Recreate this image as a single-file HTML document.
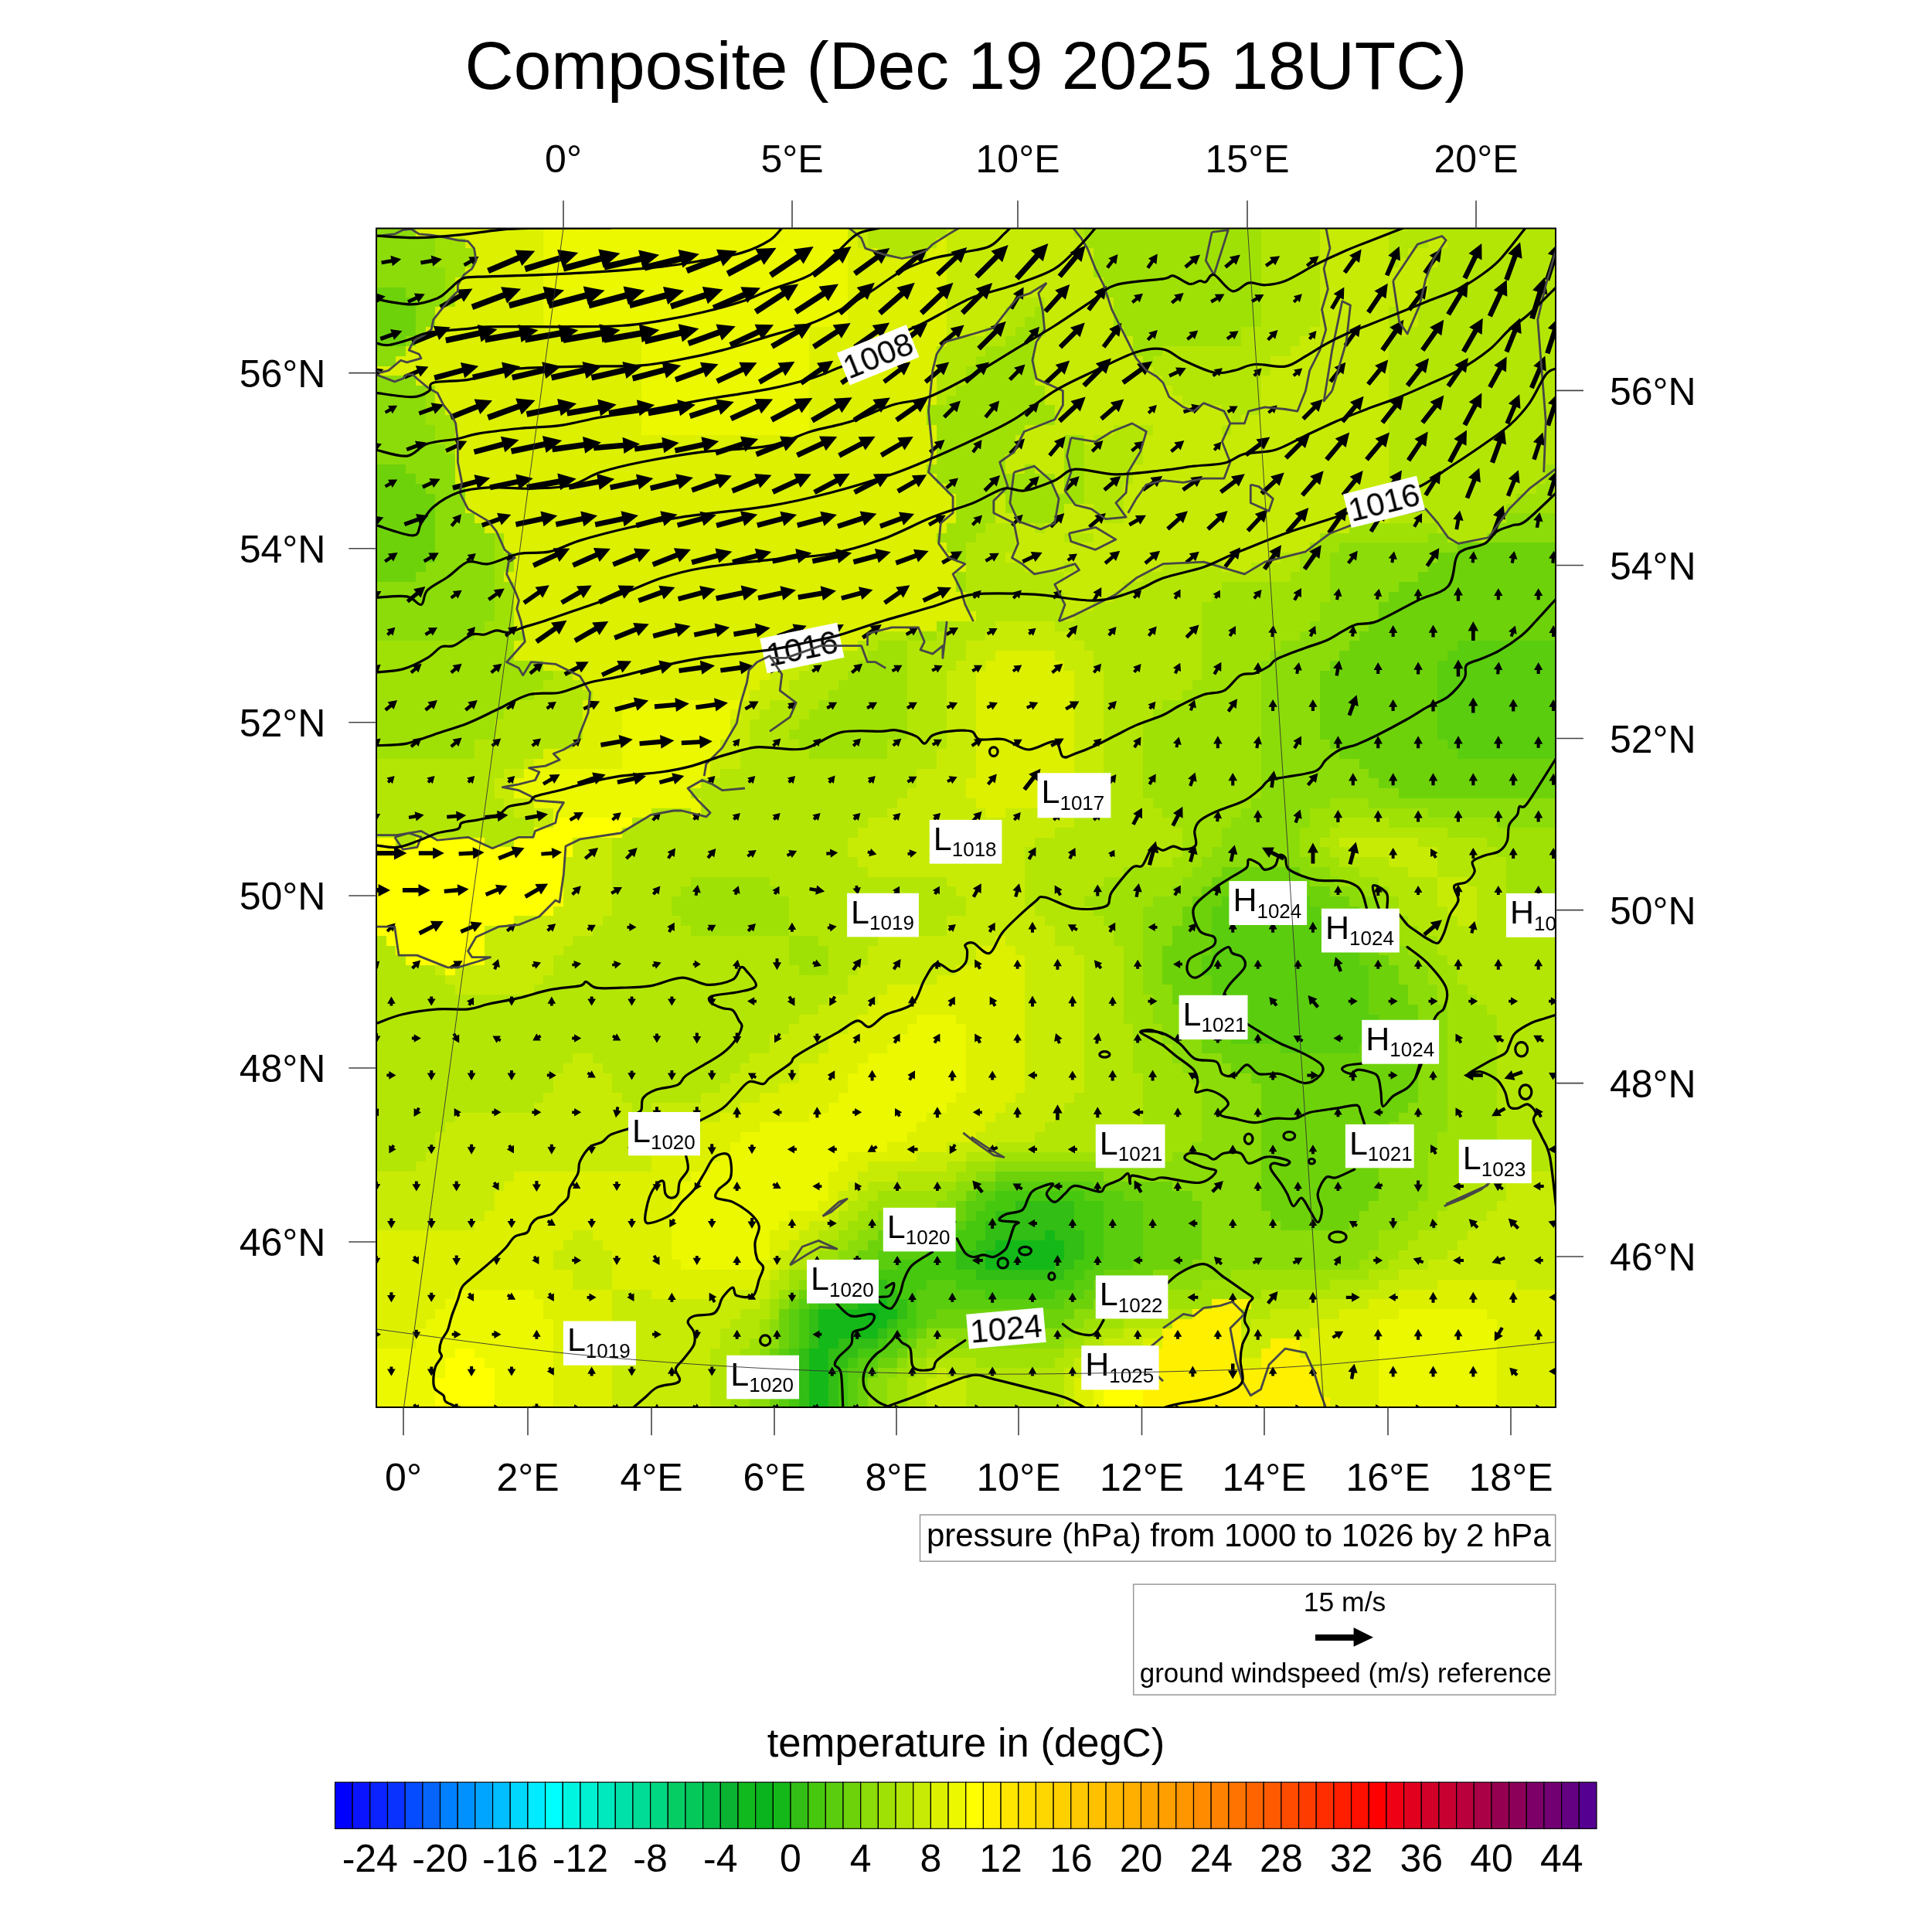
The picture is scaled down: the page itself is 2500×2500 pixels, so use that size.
<!DOCTYPE html><html><head><meta charset="utf-8"><style>html,body{margin:0;padding:0;background:#fff;width:2500px;height:2500px;overflow:hidden}svg{display:block}text{font-family:"Liberation Sans", sans-serif;will-change:transform}</style></head><body>
<svg width="2500" height="2500" viewBox="0 0 2500 2500">
<rect width="2500" height="2500" fill="#fff"/>
<text x="1250" y="115" font-size="87.4" text-anchor="middle">Composite (Dec 19 2025 18UTC)</text>
<defs><clipPath id="mc"><rect x="487.0" y="295.5" width="1526.0" height="1525.5"/></clipPath></defs>
<g clip-path="url(#mc)" shape-rendering="crispEdges">
<rect x="487.0" y="295.5" width="51.5" height="13.3" fill="#8cdc0a"/>
<rect x="537.9" y="295.5" width="165.9" height="13.3" fill="#dcf000"/>
<rect x="703.2" y="295.5" width="394.8" height="13.3" fill="#ebf800"/>
<rect x="1097.4" y="295.5" width="26.0" height="13.3" fill="#c8eb05"/>
<rect x="1122.8" y="295.5" width="102.3" height="13.3" fill="#b4e605"/>
<rect x="1224.6" y="295.5" width="165.9" height="13.3" fill="#c8eb05"/>
<rect x="1389.9" y="295.5" width="13.3" height="13.3" fill="#b4e605"/>
<rect x="1402.6" y="295.5" width="229.5" height="13.3" fill="#a0e105"/>
<rect x="1631.5" y="295.5" width="76.9" height="13.3" fill="#b4e605"/>
<rect x="1707.8" y="295.5" width="89.6" height="13.3" fill="#c8eb05"/>
<rect x="1796.8" y="295.5" width="216.8" height="13.3" fill="#b4e605"/>
<rect x="487.0" y="308.2" width="76.9" height="13.3" fill="#8cdc0a"/>
<rect x="563.3" y="308.2" width="38.8" height="13.3" fill="#a0e105"/>
<rect x="601.5" y="308.2" width="102.3" height="13.3" fill="#dcf000"/>
<rect x="703.2" y="308.2" width="394.8" height="13.3" fill="#ebf800"/>
<rect x="1097.4" y="308.2" width="13.3" height="13.3" fill="#dcf000"/>
<rect x="1110.1" y="308.2" width="13.3" height="13.3" fill="#c8eb05"/>
<rect x="1122.8" y="308.2" width="89.6" height="13.3" fill="#b4e605"/>
<rect x="1211.8" y="308.2" width="13.3" height="13.3" fill="#dcf000"/>
<rect x="1224.6" y="308.2" width="178.6" height="13.3" fill="#c8eb05"/>
<rect x="1402.6" y="308.2" width="229.5" height="13.3" fill="#a0e105"/>
<rect x="1631.5" y="308.2" width="76.9" height="13.3" fill="#b4e605"/>
<rect x="1707.8" y="308.2" width="89.6" height="13.3" fill="#c8eb05"/>
<rect x="1796.8" y="308.2" width="51.5" height="13.3" fill="#b4e605"/>
<rect x="1847.7" y="308.2" width="26.0" height="13.3" fill="#c8eb05"/>
<rect x="1873.1" y="308.2" width="140.5" height="13.3" fill="#b4e605"/>
<rect x="487.0" y="320.9" width="76.9" height="13.3" fill="#8cdc0a"/>
<rect x="563.3" y="320.9" width="51.5" height="13.3" fill="#a0e105"/>
<rect x="614.2" y="320.9" width="89.6" height="13.3" fill="#dcf000"/>
<rect x="703.2" y="320.9" width="394.8" height="13.3" fill="#ebf800"/>
<rect x="1097.4" y="320.9" width="38.8" height="13.3" fill="#dcf000"/>
<rect x="1135.5" y="320.9" width="64.2" height="13.3" fill="#b4e605"/>
<rect x="1199.1" y="320.9" width="26.0" height="13.3" fill="#dcf000"/>
<rect x="1224.6" y="320.9" width="191.3" height="13.3" fill="#c8eb05"/>
<rect x="1415.3" y="320.9" width="216.8" height="13.3" fill="#a0e105"/>
<rect x="1631.5" y="320.9" width="76.9" height="13.3" fill="#b4e605"/>
<rect x="1707.8" y="320.9" width="89.6" height="13.3" fill="#c8eb05"/>
<rect x="1796.8" y="320.9" width="26.0" height="13.3" fill="#b4e605"/>
<rect x="1822.2" y="320.9" width="38.8" height="13.3" fill="#c8eb05"/>
<rect x="1860.4" y="320.9" width="153.2" height="13.3" fill="#b4e605"/>
<rect x="487.0" y="333.6" width="76.9" height="13.3" fill="#8cdc0a"/>
<rect x="563.3" y="333.6" width="51.5" height="13.3" fill="#a0e105"/>
<rect x="614.2" y="333.6" width="89.6" height="13.3" fill="#dcf000"/>
<rect x="703.2" y="333.6" width="394.8" height="13.3" fill="#ebf800"/>
<rect x="1097.4" y="333.6" width="127.8" height="13.3" fill="#dcf000"/>
<rect x="1224.6" y="333.6" width="191.3" height="13.3" fill="#c8eb05"/>
<rect x="1415.3" y="333.6" width="216.8" height="13.3" fill="#a0e105"/>
<rect x="1631.5" y="333.6" width="76.9" height="13.3" fill="#b4e605"/>
<rect x="1707.8" y="333.6" width="89.6" height="13.3" fill="#c8eb05"/>
<rect x="1796.8" y="333.6" width="13.3" height="13.3" fill="#b4e605"/>
<rect x="1809.5" y="333.6" width="51.5" height="13.3" fill="#c8eb05"/>
<rect x="1860.4" y="333.6" width="153.2" height="13.3" fill="#b4e605"/>
<rect x="487.0" y="346.4" width="89.6" height="13.3" fill="#8cdc0a"/>
<rect x="576.0" y="346.4" width="26.0" height="13.3" fill="#a0e105"/>
<rect x="601.5" y="346.4" width="102.3" height="13.3" fill="#dcf000"/>
<rect x="703.2" y="346.4" width="394.8" height="13.3" fill="#ebf800"/>
<rect x="1097.4" y="346.4" width="127.8" height="13.3" fill="#dcf000"/>
<rect x="1224.6" y="346.4" width="191.3" height="13.3" fill="#c8eb05"/>
<rect x="1415.3" y="346.4" width="216.8" height="13.3" fill="#a0e105"/>
<rect x="1631.5" y="346.4" width="76.9" height="13.3" fill="#b4e605"/>
<rect x="1707.8" y="346.4" width="140.5" height="13.3" fill="#c8eb05"/>
<rect x="1847.7" y="346.4" width="165.9" height="13.3" fill="#b4e605"/>
<rect x="487.0" y="359.1" width="89.6" height="13.3" fill="#8cdc0a"/>
<rect x="576.0" y="359.1" width="13.3" height="13.3" fill="#a0e105"/>
<rect x="588.7" y="359.1" width="115.0" height="13.3" fill="#dcf000"/>
<rect x="703.2" y="359.1" width="394.8" height="13.3" fill="#ebf800"/>
<rect x="1097.4" y="359.1" width="127.8" height="13.3" fill="#dcf000"/>
<rect x="1224.6" y="359.1" width="204.1" height="13.3" fill="#c8eb05"/>
<rect x="1428.0" y="359.1" width="204.1" height="13.3" fill="#a0e105"/>
<rect x="1631.5" y="359.1" width="76.9" height="13.3" fill="#b4e605"/>
<rect x="1707.8" y="359.1" width="140.5" height="13.3" fill="#c8eb05"/>
<rect x="1847.7" y="359.1" width="165.9" height="13.3" fill="#b4e605"/>
<rect x="487.0" y="371.8" width="38.8" height="13.3" fill="#6ed20a"/>
<rect x="525.1" y="371.8" width="51.5" height="13.3" fill="#8cdc0a"/>
<rect x="576.0" y="371.8" width="13.3" height="13.3" fill="#a0e105"/>
<rect x="588.7" y="371.8" width="115.0" height="13.3" fill="#dcf000"/>
<rect x="703.2" y="371.8" width="394.8" height="13.3" fill="#ebf800"/>
<rect x="1097.4" y="371.8" width="127.8" height="13.3" fill="#dcf000"/>
<rect x="1224.6" y="371.8" width="204.1" height="13.3" fill="#c8eb05"/>
<rect x="1428.0" y="371.8" width="204.1" height="13.3" fill="#a0e105"/>
<rect x="1631.5" y="371.8" width="76.9" height="13.3" fill="#b4e605"/>
<rect x="1707.8" y="371.8" width="140.5" height="13.3" fill="#c8eb05"/>
<rect x="1847.7" y="371.8" width="165.9" height="13.3" fill="#b4e605"/>
<rect x="487.0" y="384.5" width="51.5" height="13.3" fill="#6ed20a"/>
<rect x="537.9" y="384.5" width="38.8" height="13.3" fill="#8cdc0a"/>
<rect x="576.0" y="384.5" width="13.3" height="13.3" fill="#a0e105"/>
<rect x="588.7" y="384.5" width="115.0" height="13.3" fill="#dcf000"/>
<rect x="703.2" y="384.5" width="394.8" height="13.3" fill="#ebf800"/>
<rect x="1097.4" y="384.5" width="127.8" height="13.3" fill="#dcf000"/>
<rect x="1224.6" y="384.5" width="89.6" height="13.3" fill="#c8eb05"/>
<rect x="1313.6" y="384.5" width="38.8" height="13.3" fill="#b4e605"/>
<rect x="1351.7" y="384.5" width="89.6" height="13.3" fill="#c8eb05"/>
<rect x="1440.8" y="384.5" width="191.3" height="13.3" fill="#a0e105"/>
<rect x="1631.5" y="384.5" width="76.9" height="13.3" fill="#b4e605"/>
<rect x="1707.8" y="384.5" width="127.8" height="13.3" fill="#c8eb05"/>
<rect x="1835.0" y="384.5" width="178.6" height="13.3" fill="#b4e605"/>
<rect x="487.0" y="397.2" width="51.5" height="13.3" fill="#6ed20a"/>
<rect x="537.9" y="397.2" width="26.0" height="13.3" fill="#8cdc0a"/>
<rect x="563.3" y="397.2" width="140.5" height="13.3" fill="#dcf000"/>
<rect x="703.2" y="397.2" width="394.8" height="13.3" fill="#ebf800"/>
<rect x="1097.4" y="397.2" width="127.8" height="13.3" fill="#dcf000"/>
<rect x="1224.6" y="397.2" width="76.9" height="13.3" fill="#c8eb05"/>
<rect x="1300.9" y="397.2" width="38.8" height="13.3" fill="#b4e605"/>
<rect x="1339.0" y="397.2" width="13.3" height="13.3" fill="#a0e105"/>
<rect x="1351.7" y="397.2" width="89.6" height="13.3" fill="#c8eb05"/>
<rect x="1440.8" y="397.2" width="191.3" height="13.3" fill="#a0e105"/>
<rect x="1631.5" y="397.2" width="76.9" height="13.3" fill="#b4e605"/>
<rect x="1707.8" y="397.2" width="89.6" height="13.3" fill="#c8eb05"/>
<rect x="1796.8" y="397.2" width="13.3" height="13.3" fill="#b4e605"/>
<rect x="1809.5" y="397.2" width="26.0" height="13.3" fill="#c8eb05"/>
<rect x="1835.0" y="397.2" width="178.6" height="13.3" fill="#b4e605"/>
<rect x="487.0" y="409.9" width="51.5" height="13.3" fill="#6ed20a"/>
<rect x="537.9" y="409.9" width="26.0" height="13.3" fill="#8cdc0a"/>
<rect x="563.3" y="409.9" width="140.5" height="13.3" fill="#dcf000"/>
<rect x="703.2" y="409.9" width="394.8" height="13.3" fill="#ebf800"/>
<rect x="1097.4" y="409.9" width="127.8" height="13.3" fill="#dcf000"/>
<rect x="1224.6" y="409.9" width="76.9" height="13.3" fill="#c8eb05"/>
<rect x="1300.9" y="409.9" width="26.0" height="13.3" fill="#b4e605"/>
<rect x="1326.3" y="409.9" width="26.0" height="13.3" fill="#a0e105"/>
<rect x="1351.7" y="409.9" width="89.6" height="13.3" fill="#c8eb05"/>
<rect x="1440.8" y="409.9" width="191.3" height="13.3" fill="#a0e105"/>
<rect x="1631.5" y="409.9" width="76.9" height="13.3" fill="#b4e605"/>
<rect x="1707.8" y="409.9" width="89.6" height="13.3" fill="#c8eb05"/>
<rect x="1796.8" y="409.9" width="13.3" height="13.3" fill="#b4e605"/>
<rect x="1809.5" y="409.9" width="26.0" height="13.3" fill="#c8eb05"/>
<rect x="1835.0" y="409.9" width="178.6" height="13.3" fill="#b4e605"/>
<rect x="487.0" y="422.6" width="51.5" height="13.3" fill="#6ed20a"/>
<rect x="537.9" y="422.6" width="13.3" height="13.3" fill="#8cdc0a"/>
<rect x="550.6" y="422.6" width="280.4" height="13.3" fill="#dcf000"/>
<rect x="830.4" y="422.6" width="216.8" height="13.3" fill="#ebf800"/>
<rect x="1046.5" y="422.6" width="178.6" height="13.3" fill="#dcf000"/>
<rect x="1224.6" y="422.6" width="51.5" height="13.3" fill="#c8eb05"/>
<rect x="1275.4" y="422.6" width="38.8" height="13.3" fill="#b4e605"/>
<rect x="1313.6" y="422.6" width="38.8" height="13.3" fill="#a0e105"/>
<rect x="1351.7" y="422.6" width="102.3" height="13.3" fill="#c8eb05"/>
<rect x="1453.5" y="422.6" width="153.2" height="13.3" fill="#a0e105"/>
<rect x="1606.1" y="422.6" width="89.6" height="13.3" fill="#b4e605"/>
<rect x="1695.1" y="422.6" width="102.3" height="13.3" fill="#c8eb05"/>
<rect x="1796.8" y="422.6" width="13.3" height="13.3" fill="#b4e605"/>
<rect x="1809.5" y="422.6" width="13.3" height="13.3" fill="#c8eb05"/>
<rect x="1822.2" y="422.6" width="191.3" height="13.3" fill="#b4e605"/>
<rect x="487.0" y="435.3" width="38.8" height="13.3" fill="#6ed20a"/>
<rect x="525.1" y="435.3" width="13.3" height="13.3" fill="#8cdc0a"/>
<rect x="537.9" y="435.3" width="293.1" height="13.3" fill="#dcf000"/>
<rect x="830.4" y="435.3" width="216.8" height="13.3" fill="#ebf800"/>
<rect x="1046.5" y="435.3" width="178.6" height="13.3" fill="#dcf000"/>
<rect x="1224.6" y="435.3" width="76.9" height="13.3" fill="#b4e605"/>
<rect x="1300.9" y="435.3" width="38.8" height="13.3" fill="#a0e105"/>
<rect x="1339.0" y="435.3" width="127.8" height="13.3" fill="#c8eb05"/>
<rect x="1466.2" y="435.3" width="140.5" height="13.3" fill="#a0e105"/>
<rect x="1606.1" y="435.3" width="76.9" height="13.3" fill="#b4e605"/>
<rect x="1682.4" y="435.3" width="115.0" height="13.3" fill="#c8eb05"/>
<rect x="1796.8" y="435.3" width="216.8" height="13.3" fill="#b4e605"/>
<rect x="487.0" y="448.1" width="38.8" height="13.3" fill="#8cdc0a"/>
<rect x="525.1" y="448.1" width="305.8" height="13.3" fill="#dcf000"/>
<rect x="830.4" y="448.1" width="216.8" height="13.3" fill="#ebf800"/>
<rect x="1046.5" y="448.1" width="165.9" height="13.3" fill="#dcf000"/>
<rect x="1211.8" y="448.1" width="64.2" height="13.3" fill="#b4e605"/>
<rect x="1275.4" y="448.1" width="64.2" height="13.3" fill="#a0e105"/>
<rect x="1339.0" y="448.1" width="127.8" height="13.3" fill="#c8eb05"/>
<rect x="1466.2" y="448.1" width="38.8" height="13.3" fill="#a0e105"/>
<rect x="1504.3" y="448.1" width="165.9" height="13.3" fill="#b4e605"/>
<rect x="1669.7" y="448.1" width="127.8" height="13.3" fill="#c8eb05"/>
<rect x="1796.8" y="448.1" width="216.8" height="13.3" fill="#b4e605"/>
<rect x="487.0" y="460.8" width="26.0" height="13.3" fill="#8cdc0a"/>
<rect x="512.4" y="460.8" width="318.5" height="13.3" fill="#dcf000"/>
<rect x="830.4" y="460.8" width="216.8" height="13.3" fill="#ebf800"/>
<rect x="1046.5" y="460.8" width="165.9" height="13.3" fill="#dcf000"/>
<rect x="1211.8" y="460.8" width="51.5" height="13.3" fill="#b4e605"/>
<rect x="1262.7" y="460.8" width="76.9" height="13.3" fill="#a0e105"/>
<rect x="1339.0" y="460.8" width="140.5" height="13.3" fill="#c8eb05"/>
<rect x="1478.9" y="460.8" width="13.3" height="13.3" fill="#a0e105"/>
<rect x="1491.6" y="460.8" width="153.2" height="13.3" fill="#b4e605"/>
<rect x="1644.2" y="460.8" width="153.2" height="13.3" fill="#c8eb05"/>
<rect x="1796.8" y="460.8" width="216.8" height="13.3" fill="#b4e605"/>
<rect x="487.0" y="473.5" width="344.0" height="13.3" fill="#dcf000"/>
<rect x="830.4" y="473.5" width="216.8" height="13.3" fill="#ebf800"/>
<rect x="1046.5" y="473.5" width="165.9" height="13.3" fill="#dcf000"/>
<rect x="1211.8" y="473.5" width="38.8" height="13.3" fill="#b4e605"/>
<rect x="1250.0" y="473.5" width="89.6" height="13.3" fill="#a0e105"/>
<rect x="1339.0" y="473.5" width="153.2" height="13.3" fill="#c8eb05"/>
<rect x="1491.6" y="473.5" width="153.2" height="13.3" fill="#b4e605"/>
<rect x="1644.2" y="473.5" width="153.2" height="13.3" fill="#c8eb05"/>
<rect x="1796.8" y="473.5" width="216.8" height="13.3" fill="#b4e605"/>
<rect x="487.0" y="486.2" width="51.5" height="13.3" fill="#8cdc0a"/>
<rect x="537.9" y="486.2" width="293.1" height="13.3" fill="#dcf000"/>
<rect x="830.4" y="486.2" width="216.8" height="13.3" fill="#ebf800"/>
<rect x="1046.5" y="486.2" width="165.9" height="13.3" fill="#dcf000"/>
<rect x="1211.8" y="486.2" width="38.8" height="13.3" fill="#b4e605"/>
<rect x="1250.0" y="486.2" width="89.6" height="13.3" fill="#a0e105"/>
<rect x="1339.0" y="486.2" width="165.9" height="13.3" fill="#c8eb05"/>
<rect x="1504.3" y="486.2" width="127.8" height="13.3" fill="#b4e605"/>
<rect x="1631.5" y="486.2" width="165.9" height="13.3" fill="#c8eb05"/>
<rect x="1796.8" y="486.2" width="216.8" height="13.3" fill="#b4e605"/>
<rect x="487.0" y="498.9" width="64.2" height="13.3" fill="#8cdc0a"/>
<rect x="550.6" y="498.9" width="13.3" height="13.3" fill="#a0e105"/>
<rect x="563.3" y="498.9" width="267.7" height="13.3" fill="#dcf000"/>
<rect x="830.4" y="498.9" width="216.8" height="13.3" fill="#ebf800"/>
<rect x="1046.5" y="498.9" width="165.9" height="13.3" fill="#dcf000"/>
<rect x="1211.8" y="498.9" width="26.0" height="13.3" fill="#b4e605"/>
<rect x="1237.3" y="498.9" width="115.0" height="13.3" fill="#a0e105"/>
<rect x="1351.7" y="498.9" width="165.9" height="13.3" fill="#c8eb05"/>
<rect x="1517.0" y="498.9" width="115.0" height="13.3" fill="#b4e605"/>
<rect x="1631.5" y="498.9" width="165.9" height="13.3" fill="#c8eb05"/>
<rect x="1796.8" y="498.9" width="216.8" height="13.3" fill="#b4e605"/>
<rect x="487.0" y="511.6" width="64.2" height="13.3" fill="#8cdc0a"/>
<rect x="550.6" y="511.6" width="13.3" height="13.3" fill="#a0e105"/>
<rect x="563.3" y="511.6" width="267.7" height="13.3" fill="#dcf000"/>
<rect x="830.4" y="511.6" width="216.8" height="13.3" fill="#ebf800"/>
<rect x="1046.5" y="511.6" width="165.9" height="13.3" fill="#dcf000"/>
<rect x="1211.8" y="511.6" width="13.3" height="13.3" fill="#b4e605"/>
<rect x="1224.6" y="511.6" width="127.8" height="13.3" fill="#a0e105"/>
<rect x="1351.7" y="511.6" width="178.6" height="13.3" fill="#c8eb05"/>
<rect x="1529.8" y="511.6" width="102.3" height="13.3" fill="#b4e605"/>
<rect x="1631.5" y="511.6" width="165.9" height="13.3" fill="#c8eb05"/>
<rect x="1796.8" y="511.6" width="216.8" height="13.3" fill="#b4e605"/>
<rect x="487.0" y="524.3" width="64.2" height="13.3" fill="#8cdc0a"/>
<rect x="550.6" y="524.3" width="26.0" height="13.3" fill="#a0e105"/>
<rect x="576.0" y="524.3" width="254.9" height="13.3" fill="#dcf000"/>
<rect x="830.4" y="524.3" width="216.8" height="13.3" fill="#ebf800"/>
<rect x="1046.5" y="524.3" width="153.2" height="13.3" fill="#dcf000"/>
<rect x="1199.1" y="524.3" width="165.9" height="13.3" fill="#a0e105"/>
<rect x="1364.5" y="524.3" width="216.8" height="13.3" fill="#c8eb05"/>
<rect x="1580.6" y="524.3" width="51.5" height="13.3" fill="#b4e605"/>
<rect x="1631.5" y="524.3" width="165.9" height="13.3" fill="#c8eb05"/>
<rect x="1796.8" y="524.3" width="216.8" height="13.3" fill="#b4e605"/>
<rect x="487.0" y="537.0" width="64.2" height="13.3" fill="#8cdc0a"/>
<rect x="550.6" y="537.0" width="38.8" height="13.3" fill="#a0e105"/>
<rect x="588.7" y="537.0" width="242.2" height="13.3" fill="#dcf000"/>
<rect x="830.4" y="537.0" width="216.8" height="13.3" fill="#ebf800"/>
<rect x="1046.5" y="537.0" width="153.2" height="13.3" fill="#dcf000"/>
<rect x="1199.1" y="537.0" width="165.9" height="13.3" fill="#a0e105"/>
<rect x="1364.5" y="537.0" width="229.5" height="13.3" fill="#c8eb05"/>
<rect x="1593.3" y="537.0" width="13.3" height="13.3" fill="#b4e605"/>
<rect x="1606.1" y="537.0" width="191.3" height="13.3" fill="#c8eb05"/>
<rect x="1796.8" y="537.0" width="216.8" height="13.3" fill="#b4e605"/>
<rect x="487.0" y="549.8" width="76.9" height="13.3" fill="#8cdc0a"/>
<rect x="563.3" y="549.8" width="26.0" height="13.3" fill="#a0e105"/>
<rect x="588.7" y="549.8" width="242.2" height="13.3" fill="#dcf000"/>
<rect x="830.4" y="549.8" width="216.8" height="13.3" fill="#ebf800"/>
<rect x="1046.5" y="549.8" width="165.9" height="13.3" fill="#dcf000"/>
<rect x="1211.8" y="549.8" width="115.0" height="13.3" fill="#a0e105"/>
<rect x="1326.3" y="549.8" width="115.0" height="13.3" fill="#c8eb05"/>
<rect x="1440.8" y="549.8" width="51.5" height="13.3" fill="#b4e605"/>
<rect x="1491.6" y="549.8" width="89.6" height="13.3" fill="#c8eb05"/>
<rect x="1580.6" y="549.8" width="13.3" height="13.3" fill="#b4e605"/>
<rect x="1593.3" y="549.8" width="204.1" height="13.3" fill="#c8eb05"/>
<rect x="1796.8" y="549.8" width="216.8" height="13.3" fill="#b4e605"/>
<rect x="487.0" y="562.5" width="76.9" height="13.3" fill="#8cdc0a"/>
<rect x="563.3" y="562.5" width="26.0" height="13.3" fill="#a0e105"/>
<rect x="588.7" y="562.5" width="623.7" height="13.3" fill="#dcf000"/>
<rect x="1211.8" y="562.5" width="102.3" height="13.3" fill="#a0e105"/>
<rect x="1313.6" y="562.5" width="64.2" height="13.3" fill="#c8eb05"/>
<rect x="1377.2" y="562.5" width="26.0" height="13.3" fill="#a0e105"/>
<rect x="1402.6" y="562.5" width="13.3" height="13.3" fill="#c8eb05"/>
<rect x="1415.3" y="562.5" width="64.2" height="13.3" fill="#b4e605"/>
<rect x="1478.9" y="562.5" width="318.5" height="13.3" fill="#c8eb05"/>
<rect x="1796.8" y="562.5" width="216.8" height="13.3" fill="#b4e605"/>
<rect x="487.0" y="575.2" width="89.6" height="13.3" fill="#8cdc0a"/>
<rect x="576.0" y="575.2" width="13.3" height="13.3" fill="#a0e105"/>
<rect x="588.7" y="575.2" width="623.7" height="13.3" fill="#dcf000"/>
<rect x="1211.8" y="575.2" width="102.3" height="13.3" fill="#a0e105"/>
<rect x="1313.6" y="575.2" width="64.2" height="13.3" fill="#c8eb05"/>
<rect x="1377.2" y="575.2" width="26.0" height="13.3" fill="#a0e105"/>
<rect x="1402.6" y="575.2" width="76.9" height="13.3" fill="#b4e605"/>
<rect x="1478.9" y="575.2" width="318.5" height="13.3" fill="#c8eb05"/>
<rect x="1796.8" y="575.2" width="216.8" height="13.3" fill="#b4e605"/>
<rect x="487.0" y="587.9" width="102.3" height="13.3" fill="#8cdc0a"/>
<rect x="588.7" y="587.9" width="623.7" height="13.3" fill="#dcf000"/>
<rect x="1211.8" y="587.9" width="89.6" height="13.3" fill="#a0e105"/>
<rect x="1300.9" y="587.9" width="76.9" height="13.3" fill="#c8eb05"/>
<rect x="1377.2" y="587.9" width="26.0" height="13.3" fill="#a0e105"/>
<rect x="1402.6" y="587.9" width="76.9" height="13.3" fill="#b4e605"/>
<rect x="1478.9" y="587.9" width="318.5" height="13.3" fill="#c8eb05"/>
<rect x="1796.8" y="587.9" width="216.8" height="13.3" fill="#b4e605"/>
<rect x="487.0" y="600.6" width="38.8" height="13.3" fill="#6ed20a"/>
<rect x="525.1" y="600.6" width="64.2" height="13.3" fill="#8cdc0a"/>
<rect x="588.7" y="600.6" width="611.0" height="13.3" fill="#dcf000"/>
<rect x="1199.1" y="600.6" width="102.3" height="13.3" fill="#a0e105"/>
<rect x="1300.9" y="600.6" width="26.0" height="13.3" fill="#c8eb05"/>
<rect x="1326.3" y="600.6" width="13.3" height="13.3" fill="#a0e105"/>
<rect x="1339.0" y="600.6" width="38.8" height="13.3" fill="#c8eb05"/>
<rect x="1377.2" y="600.6" width="26.0" height="13.3" fill="#a0e105"/>
<rect x="1402.6" y="600.6" width="64.2" height="13.3" fill="#b4e605"/>
<rect x="1466.2" y="600.6" width="331.2" height="13.3" fill="#c8eb05"/>
<rect x="1796.8" y="600.6" width="204.1" height="13.3" fill="#b4e605"/>
<rect x="2000.3" y="600.6" width="13.3" height="13.3" fill="#a0e105"/>
<rect x="487.0" y="613.3" width="51.5" height="13.3" fill="#6ed20a"/>
<rect x="537.9" y="613.3" width="51.5" height="13.3" fill="#8cdc0a"/>
<rect x="588.7" y="613.3" width="623.7" height="13.3" fill="#dcf000"/>
<rect x="1211.8" y="613.3" width="153.2" height="13.3" fill="#a0e105"/>
<rect x="1364.5" y="613.3" width="13.3" height="13.3" fill="#c8eb05"/>
<rect x="1377.2" y="613.3" width="26.0" height="13.3" fill="#a0e105"/>
<rect x="1402.6" y="613.3" width="64.2" height="13.3" fill="#b4e605"/>
<rect x="1466.2" y="613.3" width="331.2" height="13.3" fill="#c8eb05"/>
<rect x="1796.8" y="613.3" width="204.1" height="13.3" fill="#b4e605"/>
<rect x="2000.3" y="613.3" width="13.3" height="13.3" fill="#a0e105"/>
<rect x="487.0" y="626.0" width="64.2" height="13.3" fill="#6ed20a"/>
<rect x="550.6" y="626.0" width="51.5" height="13.3" fill="#8cdc0a"/>
<rect x="601.5" y="626.0" width="623.7" height="13.3" fill="#dcf000"/>
<rect x="1224.6" y="626.0" width="140.5" height="13.3" fill="#a0e105"/>
<rect x="1364.5" y="626.0" width="13.3" height="13.3" fill="#c8eb05"/>
<rect x="1377.2" y="626.0" width="26.0" height="13.3" fill="#a0e105"/>
<rect x="1402.6" y="626.0" width="51.5" height="13.3" fill="#b4e605"/>
<rect x="1453.5" y="626.0" width="344.0" height="13.3" fill="#c8eb05"/>
<rect x="1796.8" y="626.0" width="191.3" height="13.3" fill="#b4e605"/>
<rect x="1987.6" y="626.0" width="26.0" height="13.3" fill="#a0e105"/>
<rect x="487.0" y="638.7" width="76.9" height="13.3" fill="#6ed20a"/>
<rect x="563.3" y="638.7" width="38.8" height="13.3" fill="#8cdc0a"/>
<rect x="601.5" y="638.7" width="636.4" height="13.3" fill="#dcf000"/>
<rect x="1237.3" y="638.7" width="51.5" height="13.3" fill="#a0e105"/>
<rect x="1288.2" y="638.7" width="13.3" height="13.3" fill="#c8eb05"/>
<rect x="1300.9" y="638.7" width="102.3" height="13.3" fill="#a0e105"/>
<rect x="1402.6" y="638.7" width="51.5" height="13.3" fill="#b4e605"/>
<rect x="1453.5" y="638.7" width="344.0" height="13.3" fill="#c8eb05"/>
<rect x="1796.8" y="638.7" width="165.9" height="13.3" fill="#b4e605"/>
<rect x="1962.1" y="638.7" width="51.5" height="13.3" fill="#a0e105"/>
<rect x="487.0" y="651.5" width="76.9" height="13.3" fill="#6ed20a"/>
<rect x="563.3" y="651.5" width="38.8" height="13.3" fill="#8cdc0a"/>
<rect x="601.5" y="651.5" width="636.4" height="13.3" fill="#dcf000"/>
<rect x="1237.3" y="651.5" width="51.5" height="13.3" fill="#a0e105"/>
<rect x="1288.2" y="651.5" width="13.3" height="13.3" fill="#c8eb05"/>
<rect x="1300.9" y="651.5" width="76.9" height="13.3" fill="#a0e105"/>
<rect x="1377.2" y="651.5" width="38.8" height="13.3" fill="#c8eb05"/>
<rect x="1415.3" y="651.5" width="38.8" height="13.3" fill="#b4e605"/>
<rect x="1453.5" y="651.5" width="344.0" height="13.3" fill="#c8eb05"/>
<rect x="1796.8" y="651.5" width="153.2" height="13.3" fill="#b4e605"/>
<rect x="1949.4" y="651.5" width="64.2" height="13.3" fill="#a0e105"/>
<rect x="487.0" y="664.2" width="76.9" height="13.3" fill="#6ed20a"/>
<rect x="563.3" y="664.2" width="51.5" height="13.3" fill="#8cdc0a"/>
<rect x="614.2" y="664.2" width="623.7" height="13.3" fill="#dcf000"/>
<rect x="1237.3" y="664.2" width="51.5" height="13.3" fill="#a0e105"/>
<rect x="1288.2" y="664.2" width="26.0" height="13.3" fill="#c8eb05"/>
<rect x="1313.6" y="664.2" width="51.5" height="13.3" fill="#a0e105"/>
<rect x="1364.5" y="664.2" width="64.2" height="13.3" fill="#c8eb05"/>
<rect x="1428.0" y="664.2" width="26.0" height="13.3" fill="#b4e605"/>
<rect x="1453.5" y="664.2" width="344.0" height="13.3" fill="#c8eb05"/>
<rect x="1796.8" y="664.2" width="153.2" height="13.3" fill="#b4e605"/>
<rect x="1949.4" y="664.2" width="64.2" height="13.3" fill="#8cdc0a"/>
<rect x="487.0" y="676.9" width="76.9" height="13.3" fill="#6ed20a"/>
<rect x="563.3" y="676.9" width="64.2" height="13.3" fill="#8cdc0a"/>
<rect x="626.9" y="676.9" width="598.3" height="13.3" fill="#dcf000"/>
<rect x="1224.6" y="676.9" width="51.5" height="13.3" fill="#a0e105"/>
<rect x="1275.4" y="676.9" width="38.8" height="13.3" fill="#b4e605"/>
<rect x="1313.6" y="676.9" width="26.0" height="13.3" fill="#c8eb05"/>
<rect x="1339.0" y="676.9" width="13.3" height="13.3" fill="#b4e605"/>
<rect x="1351.7" y="676.9" width="394.8" height="13.3" fill="#c8eb05"/>
<rect x="1746.0" y="676.9" width="115.0" height="13.3" fill="#a0e105"/>
<rect x="1860.4" y="676.9" width="76.9" height="13.3" fill="#b4e605"/>
<rect x="1936.7" y="676.9" width="76.9" height="13.3" fill="#8cdc0a"/>
<rect x="487.0" y="689.6" width="76.9" height="13.3" fill="#6ed20a"/>
<rect x="563.3" y="689.6" width="76.9" height="13.3" fill="#8cdc0a"/>
<rect x="639.6" y="689.6" width="13.3" height="13.3" fill="#a0e105"/>
<rect x="652.3" y="689.6" width="560.1" height="13.3" fill="#dcf000"/>
<rect x="1211.8" y="689.6" width="51.5" height="13.3" fill="#a0e105"/>
<rect x="1262.7" y="689.6" width="51.5" height="13.3" fill="#b4e605"/>
<rect x="1313.6" y="689.6" width="64.2" height="13.3" fill="#c8eb05"/>
<rect x="1377.2" y="689.6" width="38.8" height="13.3" fill="#b4e605"/>
<rect x="1415.3" y="689.6" width="293.1" height="13.3" fill="#c8eb05"/>
<rect x="1707.8" y="689.6" width="140.5" height="13.3" fill="#a0e105"/>
<rect x="1847.7" y="689.6" width="26.0" height="13.3" fill="#8cdc0a"/>
<rect x="1873.1" y="689.6" width="51.5" height="13.3" fill="#b4e605"/>
<rect x="1924.0" y="689.6" width="89.6" height="13.3" fill="#8cdc0a"/>
<rect x="487.0" y="702.3" width="76.9" height="13.3" fill="#6ed20a"/>
<rect x="563.3" y="702.3" width="76.9" height="13.3" fill="#8cdc0a"/>
<rect x="639.6" y="702.3" width="13.3" height="13.3" fill="#a0e105"/>
<rect x="652.3" y="702.3" width="572.9" height="13.3" fill="#dcf000"/>
<rect x="1224.6" y="702.3" width="26.0" height="13.3" fill="#a0e105"/>
<rect x="1250.0" y="702.3" width="64.2" height="13.3" fill="#b4e605"/>
<rect x="1313.6" y="702.3" width="382.1" height="13.3" fill="#c8eb05"/>
<rect x="1695.1" y="702.3" width="38.8" height="13.3" fill="#a0e105"/>
<rect x="1733.2" y="702.3" width="153.2" height="13.3" fill="#8cdc0a"/>
<rect x="1885.8" y="702.3" width="127.8" height="13.3" fill="#6ed20a"/>
<rect x="487.0" y="715.0" width="76.9" height="13.3" fill="#6ed20a"/>
<rect x="563.3" y="715.0" width="76.9" height="13.3" fill="#8cdc0a"/>
<rect x="639.6" y="715.0" width="26.0" height="13.3" fill="#a0e105"/>
<rect x="665.0" y="715.0" width="572.9" height="13.3" fill="#dcf000"/>
<rect x="1237.3" y="715.0" width="13.3" height="13.3" fill="#a0e105"/>
<rect x="1250.0" y="715.0" width="51.5" height="13.3" fill="#b4e605"/>
<rect x="1300.9" y="715.0" width="356.7" height="13.3" fill="#c8eb05"/>
<rect x="1656.9" y="715.0" width="26.0" height="13.3" fill="#b4e605"/>
<rect x="1682.4" y="715.0" width="38.8" height="13.3" fill="#a0e105"/>
<rect x="1720.5" y="715.0" width="140.5" height="13.3" fill="#8cdc0a"/>
<rect x="1860.4" y="715.0" width="153.2" height="13.3" fill="#6ed20a"/>
<rect x="487.0" y="727.7" width="64.2" height="13.3" fill="#6ed20a"/>
<rect x="550.6" y="727.7" width="89.6" height="13.3" fill="#8cdc0a"/>
<rect x="639.6" y="727.7" width="26.0" height="13.3" fill="#a0e105"/>
<rect x="665.0" y="727.7" width="585.6" height="13.3" fill="#dcf000"/>
<rect x="1250.0" y="727.7" width="76.9" height="13.3" fill="#b4e605"/>
<rect x="1326.3" y="727.7" width="51.5" height="13.3" fill="#c8eb05"/>
<rect x="1377.2" y="727.7" width="13.3" height="13.3" fill="#b4e605"/>
<rect x="1389.9" y="727.7" width="115.0" height="13.3" fill="#c8eb05"/>
<rect x="1504.3" y="727.7" width="76.9" height="13.3" fill="#b4e605"/>
<rect x="1580.6" y="727.7" width="38.8" height="13.3" fill="#c8eb05"/>
<rect x="1618.8" y="727.7" width="64.2" height="13.3" fill="#b4e605"/>
<rect x="1682.4" y="727.7" width="38.8" height="13.3" fill="#a0e105"/>
<rect x="1720.5" y="727.7" width="127.8" height="13.3" fill="#8cdc0a"/>
<rect x="1847.7" y="727.7" width="165.9" height="13.3" fill="#6ed20a"/>
<rect x="487.0" y="740.4" width="51.5" height="13.3" fill="#6ed20a"/>
<rect x="537.9" y="740.4" width="102.3" height="13.3" fill="#8cdc0a"/>
<rect x="639.6" y="740.4" width="13.3" height="13.3" fill="#a0e105"/>
<rect x="652.3" y="740.4" width="585.6" height="13.3" fill="#dcf000"/>
<rect x="1237.3" y="740.4" width="13.3" height="13.3" fill="#a0e105"/>
<rect x="1250.0" y="740.4" width="127.8" height="13.3" fill="#b4e605"/>
<rect x="1377.2" y="740.4" width="102.3" height="13.3" fill="#c8eb05"/>
<rect x="1478.9" y="740.4" width="191.3" height="13.3" fill="#b4e605"/>
<rect x="1669.7" y="740.4" width="51.5" height="13.3" fill="#a0e105"/>
<rect x="1720.5" y="740.4" width="115.0" height="13.3" fill="#8cdc0a"/>
<rect x="1835.0" y="740.4" width="178.6" height="13.3" fill="#6ed20a"/>
<rect x="487.0" y="753.2" width="153.2" height="13.3" fill="#8cdc0a"/>
<rect x="639.6" y="753.2" width="26.0" height="13.3" fill="#a0e105"/>
<rect x="665.0" y="753.2" width="572.9" height="13.3" fill="#dcf000"/>
<rect x="1237.3" y="753.2" width="13.3" height="13.3" fill="#a0e105"/>
<rect x="1250.0" y="753.2" width="115.0" height="13.3" fill="#b4e605"/>
<rect x="1364.5" y="753.2" width="89.6" height="13.3" fill="#c8eb05"/>
<rect x="1453.5" y="753.2" width="127.8" height="13.3" fill="#b4e605"/>
<rect x="1580.6" y="753.2" width="140.5" height="13.3" fill="#a0e105"/>
<rect x="1720.5" y="753.2" width="89.6" height="13.3" fill="#8cdc0a"/>
<rect x="1809.5" y="753.2" width="204.1" height="13.3" fill="#6ed20a"/>
<rect x="487.0" y="765.9" width="153.2" height="13.3" fill="#8cdc0a"/>
<rect x="639.6" y="765.9" width="26.0" height="13.3" fill="#a0e105"/>
<rect x="665.0" y="765.9" width="585.6" height="13.3" fill="#dcf000"/>
<rect x="1250.0" y="765.9" width="127.8" height="13.3" fill="#b4e605"/>
<rect x="1377.2" y="765.9" width="64.2" height="13.3" fill="#c8eb05"/>
<rect x="1440.8" y="765.9" width="127.8" height="13.3" fill="#b4e605"/>
<rect x="1567.9" y="765.9" width="153.2" height="13.3" fill="#a0e105"/>
<rect x="1720.5" y="765.9" width="76.9" height="13.3" fill="#8cdc0a"/>
<rect x="1796.8" y="765.9" width="216.8" height="13.3" fill="#6ed20a"/>
<rect x="487.0" y="778.6" width="153.2" height="13.3" fill="#8cdc0a"/>
<rect x="639.6" y="778.6" width="26.0" height="13.3" fill="#a0e105"/>
<rect x="665.0" y="778.6" width="585.6" height="13.3" fill="#dcf000"/>
<rect x="1250.0" y="778.6" width="127.8" height="13.3" fill="#b4e605"/>
<rect x="1377.2" y="778.6" width="38.8" height="13.3" fill="#c8eb05"/>
<rect x="1415.3" y="778.6" width="140.5" height="13.3" fill="#b4e605"/>
<rect x="1555.2" y="778.6" width="153.2" height="13.3" fill="#a0e105"/>
<rect x="1707.8" y="778.6" width="76.9" height="13.3" fill="#8cdc0a"/>
<rect x="1784.1" y="778.6" width="229.5" height="13.3" fill="#6ed20a"/>
<rect x="487.0" y="791.3" width="153.2" height="13.3" fill="#8cdc0a"/>
<rect x="639.6" y="791.3" width="26.0" height="13.3" fill="#a0e105"/>
<rect x="665.0" y="791.3" width="598.3" height="13.3" fill="#dcf000"/>
<rect x="1262.7" y="791.3" width="115.0" height="13.3" fill="#b4e605"/>
<rect x="1377.2" y="791.3" width="13.3" height="13.3" fill="#c8eb05"/>
<rect x="1389.9" y="791.3" width="165.9" height="13.3" fill="#b4e605"/>
<rect x="1555.2" y="791.3" width="153.2" height="13.3" fill="#a0e105"/>
<rect x="1707.8" y="791.3" width="76.9" height="13.3" fill="#8cdc0a"/>
<rect x="1784.1" y="791.3" width="229.5" height="13.3" fill="#6ed20a"/>
<rect x="487.0" y="804.0" width="140.5" height="13.3" fill="#8cdc0a"/>
<rect x="626.9" y="804.0" width="38.8" height="13.3" fill="#a0e105"/>
<rect x="665.0" y="804.0" width="547.4" height="13.3" fill="#dcf000"/>
<rect x="1211.8" y="804.0" width="13.3" height="13.3" fill="#a0e105"/>
<rect x="1224.6" y="804.0" width="64.2" height="13.3" fill="#b4e605"/>
<rect x="1288.2" y="804.0" width="76.9" height="13.3" fill="#c8eb05"/>
<rect x="1364.5" y="804.0" width="191.3" height="13.3" fill="#b4e605"/>
<rect x="1555.2" y="804.0" width="140.5" height="13.3" fill="#a0e105"/>
<rect x="1695.1" y="804.0" width="76.9" height="13.3" fill="#8cdc0a"/>
<rect x="1771.4" y="804.0" width="242.2" height="13.3" fill="#6ed20a"/>
<rect x="487.0" y="816.7" width="127.8" height="13.3" fill="#8cdc0a"/>
<rect x="614.2" y="816.7" width="64.2" height="13.3" fill="#a0e105"/>
<rect x="677.8" y="816.7" width="445.7" height="13.3" fill="#dcf000"/>
<rect x="1122.8" y="816.7" width="51.5" height="13.3" fill="#b4e605"/>
<rect x="1173.7" y="816.7" width="38.8" height="13.3" fill="#a0e105"/>
<rect x="1211.8" y="816.7" width="64.2" height="13.3" fill="#b4e605"/>
<rect x="1275.4" y="816.7" width="115.0" height="13.3" fill="#c8eb05"/>
<rect x="1389.9" y="816.7" width="165.9" height="13.3" fill="#b4e605"/>
<rect x="1555.2" y="816.7" width="127.8" height="13.3" fill="#a0e105"/>
<rect x="1682.4" y="816.7" width="76.9" height="13.3" fill="#8cdc0a"/>
<rect x="1758.7" y="816.7" width="254.9" height="13.3" fill="#6ed20a"/>
<rect x="487.0" y="829.4" width="178.6" height="13.3" fill="#a0e105"/>
<rect x="665.0" y="829.4" width="445.7" height="13.3" fill="#dcf000"/>
<rect x="1110.1" y="829.4" width="26.0" height="13.3" fill="#b4e605"/>
<rect x="1135.5" y="829.4" width="38.8" height="13.3" fill="#a0e105"/>
<rect x="1173.7" y="829.4" width="76.9" height="13.3" fill="#b4e605"/>
<rect x="1250.0" y="829.4" width="153.2" height="13.3" fill="#c8eb05"/>
<rect x="1402.6" y="829.4" width="153.2" height="13.3" fill="#b4e605"/>
<rect x="1555.2" y="829.4" width="102.3" height="13.3" fill="#a0e105"/>
<rect x="1656.9" y="829.4" width="89.6" height="13.3" fill="#8cdc0a"/>
<rect x="1746.0" y="829.4" width="140.5" height="13.3" fill="#6ed20a"/>
<rect x="1885.8" y="829.4" width="127.8" height="13.3" fill="#5acd0f"/>
<rect x="487.0" y="842.1" width="178.6" height="13.3" fill="#a0e105"/>
<rect x="665.0" y="842.1" width="344.0" height="13.3" fill="#dcf000"/>
<rect x="1008.4" y="842.1" width="51.5" height="13.3" fill="#c8eb05"/>
<rect x="1059.2" y="842.1" width="64.2" height="13.3" fill="#b4e605"/>
<rect x="1122.8" y="842.1" width="51.5" height="13.3" fill="#a0e105"/>
<rect x="1173.7" y="842.1" width="76.9" height="13.3" fill="#b4e605"/>
<rect x="1250.0" y="842.1" width="38.8" height="13.3" fill="#c8eb05"/>
<rect x="1288.2" y="842.1" width="76.9" height="13.3" fill="#dcf000"/>
<rect x="1364.5" y="842.1" width="51.5" height="13.3" fill="#c8eb05"/>
<rect x="1415.3" y="842.1" width="140.5" height="13.3" fill="#b4e605"/>
<rect x="1555.2" y="842.1" width="89.6" height="13.3" fill="#a0e105"/>
<rect x="1644.2" y="842.1" width="89.6" height="13.3" fill="#8cdc0a"/>
<rect x="1733.2" y="842.1" width="140.5" height="13.3" fill="#6ed20a"/>
<rect x="1873.1" y="842.1" width="140.5" height="13.3" fill="#5acd0f"/>
<rect x="487.0" y="854.9" width="216.8" height="13.3" fill="#a0e105"/>
<rect x="703.2" y="854.9" width="305.8" height="13.3" fill="#dcf000"/>
<rect x="1008.4" y="854.9" width="38.8" height="13.3" fill="#c8eb05"/>
<rect x="1046.5" y="854.9" width="64.2" height="13.3" fill="#b4e605"/>
<rect x="1110.1" y="854.9" width="64.2" height="13.3" fill="#a0e105"/>
<rect x="1173.7" y="854.9" width="64.2" height="13.3" fill="#b4e605"/>
<rect x="1237.3" y="854.9" width="38.8" height="13.3" fill="#c8eb05"/>
<rect x="1275.4" y="854.9" width="102.3" height="13.3" fill="#dcf000"/>
<rect x="1377.2" y="854.9" width="38.8" height="13.3" fill="#c8eb05"/>
<rect x="1415.3" y="854.9" width="140.5" height="13.3" fill="#b4e605"/>
<rect x="1555.2" y="854.9" width="76.9" height="13.3" fill="#a0e105"/>
<rect x="1631.5" y="854.9" width="89.6" height="13.3" fill="#8cdc0a"/>
<rect x="1720.5" y="854.9" width="140.5" height="13.3" fill="#6ed20a"/>
<rect x="1860.4" y="854.9" width="153.2" height="13.3" fill="#5acd0f"/>
<rect x="487.0" y="867.6" width="229.5" height="13.3" fill="#a0e105"/>
<rect x="715.9" y="867.6" width="26.0" height="13.3" fill="#b4e605"/>
<rect x="741.3" y="867.6" width="254.9" height="13.3" fill="#dcf000"/>
<rect x="995.7" y="867.6" width="38.8" height="13.3" fill="#c8eb05"/>
<rect x="1033.8" y="867.6" width="64.2" height="13.3" fill="#b4e605"/>
<rect x="1097.4" y="867.6" width="76.9" height="13.3" fill="#a0e105"/>
<rect x="1173.7" y="867.6" width="51.5" height="13.3" fill="#b4e605"/>
<rect x="1224.6" y="867.6" width="38.8" height="13.3" fill="#c8eb05"/>
<rect x="1262.7" y="867.6" width="127.8" height="13.3" fill="#dcf000"/>
<rect x="1389.9" y="867.6" width="38.8" height="13.3" fill="#c8eb05"/>
<rect x="1428.0" y="867.6" width="127.8" height="13.3" fill="#b4e605"/>
<rect x="1555.2" y="867.6" width="76.9" height="13.3" fill="#a0e105"/>
<rect x="1631.5" y="867.6" width="76.9" height="13.3" fill="#8cdc0a"/>
<rect x="1707.8" y="867.6" width="153.2" height="13.3" fill="#6ed20a"/>
<rect x="1860.4" y="867.6" width="153.2" height="13.3" fill="#5acd0f"/>
<rect x="487.0" y="880.3" width="216.8" height="13.3" fill="#a0e105"/>
<rect x="703.2" y="880.3" width="51.5" height="13.3" fill="#b4e605"/>
<rect x="754.0" y="880.3" width="229.5" height="13.3" fill="#dcf000"/>
<rect x="983.0" y="880.3" width="38.8" height="13.3" fill="#c8eb05"/>
<rect x="1021.1" y="880.3" width="64.2" height="13.3" fill="#b4e605"/>
<rect x="1084.7" y="880.3" width="89.6" height="13.3" fill="#a0e105"/>
<rect x="1173.7" y="880.3" width="51.5" height="13.3" fill="#b4e605"/>
<rect x="1224.6" y="880.3" width="38.8" height="13.3" fill="#c8eb05"/>
<rect x="1262.7" y="880.3" width="127.8" height="13.3" fill="#dcf000"/>
<rect x="1389.9" y="880.3" width="38.8" height="13.3" fill="#c8eb05"/>
<rect x="1428.0" y="880.3" width="115.0" height="13.3" fill="#b4e605"/>
<rect x="1542.5" y="880.3" width="89.6" height="13.3" fill="#a0e105"/>
<rect x="1631.5" y="880.3" width="76.9" height="13.3" fill="#8cdc0a"/>
<rect x="1707.8" y="880.3" width="153.2" height="13.3" fill="#6ed20a"/>
<rect x="1860.4" y="880.3" width="153.2" height="13.3" fill="#5acd0f"/>
<rect x="487.0" y="893.0" width="204.1" height="13.3" fill="#a0e105"/>
<rect x="690.5" y="893.0" width="76.9" height="13.3" fill="#b4e605"/>
<rect x="766.8" y="893.0" width="204.1" height="13.3" fill="#dcf000"/>
<rect x="970.2" y="893.0" width="51.5" height="13.3" fill="#c8eb05"/>
<rect x="1021.1" y="893.0" width="51.5" height="13.3" fill="#b4e605"/>
<rect x="1072.0" y="893.0" width="102.3" height="13.3" fill="#a0e105"/>
<rect x="1173.7" y="893.0" width="51.5" height="13.3" fill="#b4e605"/>
<rect x="1224.6" y="893.0" width="38.8" height="13.3" fill="#c8eb05"/>
<rect x="1262.7" y="893.0" width="127.8" height="13.3" fill="#dcf000"/>
<rect x="1389.9" y="893.0" width="38.8" height="13.3" fill="#c8eb05"/>
<rect x="1428.0" y="893.0" width="102.3" height="13.3" fill="#b4e605"/>
<rect x="1529.8" y="893.0" width="102.3" height="13.3" fill="#a0e105"/>
<rect x="1631.5" y="893.0" width="76.9" height="13.3" fill="#8cdc0a"/>
<rect x="1707.8" y="893.0" width="153.2" height="13.3" fill="#6ed20a"/>
<rect x="1860.4" y="893.0" width="153.2" height="13.3" fill="#5acd0f"/>
<rect x="487.0" y="905.7" width="178.6" height="13.3" fill="#a0e105"/>
<rect x="665.0" y="905.7" width="89.6" height="13.3" fill="#b4e605"/>
<rect x="754.0" y="905.7" width="51.5" height="13.3" fill="#dcf000"/>
<rect x="804.9" y="905.7" width="153.2" height="13.3" fill="#ebf800"/>
<rect x="957.5" y="905.7" width="38.8" height="13.3" fill="#c8eb05"/>
<rect x="995.7" y="905.7" width="64.2" height="13.3" fill="#b4e605"/>
<rect x="1059.2" y="905.7" width="115.0" height="13.3" fill="#a0e105"/>
<rect x="1173.7" y="905.7" width="51.5" height="13.3" fill="#b4e605"/>
<rect x="1224.6" y="905.7" width="38.8" height="13.3" fill="#c8eb05"/>
<rect x="1262.7" y="905.7" width="127.8" height="13.3" fill="#dcf000"/>
<rect x="1389.9" y="905.7" width="38.8" height="13.3" fill="#c8eb05"/>
<rect x="1428.0" y="905.7" width="76.9" height="13.3" fill="#b4e605"/>
<rect x="1504.3" y="905.7" width="127.8" height="13.3" fill="#a0e105"/>
<rect x="1631.5" y="905.7" width="76.9" height="13.3" fill="#8cdc0a"/>
<rect x="1707.8" y="905.7" width="153.2" height="13.3" fill="#6ed20a"/>
<rect x="1860.4" y="905.7" width="153.2" height="13.3" fill="#5acd0f"/>
<rect x="487.0" y="918.4" width="165.9" height="13.3" fill="#a0e105"/>
<rect x="652.3" y="918.4" width="102.3" height="13.3" fill="#b4e605"/>
<rect x="754.0" y="918.4" width="51.5" height="13.3" fill="#dcf000"/>
<rect x="804.9" y="918.4" width="140.5" height="13.3" fill="#ebf800"/>
<rect x="944.8" y="918.4" width="13.3" height="13.3" fill="#dcf000"/>
<rect x="957.5" y="918.4" width="26.0" height="13.3" fill="#c8eb05"/>
<rect x="983.0" y="918.4" width="64.2" height="13.3" fill="#b4e605"/>
<rect x="1046.5" y="918.4" width="127.8" height="13.3" fill="#a0e105"/>
<rect x="1173.7" y="918.4" width="51.5" height="13.3" fill="#b4e605"/>
<rect x="1224.6" y="918.4" width="38.8" height="13.3" fill="#c8eb05"/>
<rect x="1262.7" y="918.4" width="127.8" height="13.3" fill="#dcf000"/>
<rect x="1389.9" y="918.4" width="38.8" height="13.3" fill="#c8eb05"/>
<rect x="1428.0" y="918.4" width="64.2" height="13.3" fill="#b4e605"/>
<rect x="1491.6" y="918.4" width="140.5" height="13.3" fill="#a0e105"/>
<rect x="1631.5" y="918.4" width="76.9" height="13.3" fill="#8cdc0a"/>
<rect x="1707.8" y="918.4" width="153.2" height="13.3" fill="#6ed20a"/>
<rect x="1860.4" y="918.4" width="153.2" height="13.3" fill="#5acd0f"/>
<rect x="487.0" y="931.1" width="153.2" height="13.3" fill="#a0e105"/>
<rect x="639.6" y="931.1" width="115.0" height="13.3" fill="#b4e605"/>
<rect x="754.0" y="931.1" width="51.5" height="13.3" fill="#dcf000"/>
<rect x="804.9" y="931.1" width="140.5" height="13.3" fill="#ebf800"/>
<rect x="944.8" y="931.1" width="26.0" height="13.3" fill="#c8eb05"/>
<rect x="970.2" y="931.1" width="64.2" height="13.3" fill="#b4e605"/>
<rect x="1033.8" y="931.1" width="140.5" height="13.3" fill="#a0e105"/>
<rect x="1173.7" y="931.1" width="51.5" height="13.3" fill="#b4e605"/>
<rect x="1224.6" y="931.1" width="38.8" height="13.3" fill="#c8eb05"/>
<rect x="1262.7" y="931.1" width="127.8" height="13.3" fill="#dcf000"/>
<rect x="1389.9" y="931.1" width="38.8" height="13.3" fill="#c8eb05"/>
<rect x="1428.0" y="931.1" width="51.5" height="13.3" fill="#b4e605"/>
<rect x="1478.9" y="931.1" width="153.2" height="13.3" fill="#a0e105"/>
<rect x="1631.5" y="931.1" width="76.9" height="13.3" fill="#8cdc0a"/>
<rect x="1707.8" y="931.1" width="153.2" height="13.3" fill="#6ed20a"/>
<rect x="1860.4" y="931.1" width="153.2" height="13.3" fill="#5acd0f"/>
<rect x="487.0" y="943.8" width="153.2" height="13.3" fill="#a0e105"/>
<rect x="639.6" y="943.8" width="115.0" height="13.3" fill="#b4e605"/>
<rect x="754.0" y="943.8" width="51.5" height="13.3" fill="#dcf000"/>
<rect x="804.9" y="943.8" width="140.5" height="13.3" fill="#ebf800"/>
<rect x="944.8" y="943.8" width="26.0" height="13.3" fill="#c8eb05"/>
<rect x="970.2" y="943.8" width="51.5" height="13.3" fill="#b4e605"/>
<rect x="1021.1" y="943.8" width="153.2" height="13.3" fill="#a0e105"/>
<rect x="1173.7" y="943.8" width="51.5" height="13.3" fill="#b4e605"/>
<rect x="1224.6" y="943.8" width="38.8" height="13.3" fill="#c8eb05"/>
<rect x="1262.7" y="943.8" width="127.8" height="13.3" fill="#dcf000"/>
<rect x="1389.9" y="943.8" width="38.8" height="13.3" fill="#c8eb05"/>
<rect x="1428.0" y="943.8" width="51.5" height="13.3" fill="#b4e605"/>
<rect x="1478.9" y="943.8" width="153.2" height="13.3" fill="#a0e105"/>
<rect x="1631.5" y="943.8" width="76.9" height="13.3" fill="#8cdc0a"/>
<rect x="1707.8" y="943.8" width="153.2" height="13.3" fill="#6ed20a"/>
<rect x="1860.4" y="943.8" width="153.2" height="13.3" fill="#5acd0f"/>
<rect x="487.0" y="956.6" width="127.8" height="13.3" fill="#a0e105"/>
<rect x="614.2" y="956.6" width="127.8" height="13.3" fill="#b4e605"/>
<rect x="741.3" y="956.6" width="64.2" height="13.3" fill="#dcf000"/>
<rect x="804.9" y="956.6" width="127.8" height="13.3" fill="#ebf800"/>
<rect x="932.1" y="956.6" width="38.8" height="13.3" fill="#c8eb05"/>
<rect x="970.2" y="956.6" width="64.2" height="13.3" fill="#b4e605"/>
<rect x="1033.8" y="956.6" width="115.0" height="13.3" fill="#a0e105"/>
<rect x="1148.3" y="956.6" width="76.9" height="13.3" fill="#b4e605"/>
<rect x="1224.6" y="956.6" width="38.8" height="13.3" fill="#c8eb05"/>
<rect x="1262.7" y="956.6" width="127.8" height="13.3" fill="#dcf000"/>
<rect x="1389.9" y="956.6" width="38.8" height="13.3" fill="#c8eb05"/>
<rect x="1428.0" y="956.6" width="51.5" height="13.3" fill="#b4e605"/>
<rect x="1478.9" y="956.6" width="153.2" height="13.3" fill="#a0e105"/>
<rect x="1631.5" y="956.6" width="89.6" height="13.3" fill="#8cdc0a"/>
<rect x="1720.5" y="956.6" width="153.2" height="13.3" fill="#6ed20a"/>
<rect x="1873.1" y="956.6" width="140.5" height="13.3" fill="#5acd0f"/>
<rect x="487.0" y="969.3" width="127.8" height="13.3" fill="#a0e105"/>
<rect x="614.2" y="969.3" width="89.6" height="13.3" fill="#b4e605"/>
<rect x="703.2" y="969.3" width="102.3" height="13.3" fill="#dcf000"/>
<rect x="804.9" y="969.3" width="127.8" height="13.3" fill="#ebf800"/>
<rect x="932.1" y="969.3" width="26.0" height="13.3" fill="#c8eb05"/>
<rect x="957.5" y="969.3" width="89.6" height="13.3" fill="#b4e605"/>
<rect x="1046.5" y="969.3" width="102.3" height="13.3" fill="#a0e105"/>
<rect x="1148.3" y="969.3" width="64.2" height="13.3" fill="#b4e605"/>
<rect x="1211.8" y="969.3" width="51.5" height="13.3" fill="#c8eb05"/>
<rect x="1262.7" y="969.3" width="127.8" height="13.3" fill="#dcf000"/>
<rect x="1389.9" y="969.3" width="38.8" height="13.3" fill="#c8eb05"/>
<rect x="1428.0" y="969.3" width="51.5" height="13.3" fill="#b4e605"/>
<rect x="1478.9" y="969.3" width="153.2" height="13.3" fill="#a0e105"/>
<rect x="1631.5" y="969.3" width="102.3" height="13.3" fill="#8cdc0a"/>
<rect x="1733.2" y="969.3" width="153.2" height="13.3" fill="#6ed20a"/>
<rect x="1885.8" y="969.3" width="127.8" height="13.3" fill="#5acd0f"/>
<rect x="487.0" y="982.0" width="191.3" height="13.3" fill="#b4e605"/>
<rect x="677.8" y="982.0" width="13.3" height="13.3" fill="#c8eb05"/>
<rect x="690.5" y="982.0" width="115.0" height="13.3" fill="#dcf000"/>
<rect x="804.9" y="982.0" width="115.0" height="13.3" fill="#ebf800"/>
<rect x="919.4" y="982.0" width="38.8" height="13.3" fill="#c8eb05"/>
<rect x="957.5" y="982.0" width="254.9" height="13.3" fill="#b4e605"/>
<rect x="1211.8" y="982.0" width="51.5" height="13.3" fill="#c8eb05"/>
<rect x="1262.7" y="982.0" width="127.8" height="13.3" fill="#dcf000"/>
<rect x="1389.9" y="982.0" width="38.8" height="13.3" fill="#c8eb05"/>
<rect x="1428.0" y="982.0" width="51.5" height="13.3" fill="#b4e605"/>
<rect x="1478.9" y="982.0" width="153.2" height="13.3" fill="#a0e105"/>
<rect x="1631.5" y="982.0" width="127.8" height="13.3" fill="#8cdc0a"/>
<rect x="1758.7" y="982.0" width="254.9" height="13.3" fill="#6ed20a"/>
<rect x="487.0" y="994.7" width="165.9" height="13.3" fill="#b4e605"/>
<rect x="652.3" y="994.7" width="26.0" height="13.3" fill="#c8eb05"/>
<rect x="677.8" y="994.7" width="242.2" height="13.3" fill="#ebf800"/>
<rect x="919.4" y="994.7" width="13.3" height="13.3" fill="#c8eb05"/>
<rect x="932.1" y="994.7" width="254.9" height="13.3" fill="#b4e605"/>
<rect x="1186.4" y="994.7" width="76.9" height="13.3" fill="#c8eb05"/>
<rect x="1262.7" y="994.7" width="127.8" height="13.3" fill="#dcf000"/>
<rect x="1389.9" y="994.7" width="38.8" height="13.3" fill="#c8eb05"/>
<rect x="1428.0" y="994.7" width="51.5" height="13.3" fill="#b4e605"/>
<rect x="1478.9" y="994.7" width="153.2" height="13.3" fill="#a0e105"/>
<rect x="1631.5" y="994.7" width="140.5" height="13.3" fill="#8cdc0a"/>
<rect x="1771.4" y="994.7" width="242.2" height="13.3" fill="#6ed20a"/>
<rect x="487.0" y="1007.4" width="153.2" height="13.3" fill="#b4e605"/>
<rect x="639.6" y="1007.4" width="26.0" height="13.3" fill="#c8eb05"/>
<rect x="665.0" y="1007.4" width="242.2" height="13.3" fill="#ebf800"/>
<rect x="906.6" y="1007.4" width="280.4" height="13.3" fill="#b4e605"/>
<rect x="1186.4" y="1007.4" width="64.2" height="13.3" fill="#c8eb05"/>
<rect x="1250.0" y="1007.4" width="140.5" height="13.3" fill="#dcf000"/>
<rect x="1389.9" y="1007.4" width="38.8" height="13.3" fill="#c8eb05"/>
<rect x="1428.0" y="1007.4" width="51.5" height="13.3" fill="#b4e605"/>
<rect x="1478.9" y="1007.4" width="153.2" height="13.3" fill="#a0e105"/>
<rect x="1631.5" y="1007.4" width="153.2" height="13.3" fill="#8cdc0a"/>
<rect x="1784.1" y="1007.4" width="229.5" height="13.3" fill="#6ed20a"/>
<rect x="487.0" y="1020.1" width="153.2" height="13.3" fill="#b4e605"/>
<rect x="639.6" y="1020.1" width="26.0" height="13.3" fill="#c8eb05"/>
<rect x="665.0" y="1020.1" width="229.5" height="13.3" fill="#ebf800"/>
<rect x="893.9" y="1020.1" width="280.4" height="13.3" fill="#b4e605"/>
<rect x="1173.7" y="1020.1" width="76.9" height="13.3" fill="#c8eb05"/>
<rect x="1250.0" y="1020.1" width="127.8" height="13.3" fill="#dcf000"/>
<rect x="1377.2" y="1020.1" width="38.8" height="13.3" fill="#c8eb05"/>
<rect x="1415.3" y="1020.1" width="64.2" height="13.3" fill="#b4e605"/>
<rect x="1478.9" y="1020.1" width="153.2" height="13.3" fill="#a0e105"/>
<rect x="1631.5" y="1020.1" width="178.6" height="13.3" fill="#8cdc0a"/>
<rect x="1809.5" y="1020.1" width="204.1" height="13.3" fill="#6ed20a"/>
<rect x="487.0" y="1032.8" width="165.9" height="13.3" fill="#b4e605"/>
<rect x="652.3" y="1032.8" width="38.8" height="13.3" fill="#c8eb05"/>
<rect x="690.5" y="1032.8" width="216.8" height="13.3" fill="#ebf800"/>
<rect x="906.6" y="1032.8" width="254.9" height="13.3" fill="#b4e605"/>
<rect x="1161.0" y="1032.8" width="102.3" height="13.3" fill="#c8eb05"/>
<rect x="1262.7" y="1032.8" width="102.3" height="13.3" fill="#dcf000"/>
<rect x="1364.5" y="1032.8" width="51.5" height="13.3" fill="#c8eb05"/>
<rect x="1415.3" y="1032.8" width="76.9" height="13.3" fill="#b4e605"/>
<rect x="1491.6" y="1032.8" width="127.8" height="13.3" fill="#a0e105"/>
<rect x="1618.8" y="1032.8" width="102.3" height="13.3" fill="#8cdc0a"/>
<rect x="1720.5" y="1032.8" width="51.5" height="13.3" fill="#a0e105"/>
<rect x="1771.4" y="1032.8" width="242.2" height="13.3" fill="#8cdc0a"/>
<rect x="487.0" y="1045.5" width="178.6" height="13.3" fill="#b4e605"/>
<rect x="665.0" y="1045.5" width="51.5" height="13.3" fill="#c8eb05"/>
<rect x="715.9" y="1045.5" width="127.8" height="13.3" fill="#ebf800"/>
<rect x="843.1" y="1045.5" width="51.5" height="13.3" fill="#b4e605"/>
<rect x="893.9" y="1045.5" width="13.3" height="13.3" fill="#ebf800"/>
<rect x="906.6" y="1045.5" width="242.2" height="13.3" fill="#b4e605"/>
<rect x="1148.3" y="1045.5" width="127.8" height="13.3" fill="#c8eb05"/>
<rect x="1275.4" y="1045.5" width="26.0" height="13.3" fill="#dcf000"/>
<rect x="1300.9" y="1045.5" width="102.3" height="13.3" fill="#c8eb05"/>
<rect x="1402.6" y="1045.5" width="102.3" height="13.3" fill="#b4e605"/>
<rect x="1504.3" y="1045.5" width="102.3" height="13.3" fill="#a0e105"/>
<rect x="1606.1" y="1045.5" width="89.6" height="13.3" fill="#8cdc0a"/>
<rect x="1695.1" y="1045.5" width="153.2" height="13.3" fill="#a0e105"/>
<rect x="1847.7" y="1045.5" width="165.9" height="13.3" fill="#8cdc0a"/>
<rect x="487.0" y="1058.2" width="204.1" height="13.3" fill="#b4e605"/>
<rect x="690.5" y="1058.2" width="26.0" height="13.3" fill="#c8eb05"/>
<rect x="715.9" y="1058.2" width="102.3" height="13.3" fill="#ffff00"/>
<rect x="817.6" y="1058.2" width="305.8" height="13.3" fill="#b4e605"/>
<rect x="1122.8" y="1058.2" width="267.7" height="13.3" fill="#c8eb05"/>
<rect x="1389.9" y="1058.2" width="127.8" height="13.3" fill="#b4e605"/>
<rect x="1517.0" y="1058.2" width="76.9" height="13.3" fill="#a0e105"/>
<rect x="1593.3" y="1058.2" width="102.3" height="13.3" fill="#8cdc0a"/>
<rect x="1695.1" y="1058.2" width="38.8" height="13.3" fill="#a0e105"/>
<rect x="1733.2" y="1058.2" width="64.2" height="13.3" fill="#b4e605"/>
<rect x="1796.8" y="1058.2" width="140.5" height="13.3" fill="#a0e105"/>
<rect x="1936.7" y="1058.2" width="76.9" height="13.3" fill="#8cdc0a"/>
<rect x="487.0" y="1071.0" width="204.1" height="13.3" fill="#b4e605"/>
<rect x="690.5" y="1071.0" width="115.0" height="13.3" fill="#ffff00"/>
<rect x="804.9" y="1071.0" width="305.8" height="13.3" fill="#b4e605"/>
<rect x="1110.1" y="1071.0" width="254.9" height="13.3" fill="#c8eb05"/>
<rect x="1364.5" y="1071.0" width="165.9" height="13.3" fill="#b4e605"/>
<rect x="1529.8" y="1071.0" width="51.5" height="13.3" fill="#a0e105"/>
<rect x="1580.6" y="1071.0" width="102.3" height="13.3" fill="#8cdc0a"/>
<rect x="1682.4" y="1071.0" width="38.8" height="13.3" fill="#a0e105"/>
<rect x="1720.5" y="1071.0" width="153.2" height="13.3" fill="#b4e605"/>
<rect x="1873.1" y="1071.0" width="140.5" height="13.3" fill="#a0e105"/>
<rect x="487.0" y="1083.7" width="26.0" height="13.3" fill="#ffff00"/>
<rect x="512.4" y="1083.7" width="26.0" height="13.3" fill="#b4e605"/>
<rect x="537.9" y="1083.7" width="89.6" height="13.3" fill="#ffff00"/>
<rect x="626.9" y="1083.7" width="38.8" height="13.3" fill="#b4e605"/>
<rect x="665.0" y="1083.7" width="76.9" height="13.3" fill="#ffff00"/>
<rect x="741.3" y="1083.7" width="51.5" height="13.3" fill="#c8eb05"/>
<rect x="792.2" y="1083.7" width="305.8" height="13.3" fill="#b4e605"/>
<rect x="1097.4" y="1083.7" width="242.2" height="13.3" fill="#c8eb05"/>
<rect x="1339.0" y="1083.7" width="191.3" height="13.3" fill="#b4e605"/>
<rect x="1529.8" y="1083.7" width="51.5" height="13.3" fill="#a0e105"/>
<rect x="1580.6" y="1083.7" width="102.3" height="13.3" fill="#8cdc0a"/>
<rect x="1682.4" y="1083.7" width="26.0" height="13.3" fill="#a0e105"/>
<rect x="1707.8" y="1083.7" width="26.0" height="13.3" fill="#b4e605"/>
<rect x="1733.2" y="1083.7" width="102.3" height="13.3" fill="#c8eb05"/>
<rect x="1835.0" y="1083.7" width="89.6" height="13.3" fill="#b4e605"/>
<rect x="1924.0" y="1083.7" width="89.6" height="13.3" fill="#a0e105"/>
<rect x="487.0" y="1096.4" width="254.9" height="13.3" fill="#ffff00"/>
<rect x="741.3" y="1096.4" width="51.5" height="13.3" fill="#c8eb05"/>
<rect x="792.2" y="1096.4" width="305.8" height="13.3" fill="#b4e605"/>
<rect x="1097.4" y="1096.4" width="229.5" height="13.3" fill="#c8eb05"/>
<rect x="1326.3" y="1096.4" width="204.1" height="13.3" fill="#b4e605"/>
<rect x="1529.8" y="1096.4" width="38.8" height="13.3" fill="#a0e105"/>
<rect x="1567.9" y="1096.4" width="115.0" height="13.3" fill="#8cdc0a"/>
<rect x="1682.4" y="1096.4" width="38.8" height="13.3" fill="#a0e105"/>
<rect x="1720.5" y="1096.4" width="26.0" height="13.3" fill="#b4e605"/>
<rect x="1746.0" y="1096.4" width="115.0" height="13.3" fill="#c8eb05"/>
<rect x="1860.4" y="1096.4" width="76.9" height="13.3" fill="#b4e605"/>
<rect x="1936.7" y="1096.4" width="76.9" height="13.3" fill="#a0e105"/>
<rect x="487.0" y="1109.1" width="242.2" height="13.3" fill="#ffff00"/>
<rect x="728.6" y="1109.1" width="64.2" height="13.3" fill="#c8eb05"/>
<rect x="792.2" y="1109.1" width="318.5" height="13.3" fill="#b4e605"/>
<rect x="1110.1" y="1109.1" width="216.8" height="13.3" fill="#c8eb05"/>
<rect x="1326.3" y="1109.1" width="191.3" height="13.3" fill="#b4e605"/>
<rect x="1517.0" y="1109.1" width="38.8" height="13.3" fill="#a0e105"/>
<rect x="1555.2" y="1109.1" width="140.5" height="13.3" fill="#8cdc0a"/>
<rect x="1695.1" y="1109.1" width="38.8" height="13.3" fill="#a0e105"/>
<rect x="1733.2" y="1109.1" width="64.2" height="13.3" fill="#b4e605"/>
<rect x="1796.8" y="1109.1" width="64.2" height="13.3" fill="#c8eb05"/>
<rect x="1860.4" y="1109.1" width="89.6" height="13.3" fill="#b4e605"/>
<rect x="1949.4" y="1109.1" width="64.2" height="13.3" fill="#a0e105"/>
<rect x="487.0" y="1121.8" width="242.2" height="13.3" fill="#ffff00"/>
<rect x="728.6" y="1121.8" width="64.2" height="13.3" fill="#c8eb05"/>
<rect x="792.2" y="1121.8" width="331.2" height="13.3" fill="#b4e605"/>
<rect x="1122.8" y="1121.8" width="204.1" height="13.3" fill="#c8eb05"/>
<rect x="1326.3" y="1121.8" width="127.8" height="13.3" fill="#b4e605"/>
<rect x="1453.5" y="1121.8" width="89.6" height="13.3" fill="#a0e105"/>
<rect x="1542.5" y="1121.8" width="38.8" height="13.3" fill="#8cdc0a"/>
<rect x="1580.6" y="1121.8" width="102.3" height="13.3" fill="#6ed20a"/>
<rect x="1682.4" y="1121.8" width="38.8" height="13.3" fill="#8cdc0a"/>
<rect x="1720.5" y="1121.8" width="38.8" height="13.3" fill="#a0e105"/>
<rect x="1758.7" y="1121.8" width="64.2" height="13.3" fill="#b4e605"/>
<rect x="1822.2" y="1121.8" width="38.8" height="13.3" fill="#c8eb05"/>
<rect x="1860.4" y="1121.8" width="89.6" height="13.3" fill="#b4e605"/>
<rect x="1949.4" y="1121.8" width="64.2" height="13.3" fill="#a0e105"/>
<rect x="487.0" y="1134.5" width="242.2" height="13.3" fill="#ffff00"/>
<rect x="728.6" y="1134.5" width="64.2" height="13.3" fill="#c8eb05"/>
<rect x="792.2" y="1134.5" width="102.3" height="13.3" fill="#b4e605"/>
<rect x="893.9" y="1134.5" width="102.3" height="13.3" fill="#a0e105"/>
<rect x="995.7" y="1134.5" width="229.5" height="13.3" fill="#b4e605"/>
<rect x="1224.6" y="1134.5" width="102.3" height="13.3" fill="#c8eb05"/>
<rect x="1326.3" y="1134.5" width="102.3" height="13.3" fill="#b4e605"/>
<rect x="1428.0" y="1134.5" width="102.3" height="13.3" fill="#a0e105"/>
<rect x="1529.8" y="1134.5" width="38.8" height="13.3" fill="#8cdc0a"/>
<rect x="1567.9" y="1134.5" width="127.8" height="13.3" fill="#6ed20a"/>
<rect x="1695.1" y="1134.5" width="38.8" height="13.3" fill="#8cdc0a"/>
<rect x="1733.2" y="1134.5" width="51.5" height="13.3" fill="#a0e105"/>
<rect x="1784.1" y="1134.5" width="76.9" height="13.3" fill="#b4e605"/>
<rect x="1860.4" y="1134.5" width="38.8" height="13.3" fill="#c8eb05"/>
<rect x="1898.5" y="1134.5" width="51.5" height="13.3" fill="#b4e605"/>
<rect x="1949.4" y="1134.5" width="64.2" height="13.3" fill="#a0e105"/>
<rect x="487.0" y="1147.2" width="242.2" height="13.3" fill="#ffff00"/>
<rect x="728.6" y="1147.2" width="64.2" height="13.3" fill="#c8eb05"/>
<rect x="792.2" y="1147.2" width="89.6" height="13.3" fill="#b4e605"/>
<rect x="881.2" y="1147.2" width="127.8" height="13.3" fill="#a0e105"/>
<rect x="1008.4" y="1147.2" width="229.5" height="13.3" fill="#b4e605"/>
<rect x="1237.3" y="1147.2" width="89.6" height="13.3" fill="#c8eb05"/>
<rect x="1326.3" y="1147.2" width="89.6" height="13.3" fill="#b4e605"/>
<rect x="1415.3" y="1147.2" width="102.3" height="13.3" fill="#a0e105"/>
<rect x="1517.0" y="1147.2" width="38.8" height="13.3" fill="#8cdc0a"/>
<rect x="1555.2" y="1147.2" width="165.9" height="13.3" fill="#6ed20a"/>
<rect x="1720.5" y="1147.2" width="38.8" height="13.3" fill="#8cdc0a"/>
<rect x="1758.7" y="1147.2" width="38.8" height="13.3" fill="#a0e105"/>
<rect x="1796.8" y="1147.2" width="64.2" height="13.3" fill="#b4e605"/>
<rect x="1860.4" y="1147.2" width="51.5" height="13.3" fill="#c8eb05"/>
<rect x="1911.3" y="1147.2" width="38.8" height="13.3" fill="#b4e605"/>
<rect x="1949.4" y="1147.2" width="64.2" height="13.3" fill="#a0e105"/>
<rect x="487.0" y="1160.0" width="242.2" height="13.3" fill="#ffff00"/>
<rect x="728.6" y="1160.0" width="64.2" height="13.3" fill="#c8eb05"/>
<rect x="792.2" y="1160.0" width="76.9" height="13.3" fill="#b4e605"/>
<rect x="868.5" y="1160.0" width="153.2" height="13.3" fill="#a0e105"/>
<rect x="1021.1" y="1160.0" width="229.5" height="13.3" fill="#b4e605"/>
<rect x="1250.0" y="1160.0" width="76.9" height="13.3" fill="#c8eb05"/>
<rect x="1326.3" y="1160.0" width="76.9" height="13.3" fill="#b4e605"/>
<rect x="1402.6" y="1160.0" width="89.6" height="13.3" fill="#a0e105"/>
<rect x="1491.6" y="1160.0" width="51.5" height="13.3" fill="#8cdc0a"/>
<rect x="1542.5" y="1160.0" width="38.8" height="13.3" fill="#6ed20a"/>
<rect x="1580.6" y="1160.0" width="115.0" height="13.3" fill="#5acd0f"/>
<rect x="1695.1" y="1160.0" width="51.5" height="13.3" fill="#6ed20a"/>
<rect x="1746.0" y="1160.0" width="38.8" height="13.3" fill="#8cdc0a"/>
<rect x="1784.1" y="1160.0" width="26.0" height="13.3" fill="#a0e105"/>
<rect x="1809.5" y="1160.0" width="51.5" height="13.3" fill="#b4e605"/>
<rect x="1860.4" y="1160.0" width="51.5" height="13.3" fill="#c8eb05"/>
<rect x="1911.3" y="1160.0" width="38.8" height="13.3" fill="#b4e605"/>
<rect x="1949.4" y="1160.0" width="64.2" height="13.3" fill="#a0e105"/>
<rect x="487.0" y="1172.7" width="229.5" height="13.3" fill="#ffff00"/>
<rect x="715.9" y="1172.7" width="76.9" height="13.3" fill="#c8eb05"/>
<rect x="792.2" y="1172.7" width="76.9" height="13.3" fill="#b4e605"/>
<rect x="868.5" y="1172.7" width="153.2" height="13.3" fill="#a0e105"/>
<rect x="1021.1" y="1172.7" width="229.5" height="13.3" fill="#b4e605"/>
<rect x="1250.0" y="1172.7" width="89.6" height="13.3" fill="#c8eb05"/>
<rect x="1339.0" y="1172.7" width="76.9" height="13.3" fill="#b4e605"/>
<rect x="1415.3" y="1172.7" width="64.2" height="13.3" fill="#a0e105"/>
<rect x="1478.9" y="1172.7" width="51.5" height="13.3" fill="#8cdc0a"/>
<rect x="1529.8" y="1172.7" width="38.8" height="13.3" fill="#6ed20a"/>
<rect x="1567.9" y="1172.7" width="140.5" height="13.3" fill="#5acd0f"/>
<rect x="1707.8" y="1172.7" width="51.5" height="13.3" fill="#6ed20a"/>
<rect x="1758.7" y="1172.7" width="26.0" height="13.3" fill="#8cdc0a"/>
<rect x="1784.1" y="1172.7" width="26.0" height="13.3" fill="#a0e105"/>
<rect x="1809.5" y="1172.7" width="64.2" height="13.3" fill="#b4e605"/>
<rect x="1873.1" y="1172.7" width="38.8" height="13.3" fill="#c8eb05"/>
<rect x="1911.3" y="1172.7" width="51.5" height="13.3" fill="#b4e605"/>
<rect x="1962.1" y="1172.7" width="51.5" height="13.3" fill="#a0e105"/>
<rect x="487.0" y="1185.4" width="178.6" height="13.3" fill="#ffff00"/>
<rect x="665.0" y="1185.4" width="115.0" height="13.3" fill="#c8eb05"/>
<rect x="779.5" y="1185.4" width="102.3" height="13.3" fill="#b4e605"/>
<rect x="881.2" y="1185.4" width="140.5" height="13.3" fill="#a0e105"/>
<rect x="1021.1" y="1185.4" width="204.1" height="13.3" fill="#b4e605"/>
<rect x="1224.6" y="1185.4" width="127.8" height="13.3" fill="#c8eb05"/>
<rect x="1351.7" y="1185.4" width="76.9" height="13.3" fill="#b4e605"/>
<rect x="1428.0" y="1185.4" width="51.5" height="13.3" fill="#a0e105"/>
<rect x="1478.9" y="1185.4" width="51.5" height="13.3" fill="#8cdc0a"/>
<rect x="1529.8" y="1185.4" width="38.8" height="13.3" fill="#6ed20a"/>
<rect x="1567.9" y="1185.4" width="153.2" height="13.3" fill="#5acd0f"/>
<rect x="1720.5" y="1185.4" width="51.5" height="13.3" fill="#6ed20a"/>
<rect x="1771.4" y="1185.4" width="26.0" height="13.3" fill="#8cdc0a"/>
<rect x="1796.8" y="1185.4" width="26.0" height="13.3" fill="#a0e105"/>
<rect x="1822.2" y="1185.4" width="64.2" height="13.3" fill="#b4e605"/>
<rect x="1885.8" y="1185.4" width="26.0" height="13.3" fill="#c8eb05"/>
<rect x="1911.3" y="1185.4" width="51.5" height="13.3" fill="#b4e605"/>
<rect x="1962.1" y="1185.4" width="51.5" height="13.3" fill="#a0e105"/>
<rect x="487.0" y="1198.1" width="140.5" height="13.3" fill="#ffff00"/>
<rect x="626.9" y="1198.1" width="140.5" height="13.3" fill="#c8eb05"/>
<rect x="766.8" y="1198.1" width="127.8" height="13.3" fill="#b4e605"/>
<rect x="893.9" y="1198.1" width="127.8" height="13.3" fill="#a0e105"/>
<rect x="1021.1" y="1198.1" width="204.1" height="13.3" fill="#b4e605"/>
<rect x="1224.6" y="1198.1" width="140.5" height="13.3" fill="#c8eb05"/>
<rect x="1364.5" y="1198.1" width="76.9" height="13.3" fill="#b4e605"/>
<rect x="1440.8" y="1198.1" width="38.8" height="13.3" fill="#a0e105"/>
<rect x="1478.9" y="1198.1" width="38.8" height="13.3" fill="#8cdc0a"/>
<rect x="1517.0" y="1198.1" width="51.5" height="13.3" fill="#6ed20a"/>
<rect x="1567.9" y="1198.1" width="165.9" height="13.3" fill="#5acd0f"/>
<rect x="1733.2" y="1198.1" width="38.8" height="13.3" fill="#6ed20a"/>
<rect x="1771.4" y="1198.1" width="26.0" height="13.3" fill="#8cdc0a"/>
<rect x="1796.8" y="1198.1" width="38.8" height="13.3" fill="#a0e105"/>
<rect x="1835.0" y="1198.1" width="140.5" height="13.3" fill="#b4e605"/>
<rect x="1974.8" y="1198.1" width="38.8" height="13.3" fill="#a0e105"/>
<rect x="487.0" y="1210.8" width="13.3" height="13.3" fill="#b4e605"/>
<rect x="499.7" y="1210.8" width="127.8" height="13.3" fill="#ffff00"/>
<rect x="626.9" y="1210.8" width="115.0" height="13.3" fill="#c8eb05"/>
<rect x="741.3" y="1210.8" width="280.4" height="13.3" fill="#b4e605"/>
<rect x="1021.1" y="1210.8" width="38.8" height="13.3" fill="#a0e105"/>
<rect x="1059.2" y="1210.8" width="76.9" height="13.3" fill="#b4e605"/>
<rect x="1135.5" y="1210.8" width="153.2" height="13.3" fill="#c8eb05"/>
<rect x="1288.2" y="1210.8" width="13.3" height="13.3" fill="#dcf000"/>
<rect x="1300.9" y="1210.8" width="64.2" height="13.3" fill="#c8eb05"/>
<rect x="1364.5" y="1210.8" width="76.9" height="13.3" fill="#b4e605"/>
<rect x="1440.8" y="1210.8" width="38.8" height="13.3" fill="#a0e105"/>
<rect x="1478.9" y="1210.8" width="38.8" height="13.3" fill="#8cdc0a"/>
<rect x="1517.0" y="1210.8" width="51.5" height="13.3" fill="#6ed20a"/>
<rect x="1567.9" y="1210.8" width="178.6" height="13.3" fill="#5acd0f"/>
<rect x="1746.0" y="1210.8" width="38.8" height="13.3" fill="#6ed20a"/>
<rect x="1784.1" y="1210.8" width="26.0" height="13.3" fill="#8cdc0a"/>
<rect x="1809.5" y="1210.8" width="51.5" height="13.3" fill="#a0e105"/>
<rect x="1860.4" y="1210.8" width="153.2" height="13.3" fill="#b4e605"/>
<rect x="487.0" y="1223.5" width="26.0" height="13.3" fill="#b4e605"/>
<rect x="512.4" y="1223.5" width="115.0" height="13.3" fill="#ffff00"/>
<rect x="626.9" y="1223.5" width="102.3" height="13.3" fill="#c8eb05"/>
<rect x="728.6" y="1223.5" width="293.1" height="13.3" fill="#b4e605"/>
<rect x="1021.1" y="1223.5" width="51.5" height="13.3" fill="#a0e105"/>
<rect x="1072.0" y="1223.5" width="51.5" height="13.3" fill="#b4e605"/>
<rect x="1122.8" y="1223.5" width="140.5" height="13.3" fill="#c8eb05"/>
<rect x="1262.7" y="1223.5" width="51.5" height="13.3" fill="#dcf000"/>
<rect x="1313.6" y="1223.5" width="76.9" height="13.3" fill="#c8eb05"/>
<rect x="1389.9" y="1223.5" width="64.2" height="13.3" fill="#b4e605"/>
<rect x="1453.5" y="1223.5" width="26.0" height="13.3" fill="#a0e105"/>
<rect x="1478.9" y="1223.5" width="26.0" height="13.3" fill="#8cdc0a"/>
<rect x="1504.3" y="1223.5" width="64.2" height="13.3" fill="#6ed20a"/>
<rect x="1567.9" y="1223.5" width="191.3" height="13.3" fill="#5acd0f"/>
<rect x="1758.7" y="1223.5" width="26.0" height="13.3" fill="#6ed20a"/>
<rect x="1784.1" y="1223.5" width="38.8" height="13.3" fill="#8cdc0a"/>
<rect x="1822.2" y="1223.5" width="38.8" height="13.3" fill="#a0e105"/>
<rect x="1860.4" y="1223.5" width="153.2" height="13.3" fill="#b4e605"/>
<rect x="487.0" y="1236.2" width="38.8" height="13.3" fill="#b4e605"/>
<rect x="525.1" y="1236.2" width="102.3" height="13.3" fill="#ffff00"/>
<rect x="626.9" y="1236.2" width="89.6" height="13.3" fill="#c8eb05"/>
<rect x="715.9" y="1236.2" width="305.8" height="13.3" fill="#b4e605"/>
<rect x="1021.1" y="1236.2" width="51.5" height="13.3" fill="#a0e105"/>
<rect x="1072.0" y="1236.2" width="51.5" height="13.3" fill="#b4e605"/>
<rect x="1122.8" y="1236.2" width="140.5" height="13.3" fill="#c8eb05"/>
<rect x="1262.7" y="1236.2" width="64.2" height="13.3" fill="#dcf000"/>
<rect x="1326.3" y="1236.2" width="76.9" height="13.3" fill="#c8eb05"/>
<rect x="1402.6" y="1236.2" width="51.5" height="13.3" fill="#b4e605"/>
<rect x="1453.5" y="1236.2" width="26.0" height="13.3" fill="#a0e105"/>
<rect x="1478.9" y="1236.2" width="26.0" height="13.3" fill="#8cdc0a"/>
<rect x="1504.3" y="1236.2" width="51.5" height="13.3" fill="#6ed20a"/>
<rect x="1555.2" y="1236.2" width="204.1" height="13.3" fill="#5acd0f"/>
<rect x="1758.7" y="1236.2" width="38.8" height="13.3" fill="#6ed20a"/>
<rect x="1796.8" y="1236.2" width="38.8" height="13.3" fill="#8cdc0a"/>
<rect x="1835.0" y="1236.2" width="38.8" height="13.3" fill="#a0e105"/>
<rect x="1873.1" y="1236.2" width="140.5" height="13.3" fill="#b4e605"/>
<rect x="487.0" y="1248.9" width="76.9" height="13.3" fill="#b4e605"/>
<rect x="563.3" y="1248.9" width="13.3" height="13.3" fill="#c8eb05"/>
<rect x="576.0" y="1248.9" width="13.3" height="13.3" fill="#ffff00"/>
<rect x="588.7" y="1248.9" width="127.8" height="13.3" fill="#c8eb05"/>
<rect x="715.9" y="1248.9" width="318.5" height="13.3" fill="#b4e605"/>
<rect x="1033.8" y="1248.9" width="38.8" height="13.3" fill="#a0e105"/>
<rect x="1072.0" y="1248.9" width="38.8" height="13.3" fill="#b4e605"/>
<rect x="1110.1" y="1248.9" width="127.8" height="13.3" fill="#c8eb05"/>
<rect x="1237.3" y="1248.9" width="89.6" height="13.3" fill="#dcf000"/>
<rect x="1326.3" y="1248.9" width="76.9" height="13.3" fill="#c8eb05"/>
<rect x="1402.6" y="1248.9" width="51.5" height="13.3" fill="#b4e605"/>
<rect x="1453.5" y="1248.9" width="26.0" height="13.3" fill="#a0e105"/>
<rect x="1478.9" y="1248.9" width="26.0" height="13.3" fill="#8cdc0a"/>
<rect x="1504.3" y="1248.9" width="51.5" height="13.3" fill="#6ed20a"/>
<rect x="1555.2" y="1248.9" width="216.8" height="13.3" fill="#5acd0f"/>
<rect x="1771.4" y="1248.9" width="38.8" height="13.3" fill="#6ed20a"/>
<rect x="1809.5" y="1248.9" width="38.8" height="13.3" fill="#8cdc0a"/>
<rect x="1847.7" y="1248.9" width="38.8" height="13.3" fill="#a0e105"/>
<rect x="1885.8" y="1248.9" width="127.8" height="13.3" fill="#b4e605"/>
<rect x="487.0" y="1261.7" width="89.6" height="13.3" fill="#b4e605"/>
<rect x="576.0" y="1261.7" width="127.8" height="13.3" fill="#c8eb05"/>
<rect x="703.2" y="1261.7" width="394.8" height="13.3" fill="#b4e605"/>
<rect x="1097.4" y="1261.7" width="115.0" height="13.3" fill="#c8eb05"/>
<rect x="1211.8" y="1261.7" width="115.0" height="13.3" fill="#dcf000"/>
<rect x="1326.3" y="1261.7" width="76.9" height="13.3" fill="#c8eb05"/>
<rect x="1402.6" y="1261.7" width="51.5" height="13.3" fill="#b4e605"/>
<rect x="1453.5" y="1261.7" width="26.0" height="13.3" fill="#a0e105"/>
<rect x="1478.9" y="1261.7" width="26.0" height="13.3" fill="#8cdc0a"/>
<rect x="1504.3" y="1261.7" width="64.2" height="13.3" fill="#6ed20a"/>
<rect x="1567.9" y="1261.7" width="204.1" height="13.3" fill="#5acd0f"/>
<rect x="1771.4" y="1261.7" width="38.8" height="13.3" fill="#6ed20a"/>
<rect x="1809.5" y="1261.7" width="38.8" height="13.3" fill="#8cdc0a"/>
<rect x="1847.7" y="1261.7" width="38.8" height="13.3" fill="#a0e105"/>
<rect x="1885.8" y="1261.7" width="127.8" height="13.3" fill="#b4e605"/>
<rect x="487.0" y="1274.4" width="102.3" height="13.3" fill="#b4e605"/>
<rect x="588.7" y="1274.4" width="102.3" height="13.3" fill="#c8eb05"/>
<rect x="690.5" y="1274.4" width="407.5" height="13.3" fill="#b4e605"/>
<rect x="1097.4" y="1274.4" width="51.5" height="13.3" fill="#c8eb05"/>
<rect x="1148.3" y="1274.4" width="178.6" height="13.3" fill="#dcf000"/>
<rect x="1326.3" y="1274.4" width="76.9" height="13.3" fill="#c8eb05"/>
<rect x="1402.6" y="1274.4" width="51.5" height="13.3" fill="#b4e605"/>
<rect x="1453.5" y="1274.4" width="26.0" height="13.3" fill="#a0e105"/>
<rect x="1478.9" y="1274.4" width="38.8" height="13.3" fill="#8cdc0a"/>
<rect x="1517.0" y="1274.4" width="51.5" height="13.3" fill="#6ed20a"/>
<rect x="1567.9" y="1274.4" width="204.1" height="13.3" fill="#5acd0f"/>
<rect x="1771.4" y="1274.4" width="51.5" height="13.3" fill="#6ed20a"/>
<rect x="1822.2" y="1274.4" width="38.8" height="13.3" fill="#8cdc0a"/>
<rect x="1860.4" y="1274.4" width="38.8" height="13.3" fill="#a0e105"/>
<rect x="1898.5" y="1274.4" width="115.0" height="13.3" fill="#b4e605"/>
<rect x="487.0" y="1287.1" width="585.6" height="13.3" fill="#b4e605"/>
<rect x="1072.0" y="1287.1" width="64.2" height="13.3" fill="#c8eb05"/>
<rect x="1135.5" y="1287.1" width="191.3" height="13.3" fill="#dcf000"/>
<rect x="1326.3" y="1287.1" width="76.9" height="13.3" fill="#c8eb05"/>
<rect x="1402.6" y="1287.1" width="51.5" height="13.3" fill="#b4e605"/>
<rect x="1453.5" y="1287.1" width="38.8" height="13.3" fill="#a0e105"/>
<rect x="1491.6" y="1287.1" width="26.0" height="13.3" fill="#8cdc0a"/>
<rect x="1517.0" y="1287.1" width="51.5" height="13.3" fill="#6ed20a"/>
<rect x="1567.9" y="1287.1" width="204.1" height="13.3" fill="#5acd0f"/>
<rect x="1771.4" y="1287.1" width="51.5" height="13.3" fill="#6ed20a"/>
<rect x="1822.2" y="1287.1" width="38.8" height="13.3" fill="#8cdc0a"/>
<rect x="1860.4" y="1287.1" width="51.5" height="13.3" fill="#a0e105"/>
<rect x="1911.3" y="1287.1" width="102.3" height="13.3" fill="#b4e605"/>
<rect x="487.0" y="1299.8" width="572.9" height="13.3" fill="#b4e605"/>
<rect x="1059.2" y="1299.8" width="64.2" height="13.3" fill="#c8eb05"/>
<rect x="1122.8" y="1299.8" width="204.1" height="13.3" fill="#dcf000"/>
<rect x="1326.3" y="1299.8" width="76.9" height="13.3" fill="#c8eb05"/>
<rect x="1402.6" y="1299.8" width="51.5" height="13.3" fill="#b4e605"/>
<rect x="1453.5" y="1299.8" width="38.8" height="13.3" fill="#a0e105"/>
<rect x="1491.6" y="1299.8" width="38.8" height="13.3" fill="#8cdc0a"/>
<rect x="1529.8" y="1299.8" width="38.8" height="13.3" fill="#6ed20a"/>
<rect x="1567.9" y="1299.8" width="204.1" height="13.3" fill="#5acd0f"/>
<rect x="1771.4" y="1299.8" width="64.2" height="13.3" fill="#6ed20a"/>
<rect x="1835.0" y="1299.8" width="38.8" height="13.3" fill="#8cdc0a"/>
<rect x="1873.1" y="1299.8" width="51.5" height="13.3" fill="#a0e105"/>
<rect x="1924.0" y="1299.8" width="89.6" height="13.3" fill="#b4e605"/>
<rect x="487.0" y="1312.5" width="547.4" height="13.3" fill="#b4e605"/>
<rect x="1033.8" y="1312.5" width="76.9" height="13.3" fill="#c8eb05"/>
<rect x="1110.1" y="1312.5" width="76.9" height="13.3" fill="#dcf000"/>
<rect x="1186.4" y="1312.5" width="51.5" height="13.3" fill="#ebf800"/>
<rect x="1237.3" y="1312.5" width="89.6" height="13.3" fill="#dcf000"/>
<rect x="1326.3" y="1312.5" width="76.9" height="13.3" fill="#c8eb05"/>
<rect x="1402.6" y="1312.5" width="51.5" height="13.3" fill="#b4e605"/>
<rect x="1453.5" y="1312.5" width="38.8" height="13.3" fill="#a0e105"/>
<rect x="1491.6" y="1312.5" width="38.8" height="13.3" fill="#8cdc0a"/>
<rect x="1529.8" y="1312.5" width="38.8" height="13.3" fill="#6ed20a"/>
<rect x="1567.9" y="1312.5" width="216.8" height="13.3" fill="#5acd0f"/>
<rect x="1784.1" y="1312.5" width="51.5" height="13.3" fill="#6ed20a"/>
<rect x="1835.0" y="1312.5" width="38.8" height="13.3" fill="#8cdc0a"/>
<rect x="1873.1" y="1312.5" width="64.2" height="13.3" fill="#a0e105"/>
<rect x="1936.7" y="1312.5" width="76.9" height="13.3" fill="#b4e605"/>
<rect x="487.0" y="1325.2" width="534.7" height="13.3" fill="#b4e605"/>
<rect x="1021.1" y="1325.2" width="76.9" height="13.3" fill="#c8eb05"/>
<rect x="1097.4" y="1325.2" width="76.9" height="13.3" fill="#dcf000"/>
<rect x="1173.7" y="1325.2" width="76.9" height="13.3" fill="#ebf800"/>
<rect x="1250.0" y="1325.2" width="76.9" height="13.3" fill="#dcf000"/>
<rect x="1326.3" y="1325.2" width="76.9" height="13.3" fill="#c8eb05"/>
<rect x="1402.6" y="1325.2" width="64.2" height="13.3" fill="#b4e605"/>
<rect x="1466.2" y="1325.2" width="38.8" height="13.3" fill="#a0e105"/>
<rect x="1504.3" y="1325.2" width="38.8" height="13.3" fill="#8cdc0a"/>
<rect x="1542.5" y="1325.2" width="38.8" height="13.3" fill="#6ed20a"/>
<rect x="1580.6" y="1325.2" width="204.1" height="13.3" fill="#5acd0f"/>
<rect x="1784.1" y="1325.2" width="51.5" height="13.3" fill="#6ed20a"/>
<rect x="1835.0" y="1325.2" width="38.8" height="13.3" fill="#8cdc0a"/>
<rect x="1873.1" y="1325.2" width="64.2" height="13.3" fill="#a0e105"/>
<rect x="1936.7" y="1325.2" width="76.9" height="13.3" fill="#b4e605"/>
<rect x="487.0" y="1337.9" width="509.3" height="13.3" fill="#b4e605"/>
<rect x="995.7" y="1337.9" width="76.9" height="13.3" fill="#c8eb05"/>
<rect x="1072.0" y="1337.9" width="89.6" height="13.3" fill="#dcf000"/>
<rect x="1161.0" y="1337.9" width="89.6" height="13.3" fill="#ebf800"/>
<rect x="1250.0" y="1337.9" width="76.9" height="13.3" fill="#dcf000"/>
<rect x="1326.3" y="1337.9" width="76.9" height="13.3" fill="#c8eb05"/>
<rect x="1402.6" y="1337.9" width="64.2" height="13.3" fill="#b4e605"/>
<rect x="1466.2" y="1337.9" width="38.8" height="13.3" fill="#a0e105"/>
<rect x="1504.3" y="1337.9" width="51.5" height="13.3" fill="#8cdc0a"/>
<rect x="1555.2" y="1337.9" width="38.8" height="13.3" fill="#6ed20a"/>
<rect x="1593.3" y="1337.9" width="178.6" height="13.3" fill="#5acd0f"/>
<rect x="1771.4" y="1337.9" width="64.2" height="13.3" fill="#6ed20a"/>
<rect x="1835.0" y="1337.9" width="38.8" height="13.3" fill="#8cdc0a"/>
<rect x="1873.1" y="1337.9" width="64.2" height="13.3" fill="#a0e105"/>
<rect x="1936.7" y="1337.9" width="76.9" height="13.3" fill="#b4e605"/>
<rect x="487.0" y="1350.6" width="509.3" height="13.3" fill="#b4e605"/>
<rect x="995.7" y="1350.6" width="76.9" height="13.3" fill="#c8eb05"/>
<rect x="1072.0" y="1350.6" width="76.9" height="13.3" fill="#dcf000"/>
<rect x="1148.3" y="1350.6" width="102.3" height="13.3" fill="#ebf800"/>
<rect x="1250.0" y="1350.6" width="76.9" height="13.3" fill="#dcf000"/>
<rect x="1326.3" y="1350.6" width="76.9" height="13.3" fill="#c8eb05"/>
<rect x="1402.6" y="1350.6" width="64.2" height="13.3" fill="#b4e605"/>
<rect x="1466.2" y="1350.6" width="51.5" height="13.3" fill="#a0e105"/>
<rect x="1517.0" y="1350.6" width="38.8" height="13.3" fill="#8cdc0a"/>
<rect x="1555.2" y="1350.6" width="102.3" height="13.3" fill="#6ed20a"/>
<rect x="1656.9" y="1350.6" width="102.3" height="13.3" fill="#5acd0f"/>
<rect x="1758.7" y="1350.6" width="76.9" height="13.3" fill="#6ed20a"/>
<rect x="1835.0" y="1350.6" width="38.8" height="13.3" fill="#8cdc0a"/>
<rect x="1873.1" y="1350.6" width="64.2" height="13.3" fill="#a0e105"/>
<rect x="1936.7" y="1350.6" width="76.9" height="13.3" fill="#b4e605"/>
<rect x="487.0" y="1363.4" width="254.9" height="13.3" fill="#b4e605"/>
<rect x="741.3" y="1363.4" width="26.0" height="13.3" fill="#c8eb05"/>
<rect x="766.8" y="1363.4" width="204.1" height="13.3" fill="#b4e605"/>
<rect x="970.2" y="1363.4" width="89.6" height="13.3" fill="#c8eb05"/>
<rect x="1059.2" y="1363.4" width="64.2" height="13.3" fill="#dcf000"/>
<rect x="1122.8" y="1363.4" width="127.8" height="13.3" fill="#ebf800"/>
<rect x="1250.0" y="1363.4" width="76.9" height="13.3" fill="#dcf000"/>
<rect x="1326.3" y="1363.4" width="76.9" height="13.3" fill="#c8eb05"/>
<rect x="1402.6" y="1363.4" width="64.2" height="13.3" fill="#b4e605"/>
<rect x="1466.2" y="1363.4" width="51.5" height="13.3" fill="#a0e105"/>
<rect x="1517.0" y="1363.4" width="64.2" height="13.3" fill="#8cdc0a"/>
<rect x="1580.6" y="1363.4" width="254.9" height="13.3" fill="#6ed20a"/>
<rect x="1835.0" y="1363.4" width="38.8" height="13.3" fill="#8cdc0a"/>
<rect x="1873.1" y="1363.4" width="64.2" height="13.3" fill="#a0e105"/>
<rect x="1936.7" y="1363.4" width="76.9" height="13.3" fill="#b4e605"/>
<rect x="487.0" y="1376.1" width="242.2" height="13.3" fill="#b4e605"/>
<rect x="728.6" y="1376.1" width="51.5" height="13.3" fill="#c8eb05"/>
<rect x="779.5" y="1376.1" width="178.6" height="13.3" fill="#b4e605"/>
<rect x="957.5" y="1376.1" width="76.9" height="13.3" fill="#c8eb05"/>
<rect x="1033.8" y="1376.1" width="76.9" height="13.3" fill="#dcf000"/>
<rect x="1110.1" y="1376.1" width="140.5" height="13.3" fill="#ebf800"/>
<rect x="1250.0" y="1376.1" width="76.9" height="13.3" fill="#dcf000"/>
<rect x="1326.3" y="1376.1" width="76.9" height="13.3" fill="#c8eb05"/>
<rect x="1402.6" y="1376.1" width="64.2" height="13.3" fill="#b4e605"/>
<rect x="1466.2" y="1376.1" width="64.2" height="13.3" fill="#a0e105"/>
<rect x="1529.8" y="1376.1" width="64.2" height="13.3" fill="#8cdc0a"/>
<rect x="1593.3" y="1376.1" width="242.2" height="13.3" fill="#6ed20a"/>
<rect x="1835.0" y="1376.1" width="38.8" height="13.3" fill="#8cdc0a"/>
<rect x="1873.1" y="1376.1" width="64.2" height="13.3" fill="#a0e105"/>
<rect x="1936.7" y="1376.1" width="76.9" height="13.3" fill="#b4e605"/>
<rect x="487.0" y="1388.8" width="229.5" height="13.3" fill="#b4e605"/>
<rect x="715.9" y="1388.8" width="76.9" height="13.3" fill="#c8eb05"/>
<rect x="792.2" y="1388.8" width="153.2" height="13.3" fill="#b4e605"/>
<rect x="944.8" y="1388.8" width="89.6" height="13.3" fill="#c8eb05"/>
<rect x="1033.8" y="1388.8" width="64.2" height="13.3" fill="#dcf000"/>
<rect x="1097.4" y="1388.8" width="153.2" height="13.3" fill="#ebf800"/>
<rect x="1250.0" y="1388.8" width="76.9" height="13.3" fill="#dcf000"/>
<rect x="1326.3" y="1388.8" width="76.9" height="13.3" fill="#c8eb05"/>
<rect x="1402.6" y="1388.8" width="76.9" height="13.3" fill="#b4e605"/>
<rect x="1478.9" y="1388.8" width="64.2" height="13.3" fill="#a0e105"/>
<rect x="1542.5" y="1388.8" width="76.9" height="13.3" fill="#8cdc0a"/>
<rect x="1618.8" y="1388.8" width="216.8" height="13.3" fill="#6ed20a"/>
<rect x="1835.0" y="1388.8" width="38.8" height="13.3" fill="#8cdc0a"/>
<rect x="1873.1" y="1388.8" width="64.2" height="13.3" fill="#a0e105"/>
<rect x="1936.7" y="1388.8" width="76.9" height="13.3" fill="#b4e605"/>
<rect x="487.0" y="1401.5" width="229.5" height="13.3" fill="#b4e605"/>
<rect x="715.9" y="1401.5" width="76.9" height="13.3" fill="#c8eb05"/>
<rect x="792.2" y="1401.5" width="140.5" height="13.3" fill="#b4e605"/>
<rect x="932.1" y="1401.5" width="76.9" height="13.3" fill="#c8eb05"/>
<rect x="1008.4" y="1401.5" width="89.6" height="13.3" fill="#dcf000"/>
<rect x="1097.4" y="1401.5" width="153.2" height="13.3" fill="#ebf800"/>
<rect x="1250.0" y="1401.5" width="76.9" height="13.3" fill="#dcf000"/>
<rect x="1326.3" y="1401.5" width="76.9" height="13.3" fill="#c8eb05"/>
<rect x="1402.6" y="1401.5" width="76.9" height="13.3" fill="#b4e605"/>
<rect x="1478.9" y="1401.5" width="76.9" height="13.3" fill="#a0e105"/>
<rect x="1555.2" y="1401.5" width="76.9" height="13.3" fill="#8cdc0a"/>
<rect x="1631.5" y="1401.5" width="204.1" height="13.3" fill="#6ed20a"/>
<rect x="1835.0" y="1401.5" width="38.8" height="13.3" fill="#8cdc0a"/>
<rect x="1873.1" y="1401.5" width="64.2" height="13.3" fill="#a0e105"/>
<rect x="1936.7" y="1401.5" width="76.9" height="13.3" fill="#b4e605"/>
<rect x="487.0" y="1414.2" width="216.8" height="13.3" fill="#b4e605"/>
<rect x="703.2" y="1414.2" width="102.3" height="13.3" fill="#c8eb05"/>
<rect x="804.9" y="1414.2" width="102.3" height="13.3" fill="#b4e605"/>
<rect x="906.6" y="1414.2" width="76.9" height="13.3" fill="#c8eb05"/>
<rect x="983.0" y="1414.2" width="102.3" height="13.3" fill="#dcf000"/>
<rect x="1084.7" y="1414.2" width="153.2" height="13.3" fill="#ebf800"/>
<rect x="1237.3" y="1414.2" width="76.9" height="13.3" fill="#dcf000"/>
<rect x="1313.6" y="1414.2" width="76.9" height="13.3" fill="#c8eb05"/>
<rect x="1389.9" y="1414.2" width="89.6" height="13.3" fill="#b4e605"/>
<rect x="1478.9" y="1414.2" width="76.9" height="13.3" fill="#a0e105"/>
<rect x="1555.2" y="1414.2" width="76.9" height="13.3" fill="#8cdc0a"/>
<rect x="1631.5" y="1414.2" width="204.1" height="13.3" fill="#6ed20a"/>
<rect x="1835.0" y="1414.2" width="38.8" height="13.3" fill="#8cdc0a"/>
<rect x="1873.1" y="1414.2" width="64.2" height="13.3" fill="#a0e105"/>
<rect x="1936.7" y="1414.2" width="76.9" height="13.3" fill="#b4e605"/>
<rect x="487.0" y="1426.9" width="204.1" height="13.3" fill="#b4e605"/>
<rect x="690.5" y="1426.9" width="127.8" height="13.3" fill="#c8eb05"/>
<rect x="817.6" y="1426.9" width="26.0" height="13.3" fill="#b4e605"/>
<rect x="843.1" y="1426.9" width="115.0" height="13.3" fill="#c8eb05"/>
<rect x="957.5" y="1426.9" width="115.0" height="13.3" fill="#dcf000"/>
<rect x="1072.0" y="1426.9" width="153.2" height="13.3" fill="#ebf800"/>
<rect x="1224.6" y="1426.9" width="76.9" height="13.3" fill="#dcf000"/>
<rect x="1300.9" y="1426.9" width="76.9" height="13.3" fill="#c8eb05"/>
<rect x="1377.2" y="1426.9" width="102.3" height="13.3" fill="#b4e605"/>
<rect x="1478.9" y="1426.9" width="76.9" height="13.3" fill="#a0e105"/>
<rect x="1555.2" y="1426.9" width="76.9" height="13.3" fill="#8cdc0a"/>
<rect x="1631.5" y="1426.9" width="191.3" height="13.3" fill="#6ed20a"/>
<rect x="1822.2" y="1426.9" width="51.5" height="13.3" fill="#8cdc0a"/>
<rect x="1873.1" y="1426.9" width="64.2" height="13.3" fill="#a0e105"/>
<rect x="1936.7" y="1426.9" width="76.9" height="13.3" fill="#b4e605"/>
<rect x="487.0" y="1439.6" width="102.3" height="13.3" fill="#b4e605"/>
<rect x="588.7" y="1439.6" width="344.0" height="13.3" fill="#c8eb05"/>
<rect x="932.1" y="1439.6" width="115.0" height="13.3" fill="#dcf000"/>
<rect x="1046.5" y="1439.6" width="153.2" height="13.3" fill="#ebf800"/>
<rect x="1199.1" y="1439.6" width="89.6" height="13.3" fill="#dcf000"/>
<rect x="1288.2" y="1439.6" width="76.9" height="13.3" fill="#c8eb05"/>
<rect x="1364.5" y="1439.6" width="115.0" height="13.3" fill="#b4e605"/>
<rect x="1478.9" y="1439.6" width="76.9" height="13.3" fill="#a0e105"/>
<rect x="1555.2" y="1439.6" width="76.9" height="13.3" fill="#8cdc0a"/>
<rect x="1631.5" y="1439.6" width="178.6" height="13.3" fill="#6ed20a"/>
<rect x="1809.5" y="1439.6" width="64.2" height="13.3" fill="#8cdc0a"/>
<rect x="1873.1" y="1439.6" width="64.2" height="13.3" fill="#a0e105"/>
<rect x="1936.7" y="1439.6" width="76.9" height="13.3" fill="#b4e605"/>
<rect x="487.0" y="1452.3" width="89.6" height="13.3" fill="#b4e605"/>
<rect x="576.0" y="1452.3" width="331.2" height="13.3" fill="#c8eb05"/>
<rect x="906.6" y="1452.3" width="76.9" height="13.3" fill="#dcf000"/>
<rect x="983.0" y="1452.3" width="204.1" height="13.3" fill="#ebf800"/>
<rect x="1186.4" y="1452.3" width="89.6" height="13.3" fill="#dcf000"/>
<rect x="1275.4" y="1452.3" width="76.9" height="13.3" fill="#c8eb05"/>
<rect x="1351.7" y="1452.3" width="127.8" height="13.3" fill="#b4e605"/>
<rect x="1478.9" y="1452.3" width="76.9" height="13.3" fill="#a0e105"/>
<rect x="1555.2" y="1452.3" width="76.9" height="13.3" fill="#8cdc0a"/>
<rect x="1631.5" y="1452.3" width="165.9" height="13.3" fill="#6ed20a"/>
<rect x="1796.8" y="1452.3" width="76.9" height="13.3" fill="#8cdc0a"/>
<rect x="1873.1" y="1452.3" width="64.2" height="13.3" fill="#a0e105"/>
<rect x="1936.7" y="1452.3" width="76.9" height="13.3" fill="#b4e605"/>
<rect x="487.0" y="1465.0" width="76.9" height="13.3" fill="#b4e605"/>
<rect x="563.3" y="1465.0" width="318.5" height="13.3" fill="#c8eb05"/>
<rect x="881.2" y="1465.0" width="76.9" height="13.3" fill="#dcf000"/>
<rect x="957.5" y="1465.0" width="216.8" height="13.3" fill="#ebf800"/>
<rect x="1173.7" y="1465.0" width="89.6" height="13.3" fill="#dcf000"/>
<rect x="1262.7" y="1465.0" width="76.9" height="13.3" fill="#c8eb05"/>
<rect x="1339.0" y="1465.0" width="140.5" height="13.3" fill="#b4e605"/>
<rect x="1478.9" y="1465.0" width="76.9" height="13.3" fill="#a0e105"/>
<rect x="1555.2" y="1465.0" width="76.9" height="13.3" fill="#8cdc0a"/>
<rect x="1631.5" y="1465.0" width="153.2" height="13.3" fill="#6ed20a"/>
<rect x="1784.1" y="1465.0" width="76.9" height="13.3" fill="#8cdc0a"/>
<rect x="1860.4" y="1465.0" width="76.9" height="13.3" fill="#a0e105"/>
<rect x="1936.7" y="1465.0" width="76.9" height="13.3" fill="#b4e605"/>
<rect x="487.0" y="1477.8" width="76.9" height="13.3" fill="#b4e605"/>
<rect x="563.3" y="1477.8" width="305.8" height="13.3" fill="#c8eb05"/>
<rect x="868.5" y="1477.8" width="76.9" height="13.3" fill="#dcf000"/>
<rect x="944.8" y="1477.8" width="204.1" height="13.3" fill="#ebf800"/>
<rect x="1148.3" y="1477.8" width="76.9" height="13.3" fill="#dcf000"/>
<rect x="1224.6" y="1477.8" width="64.2" height="13.3" fill="#c8eb05"/>
<rect x="1288.2" y="1477.8" width="165.9" height="13.3" fill="#b4e605"/>
<rect x="1453.5" y="1477.8" width="89.6" height="13.3" fill="#a0e105"/>
<rect x="1542.5" y="1477.8" width="89.6" height="13.3" fill="#8cdc0a"/>
<rect x="1631.5" y="1477.8" width="153.2" height="13.3" fill="#6ed20a"/>
<rect x="1784.1" y="1477.8" width="76.9" height="13.3" fill="#8cdc0a"/>
<rect x="1860.4" y="1477.8" width="76.9" height="13.3" fill="#a0e105"/>
<rect x="1936.7" y="1477.8" width="76.9" height="13.3" fill="#b4e605"/>
<rect x="487.0" y="1490.5" width="64.2" height="13.3" fill="#b4e605"/>
<rect x="550.6" y="1490.5" width="293.1" height="13.3" fill="#c8eb05"/>
<rect x="843.1" y="1490.5" width="89.6" height="13.3" fill="#dcf000"/>
<rect x="932.1" y="1490.5" width="165.9" height="13.3" fill="#ebf800"/>
<rect x="1097.4" y="1490.5" width="89.6" height="13.3" fill="#dcf000"/>
<rect x="1186.4" y="1490.5" width="64.2" height="13.3" fill="#c8eb05"/>
<rect x="1250.0" y="1490.5" width="38.8" height="13.3" fill="#b4e605"/>
<rect x="1288.2" y="1490.5" width="229.5" height="13.3" fill="#a0e105"/>
<rect x="1517.0" y="1490.5" width="115.0" height="13.3" fill="#8cdc0a"/>
<rect x="1631.5" y="1490.5" width="153.2" height="13.3" fill="#6ed20a"/>
<rect x="1784.1" y="1490.5" width="64.2" height="13.3" fill="#8cdc0a"/>
<rect x="1847.7" y="1490.5" width="64.2" height="13.3" fill="#a0e105"/>
<rect x="1911.3" y="1490.5" width="102.3" height="13.3" fill="#b4e605"/>
<rect x="487.0" y="1503.2" width="51.5" height="13.3" fill="#b4e605"/>
<rect x="537.9" y="1503.2" width="305.8" height="13.3" fill="#c8eb05"/>
<rect x="843.1" y="1503.2" width="76.9" height="13.3" fill="#dcf000"/>
<rect x="919.4" y="1503.2" width="165.9" height="13.3" fill="#ebf800"/>
<rect x="1084.7" y="1503.2" width="38.8" height="13.3" fill="#dcf000"/>
<rect x="1122.8" y="1503.2" width="102.3" height="13.3" fill="#c8eb05"/>
<rect x="1224.6" y="1503.2" width="26.0" height="13.3" fill="#b4e605"/>
<rect x="1250.0" y="1503.2" width="38.8" height="13.3" fill="#a0e105"/>
<rect x="1288.2" y="1503.2" width="344.0" height="13.3" fill="#8cdc0a"/>
<rect x="1631.5" y="1503.2" width="153.2" height="13.3" fill="#6ed20a"/>
<rect x="1784.1" y="1503.2" width="64.2" height="13.3" fill="#8cdc0a"/>
<rect x="1847.7" y="1503.2" width="64.2" height="13.3" fill="#a0e105"/>
<rect x="1911.3" y="1503.2" width="102.3" height="13.3" fill="#b4e605"/>
<rect x="487.0" y="1515.9" width="178.6" height="13.3" fill="#c8eb05"/>
<rect x="665.0" y="1515.9" width="229.5" height="13.3" fill="#dcf000"/>
<rect x="893.9" y="1515.9" width="178.6" height="13.3" fill="#ebf800"/>
<rect x="1072.0" y="1515.9" width="38.8" height="13.3" fill="#dcf000"/>
<rect x="1110.1" y="1515.9" width="51.5" height="13.3" fill="#c8eb05"/>
<rect x="1161.0" y="1515.9" width="76.9" height="13.3" fill="#b4e605"/>
<rect x="1237.3" y="1515.9" width="26.0" height="13.3" fill="#a0e105"/>
<rect x="1262.7" y="1515.9" width="26.0" height="13.3" fill="#8cdc0a"/>
<rect x="1288.2" y="1515.9" width="140.5" height="13.3" fill="#6ed20a"/>
<rect x="1428.0" y="1515.9" width="204.1" height="13.3" fill="#8cdc0a"/>
<rect x="1631.5" y="1515.9" width="153.2" height="13.3" fill="#6ed20a"/>
<rect x="1784.1" y="1515.9" width="64.2" height="13.3" fill="#8cdc0a"/>
<rect x="1847.7" y="1515.9" width="51.5" height="13.3" fill="#a0e105"/>
<rect x="1898.5" y="1515.9" width="76.9" height="13.3" fill="#b4e605"/>
<rect x="1974.8" y="1515.9" width="38.8" height="13.3" fill="#c8eb05"/>
<rect x="487.0" y="1528.6" width="165.9" height="13.3" fill="#c8eb05"/>
<rect x="652.3" y="1528.6" width="229.5" height="13.3" fill="#dcf000"/>
<rect x="881.2" y="1528.6" width="191.3" height="13.3" fill="#ebf800"/>
<rect x="1072.0" y="1528.6" width="26.0" height="13.3" fill="#dcf000"/>
<rect x="1097.4" y="1528.6" width="26.0" height="13.3" fill="#c8eb05"/>
<rect x="1122.8" y="1528.6" width="89.6" height="13.3" fill="#b4e605"/>
<rect x="1211.8" y="1528.6" width="26.0" height="13.3" fill="#a0e105"/>
<rect x="1237.3" y="1528.6" width="26.0" height="13.3" fill="#8cdc0a"/>
<rect x="1262.7" y="1528.6" width="26.0" height="13.3" fill="#6ed20a"/>
<rect x="1288.2" y="1528.6" width="127.8" height="13.3" fill="#5acd0f"/>
<rect x="1415.3" y="1528.6" width="102.3" height="13.3" fill="#6ed20a"/>
<rect x="1517.0" y="1528.6" width="115.0" height="13.3" fill="#8cdc0a"/>
<rect x="1631.5" y="1528.6" width="153.2" height="13.3" fill="#6ed20a"/>
<rect x="1784.1" y="1528.6" width="64.2" height="13.3" fill="#8cdc0a"/>
<rect x="1847.7" y="1528.6" width="38.8" height="13.3" fill="#a0e105"/>
<rect x="1885.8" y="1528.6" width="64.2" height="13.3" fill="#b4e605"/>
<rect x="1949.4" y="1528.6" width="64.2" height="13.3" fill="#c8eb05"/>
<rect x="487.0" y="1541.3" width="153.2" height="13.3" fill="#c8eb05"/>
<rect x="639.6" y="1541.3" width="242.2" height="13.3" fill="#dcf000"/>
<rect x="881.2" y="1541.3" width="191.3" height="13.3" fill="#ebf800"/>
<rect x="1072.0" y="1541.3" width="13.3" height="13.3" fill="#dcf000"/>
<rect x="1084.7" y="1541.3" width="26.0" height="13.3" fill="#c8eb05"/>
<rect x="1110.1" y="1541.3" width="26.0" height="13.3" fill="#b4e605"/>
<rect x="1135.5" y="1541.3" width="89.6" height="13.3" fill="#a0e105"/>
<rect x="1224.6" y="1541.3" width="26.0" height="13.3" fill="#8cdc0a"/>
<rect x="1250.0" y="1541.3" width="13.3" height="13.3" fill="#6ed20a"/>
<rect x="1262.7" y="1541.3" width="26.0" height="13.3" fill="#5acd0f"/>
<rect x="1288.2" y="1541.3" width="115.0" height="13.3" fill="#46c80f"/>
<rect x="1402.6" y="1541.3" width="51.5" height="13.3" fill="#5acd0f"/>
<rect x="1453.5" y="1541.3" width="89.6" height="13.3" fill="#6ed20a"/>
<rect x="1542.5" y="1541.3" width="89.6" height="13.3" fill="#8cdc0a"/>
<rect x="1631.5" y="1541.3" width="153.2" height="13.3" fill="#6ed20a"/>
<rect x="1784.1" y="1541.3" width="64.2" height="13.3" fill="#8cdc0a"/>
<rect x="1847.7" y="1541.3" width="38.8" height="13.3" fill="#a0e105"/>
<rect x="1885.8" y="1541.3" width="64.2" height="13.3" fill="#b4e605"/>
<rect x="1949.4" y="1541.3" width="64.2" height="13.3" fill="#c8eb05"/>
<rect x="487.0" y="1554.0" width="153.2" height="13.3" fill="#c8eb05"/>
<rect x="639.6" y="1554.0" width="229.5" height="13.3" fill="#dcf000"/>
<rect x="868.5" y="1554.0" width="191.3" height="13.3" fill="#ebf800"/>
<rect x="1059.2" y="1554.0" width="26.0" height="13.3" fill="#dcf000"/>
<rect x="1084.7" y="1554.0" width="13.3" height="13.3" fill="#c8eb05"/>
<rect x="1097.4" y="1554.0" width="26.0" height="13.3" fill="#b4e605"/>
<rect x="1122.8" y="1554.0" width="89.6" height="13.3" fill="#a0e105"/>
<rect x="1211.8" y="1554.0" width="26.0" height="13.3" fill="#8cdc0a"/>
<rect x="1237.3" y="1554.0" width="13.3" height="13.3" fill="#6ed20a"/>
<rect x="1250.0" y="1554.0" width="26.0" height="13.3" fill="#5acd0f"/>
<rect x="1275.4" y="1554.0" width="38.8" height="13.3" fill="#46c80f"/>
<rect x="1313.6" y="1554.0" width="76.9" height="13.3" fill="#32be14"/>
<rect x="1389.9" y="1554.0" width="38.8" height="13.3" fill="#46c80f"/>
<rect x="1428.0" y="1554.0" width="51.5" height="13.3" fill="#5acd0f"/>
<rect x="1478.9" y="1554.0" width="76.9" height="13.3" fill="#6ed20a"/>
<rect x="1555.2" y="1554.0" width="76.9" height="13.3" fill="#8cdc0a"/>
<rect x="1631.5" y="1554.0" width="140.5" height="13.3" fill="#6ed20a"/>
<rect x="1771.4" y="1554.0" width="64.2" height="13.3" fill="#8cdc0a"/>
<rect x="1835.0" y="1554.0" width="38.8" height="13.3" fill="#a0e105"/>
<rect x="1873.1" y="1554.0" width="64.2" height="13.3" fill="#b4e605"/>
<rect x="1936.7" y="1554.0" width="76.9" height="13.3" fill="#c8eb05"/>
<rect x="487.0" y="1566.8" width="140.5" height="13.3" fill="#c8eb05"/>
<rect x="626.9" y="1566.8" width="242.2" height="13.3" fill="#dcf000"/>
<rect x="868.5" y="1566.8" width="153.2" height="13.3" fill="#ebf800"/>
<rect x="1021.1" y="1566.8" width="51.5" height="13.3" fill="#dcf000"/>
<rect x="1072.0" y="1566.8" width="13.3" height="13.3" fill="#c8eb05"/>
<rect x="1084.7" y="1566.8" width="26.0" height="13.3" fill="#b4e605"/>
<rect x="1110.1" y="1566.8" width="26.0" height="13.3" fill="#a0e105"/>
<rect x="1135.5" y="1566.8" width="89.6" height="13.3" fill="#8cdc0a"/>
<rect x="1224.6" y="1566.8" width="26.0" height="13.3" fill="#6ed20a"/>
<rect x="1250.0" y="1566.8" width="13.3" height="13.3" fill="#5acd0f"/>
<rect x="1262.7" y="1566.8" width="26.0" height="13.3" fill="#46c80f"/>
<rect x="1288.2" y="1566.8" width="102.3" height="13.3" fill="#32be14"/>
<rect x="1389.9" y="1566.8" width="38.8" height="13.3" fill="#46c80f"/>
<rect x="1428.0" y="1566.8" width="51.5" height="13.3" fill="#5acd0f"/>
<rect x="1478.9" y="1566.8" width="76.9" height="13.3" fill="#6ed20a"/>
<rect x="1555.2" y="1566.8" width="89.6" height="13.3" fill="#8cdc0a"/>
<rect x="1644.2" y="1566.8" width="115.0" height="13.3" fill="#6ed20a"/>
<rect x="1758.7" y="1566.8" width="64.2" height="13.3" fill="#8cdc0a"/>
<rect x="1822.2" y="1566.8" width="38.8" height="13.3" fill="#a0e105"/>
<rect x="1860.4" y="1566.8" width="64.2" height="13.3" fill="#b4e605"/>
<rect x="1924.0" y="1566.8" width="89.6" height="13.3" fill="#c8eb05"/>
<rect x="487.0" y="1579.5" width="127.8" height="13.3" fill="#c8eb05"/>
<rect x="614.2" y="1579.5" width="254.9" height="13.3" fill="#dcf000"/>
<rect x="868.5" y="1579.5" width="140.5" height="13.3" fill="#ebf800"/>
<rect x="1008.4" y="1579.5" width="38.8" height="13.3" fill="#dcf000"/>
<rect x="1046.5" y="1579.5" width="26.0" height="13.3" fill="#c8eb05"/>
<rect x="1072.0" y="1579.5" width="26.0" height="13.3" fill="#b4e605"/>
<rect x="1097.4" y="1579.5" width="26.0" height="13.3" fill="#a0e105"/>
<rect x="1122.8" y="1579.5" width="64.2" height="13.3" fill="#8cdc0a"/>
<rect x="1186.4" y="1579.5" width="51.5" height="13.3" fill="#6ed20a"/>
<rect x="1237.3" y="1579.5" width="13.3" height="13.3" fill="#5acd0f"/>
<rect x="1250.0" y="1579.5" width="26.0" height="13.3" fill="#46c80f"/>
<rect x="1275.4" y="1579.5" width="115.0" height="13.3" fill="#32be14"/>
<rect x="1389.9" y="1579.5" width="38.8" height="13.3" fill="#46c80f"/>
<rect x="1428.0" y="1579.5" width="51.5" height="13.3" fill="#5acd0f"/>
<rect x="1478.9" y="1579.5" width="76.9" height="13.3" fill="#6ed20a"/>
<rect x="1555.2" y="1579.5" width="102.3" height="13.3" fill="#8cdc0a"/>
<rect x="1656.9" y="1579.5" width="89.6" height="13.3" fill="#6ed20a"/>
<rect x="1746.0" y="1579.5" width="64.2" height="13.3" fill="#8cdc0a"/>
<rect x="1809.5" y="1579.5" width="51.5" height="13.3" fill="#a0e105"/>
<rect x="1860.4" y="1579.5" width="51.5" height="13.3" fill="#b4e605"/>
<rect x="1911.3" y="1579.5" width="102.3" height="13.3" fill="#c8eb05"/>
<rect x="487.0" y="1592.2" width="254.9" height="13.3" fill="#dcf000"/>
<rect x="741.3" y="1592.2" width="26.0" height="13.3" fill="#c8eb05"/>
<rect x="766.8" y="1592.2" width="102.3" height="13.3" fill="#dcf000"/>
<rect x="868.5" y="1592.2" width="127.8" height="13.3" fill="#ebf800"/>
<rect x="995.7" y="1592.2" width="38.8" height="13.3" fill="#dcf000"/>
<rect x="1033.8" y="1592.2" width="26.0" height="13.3" fill="#c8eb05"/>
<rect x="1059.2" y="1592.2" width="26.0" height="13.3" fill="#b4e605"/>
<rect x="1084.7" y="1592.2" width="26.0" height="13.3" fill="#a0e105"/>
<rect x="1110.1" y="1592.2" width="26.0" height="13.3" fill="#8cdc0a"/>
<rect x="1135.5" y="1592.2" width="76.9" height="13.3" fill="#6ed20a"/>
<rect x="1211.8" y="1592.2" width="26.0" height="13.3" fill="#5acd0f"/>
<rect x="1237.3" y="1592.2" width="38.8" height="13.3" fill="#46c80f"/>
<rect x="1275.4" y="1592.2" width="76.9" height="13.3" fill="#32be14"/>
<rect x="1351.7" y="1592.2" width="13.3" height="13.3" fill="#14b919"/>
<rect x="1364.5" y="1592.2" width="38.8" height="13.3" fill="#32be14"/>
<rect x="1402.6" y="1592.2" width="26.0" height="13.3" fill="#46c80f"/>
<rect x="1428.0" y="1592.2" width="51.5" height="13.3" fill="#5acd0f"/>
<rect x="1478.9" y="1592.2" width="76.9" height="13.3" fill="#6ed20a"/>
<rect x="1555.2" y="1592.2" width="229.5" height="13.3" fill="#8cdc0a"/>
<rect x="1784.1" y="1592.2" width="51.5" height="13.3" fill="#a0e105"/>
<rect x="1835.0" y="1592.2" width="64.2" height="13.3" fill="#b4e605"/>
<rect x="1898.5" y="1592.2" width="115.0" height="13.3" fill="#c8eb05"/>
<rect x="487.0" y="1604.9" width="242.2" height="13.3" fill="#dcf000"/>
<rect x="728.6" y="1604.9" width="51.5" height="13.3" fill="#c8eb05"/>
<rect x="779.5" y="1604.9" width="89.6" height="13.3" fill="#dcf000"/>
<rect x="868.5" y="1604.9" width="127.8" height="13.3" fill="#ebf800"/>
<rect x="995.7" y="1604.9" width="26.0" height="13.3" fill="#dcf000"/>
<rect x="1021.1" y="1604.9" width="26.0" height="13.3" fill="#c8eb05"/>
<rect x="1046.5" y="1604.9" width="26.0" height="13.3" fill="#b4e605"/>
<rect x="1072.0" y="1604.9" width="26.0" height="13.3" fill="#a0e105"/>
<rect x="1097.4" y="1604.9" width="26.0" height="13.3" fill="#8cdc0a"/>
<rect x="1122.8" y="1604.9" width="38.8" height="13.3" fill="#6ed20a"/>
<rect x="1161.0" y="1604.9" width="64.2" height="13.3" fill="#5acd0f"/>
<rect x="1224.6" y="1604.9" width="38.8" height="13.3" fill="#46c80f"/>
<rect x="1262.7" y="1604.9" width="26.0" height="13.3" fill="#32be14"/>
<rect x="1288.2" y="1604.9" width="89.6" height="13.3" fill="#14b919"/>
<rect x="1377.2" y="1604.9" width="26.0" height="13.3" fill="#32be14"/>
<rect x="1402.6" y="1604.9" width="26.0" height="13.3" fill="#46c80f"/>
<rect x="1428.0" y="1604.9" width="51.5" height="13.3" fill="#5acd0f"/>
<rect x="1478.9" y="1604.9" width="76.9" height="13.3" fill="#6ed20a"/>
<rect x="1555.2" y="1604.9" width="229.5" height="13.3" fill="#8cdc0a"/>
<rect x="1784.1" y="1604.9" width="38.8" height="13.3" fill="#a0e105"/>
<rect x="1822.2" y="1604.9" width="64.2" height="13.3" fill="#b4e605"/>
<rect x="1885.8" y="1604.9" width="127.8" height="13.3" fill="#c8eb05"/>
<rect x="487.0" y="1617.6" width="229.5" height="13.3" fill="#dcf000"/>
<rect x="715.9" y="1617.6" width="76.9" height="13.3" fill="#c8eb05"/>
<rect x="792.2" y="1617.6" width="76.9" height="13.3" fill="#dcf000"/>
<rect x="868.5" y="1617.6" width="127.8" height="13.3" fill="#ebf800"/>
<rect x="995.7" y="1617.6" width="13.3" height="13.3" fill="#dcf000"/>
<rect x="1008.4" y="1617.6" width="26.0" height="13.3" fill="#c8eb05"/>
<rect x="1033.8" y="1617.6" width="26.0" height="13.3" fill="#b4e605"/>
<rect x="1059.2" y="1617.6" width="26.0" height="13.3" fill="#a0e105"/>
<rect x="1084.7" y="1617.6" width="26.0" height="13.3" fill="#8cdc0a"/>
<rect x="1110.1" y="1617.6" width="26.0" height="13.3" fill="#6ed20a"/>
<rect x="1135.5" y="1617.6" width="64.2" height="13.3" fill="#5acd0f"/>
<rect x="1199.1" y="1617.6" width="38.8" height="13.3" fill="#46c80f"/>
<rect x="1237.3" y="1617.6" width="38.8" height="13.3" fill="#32be14"/>
<rect x="1275.4" y="1617.6" width="102.3" height="13.3" fill="#14b919"/>
<rect x="1377.2" y="1617.6" width="26.0" height="13.3" fill="#32be14"/>
<rect x="1402.6" y="1617.6" width="26.0" height="13.3" fill="#46c80f"/>
<rect x="1428.0" y="1617.6" width="51.5" height="13.3" fill="#5acd0f"/>
<rect x="1478.9" y="1617.6" width="76.9" height="13.3" fill="#6ed20a"/>
<rect x="1555.2" y="1617.6" width="216.8" height="13.3" fill="#8cdc0a"/>
<rect x="1771.4" y="1617.6" width="38.8" height="13.3" fill="#a0e105"/>
<rect x="1809.5" y="1617.6" width="64.2" height="13.3" fill="#b4e605"/>
<rect x="1873.1" y="1617.6" width="140.5" height="13.3" fill="#c8eb05"/>
<rect x="487.0" y="1630.3" width="229.5" height="13.3" fill="#dcf000"/>
<rect x="715.9" y="1630.3" width="76.9" height="13.3" fill="#c8eb05"/>
<rect x="792.2" y="1630.3" width="89.6" height="13.3" fill="#dcf000"/>
<rect x="881.2" y="1630.3" width="102.3" height="13.3" fill="#ebf800"/>
<rect x="983.0" y="1630.3" width="26.0" height="13.3" fill="#dcf000"/>
<rect x="1008.4" y="1630.3" width="13.3" height="13.3" fill="#c8eb05"/>
<rect x="1021.1" y="1630.3" width="26.0" height="13.3" fill="#b4e605"/>
<rect x="1046.5" y="1630.3" width="13.3" height="13.3" fill="#a0e105"/>
<rect x="1059.2" y="1630.3" width="26.0" height="13.3" fill="#8cdc0a"/>
<rect x="1084.7" y="1630.3" width="26.0" height="13.3" fill="#6ed20a"/>
<rect x="1110.1" y="1630.3" width="51.5" height="13.3" fill="#5acd0f"/>
<rect x="1161.0" y="1630.3" width="76.9" height="13.3" fill="#46c80f"/>
<rect x="1237.3" y="1630.3" width="38.8" height="13.3" fill="#32be14"/>
<rect x="1275.4" y="1630.3" width="89.6" height="13.3" fill="#14b919"/>
<rect x="1364.5" y="1630.3" width="26.0" height="13.3" fill="#32be14"/>
<rect x="1389.9" y="1630.3" width="26.0" height="13.3" fill="#46c80f"/>
<rect x="1415.3" y="1630.3" width="51.5" height="13.3" fill="#5acd0f"/>
<rect x="1466.2" y="1630.3" width="76.9" height="13.3" fill="#6ed20a"/>
<rect x="1542.5" y="1630.3" width="216.8" height="13.3" fill="#8cdc0a"/>
<rect x="1758.7" y="1630.3" width="38.8" height="13.3" fill="#a0e105"/>
<rect x="1796.8" y="1630.3" width="51.5" height="13.3" fill="#b4e605"/>
<rect x="1847.7" y="1630.3" width="165.9" height="13.3" fill="#c8eb05"/>
<rect x="487.0" y="1643.0" width="254.9" height="13.3" fill="#dcf000"/>
<rect x="741.3" y="1643.0" width="51.5" height="13.3" fill="#c8eb05"/>
<rect x="792.2" y="1643.0" width="204.1" height="13.3" fill="#dcf000"/>
<rect x="995.7" y="1643.0" width="13.3" height="13.3" fill="#c8eb05"/>
<rect x="1008.4" y="1643.0" width="13.3" height="13.3" fill="#b4e605"/>
<rect x="1021.1" y="1643.0" width="26.0" height="13.3" fill="#a0e105"/>
<rect x="1046.5" y="1643.0" width="13.3" height="13.3" fill="#8cdc0a"/>
<rect x="1059.2" y="1643.0" width="26.0" height="13.3" fill="#6ed20a"/>
<rect x="1084.7" y="1643.0" width="38.8" height="13.3" fill="#5acd0f"/>
<rect x="1122.8" y="1643.0" width="140.5" height="13.3" fill="#46c80f"/>
<rect x="1262.7" y="1643.0" width="115.0" height="13.3" fill="#32be14"/>
<rect x="1377.2" y="1643.0" width="26.0" height="13.3" fill="#46c80f"/>
<rect x="1402.6" y="1643.0" width="26.0" height="13.3" fill="#5acd0f"/>
<rect x="1428.0" y="1643.0" width="64.2" height="13.3" fill="#6ed20a"/>
<rect x="1491.6" y="1643.0" width="102.3" height="13.3" fill="#8cdc0a"/>
<rect x="1593.3" y="1643.0" width="178.6" height="13.3" fill="#a0e105"/>
<rect x="1771.4" y="1643.0" width="38.8" height="13.3" fill="#b4e605"/>
<rect x="1809.5" y="1643.0" width="204.1" height="13.3" fill="#c8eb05"/>
<rect x="487.0" y="1655.7" width="254.9" height="13.3" fill="#dcf000"/>
<rect x="741.3" y="1655.7" width="51.5" height="13.3" fill="#c8eb05"/>
<rect x="792.2" y="1655.7" width="191.3" height="13.3" fill="#dcf000"/>
<rect x="983.0" y="1655.7" width="13.3" height="13.3" fill="#c8eb05"/>
<rect x="995.7" y="1655.7" width="26.0" height="13.3" fill="#b4e605"/>
<rect x="1021.1" y="1655.7" width="13.3" height="13.3" fill="#a0e105"/>
<rect x="1033.8" y="1655.7" width="13.3" height="13.3" fill="#8cdc0a"/>
<rect x="1046.5" y="1655.7" width="13.3" height="13.3" fill="#6ed20a"/>
<rect x="1059.2" y="1655.7" width="38.8" height="13.3" fill="#5acd0f"/>
<rect x="1097.4" y="1655.7" width="38.8" height="13.3" fill="#46c80f"/>
<rect x="1135.5" y="1655.7" width="13.3" height="13.3" fill="#32be14"/>
<rect x="1148.3" y="1655.7" width="51.5" height="13.3" fill="#46c80f"/>
<rect x="1199.1" y="1655.7" width="38.8" height="13.3" fill="#5acd0f"/>
<rect x="1237.3" y="1655.7" width="153.2" height="13.3" fill="#46c80f"/>
<rect x="1389.9" y="1655.7" width="26.0" height="13.3" fill="#5acd0f"/>
<rect x="1415.3" y="1655.7" width="51.5" height="13.3" fill="#6ed20a"/>
<rect x="1466.2" y="1655.7" width="89.6" height="13.3" fill="#8cdc0a"/>
<rect x="1555.2" y="1655.7" width="165.9" height="13.3" fill="#a0e105"/>
<rect x="1720.5" y="1655.7" width="64.2" height="13.3" fill="#b4e605"/>
<rect x="1784.1" y="1655.7" width="76.9" height="13.3" fill="#c8eb05"/>
<rect x="1860.4" y="1655.7" width="102.3" height="13.3" fill="#dcf000"/>
<rect x="1962.1" y="1655.7" width="51.5" height="13.3" fill="#c8eb05"/>
<rect x="487.0" y="1668.5" width="102.3" height="13.3" fill="#dcf000"/>
<rect x="588.7" y="1668.5" width="102.3" height="13.3" fill="#ebf800"/>
<rect x="690.5" y="1668.5" width="102.3" height="13.3" fill="#dcf000"/>
<rect x="792.2" y="1668.5" width="51.5" height="13.3" fill="#c8eb05"/>
<rect x="843.1" y="1668.5" width="102.3" height="13.3" fill="#dcf000"/>
<rect x="944.8" y="1668.5" width="51.5" height="13.3" fill="#c8eb05"/>
<rect x="995.7" y="1668.5" width="13.3" height="13.3" fill="#b4e605"/>
<rect x="1008.4" y="1668.5" width="13.3" height="13.3" fill="#a0e105"/>
<rect x="1021.1" y="1668.5" width="13.3" height="13.3" fill="#8cdc0a"/>
<rect x="1033.8" y="1668.5" width="13.3" height="13.3" fill="#6ed20a"/>
<rect x="1046.5" y="1668.5" width="13.3" height="13.3" fill="#5acd0f"/>
<rect x="1059.2" y="1668.5" width="38.8" height="13.3" fill="#46c80f"/>
<rect x="1097.4" y="1668.5" width="64.2" height="13.3" fill="#32be14"/>
<rect x="1161.0" y="1668.5" width="26.0" height="13.3" fill="#46c80f"/>
<rect x="1186.4" y="1668.5" width="89.6" height="13.3" fill="#5acd0f"/>
<rect x="1275.4" y="1668.5" width="89.6" height="13.3" fill="#46c80f"/>
<rect x="1364.5" y="1668.5" width="38.8" height="13.3" fill="#5acd0f"/>
<rect x="1402.6" y="1668.5" width="26.0" height="13.3" fill="#6ed20a"/>
<rect x="1428.0" y="1668.5" width="76.9" height="13.3" fill="#8cdc0a"/>
<rect x="1504.3" y="1668.5" width="127.8" height="13.3" fill="#a0e105"/>
<rect x="1631.5" y="1668.5" width="127.8" height="13.3" fill="#b4e605"/>
<rect x="1758.7" y="1668.5" width="51.5" height="13.3" fill="#c8eb05"/>
<rect x="1809.5" y="1668.5" width="204.1" height="13.3" fill="#dcf000"/>
<rect x="487.0" y="1681.2" width="89.6" height="13.3" fill="#dcf000"/>
<rect x="576.0" y="1681.2" width="127.8" height="13.3" fill="#ebf800"/>
<rect x="703.2" y="1681.2" width="89.6" height="13.3" fill="#dcf000"/>
<rect x="792.2" y="1681.2" width="191.3" height="13.3" fill="#c8eb05"/>
<rect x="983.0" y="1681.2" width="13.3" height="13.3" fill="#b4e605"/>
<rect x="995.7" y="1681.2" width="13.3" height="13.3" fill="#a0e105"/>
<rect x="1008.4" y="1681.2" width="13.3" height="13.3" fill="#8cdc0a"/>
<rect x="1021.1" y="1681.2" width="13.3" height="13.3" fill="#6ed20a"/>
<rect x="1033.8" y="1681.2" width="13.3" height="13.3" fill="#5acd0f"/>
<rect x="1046.5" y="1681.2" width="13.3" height="13.3" fill="#46c80f"/>
<rect x="1059.2" y="1681.2" width="51.5" height="13.3" fill="#32be14"/>
<rect x="1110.1" y="1681.2" width="38.8" height="13.3" fill="#14b919"/>
<rect x="1148.3" y="1681.2" width="26.0" height="13.3" fill="#32be14"/>
<rect x="1173.7" y="1681.2" width="13.3" height="13.3" fill="#46c80f"/>
<rect x="1186.4" y="1681.2" width="191.3" height="13.3" fill="#5acd0f"/>
<rect x="1377.2" y="1681.2" width="38.8" height="13.3" fill="#6ed20a"/>
<rect x="1415.3" y="1681.2" width="38.8" height="13.3" fill="#8cdc0a"/>
<rect x="1453.5" y="1681.2" width="115.0" height="13.3" fill="#a0e105"/>
<rect x="1567.9" y="1681.2" width="51.5" height="13.3" fill="#fff000"/>
<rect x="1618.8" y="1681.2" width="76.9" height="13.3" fill="#b4e605"/>
<rect x="1695.1" y="1681.2" width="76.9" height="13.3" fill="#c8eb05"/>
<rect x="1771.4" y="1681.2" width="242.2" height="13.3" fill="#dcf000"/>
<rect x="487.0" y="1693.9" width="76.9" height="13.3" fill="#dcf000"/>
<rect x="563.3" y="1693.9" width="140.5" height="13.3" fill="#ebf800"/>
<rect x="703.2" y="1693.9" width="89.6" height="13.3" fill="#dcf000"/>
<rect x="792.2" y="1693.9" width="165.9" height="13.3" fill="#c8eb05"/>
<rect x="957.5" y="1693.9" width="38.8" height="13.3" fill="#b4e605"/>
<rect x="995.7" y="1693.9" width="13.3" height="13.3" fill="#a0e105"/>
<rect x="1008.4" y="1693.9" width="13.3" height="13.3" fill="#6ed20a"/>
<rect x="1021.1" y="1693.9" width="13.3" height="13.3" fill="#5acd0f"/>
<rect x="1033.8" y="1693.9" width="13.3" height="13.3" fill="#46c80f"/>
<rect x="1046.5" y="1693.9" width="13.3" height="13.3" fill="#32be14"/>
<rect x="1059.2" y="1693.9" width="64.2" height="13.3" fill="#14b919"/>
<rect x="1122.8" y="1693.9" width="13.3" height="13.3" fill="#0ab41e"/>
<rect x="1135.5" y="1693.9" width="26.0" height="13.3" fill="#14b919"/>
<rect x="1161.0" y="1693.9" width="13.3" height="13.3" fill="#32be14"/>
<rect x="1173.7" y="1693.9" width="13.3" height="13.3" fill="#46c80f"/>
<rect x="1186.4" y="1693.9" width="26.0" height="13.3" fill="#5acd0f"/>
<rect x="1211.8" y="1693.9" width="178.6" height="13.3" fill="#6ed20a"/>
<rect x="1389.9" y="1693.9" width="38.8" height="13.3" fill="#8cdc0a"/>
<rect x="1428.0" y="1693.9" width="76.9" height="13.3" fill="#a0e105"/>
<rect x="1504.3" y="1693.9" width="38.8" height="13.3" fill="#b4e605"/>
<rect x="1542.5" y="1693.9" width="64.2" height="13.3" fill="#fff000"/>
<rect x="1606.1" y="1693.9" width="38.8" height="13.3" fill="#b4e605"/>
<rect x="1644.2" y="1693.9" width="89.6" height="13.3" fill="#c8eb05"/>
<rect x="1733.2" y="1693.9" width="76.9" height="13.3" fill="#dcf000"/>
<rect x="1809.5" y="1693.9" width="115.0" height="13.3" fill="#ebf800"/>
<rect x="1924.0" y="1693.9" width="89.6" height="13.3" fill="#dcf000"/>
<rect x="487.0" y="1706.6" width="64.2" height="13.3" fill="#dcf000"/>
<rect x="550.6" y="1706.6" width="165.9" height="13.3" fill="#ebf800"/>
<rect x="715.9" y="1706.6" width="76.9" height="13.3" fill="#dcf000"/>
<rect x="792.2" y="1706.6" width="153.2" height="13.3" fill="#c8eb05"/>
<rect x="944.8" y="1706.6" width="38.8" height="13.3" fill="#b4e605"/>
<rect x="983.0" y="1706.6" width="13.3" height="13.3" fill="#a0e105"/>
<rect x="995.7" y="1706.6" width="13.3" height="13.3" fill="#8cdc0a"/>
<rect x="1008.4" y="1706.6" width="13.3" height="13.3" fill="#6ed20a"/>
<rect x="1021.1" y="1706.6" width="13.3" height="13.3" fill="#5acd0f"/>
<rect x="1033.8" y="1706.6" width="13.3" height="13.3" fill="#46c80f"/>
<rect x="1046.5" y="1706.6" width="13.3" height="13.3" fill="#32be14"/>
<rect x="1059.2" y="1706.6" width="89.6" height="13.3" fill="#14b919"/>
<rect x="1148.3" y="1706.6" width="13.3" height="13.3" fill="#32be14"/>
<rect x="1161.0" y="1706.6" width="26.0" height="13.3" fill="#46c80f"/>
<rect x="1186.4" y="1706.6" width="13.3" height="13.3" fill="#5acd0f"/>
<rect x="1199.1" y="1706.6" width="178.6" height="13.3" fill="#6ed20a"/>
<rect x="1377.2" y="1706.6" width="26.0" height="13.3" fill="#8cdc0a"/>
<rect x="1402.6" y="1706.6" width="51.5" height="13.3" fill="#a0e105"/>
<rect x="1453.5" y="1706.6" width="64.2" height="13.3" fill="#b4e605"/>
<rect x="1517.0" y="1706.6" width="89.6" height="13.3" fill="#fff000"/>
<rect x="1606.1" y="1706.6" width="13.3" height="13.3" fill="#b4e605"/>
<rect x="1618.8" y="1706.6" width="89.6" height="13.3" fill="#c8eb05"/>
<rect x="1707.8" y="1706.6" width="76.9" height="13.3" fill="#dcf000"/>
<rect x="1784.1" y="1706.6" width="153.2" height="13.3" fill="#ebf800"/>
<rect x="1936.7" y="1706.6" width="76.9" height="13.3" fill="#dcf000"/>
<rect x="487.0" y="1719.3" width="51.5" height="13.3" fill="#dcf000"/>
<rect x="537.9" y="1719.3" width="178.6" height="13.3" fill="#ebf800"/>
<rect x="715.9" y="1719.3" width="76.9" height="13.3" fill="#dcf000"/>
<rect x="792.2" y="1719.3" width="140.5" height="13.3" fill="#c8eb05"/>
<rect x="932.1" y="1719.3" width="51.5" height="13.3" fill="#b4e605"/>
<rect x="983.0" y="1719.3" width="13.3" height="13.3" fill="#a0e105"/>
<rect x="995.7" y="1719.3" width="13.3" height="13.3" fill="#8cdc0a"/>
<rect x="1008.4" y="1719.3" width="13.3" height="13.3" fill="#6ed20a"/>
<rect x="1021.1" y="1719.3" width="13.3" height="13.3" fill="#5acd0f"/>
<rect x="1033.8" y="1719.3" width="13.3" height="13.3" fill="#46c80f"/>
<rect x="1046.5" y="1719.3" width="13.3" height="13.3" fill="#32be14"/>
<rect x="1059.2" y="1719.3" width="76.9" height="13.3" fill="#14b919"/>
<rect x="1135.5" y="1719.3" width="13.3" height="13.3" fill="#32be14"/>
<rect x="1148.3" y="1719.3" width="26.0" height="13.3" fill="#46c80f"/>
<rect x="1173.7" y="1719.3" width="13.3" height="13.3" fill="#5acd0f"/>
<rect x="1186.4" y="1719.3" width="13.3" height="13.3" fill="#6ed20a"/>
<rect x="1199.1" y="1719.3" width="191.3" height="13.3" fill="#8cdc0a"/>
<rect x="1389.9" y="1719.3" width="26.0" height="13.3" fill="#a0e105"/>
<rect x="1415.3" y="1719.3" width="38.8" height="13.3" fill="#b4e605"/>
<rect x="1453.5" y="1719.3" width="51.5" height="13.3" fill="#c8eb05"/>
<rect x="1504.3" y="1719.3" width="102.3" height="13.3" fill="#fff000"/>
<rect x="1606.1" y="1719.3" width="89.6" height="13.3" fill="#c8eb05"/>
<rect x="1695.1" y="1719.3" width="89.6" height="13.3" fill="#dcf000"/>
<rect x="1784.1" y="1719.3" width="153.2" height="13.3" fill="#ebf800"/>
<rect x="1936.7" y="1719.3" width="76.9" height="13.3" fill="#dcf000"/>
<rect x="487.0" y="1732.0" width="51.5" height="13.3" fill="#dcf000"/>
<rect x="537.9" y="1732.0" width="178.6" height="13.3" fill="#ebf800"/>
<rect x="715.9" y="1732.0" width="76.9" height="13.3" fill="#dcf000"/>
<rect x="792.2" y="1732.0" width="140.5" height="13.3" fill="#c8eb05"/>
<rect x="932.1" y="1732.0" width="38.8" height="13.3" fill="#b4e605"/>
<rect x="970.2" y="1732.0" width="26.0" height="13.3" fill="#a0e105"/>
<rect x="995.7" y="1732.0" width="13.3" height="13.3" fill="#8cdc0a"/>
<rect x="1008.4" y="1732.0" width="13.3" height="13.3" fill="#6ed20a"/>
<rect x="1021.1" y="1732.0" width="13.3" height="13.3" fill="#5acd0f"/>
<rect x="1033.8" y="1732.0" width="13.3" height="13.3" fill="#46c80f"/>
<rect x="1046.5" y="1732.0" width="13.3" height="13.3" fill="#32be14"/>
<rect x="1059.2" y="1732.0" width="26.0" height="13.3" fill="#14b919"/>
<rect x="1084.7" y="1732.0" width="51.5" height="13.3" fill="#32be14"/>
<rect x="1135.5" y="1732.0" width="13.3" height="13.3" fill="#46c80f"/>
<rect x="1148.3" y="1732.0" width="26.0" height="13.3" fill="#5acd0f"/>
<rect x="1173.7" y="1732.0" width="13.3" height="13.3" fill="#6ed20a"/>
<rect x="1186.4" y="1732.0" width="26.0" height="13.3" fill="#8cdc0a"/>
<rect x="1211.8" y="1732.0" width="26.0" height="13.3" fill="#a0e105"/>
<rect x="1237.3" y="1732.0" width="140.5" height="13.3" fill="#8cdc0a"/>
<rect x="1377.2" y="1732.0" width="26.0" height="13.3" fill="#a0e105"/>
<rect x="1402.6" y="1732.0" width="26.0" height="13.3" fill="#b4e605"/>
<rect x="1428.0" y="1732.0" width="51.5" height="13.3" fill="#c8eb05"/>
<rect x="1478.9" y="1732.0" width="26.0" height="13.3" fill="#dcf000"/>
<rect x="1504.3" y="1732.0" width="102.3" height="13.3" fill="#fff000"/>
<rect x="1606.1" y="1732.0" width="38.8" height="13.3" fill="#c8eb05"/>
<rect x="1644.2" y="1732.0" width="38.8" height="13.3" fill="#fff000"/>
<rect x="1682.4" y="1732.0" width="102.3" height="13.3" fill="#dcf000"/>
<rect x="1784.1" y="1732.0" width="153.2" height="13.3" fill="#ebf800"/>
<rect x="1936.7" y="1732.0" width="76.9" height="13.3" fill="#dcf000"/>
<rect x="487.0" y="1744.7" width="102.3" height="13.3" fill="#ebf800"/>
<rect x="588.7" y="1744.7" width="26.0" height="13.3" fill="#ffff00"/>
<rect x="614.2" y="1744.7" width="102.3" height="13.3" fill="#ebf800"/>
<rect x="715.9" y="1744.7" width="76.9" height="13.3" fill="#dcf000"/>
<rect x="792.2" y="1744.7" width="127.8" height="13.3" fill="#c8eb05"/>
<rect x="919.4" y="1744.7" width="38.8" height="13.3" fill="#b4e605"/>
<rect x="957.5" y="1744.7" width="26.0" height="13.3" fill="#a0e105"/>
<rect x="983.0" y="1744.7" width="13.3" height="13.3" fill="#8cdc0a"/>
<rect x="995.7" y="1744.7" width="13.3" height="13.3" fill="#6ed20a"/>
<rect x="1008.4" y="1744.7" width="13.3" height="13.3" fill="#5acd0f"/>
<rect x="1021.1" y="1744.7" width="13.3" height="13.3" fill="#46c80f"/>
<rect x="1033.8" y="1744.7" width="13.3" height="13.3" fill="#32be14"/>
<rect x="1046.5" y="1744.7" width="26.0" height="13.3" fill="#14b919"/>
<rect x="1072.0" y="1744.7" width="38.8" height="13.3" fill="#32be14"/>
<rect x="1110.1" y="1744.7" width="26.0" height="13.3" fill="#46c80f"/>
<rect x="1135.5" y="1744.7" width="26.0" height="13.3" fill="#5acd0f"/>
<rect x="1161.0" y="1744.7" width="13.3" height="13.3" fill="#6ed20a"/>
<rect x="1173.7" y="1744.7" width="26.0" height="13.3" fill="#8cdc0a"/>
<rect x="1199.1" y="1744.7" width="178.6" height="13.3" fill="#a0e105"/>
<rect x="1377.2" y="1744.7" width="26.0" height="13.3" fill="#b4e605"/>
<rect x="1402.6" y="1744.7" width="26.0" height="13.3" fill="#c8eb05"/>
<rect x="1428.0" y="1744.7" width="64.2" height="13.3" fill="#dcf000"/>
<rect x="1491.6" y="1744.7" width="115.0" height="13.3" fill="#fff000"/>
<rect x="1606.1" y="1744.7" width="26.0" height="13.3" fill="#c8eb05"/>
<rect x="1631.5" y="1744.7" width="51.5" height="13.3" fill="#fff000"/>
<rect x="1682.4" y="1744.7" width="102.3" height="13.3" fill="#dcf000"/>
<rect x="1784.1" y="1744.7" width="153.2" height="13.3" fill="#ebf800"/>
<rect x="1936.7" y="1744.7" width="76.9" height="13.3" fill="#dcf000"/>
<rect x="487.0" y="1757.4" width="89.6" height="13.3" fill="#ebf800"/>
<rect x="576.0" y="1757.4" width="51.5" height="13.3" fill="#ffff00"/>
<rect x="626.9" y="1757.4" width="89.6" height="13.3" fill="#ebf800"/>
<rect x="715.9" y="1757.4" width="76.9" height="13.3" fill="#dcf000"/>
<rect x="792.2" y="1757.4" width="127.8" height="13.3" fill="#c8eb05"/>
<rect x="919.4" y="1757.4" width="38.8" height="13.3" fill="#b4e605"/>
<rect x="957.5" y="1757.4" width="26.0" height="13.3" fill="#a0e105"/>
<rect x="983.0" y="1757.4" width="13.3" height="13.3" fill="#8cdc0a"/>
<rect x="995.7" y="1757.4" width="13.3" height="13.3" fill="#6ed20a"/>
<rect x="1008.4" y="1757.4" width="13.3" height="13.3" fill="#5acd0f"/>
<rect x="1021.1" y="1757.4" width="13.3" height="13.3" fill="#46c80f"/>
<rect x="1033.8" y="1757.4" width="13.3" height="13.3" fill="#32be14"/>
<rect x="1046.5" y="1757.4" width="26.0" height="13.3" fill="#14b919"/>
<rect x="1072.0" y="1757.4" width="26.0" height="13.3" fill="#32be14"/>
<rect x="1097.4" y="1757.4" width="13.3" height="13.3" fill="#46c80f"/>
<rect x="1110.1" y="1757.4" width="26.0" height="13.3" fill="#5acd0f"/>
<rect x="1135.5" y="1757.4" width="26.0" height="13.3" fill="#6ed20a"/>
<rect x="1161.0" y="1757.4" width="13.3" height="13.3" fill="#8cdc0a"/>
<rect x="1173.7" y="1757.4" width="26.0" height="13.3" fill="#a0e105"/>
<rect x="1199.1" y="1757.4" width="64.2" height="13.3" fill="#b4e605"/>
<rect x="1262.7" y="1757.4" width="102.3" height="13.3" fill="#a0e105"/>
<rect x="1364.5" y="1757.4" width="26.0" height="13.3" fill="#b4e605"/>
<rect x="1389.9" y="1757.4" width="26.0" height="13.3" fill="#c8eb05"/>
<rect x="1415.3" y="1757.4" width="26.0" height="13.3" fill="#dcf000"/>
<rect x="1440.8" y="1757.4" width="51.5" height="13.3" fill="#ebf800"/>
<rect x="1491.6" y="1757.4" width="115.0" height="13.3" fill="#fff000"/>
<rect x="1606.1" y="1757.4" width="26.0" height="13.3" fill="#dcf000"/>
<rect x="1631.5" y="1757.4" width="64.2" height="13.3" fill="#fff000"/>
<rect x="1695.1" y="1757.4" width="89.6" height="13.3" fill="#dcf000"/>
<rect x="1784.1" y="1757.4" width="153.2" height="13.3" fill="#ebf800"/>
<rect x="1936.7" y="1757.4" width="76.9" height="13.3" fill="#dcf000"/>
<rect x="487.0" y="1770.2" width="89.6" height="13.3" fill="#ebf800"/>
<rect x="576.0" y="1770.2" width="64.2" height="13.3" fill="#ffff00"/>
<rect x="639.6" y="1770.2" width="76.9" height="13.3" fill="#ebf800"/>
<rect x="715.9" y="1770.2" width="76.9" height="13.3" fill="#dcf000"/>
<rect x="792.2" y="1770.2" width="127.8" height="13.3" fill="#c8eb05"/>
<rect x="919.4" y="1770.2" width="26.0" height="13.3" fill="#b4e605"/>
<rect x="944.8" y="1770.2" width="26.0" height="13.3" fill="#a0e105"/>
<rect x="970.2" y="1770.2" width="26.0" height="13.3" fill="#8cdc0a"/>
<rect x="995.7" y="1770.2" width="13.3" height="13.3" fill="#6ed20a"/>
<rect x="1008.4" y="1770.2" width="13.3" height="13.3" fill="#5acd0f"/>
<rect x="1021.1" y="1770.2" width="13.3" height="13.3" fill="#46c80f"/>
<rect x="1033.8" y="1770.2" width="13.3" height="13.3" fill="#32be14"/>
<rect x="1046.5" y="1770.2" width="26.0" height="13.3" fill="#14b919"/>
<rect x="1072.0" y="1770.2" width="13.3" height="13.3" fill="#32be14"/>
<rect x="1084.7" y="1770.2" width="13.3" height="13.3" fill="#46c80f"/>
<rect x="1097.4" y="1770.2" width="26.0" height="13.3" fill="#5acd0f"/>
<rect x="1122.8" y="1770.2" width="13.3" height="13.3" fill="#6ed20a"/>
<rect x="1135.5" y="1770.2" width="26.0" height="13.3" fill="#8cdc0a"/>
<rect x="1161.0" y="1770.2" width="26.0" height="13.3" fill="#a0e105"/>
<rect x="1186.4" y="1770.2" width="26.0" height="13.3" fill="#b4e605"/>
<rect x="1211.8" y="1770.2" width="13.3" height="13.3" fill="#c8eb05"/>
<rect x="1224.6" y="1770.2" width="153.2" height="13.3" fill="#b4e605"/>
<rect x="1377.2" y="1770.2" width="26.0" height="13.3" fill="#c8eb05"/>
<rect x="1402.6" y="1770.2" width="13.3" height="13.3" fill="#dcf000"/>
<rect x="1415.3" y="1770.2" width="26.0" height="13.3" fill="#ebf800"/>
<rect x="1440.8" y="1770.2" width="51.5" height="13.3" fill="#ffff00"/>
<rect x="1491.6" y="1770.2" width="216.8" height="13.3" fill="#fff000"/>
<rect x="1707.8" y="1770.2" width="76.9" height="13.3" fill="#dcf000"/>
<rect x="1784.1" y="1770.2" width="153.2" height="13.3" fill="#ebf800"/>
<rect x="1936.7" y="1770.2" width="76.9" height="13.3" fill="#dcf000"/>
<rect x="487.0" y="1782.9" width="76.9" height="13.3" fill="#ebf800"/>
<rect x="563.3" y="1782.9" width="76.9" height="13.3" fill="#ffff00"/>
<rect x="639.6" y="1782.9" width="76.9" height="13.3" fill="#ebf800"/>
<rect x="715.9" y="1782.9" width="76.9" height="13.3" fill="#dcf000"/>
<rect x="792.2" y="1782.9" width="127.8" height="13.3" fill="#c8eb05"/>
<rect x="919.4" y="1782.9" width="26.0" height="13.3" fill="#b4e605"/>
<rect x="944.8" y="1782.9" width="26.0" height="13.3" fill="#a0e105"/>
<rect x="970.2" y="1782.9" width="26.0" height="13.3" fill="#8cdc0a"/>
<rect x="995.7" y="1782.9" width="13.3" height="13.3" fill="#6ed20a"/>
<rect x="1008.4" y="1782.9" width="13.3" height="13.3" fill="#5acd0f"/>
<rect x="1021.1" y="1782.9" width="13.3" height="13.3" fill="#46c80f"/>
<rect x="1033.8" y="1782.9" width="13.3" height="13.3" fill="#32be14"/>
<rect x="1046.5" y="1782.9" width="26.0" height="13.3" fill="#14b919"/>
<rect x="1072.0" y="1782.9" width="13.3" height="13.3" fill="#32be14"/>
<rect x="1084.7" y="1782.9" width="13.3" height="13.3" fill="#46c80f"/>
<rect x="1097.4" y="1782.9" width="13.3" height="13.3" fill="#5acd0f"/>
<rect x="1110.1" y="1782.9" width="13.3" height="13.3" fill="#6ed20a"/>
<rect x="1122.8" y="1782.9" width="26.0" height="13.3" fill="#8cdc0a"/>
<rect x="1148.3" y="1782.9" width="26.0" height="13.3" fill="#a0e105"/>
<rect x="1173.7" y="1782.9" width="26.0" height="13.3" fill="#b4e605"/>
<rect x="1199.1" y="1782.9" width="51.5" height="13.3" fill="#c8eb05"/>
<rect x="1250.0" y="1782.9" width="127.8" height="13.3" fill="#b4e605"/>
<rect x="1377.2" y="1782.9" width="13.3" height="13.3" fill="#c8eb05"/>
<rect x="1389.9" y="1782.9" width="26.0" height="13.3" fill="#dcf000"/>
<rect x="1415.3" y="1782.9" width="13.3" height="13.3" fill="#ebf800"/>
<rect x="1428.0" y="1782.9" width="51.5" height="13.3" fill="#ffff00"/>
<rect x="1478.9" y="1782.9" width="229.5" height="13.3" fill="#fff000"/>
<rect x="1707.8" y="1782.9" width="76.9" height="13.3" fill="#dcf000"/>
<rect x="1784.1" y="1782.9" width="153.2" height="13.3" fill="#ebf800"/>
<rect x="1936.7" y="1782.9" width="76.9" height="13.3" fill="#dcf000"/>
<rect x="487.0" y="1795.6" width="76.9" height="13.3" fill="#ebf800"/>
<rect x="563.3" y="1795.6" width="76.9" height="13.3" fill="#ffff00"/>
<rect x="639.6" y="1795.6" width="76.9" height="13.3" fill="#ebf800"/>
<rect x="715.9" y="1795.6" width="76.9" height="13.3" fill="#dcf000"/>
<rect x="792.2" y="1795.6" width="127.8" height="13.3" fill="#c8eb05"/>
<rect x="919.4" y="1795.6" width="26.0" height="13.3" fill="#b4e605"/>
<rect x="944.8" y="1795.6" width="26.0" height="13.3" fill="#a0e105"/>
<rect x="970.2" y="1795.6" width="26.0" height="13.3" fill="#8cdc0a"/>
<rect x="995.7" y="1795.6" width="13.3" height="13.3" fill="#6ed20a"/>
<rect x="1008.4" y="1795.6" width="13.3" height="13.3" fill="#5acd0f"/>
<rect x="1021.1" y="1795.6" width="13.3" height="13.3" fill="#46c80f"/>
<rect x="1033.8" y="1795.6" width="13.3" height="13.3" fill="#32be14"/>
<rect x="1046.5" y="1795.6" width="26.0" height="13.3" fill="#14b919"/>
<rect x="1072.0" y="1795.6" width="13.3" height="13.3" fill="#32be14"/>
<rect x="1084.7" y="1795.6" width="13.3" height="13.3" fill="#46c80f"/>
<rect x="1097.4" y="1795.6" width="13.3" height="13.3" fill="#5acd0f"/>
<rect x="1110.1" y="1795.6" width="13.3" height="13.3" fill="#6ed20a"/>
<rect x="1122.8" y="1795.6" width="26.0" height="13.3" fill="#8cdc0a"/>
<rect x="1148.3" y="1795.6" width="26.0" height="13.3" fill="#a0e105"/>
<rect x="1173.7" y="1795.6" width="26.0" height="13.3" fill="#b4e605"/>
<rect x="1199.1" y="1795.6" width="51.5" height="13.3" fill="#c8eb05"/>
<rect x="1250.0" y="1795.6" width="127.8" height="13.3" fill="#b4e605"/>
<rect x="1377.2" y="1795.6" width="13.3" height="13.3" fill="#c8eb05"/>
<rect x="1389.9" y="1795.6" width="26.0" height="13.3" fill="#dcf000"/>
<rect x="1415.3" y="1795.6" width="13.3" height="13.3" fill="#ebf800"/>
<rect x="1428.0" y="1795.6" width="51.5" height="13.3" fill="#ffff00"/>
<rect x="1478.9" y="1795.6" width="229.5" height="13.3" fill="#fff000"/>
<rect x="1707.8" y="1795.6" width="76.9" height="13.3" fill="#dcf000"/>
<rect x="1784.1" y="1795.6" width="153.2" height="13.3" fill="#ebf800"/>
<rect x="1936.7" y="1795.6" width="76.9" height="13.3" fill="#dcf000"/>
<rect x="487.0" y="1808.3" width="76.9" height="13.3" fill="#ebf800"/>
<rect x="563.3" y="1808.3" width="76.9" height="13.3" fill="#ffff00"/>
<rect x="639.6" y="1808.3" width="76.9" height="13.3" fill="#ebf800"/>
<rect x="715.9" y="1808.3" width="76.9" height="13.3" fill="#dcf000"/>
<rect x="792.2" y="1808.3" width="127.8" height="13.3" fill="#c8eb05"/>
<rect x="919.4" y="1808.3" width="26.0" height="13.3" fill="#b4e605"/>
<rect x="944.8" y="1808.3" width="26.0" height="13.3" fill="#a0e105"/>
<rect x="970.2" y="1808.3" width="26.0" height="13.3" fill="#8cdc0a"/>
<rect x="995.7" y="1808.3" width="13.3" height="13.3" fill="#6ed20a"/>
<rect x="1008.4" y="1808.3" width="13.3" height="13.3" fill="#5acd0f"/>
<rect x="1021.1" y="1808.3" width="13.3" height="13.3" fill="#46c80f"/>
<rect x="1033.8" y="1808.3" width="13.3" height="13.3" fill="#32be14"/>
<rect x="1046.5" y="1808.3" width="26.0" height="13.3" fill="#14b919"/>
<rect x="1072.0" y="1808.3" width="13.3" height="13.3" fill="#32be14"/>
<rect x="1084.7" y="1808.3" width="13.3" height="13.3" fill="#46c80f"/>
<rect x="1097.4" y="1808.3" width="13.3" height="13.3" fill="#5acd0f"/>
<rect x="1110.1" y="1808.3" width="13.3" height="13.3" fill="#6ed20a"/>
<rect x="1122.8" y="1808.3" width="26.0" height="13.3" fill="#8cdc0a"/>
<rect x="1148.3" y="1808.3" width="26.0" height="13.3" fill="#a0e105"/>
<rect x="1173.7" y="1808.3" width="26.0" height="13.3" fill="#b4e605"/>
<rect x="1199.1" y="1808.3" width="51.5" height="13.3" fill="#c8eb05"/>
<rect x="1250.0" y="1808.3" width="127.8" height="13.3" fill="#b4e605"/>
<rect x="1377.2" y="1808.3" width="13.3" height="13.3" fill="#c8eb05"/>
<rect x="1389.9" y="1808.3" width="26.0" height="13.3" fill="#dcf000"/>
<rect x="1415.3" y="1808.3" width="13.3" height="13.3" fill="#ebf800"/>
<rect x="1428.0" y="1808.3" width="51.5" height="13.3" fill="#ffff00"/>
<rect x="1478.9" y="1808.3" width="242.2" height="13.3" fill="#fff000"/>
<rect x="1720.5" y="1808.3" width="64.2" height="13.3" fill="#dcf000"/>
<rect x="1784.1" y="1808.3" width="153.2" height="13.3" fill="#ebf800"/>
<rect x="1936.7" y="1808.3" width="76.9" height="13.3" fill="#dcf000"/>
</g>
<path clip-path="url(#mc)" fill="#000" d="M494.0,342.2 507.1,339.9 507.8,344.3 519.2,335.3 505.4,330.8 506.2,335.2 493.2,337.5ZM544.9,342.5 559.4,339.9 560.2,344.4 572.0,335.2 557.7,330.5 558.5,335.0 544.0,337.6ZM601.7,345.1 610.6,339.9 612.7,343.5 619.6,332.1 606.3,332.4 608.3,336.0 599.4,341.1ZM633.1,354.0 672.5,337.3 675.4,344.1 692.3,324.7 666.6,323.4 669.5,330.2 630.1,347.0ZM680.5,352.0 725.8,338.1 728.1,345.7 748.2,327.1 721.1,322.9 723.4,330.5 678.2,344.3ZM730.0,351.5 778.5,338.5 780.7,346.4 802.4,327.8 774.3,322.5 776.4,330.4 727.9,343.4ZM782.7,349.5 829.6,339.1 831.4,346.9 853.1,329.7 826.1,323.4 827.9,331.1 781.0,341.5ZM834.9,350.4 881.5,338.7 883.4,346.5 904.8,328.8 877.6,323.1 879.5,330.9 833.0,342.5ZM890.1,354.1 932.7,337.3 935.5,344.5 953.8,324.8 927.0,322.8 929.8,330.0 887.2,346.8ZM943.4,357.9 984.8,335.9 988.5,342.8 1004.6,320.8 977.3,321.9 981.0,328.8 939.6,350.8ZM999.3,359.5 1035.4,335.2 1039.6,341.4 1052.7,318.9 1026.9,322.5 1031.1,328.8 995.0,353.1ZM1054.2,359.2 1086.1,335.2 1090.4,340.9 1101.5,318.9 1077.3,323.6 1081.6,329.3 1049.8,353.3ZM1108.0,356.9 1136.7,336.0 1140.6,341.4 1151.3,321.1 1128.6,325.0 1132.6,330.4 1103.9,351.3ZM1162.7,356.9 1187.5,336.0 1191.7,340.9 1200.4,320.9 1179.2,326.0 1183.3,330.9 1158.4,351.8ZM1215.5,357.8 1239.3,335.6 1243.7,340.3 1251.3,319.9 1230.4,326.1 1234.8,330.8 1211.0,352.9ZM1266.1,360.6 1292.2,334.5 1297.1,339.3 1304.7,317.1 1282.4,324.7 1287.3,329.5 1261.1,355.6ZM1318.3,362.7 1344.5,333.6 1349.7,338.3 1356.4,314.9 1333.8,324.0 1339.1,328.7 1312.9,357.8ZM1373.7,359.7 1394.6,334.8 1399.5,338.9 1404.6,317.7 1384.6,326.4 1389.5,330.5 1368.6,355.4ZM1434.7,347.7 1441.0,339.6 1444.3,342.1 1446.5,328.9 1434.2,334.2 1437.5,336.8 1431.1,344.9ZM1487.1,347.9 1493.0,339.5 1496.4,341.9 1497.9,328.6 1485.9,334.5 1489.3,336.9 1483.4,345.3ZM1535.4,347.5 1544.9,339.4 1547.7,342.8 1553.0,329.6 1539.1,332.4 1541.9,335.8 1532.3,343.8ZM1587.2,347.5 1596.8,339.4 1599.6,342.8 1604.8,329.6 1590.9,332.4 1593.7,335.8 1584.1,343.8ZM1639.4,345.8 1647.8,339.9 1650.2,343.3 1656.1,331.3 1642.8,332.8 1645.2,336.2 1636.8,342.0ZM1692.7,345.7 1699.4,340.1 1702.0,343.1 1706.6,331.2 1694.0,333.6 1696.6,336.7 1689.9,342.3ZM1742.2,354.2 1754.8,336.9 1759.0,340.0 1761.7,322.6 1746.0,330.5 1750.2,333.6 1737.7,350.9ZM1797.3,357.6 1806.9,335.2 1812.0,337.4 1810.7,318.7 1796.3,330.7 1801.4,332.9 1791.9,355.3ZM1845.9,354.8 1858.6,336.7 1863.0,339.7 1865.4,322.0 1849.6,330.4 1854.0,333.4 1841.3,351.5ZM1898.3,361.5 1911.9,333.6 1917.5,336.4 1917.3,315.1 1900.4,328.0 1906.1,330.8 1892.5,358.6ZM1952.4,363.2 1963.5,332.6 1969.6,334.8 1967.1,313.2 1951.3,328.2 1957.3,330.4 1946.2,360.9ZM2005.2,363.4 2015.2,332.5 2021.3,334.4 2018.1,312.9 2002.8,328.4 2008.9,330.4 1998.9,361.3ZM475.6,389.9 487.2,387.8 487.9,392.1 498.8,383.4 485.6,379.0 486.4,383.2 474.8,385.3ZM529.0,392.7 539.6,387.7 541.4,391.6 549.7,380.4 535.8,379.6 537.6,383.5 527.0,388.5ZM571.5,400.3 597.1,385.5 600.1,390.8 611.5,373.5 590.8,374.7 593.9,380.0 568.3,394.7ZM612.3,400.9 653.5,385.5 656.1,392.6 674.2,373.7 648.1,371.2 650.8,378.3 609.6,393.7ZM659.8,399.3 706.8,386.3 709.0,394.1 730.1,375.6 702.5,370.7 704.6,378.4 657.7,391.4ZM711.1,399.2 758.9,386.4 761.0,394.2 782.5,375.8 754.7,370.6 756.8,378.4 709.0,391.2ZM762.9,399.2 810.8,386.4 812.9,394.2 834.3,375.8 806.5,370.6 808.6,378.4 760.8,391.2ZM815.7,398.9 862.1,386.4 864.2,394.1 885.2,376.1 858.0,370.9 860.0,378.6 813.6,391.0ZM869.3,400.3 913.5,385.9 915.9,393.3 935.6,374.5 908.7,370.9 911.1,378.3 866.8,392.7ZM924.8,401.9 964.2,385.2 967.1,392.0 984.0,372.6 958.3,371.3 961.2,378.1 921.8,394.9ZM979.9,406.7 1015.8,383.3 1019.9,389.6 1033.2,367.5 1007.6,370.7 1011.7,376.9 975.7,400.3ZM1031.7,406.7 1067.7,383.3 1071.7,389.6 1085.0,367.5 1059.5,370.7 1063.5,376.9 1027.6,400.3ZM1088.9,407.9 1117.9,382.7 1122.5,388.0 1131.8,365.8 1108.6,372.0 1113.2,377.3 1084.2,402.5ZM1140.8,407.9 1169.8,382.7 1174.3,388.0 1183.7,365.8 1160.4,372.0 1165.0,377.3 1136.0,402.5ZM1194.7,407.7 1220.9,382.7 1225.5,387.6 1233.5,365.8 1211.4,372.8 1216.1,377.7 1189.9,402.6ZM1247.7,407.4 1272.3,382.8 1276.9,387.5 1284.2,366.1 1262.7,373.3 1267.4,378.0 1242.9,402.5ZM1310.9,400.7 1319.7,385.4 1324.0,387.8 1324.6,371.6 1310.9,380.3 1315.2,382.7 1306.3,398.0ZM1355.1,405.1 1374.3,383.7 1378.8,387.7 1384.2,368.0 1365.2,375.4 1369.6,379.5 1350.4,400.9ZM1410.9,402.8 1424.6,384.5 1428.9,387.8 1432.0,369.9 1415.7,377.8 1420.0,381.1 1406.3,399.3ZM1466.6,392.9 1472.2,388.2 1474.7,391.2 1479.0,379.7 1467.0,382.0 1469.5,384.9 1463.9,389.7ZM1517.8,393.6 1524.5,388.0 1527.1,391.0 1531.7,379.1 1519.1,381.5 1521.7,384.6 1514.9,390.2ZM1568.3,392.4 1575.9,388.0 1577.9,391.5 1584.5,380.5 1571.7,380.7 1573.7,384.2 1566.1,388.6ZM1621.0,391.8 1627.3,388.2 1629.2,391.5 1635.5,381.0 1623.3,381.2 1625.2,384.5 1618.8,388.2ZM1675.7,392.2 1679.3,388.6 1681.8,391.2 1684.9,380.2 1673.9,383.2 1676.4,385.8 1672.8,389.4ZM1725.7,400.7 1734.5,385.4 1738.8,387.8 1739.4,371.6 1725.7,380.3 1730.0,382.7 1721.1,398.0ZM1773.2,405.9 1788.5,383.2 1793.4,386.5 1795.8,366.8 1778.5,376.5 1783.4,379.8 1768.1,402.4ZM1825.7,402.8 1839.4,384.5 1843.7,387.8 1846.8,369.9 1830.5,377.8 1834.8,381.1 1821.1,399.3ZM1876.9,408.6 1892.8,382.0 1898.2,385.2 1899.8,364.1 1881.9,375.5 1887.3,378.7 1871.3,405.3ZM1930.8,410.5 1944.5,381.0 1950.3,383.7 1949.8,361.9 1932.7,375.5 1938.5,378.2 1924.8,407.7ZM1985.8,413.3 1996.1,379.4 2002.5,381.4 1998.8,358.7 1983.1,375.4 1989.5,377.4 1979.2,411.3ZM2037.6,413.3 2048.0,379.4 2054.4,381.4 2050.7,358.7 2035.0,375.4 2041.4,377.4 2031.0,411.3ZM493.2,440.9 508.4,435.4 510.0,439.8 520.5,428.3 505.0,426.1 506.7,430.6 491.4,436.1ZM534.9,446.4 565.7,434.0 568.2,440.0 582.8,423.5 560.8,421.8 563.2,427.8 532.4,440.2ZM577.6,444.3 621.0,435.0 622.6,442.5 643.4,426.3 617.8,420.0 619.4,427.5 576.0,436.7ZM628.2,443.4 673.3,435.4 674.6,443.0 696.4,427.3 670.6,420.0 671.9,427.6 626.8,435.6ZM680.0,443.4 725.1,435.4 726.5,443.0 748.3,427.3 722.4,420.0 723.8,427.6 678.6,435.6ZM729.4,444.0 778.2,435.4 779.6,443.4 802.6,426.9 775.3,419.3 776.8,427.3 728.0,435.8ZM782.3,443.7 829.5,435.4 830.9,443.2 853.4,427.1 826.8,419.6 828.1,427.4 780.9,435.7ZM835.2,445.4 881.2,434.8 883.0,442.5 904.4,425.3 877.7,419.2 879.4,426.9 833.4,437.6ZM892.0,448.1 931.5,433.7 934.0,440.6 951.7,422.3 926.4,419.6 928.9,426.6 889.4,441.0ZM946.5,449.8 982.6,433.0 985.7,439.5 1001.1,420.3 976.5,419.8 979.5,426.3 943.4,443.2ZM1000.7,451.5 1034.0,432.3 1037.5,438.4 1050.9,418.4 1026.9,420.0 1030.4,426.1 997.1,445.3ZM1054.8,451.9 1085.1,432.1 1088.8,437.8 1100.7,417.9 1077.6,420.6 1081.3,426.3 1050.9,446.0ZM1108.0,452.0 1136.5,432.1 1140.3,437.5 1151.1,417.6 1128.7,421.0 1132.5,426.5 1104.1,446.4ZM1162.8,451.4 1187.2,432.3 1191.0,437.2 1200.2,418.0 1179.3,422.2 1183.2,427.1 1158.7,446.2ZM1218.8,448.5 1236.9,433.3 1240.5,437.5 1247.6,420.5 1229.7,424.7 1233.2,428.9 1215.1,444.0ZM1268.8,453.4 1290.7,431.5 1295.1,435.9 1301.8,415.7 1281.7,422.4 1286.1,426.9 1264.2,448.8ZM1328.9,445.7 1338.4,434.4 1341.9,437.4 1345.0,422.7 1331.0,428.3 1334.6,431.3 1325.1,442.5ZM1374.1,451.5 1393.4,432.2 1397.6,436.3 1403.8,417.5 1384.9,423.7 1389.1,427.8 1369.8,447.1ZM1430.3,450.7 1444.0,432.4 1448.3,435.7 1451.4,417.8 1435.1,425.7 1439.4,429.0 1425.7,447.2ZM1486.7,441.3 1491.9,436.1 1494.6,438.8 1497.9,427.0 1486.1,430.4 1488.9,433.1 1483.7,438.3ZM1537.9,440.8 1543.5,436.1 1546.0,439.1 1550.3,427.6 1538.3,429.9 1540.7,432.8 1535.1,437.6ZM1589.1,440.3 1595.1,436.1 1597.3,439.3 1602.6,428.2 1590.4,429.5 1592.7,432.6 1586.7,436.8ZM1642.2,441.3 1647.4,436.1 1650.1,438.8 1653.5,427.0 1641.7,430.4 1644.4,433.1 1639.2,438.3ZM1696.0,440.0 1698.8,436.7 1701.5,439.0 1703.4,428.0 1693.0,431.9 1695.7,434.1 1692.9,437.5ZM1743.0,448.7 1754.2,433.2 1758.3,436.2 1760.8,419.6 1745.8,427.1 1749.9,430.1 1738.6,445.6ZM1791.5,454.9 1808.4,430.7 1813.4,434.2 1816.4,413.7 1798.2,423.6 1803.2,427.1 1786.3,451.2ZM1843.3,454.9 1860.3,430.7 1865.3,434.2 1868.3,413.7 1850.1,423.6 1855.1,427.1 1838.1,451.2ZM1896.7,456.7 1912.2,429.8 1917.6,433.0 1918.8,411.7 1901.1,423.5 1906.5,426.6 1891.0,453.4ZM1952.3,456.4 1963.1,429.7 1968.7,431.9 1967.0,411.6 1951.7,425.1 1957.3,427.3 1946.5,454.0ZM2005.4,458.2 2015.0,428.7 2020.9,430.6 2017.8,409.6 2002.9,424.8 2008.8,426.7 1999.2,456.2ZM478.4,486.8 486.6,483.8 488.0,487.5 496.4,477.9 483.8,475.9 485.1,479.6 476.9,482.7ZM524.3,490.6 541.9,482.9 543.9,487.5 554.4,474.5 537.7,473.3 539.8,478.0 522.2,485.6ZM563.1,492.4 599.5,482.6 601.3,489.3 619.2,473.7 595.9,469.1 597.7,475.7 561.3,485.5ZM612.7,492.0 652.3,482.9 653.9,489.9 673.2,474.2 649.0,468.6 650.6,475.6 611.0,484.8ZM663.6,492.3 704.6,482.8 706.3,490.0 726.1,474.0 701.2,468.3 702.9,475.5 661.9,484.9ZM714.5,492.6 756.9,482.8 758.6,490.1 778.9,473.8 753.5,468.0 755.2,475.3 712.7,485.1ZM766.3,492.6 808.8,482.8 810.5,490.1 830.7,473.8 805.4,468.0 807.1,475.3 764.6,485.1ZM819.5,493.4 860.2,482.5 862.1,489.6 881.3,472.9 856.3,468.0 858.2,475.2 817.6,486.1ZM875.3,494.7 910.7,481.9 913.1,488.4 929.5,471.2 905.9,468.7 908.2,475.2 872.9,488.0ZM929.3,496.5 962.1,481.2 965.0,487.4 979.5,469.3 956.3,468.7 959.1,474.9 926.3,490.2ZM984.2,497.5 1013.0,480.8 1016.2,486.5 1028.4,468.1 1006.4,469.4 1009.6,475.0 980.9,491.6ZM1038.3,498.6 1064.3,480.4 1068.0,485.6 1078.2,466.7 1056.9,469.8 1060.6,475.0 1034.6,493.2ZM1090.6,498.3 1116.0,480.5 1119.6,485.6 1129.7,467.0 1108.7,470.1 1112.3,475.2 1086.9,493.0ZM1145.7,496.6 1166.3,481.1 1169.8,485.7 1178.2,468.4 1159.2,471.7 1162.7,476.3 1142.1,491.8ZM1199.4,496.4 1217.5,481.2 1221.1,485.4 1228.2,468.4 1210.3,472.6 1213.8,476.8 1195.7,491.9ZM1251.3,496.4 1269.4,481.2 1272.9,485.4 1280.1,468.4 1262.1,472.6 1265.6,476.8 1247.6,491.9ZM1308.5,493.0 1318.9,482.5 1322.1,485.8 1326.5,471.4 1312.1,475.8 1315.4,479.0 1304.9,489.4ZM1354.8,498.2 1373.7,480.6 1377.6,484.7 1384.2,466.6 1365.7,472.0 1369.6,476.2 1350.7,493.8ZM1404.9,501.3 1426.8,479.4 1431.3,483.8 1438.0,463.6 1417.8,470.3 1422.2,474.8 1400.3,496.7ZM1455.0,497.7 1478.3,480.7 1481.8,485.6 1491.2,467.5 1471.0,470.8 1474.6,475.7 1451.3,492.6ZM1514.1,488.5 1524.8,483.5 1526.6,487.4 1534.9,476.2 1521.0,475.4 1522.8,479.3 1512.1,484.3ZM1571.0,488.0 1575.5,484.3 1577.9,487.1 1582.0,476.2 1570.5,478.3 1572.9,481.1 1568.4,484.9ZM1624.2,487.7 1627.2,484.6 1629.8,487.1 1632.6,476.4 1621.9,479.2 1624.4,481.8 1621.3,484.8ZM1675.1,487.7 1679.0,484.4 1681.3,487.2 1685.3,476.5 1674.1,478.5 1676.4,481.3 1672.5,484.6ZM1723.6,495.5 1734.5,481.6 1738.4,484.6 1741.3,468.7 1726.5,475.3 1730.4,478.4 1719.5,492.3ZM1772.6,499.1 1787.9,480.2 1792.3,483.7 1796.2,465.4 1779.1,473.0 1783.4,476.5 1768.1,495.4ZM1823.7,500.9 1840.5,479.4 1845.1,483.0 1849.0,463.6 1831.0,472.0 1835.6,475.6 1818.8,497.1ZM1876.6,501.5 1892.2,479.1 1897.0,482.5 1899.9,462.9 1882.4,472.2 1887.2,475.6 1871.5,498.0ZM1930.6,502.5 1943.8,478.6 1949.0,481.4 1949.7,461.6 1933.3,472.8 1938.4,475.6 1925.2,499.5ZM1984.7,503.2 1995.4,478.1 2000.8,480.4 1999.4,460.6 1984.3,473.4 1989.7,475.7 1979.0,500.8ZM2036.5,503.2 2047.2,478.1 2052.6,480.4 2051.3,460.6 2036.1,473.4 2041.5,475.7 2030.9,500.8ZM499.7,535.5 506.0,531.9 507.9,535.2 514.2,524.7 502.0,524.9 503.9,528.2 497.5,531.9ZM543.2,537.5 561.2,531.0 562.9,535.7 574.2,523.4 557.6,521.2 559.4,525.9 541.4,532.5ZM584.5,543.3 618.8,529.5 621.3,535.9 637.0,518.3 613.6,516.6 616.1,523.0 581.9,536.8ZM632.7,543.9 672.3,529.5 674.8,536.4 692.5,518.1 667.2,515.4 669.7,522.4 630.1,536.8ZM682.3,539.8 724.2,530.9 725.8,538.2 746.1,522.3 721.1,516.1 722.6,523.4 680.7,532.3ZM734.3,538.6 775.8,531.3 777.0,538.5 797.7,523.6 773.2,516.6 774.4,523.8 733.0,531.1ZM788.6,538.0 826.4,531.3 827.6,538.2 847.0,524.0 823.9,517.3 825.1,524.2 787.3,530.9ZM839.5,538.2 878.7,531.3 880.0,538.3 899.9,523.8 876.2,517.0 877.5,524.0 838.2,531.0ZM893.8,541.9 930.3,530.0 932.5,536.7 949.7,519.9 925.9,516.5 928.1,523.2 891.6,535.0ZM947.4,545.1 982.2,528.9 985.1,535.3 1000.2,516.5 976.2,516.0 979.1,522.4 944.3,538.6ZM1000.1,546.5 1034.0,528.4 1037.3,534.6 1051.4,515.1 1027.3,515.9 1030.6,522.1 996.7,540.1ZM1052.6,547.3 1085.8,528.1 1089.3,534.2 1102.7,514.2 1078.7,515.8 1082.2,521.9 1049.0,541.1ZM1107.1,546.7 1136.5,528.3 1140.0,533.9 1151.9,514.6 1129.4,516.9 1132.9,522.5 1103.5,540.9ZM1161.8,546.2 1187.2,528.4 1190.8,533.5 1200.9,514.9 1179.9,518.0 1183.5,523.1 1158.1,540.9ZM1223.5,541.6 1235.0,530.2 1238.3,533.5 1242.9,518.6 1228.0,523.2 1231.3,526.5 1219.9,538.0ZM1277.1,541.5 1286.5,530.2 1290.0,533.2 1293.1,518.5 1279.2,524.1 1282.7,527.1 1273.3,538.3ZM1328.8,539.7 1337.7,530.9 1340.8,534.0 1344.8,520.4 1331.2,524.4 1334.3,527.5 1325.5,536.4ZM1373.1,547.2 1393.7,528.0 1397.7,532.4 1404.7,513.5 1385.4,519.1 1389.4,523.5 1368.9,542.6ZM1426.9,544.2 1444.1,529.2 1447.7,533.3 1454.4,516.4 1436.8,520.7 1440.4,524.8 1423.1,539.8ZM1487.7,535.9 1491.3,532.3 1493.8,534.9 1496.9,523.9 1485.9,526.9 1488.4,529.5 1484.8,533.1ZM1532.2,535.3 1544.1,531.5 1545.5,535.6 1555.3,525.3 1541.3,522.8 1542.7,526.9 1530.8,530.8ZM1589.8,534.7 1594.2,532.2 1596.0,535.3 1601.7,525.5 1590.3,525.5 1592.2,528.6 1587.7,531.2ZM1642.7,535.6 1646.6,532.3 1648.9,535.1 1652.8,524.4 1641.6,526.4 1644.0,529.2 1640.1,532.5ZM1688.2,543.9 1702.8,529.3 1706.4,533.0 1711.7,516.5 1695.2,521.7 1698.9,525.4 1684.3,540.0ZM1739.3,547.6 1755.9,527.8 1760.3,531.5 1764.6,512.7 1746.9,520.3 1751.3,524.0 1734.7,543.7ZM1791.2,548.8 1808.0,527.3 1812.7,530.9 1816.5,511.5 1798.6,519.9 1803.2,523.5 1786.4,545.0ZM1843.1,548.8 1859.9,527.3 1864.5,530.9 1868.4,511.5 1850.4,519.9 1855.0,523.5 1838.2,545.0ZM1898.1,551.4 1911.6,526.0 1916.9,528.8 1917.4,508.5 1900.7,520.2 1906.1,523.1 1892.5,548.5ZM1952.9,549.2 1962.4,526.8 1967.5,529.0 1966.2,510.3 1951.9,522.3 1957.0,524.5 1947.5,546.9ZM2006.0,551.5 2014.5,525.6 2020.0,527.4 2017.0,507.8 2003.0,521.9 2008.6,523.7 2000.2,549.6ZM480.6,581.6 485.4,579.8 486.7,583.2 494.0,574.5 482.8,572.6 484.1,576.0 479.3,577.8ZM527.0,584.0 540.1,579.2 541.7,583.5 551.5,572.5 536.9,570.4 538.5,574.6 525.3,579.4ZM578.2,585.8 592.9,578.9 594.9,583.2 604.3,570.8 588.7,570.0 590.7,574.3 576.0,581.1ZM614.5,588.3 651.6,578.4 653.4,585.2 671.5,569.3 647.9,564.7 649.7,571.4 612.6,581.4ZM662.4,587.8 705.1,578.8 706.6,586.1 727.2,570.1 701.9,563.9 703.5,571.2 660.8,580.3ZM715.1,585.3 756.0,579.5 757.1,586.7 777.9,572.6 754.0,564.9 755.0,572.1 714.0,577.8ZM768.5,583.3 806.8,580.0 807.4,586.9 828.0,574.5 805.5,565.8 806.2,572.8 767.9,576.1ZM821.7,584.6 858.3,579.5 859.2,586.3 878.7,573.1 856.3,565.7 857.3,572.5 820.7,577.6ZM874.2,586.6 910.3,578.9 911.7,585.6 930.2,571.1 907.4,565.3 908.8,572.0 872.7,579.7ZM927.2,589.4 962.3,578.0 964.4,584.5 981.2,568.1 958.0,564.8 960.1,571.3 925.0,582.7ZM979.9,591.2 1014.2,577.4 1016.7,583.8 1032.4,566.2 1009.0,564.5 1011.5,570.9 977.3,584.7ZM1033.0,592.3 1065.8,577.0 1068.7,583.2 1083.2,565.1 1060.0,564.5 1062.8,570.7 1030.0,586.0ZM1087.4,592.5 1116.7,576.9 1119.7,582.6 1132.6,564.7 1110.5,565.3 1113.6,571.0 1084.2,586.6ZM1141.9,591.9 1167.4,577.1 1170.5,582.4 1181.8,565.1 1161.2,566.3 1164.2,571.6 1138.7,586.3ZM1204.9,587.0 1214.4,578.9 1217.2,582.3 1222.5,569.1 1208.6,571.9 1211.4,575.3 1201.8,583.3ZM1260.8,586.6 1265.9,579.3 1269.1,581.6 1270.5,568.9 1259.0,574.5 1262.3,576.8 1257.2,584.0ZM1308.8,588.4 1318.7,578.5 1321.9,581.7 1326.1,567.6 1312.0,571.8 1315.2,575.0 1305.3,584.9ZM1360.2,591.0 1371.5,577.5 1375.3,580.6 1378.7,564.8 1363.8,571.0 1367.5,574.1 1356.2,587.7ZM1414.8,585.7 1421.0,579.5 1423.8,582.3 1427.4,570.0 1415.1,573.6 1417.9,576.4 1411.7,582.6ZM1465.9,585.2 1472.6,579.6 1475.2,582.6 1479.8,570.7 1467.2,573.1 1469.8,576.2 1463.1,581.8ZM1517.0,585.9 1524.9,579.3 1527.6,582.5 1532.4,570.0 1519.3,572.6 1522.0,575.8 1514.1,582.4ZM1572.9,583.7 1575.7,580.4 1578.4,582.7 1580.3,571.7 1569.9,575.6 1572.6,577.8 1569.8,581.2ZM1613.9,591.1 1632.1,577.4 1635.4,581.7 1643.3,565.4 1625.4,568.5 1628.7,572.8 1610.4,586.5ZM1666.1,594.8 1684.9,576.0 1689.0,580.1 1695.1,561.5 1676.5,567.6 1680.6,571.7 1661.8,590.5ZM1719.0,596.7 1737.0,575.2 1741.6,579.1 1746.2,559.5 1727.7,567.4 1732.3,571.2 1714.2,592.7ZM1770.8,596.7 1788.9,575.2 1793.4,579.1 1798.0,559.5 1779.5,567.4 1784.1,571.2 1766.1,592.7ZM1825.1,597.5 1840.3,574.8 1845.2,578.1 1847.7,558.4 1830.4,568.1 1835.2,571.4 1820.0,594.0ZM1878.7,599.3 1892.2,573.9 1897.5,576.7 1898.0,556.4 1881.3,568.1 1886.7,571.0 1873.1,596.4ZM1933.9,599.8 1943.4,573.4 1949.0,575.5 1946.7,555.5 1932.0,569.3 1937.6,571.3 1928.0,597.6ZM1987.6,595.6 1994.2,575.2 1999.2,576.9 1996.4,559.5 1983.9,571.9 1988.9,573.5 1982.3,593.8ZM2039.4,595.6 2046.0,575.2 2051.1,576.9 2048.2,559.5 2035.7,571.9 2040.7,573.5 2034.1,593.8ZM499.7,631.3 506.0,627.7 507.9,631.0 514.2,620.5 502.0,620.7 503.9,624.0 497.5,627.7ZM547.9,632.4 559.3,627.2 561.1,631.1 569.6,619.7 555.4,618.9 557.2,622.8 545.9,628.1ZM586.8,634.6 616.7,626.6 618.4,632.6 634.2,618.5 613.4,614.3 615.1,620.3 585.1,628.3ZM634.8,634.3 670.2,626.8 671.6,633.4 689.8,619.1 667.3,613.4 668.7,620.0 633.3,627.5ZM682.4,634.4 723.9,627.1 725.2,634.3 745.8,619.4 721.3,612.4 722.6,619.6 681.1,626.9ZM736.7,633.8 774.5,627.1 775.8,634.0 795.2,619.8 772.1,613.1 773.3,620.0 735.5,626.7ZM790.3,634.3 825.7,626.8 827.1,633.4 845.4,619.1 822.9,613.4 824.3,620.0 788.9,627.5ZM842.5,635.3 877.6,626.5 879.3,633.1 897.0,618.1 874.3,613.2 876.0,619.8 840.9,628.5ZM896.5,637.6 929.1,625.8 931.4,632.0 947.0,615.6 924.5,613.1 926.8,619.3 894.2,631.2ZM948.8,638.5 981.0,625.5 983.5,631.6 998.5,614.7 976.0,613.0 978.4,619.1 946.3,632.1ZM1001.4,639.7 1032.9,625.1 1035.7,631.1 1049.8,613.4 1027.2,612.8 1030.0,618.9 998.5,633.5ZM1055.4,640.1 1084.0,624.9 1087.0,630.5 1099.7,612.8 1077.9,613.4 1080.9,619.0 1052.2,634.3ZM1107.2,640.1 1135.9,624.9 1138.9,630.5 1151.6,612.8 1129.8,613.4 1132.8,619.0 1104.1,634.3ZM1163.3,638.4 1185.7,625.4 1188.6,630.4 1199.1,614.3 1179.8,615.3 1182.7,620.2 1160.3,633.1ZM1226.1,633.1 1232.8,627.5 1235.4,630.5 1240.0,618.6 1227.4,621.0 1230.0,624.1 1223.2,629.7ZM1276.0,636.7 1286.4,626.2 1289.7,629.5 1294.0,615.1 1279.7,619.5 1282.9,622.7 1272.5,633.1ZM1328.8,635.5 1337.7,626.7 1340.8,629.8 1344.8,616.2 1331.2,620.2 1334.3,623.3 1325.5,632.2ZM1380.7,635.5 1389.5,626.7 1392.6,629.8 1396.7,616.2 1383.1,620.2 1386.2,623.3 1377.3,632.2ZM1430.6,635.9 1441.8,626.4 1444.8,630.0 1450.4,616.0 1435.7,619.1 1438.7,622.6 1427.4,632.1ZM1480.3,636.0 1494.2,626.3 1497.0,630.2 1504.2,616.1 1488.5,618.1 1491.2,622.1 1477.4,631.8ZM1532.2,636.0 1546.1,626.3 1548.8,630.2 1556.1,616.1 1540.3,618.1 1543.1,622.1 1529.2,631.8ZM1581.4,639.0 1599.7,625.3 1602.9,629.6 1610.8,613.3 1592.9,616.4 1596.2,620.7 1578.0,634.4ZM1634.5,640.8 1651.7,624.7 1655.5,628.7 1661.7,611.4 1644.0,616.4 1647.8,620.4 1630.5,636.5ZM1687.4,642.8 1703.9,623.9 1708.1,627.6 1712.7,609.2 1695.1,616.3 1699.4,620.0 1682.9,638.9ZM1740.2,642.8 1755.5,623.9 1759.8,627.4 1763.7,609.1 1746.6,616.7 1750.9,620.2 1735.6,639.1ZM1793.6,643.0 1807.1,623.7 1811.6,626.9 1814.1,608.6 1797.8,617.2 1802.3,620.4 1788.8,639.7ZM1847.1,642.2 1858.4,624.0 1862.9,626.8 1864.3,609.3 1849.2,618.3 1853.7,621.1 1842.3,639.2ZM1901.2,645.6 1910.6,622.3 1915.9,624.4 1914.2,605.5 1899.9,618.0 1905.1,620.1 1895.7,643.4ZM1954.0,642.7 1961.7,623.6 1966.6,625.5 1964.9,608.3 1951.8,619.6 1956.6,621.5 1948.9,640.7ZM2007.2,642.5 2013.4,623.6 2018.3,625.1 2015.5,608.4 2003.3,620.3 2008.2,621.9 2002.1,640.8ZM478.4,678.4 486.6,675.4 488.0,679.1 496.4,669.5 483.8,667.5 485.1,671.2 476.9,674.3ZM524.3,681.0 541.6,674.7 543.3,679.4 554.4,667.3 538.0,665.1 539.7,669.7 522.4,676.0ZM586.0,682.0 591.6,675.2 594.7,677.8 597.1,665.2 585.2,669.8 588.2,672.4 582.6,679.1ZM624.7,682.5 646.9,674.4 648.8,679.6 661.3,666.1 643.1,663.8 644.9,668.9 622.8,677.0ZM668.2,682.0 702.2,674.8 703.5,681.2 721.3,667.2 699.4,661.6 700.7,668.1 666.8,675.3ZM720.1,682.0 754.0,674.8 755.4,681.2 773.1,667.2 751.2,661.6 752.6,668.1 718.6,675.3ZM770.9,682.2 806.3,674.7 807.7,681.3 826.0,667.0 803.5,661.3 804.9,667.9 769.5,675.4ZM824.3,683.3 857.8,674.3 859.5,680.7 876.5,665.8 854.3,661.3 856.0,667.7 822.5,676.7ZM877.5,682.8 908.9,674.4 910.6,680.6 926.9,666.2 905.5,661.8 907.2,668.0 875.8,676.4ZM928.0,683.3 961.5,674.3 963.2,680.7 980.2,665.8 958.0,661.3 959.7,667.7 926.2,676.7ZM980.8,683.0 1012.9,674.4 1014.5,680.7 1031.1,666.0 1009.4,661.7 1011.1,667.9 979.0,676.5ZM1032.6,683.0 1064.7,674.4 1066.4,680.7 1082.9,666.0 1061.3,661.7 1063.0,667.9 1030.9,676.5ZM1085.0,684.3 1116.6,674.0 1118.6,680.2 1134.4,664.7 1112.6,661.5 1114.6,667.6 1083.0,677.9ZM1140.0,683.9 1167.1,674.0 1169.1,679.7 1183.1,664.9 1162.9,662.5 1164.9,668.1 1137.9,678.0ZM1203.3,681.2 1214.1,675.0 1216.3,678.7 1223.7,666.7 1209.5,667.1 1211.7,670.8 1200.9,677.1ZM1259.9,680.8 1265.1,675.6 1267.8,678.3 1271.1,666.5 1259.3,669.9 1262.1,672.6 1256.9,677.8ZM1311.1,681.5 1317.3,675.3 1320.1,678.1 1323.7,665.8 1311.4,669.4 1314.2,672.2 1308.0,678.4ZM1361.3,683.4 1370.1,674.6 1373.2,677.7 1377.3,664.1 1363.7,668.1 1366.8,671.2 1357.9,680.1ZM1411.2,683.8 1422.4,674.3 1425.4,677.9 1431.0,663.9 1416.3,667.0 1419.3,670.5 1408.0,680.0ZM1462.5,681.2 1473.3,675.0 1475.5,678.7 1483.0,666.7 1468.8,667.1 1471.0,670.8 1460.1,677.1ZM1512.8,686.6 1527.6,673.3 1531.0,677.1 1537.0,661.2 1520.5,665.5 1524.0,669.3 1509.2,682.6ZM1564.9,686.8 1579.5,673.3 1583.0,677.0 1588.6,661.0 1572.3,665.5 1575.7,669.3 1561.2,682.8ZM1616.8,688.7 1631.9,672.5 1635.8,676.2 1640.7,659.0 1623.8,665.0 1627.8,668.7 1612.7,684.9ZM1668.0,690.7 1684.5,671.8 1688.7,675.5 1693.3,657.1 1675.7,664.2 1680.0,667.9 1663.5,686.8ZM1722.0,691.4 1736.0,671.4 1740.6,674.6 1743.2,656.1 1726.6,664.9 1731.2,668.1 1717.2,688.0ZM1776.3,689.2 1786.8,672.3 1791.2,675.0 1792.5,658.1 1777.9,666.7 1782.2,669.4 1771.7,686.3ZM1832.0,682.7 1836.4,675.0 1839.9,677.0 1840.1,664.2 1829.1,670.8 1832.6,672.8 1828.2,680.5ZM1887.1,685.6 1889.3,673.3 1893.6,674.1 1889.1,660.6 1880.3,671.7 1884.6,672.5 1882.4,684.8ZM1934.7,692.7 1942.8,670.5 1947.9,672.4 1945.6,654.1 1932.1,666.6 1937.3,668.5 1929.2,690.7ZM1991.1,683.1 1992.6,674.5 1996.5,675.2 1992.4,663.1 1984.3,673.0 1988.3,673.7 1986.7,682.4ZM2042.9,683.1 2044.5,674.5 2048.4,675.2 2044.2,663.1 2036.2,673.0 2040.1,673.7 2038.6,682.4ZM499.5,728.3 506.7,723.3 509.0,726.6 514.6,715.1 501.9,716.4 504.2,719.7 496.9,724.7ZM549.9,728.3 558.8,723.1 560.8,726.7 567.8,715.3 554.4,715.6 556.5,719.2 547.6,724.3ZM605.7,727.2 609.6,723.9 611.9,726.7 615.8,716.0 604.6,718.0 607.0,720.8 603.1,724.1ZM656.9,726.0 660.7,723.8 662.4,726.9 668.0,717.3 656.9,717.3 658.7,720.4 654.9,722.6ZM691.6,734.8 721.1,721.1 723.8,726.9 737.4,709.8 715.6,709.3 718.3,715.1 688.8,728.8ZM742.8,734.6 773.2,721.1 775.8,727.0 789.9,710.0 767.8,709.1 770.4,715.0 740.1,728.5ZM794.6,733.6 824.8,721.5 827.1,727.4 841.6,711.1 819.9,709.4 822.3,715.3 792.1,727.5ZM846.0,733.8 876.8,721.4 879.3,727.4 893.9,710.9 871.9,709.2 874.3,715.2 843.5,727.6ZM896.0,731.1 928.8,722.3 930.5,728.6 947.3,713.8 925.4,709.4 927.0,715.7 894.2,724.5ZM948.8,730.7 980.2,722.3 981.8,728.5 998.2,714.1 976.8,709.7 978.4,715.9 947.1,724.3ZM1000.2,729.5 1031.9,722.7 1033.3,729.0 1050.3,715.4 1029.2,709.9 1030.5,716.2 998.8,723.0ZM1052.0,729.5 1083.8,722.7 1085.1,729.0 1102.2,715.4 1081.1,709.9 1082.4,716.2 1050.6,723.0ZM1105.3,730.4 1135.2,722.4 1136.9,728.4 1152.7,714.3 1131.9,710.1 1133.6,716.1 1103.6,724.1ZM1160.4,731.4 1186.0,722.0 1188.0,727.6 1201.6,713.1 1181.9,710.7 1183.9,716.3 1158.3,725.6ZM1220.6,730.5 1234.6,722.4 1237.0,726.5 1245.3,713.3 1229.7,713.9 1232.1,718.0 1218.0,726.1ZM1276.6,727.7 1284.2,723.3 1286.2,726.8 1292.8,715.8 1280.0,716.0 1282.0,719.5 1274.4,723.9ZM1324.4,729.0 1337.7,722.7 1339.6,726.9 1348.7,714.9 1333.7,714.1 1335.6,718.2 1322.3,724.5ZM1382.9,726.8 1387.0,723.8 1389.1,726.8 1394.0,716.5 1382.6,717.5 1384.7,720.5 1380.5,723.4ZM1431.7,730.7 1441.2,722.6 1444.0,726.0 1449.3,712.8 1435.4,715.6 1438.2,719.0 1428.6,727.0ZM1483.5,730.7 1493.1,722.6 1495.9,726.0 1501.1,712.8 1487.2,715.6 1490.0,719.0 1480.4,727.0ZM1536.4,729.6 1544.3,723.0 1547.0,726.2 1551.8,713.7 1538.7,716.3 1541.4,719.5 1533.5,726.1ZM1587.5,735.0 1598.3,721.1 1602.2,724.1 1605.1,708.2 1590.4,714.8 1594.2,717.9 1583.3,731.8ZM1638.5,738.0 1651.2,719.9 1655.6,722.9 1658.0,705.2 1642.2,713.6 1646.6,716.6 1633.9,734.7ZM1690.4,738.0 1703.1,719.9 1707.4,722.9 1709.8,705.2 1694.0,713.6 1698.4,716.6 1685.7,734.7ZM1746.5,730.1 1751.8,723.1 1755.0,725.5 1756.8,712.8 1745.1,718.0 1748.3,720.4 1743.0,727.5ZM1803.3,728.5 1804.2,723.5 1807.8,724.1 1804.0,713.4 1796.7,722.2 1800.2,722.8 1799.4,727.8ZM1848.7,733.8 1857.0,721.6 1860.8,724.2 1862.3,709.2 1849.0,716.2 1852.8,718.8 1844.6,731.0ZM1907.7,728.4 1908.2,723.4 1911.8,723.7 1907.0,713.3 1900.5,722.7 1904.1,723.0 1903.7,728.1ZM1958.8,729.0 1959.9,723.3 1963.5,723.9 1959.6,712.9 1952.2,721.9 1955.8,722.6 1954.8,728.3ZM2011.4,728.9 2011.9,723.1 2015.6,723.5 2010.7,712.8 2004.1,722.4 2007.8,722.8 2007.3,728.6ZM481.5,774.2 485.9,771.7 487.7,774.8 493.5,765.0 482.1,765.0 483.9,768.1 479.5,770.7ZM529.0,780.3 541.4,769.9 544.5,773.5 550.3,759.1 535.1,762.3 538.1,766.0 525.7,776.4ZM584.9,775.3 590.3,771.5 592.5,774.6 597.7,763.8 585.8,765.0 587.9,768.1 582.5,771.9ZM633.7,777.8 643.9,770.6 646.4,774.2 652.8,761.5 638.7,763.2 641.2,766.8 630.9,773.9ZM679.7,782.5 699.0,769.0 702.2,773.5 710.8,757.2 692.5,759.8 695.7,764.3 676.4,777.8ZM728.3,782.6 751.9,769.0 754.9,774.1 765.7,757.5 745.9,758.5 748.9,763.6 725.2,777.3ZM776.8,782.2 804.9,769.1 807.6,774.8 820.8,758.1 799.5,757.6 802.2,763.2 774.1,776.3ZM827.6,780.3 856.7,769.7 858.8,775.6 873.4,760.1 852.3,757.7 854.5,763.6 825.3,774.2ZM878.5,778.3 908.4,770.3 910.1,776.3 925.9,762.2 905.1,758.0 906.8,764.0 876.8,772.0ZM927.5,777.8 961.4,770.6 962.8,777.0 980.5,763.0 958.6,757.4 960.0,763.9 926.0,771.1ZM981.7,777.1 1012.0,770.6 1013.3,776.7 1030.0,763.5 1009.4,758.2 1010.7,764.3 980.4,770.7ZM1033.3,776.2 1063.8,770.9 1064.9,777.0 1082.0,764.4 1061.6,758.3 1062.7,764.5 1032.2,769.8ZM1089.7,777.0 1113.9,770.5 1115.4,776.0 1129.5,763.3 1110.9,759.3 1112.4,764.8 1088.1,771.3ZM1146.3,782.5 1165.7,769.0 1168.8,773.5 1177.4,757.2 1159.2,759.8 1162.3,764.3 1143.0,777.8ZM1196.0,779.8 1217.4,769.8 1219.7,774.8 1231.0,760.2 1212.6,759.6 1214.9,764.6 1193.5,774.5ZM1261.2,775.1 1264.3,772.0 1266.8,774.5 1269.7,763.8 1259.0,766.6 1261.5,769.2 1258.4,772.2ZM1312.7,775.4 1316.3,771.8 1318.9,774.4 1321.9,763.4 1310.9,766.4 1313.5,769.0 1309.9,772.6ZM1364.6,775.4 1368.2,771.8 1370.7,774.4 1373.8,763.4 1362.8,766.4 1365.3,769.0 1361.7,772.6ZM1417.2,778.5 1421.6,770.8 1425.1,772.8 1425.3,760.0 1414.3,766.6 1417.8,768.6 1413.4,776.3ZM1468.6,775.1 1471.7,772.0 1474.2,774.5 1477.1,763.8 1466.4,766.6 1468.9,769.2 1465.8,772.2ZM1522.2,775.8 1524.4,772.0 1527.5,773.8 1527.5,762.6 1517.9,768.2 1521.0,770.0 1518.8,773.8ZM1574.5,774.9 1576.0,772.4 1578.9,774.1 1578.9,763.5 1569.7,768.7 1572.6,770.4 1571.2,772.9ZM1624.4,775.7 1627.7,771.8 1630.5,774.2 1632.5,763.0 1621.8,766.9 1624.6,769.2 1621.3,773.1ZM1676.9,777.6 1680.6,771.2 1683.9,773.1 1684.0,760.9 1673.5,767.2 1676.9,769.1 1673.2,775.4ZM1732.1,776.4 1733.0,771.4 1736.5,772.0 1732.7,761.3 1725.4,770.1 1729.0,770.7 1728.1,775.7ZM1784.0,775.9 1784.8,771.6 1788.2,772.3 1784.5,761.8 1777.3,770.3 1780.8,771.0 1780.1,775.2ZM1837.1,775.7 1837.1,771.3 1840.6,771.3 1835.1,761.7 1829.6,771.3 1833.1,771.3 1833.1,775.7ZM1889.1,777.7 1889.1,770.4 1892.9,770.4 1887.0,759.7 1881.0,770.4 1884.8,770.4 1884.8,777.7ZM1940.8,776.2 1940.8,771.1 1944.5,771.1 1938.8,761.2 1933.1,771.1 1936.8,771.1 1936.8,776.2ZM1992.7,776.2 1992.7,771.1 1996.3,771.1 1990.7,761.2 1985.0,771.1 1988.6,771.1 1988.6,776.2ZM2044.5,776.2 2044.5,771.1 2048.2,771.1 2042.5,761.2 2036.8,771.1 2040.5,771.1 2040.5,776.2ZM502.9,823.0 505.9,819.9 508.5,822.4 511.3,811.7 500.6,814.5 503.1,817.1 500.0,820.1ZM551.5,822.9 557.9,819.3 559.8,822.6 566.0,812.1 553.8,812.3 555.7,815.6 549.4,819.3ZM606.8,823.6 610.1,819.7 612.9,822.1 614.9,810.9 604.2,814.8 607.0,817.1 603.7,821.0ZM655.7,824.7 662.4,819.1 665.0,822.1 669.6,810.2 657.0,812.6 659.6,815.7 652.9,821.3ZM696.0,833.0 720.1,816.0 723.6,821.0 733.5,802.8 713.0,805.8 716.5,810.8 692.3,827.8ZM745.6,831.9 772.5,816.4 775.6,821.8 787.3,804.1 766.1,805.4 769.2,810.8 742.4,826.3ZM796.4,828.5 823.8,817.5 826.1,823.1 839.8,807.6 819.1,805.9 821.4,811.6 794.1,822.6ZM846.0,826.2 876.0,818.2 877.6,824.2 893.5,810.1 872.7,805.9 874.3,811.9 844.4,819.9ZM898.9,824.6 927.0,818.6 928.3,824.5 944.2,811.7 924.5,806.5 925.7,812.4 897.6,818.4ZM950.0,823.9 979.0,818.8 980.1,824.8 996.7,812.4 976.9,806.5 977.9,812.5 948.9,817.6ZM1007.1,826.2 1029.3,818.1 1031.2,823.3 1043.7,809.8 1025.4,807.5 1027.3,812.6 1005.1,820.7ZM1063.0,827.7 1080.2,817.8 1082.8,822.2 1091.9,807.9 1074.9,808.6 1077.5,813.0 1060.2,823.0ZM1117.8,827.3 1131.0,818.0 1133.8,821.9 1140.9,808.0 1125.4,809.9 1128.1,813.8 1114.9,823.1ZM1173.7,822.9 1180.1,819.3 1182.0,822.6 1188.2,812.1 1176.0,812.3 1177.9,815.6 1171.6,819.3ZM1225.6,822.9 1231.9,819.3 1233.8,822.6 1240.1,812.1 1227.9,812.3 1229.8,815.6 1223.4,819.3ZM1278.7,822.1 1283.1,819.6 1284.9,822.7 1290.6,812.9 1279.2,812.9 1281.1,816.0 1276.6,818.6ZM1332.6,821.9 1334.8,820.1 1337.0,822.7 1340.6,812.7 1330.2,814.5 1332.4,817.1 1330.2,819.0ZM1383.1,825.7 1388.8,818.9 1391.8,821.5 1394.3,808.9 1382.3,813.5 1385.4,816.1 1379.7,822.8ZM1436.4,823.6 1439.7,819.7 1442.5,822.1 1444.5,810.9 1433.8,814.8 1436.6,817.1 1433.3,821.0ZM1488.0,824.1 1491.7,819.6 1494.6,822.0 1496.7,810.5 1485.7,814.6 1488.6,816.9 1484.8,821.4ZM1536.9,826.4 1544.7,818.6 1547.7,821.6 1551.5,808.5 1538.4,812.3 1541.4,815.3 1533.6,823.1ZM1593.3,824.1 1595.8,819.7 1598.9,821.5 1599.0,810.1 1589.2,815.9 1592.3,817.7 1589.7,822.1ZM1648.5,824.2 1648.9,819.2 1652.5,819.5 1647.8,809.1 1641.3,818.5 1644.9,818.8 1644.4,823.9ZM1697.6,824.3 1699.8,819.6 1703.1,821.2 1702.1,809.8 1692.8,816.4 1696.1,817.9 1693.9,822.5ZM1752.2,823.7 1752.6,819.4 1756.1,819.7 1751.4,809.6 1745.1,818.7 1748.6,819.1 1748.2,823.4ZM1804.7,824.1 1804.7,819.0 1808.3,819.0 1802.7,809.1 1797.0,819.0 1800.6,819.0 1800.6,824.1ZM1856.6,824.6 1856.6,818.8 1860.3,818.8 1854.5,808.6 1848.7,818.8 1852.4,818.8 1852.4,824.6ZM1908.7,829.1 1908.7,816.6 1913.1,816.6 1906.3,804.1 1899.6,816.6 1904.0,816.6 1904.0,829.1ZM1957.5,824.3 1959.3,819.5 1962.7,820.8 1960.8,809.6 1952.1,816.9 1955.5,818.2 1953.7,823.0ZM2012.1,824.1 2012.1,819.0 2015.7,819.0 2010.1,809.1 2004.4,819.0 2008.0,819.0 2008.0,824.1ZM482.6,870.9 486.5,867.6 488.8,870.4 492.7,859.7 481.5,861.7 483.9,864.5 480.0,867.8ZM533.3,871.9 538.9,867.2 541.4,870.2 545.7,858.7 533.7,861.0 536.2,863.9 530.6,868.7ZM585.2,871.9 590.8,867.2 593.3,870.2 597.6,858.7 585.6,861.0 588.0,863.9 582.4,868.7ZM637.0,871.9 642.6,867.2 645.1,870.2 649.4,858.7 637.4,861.0 639.9,863.9 634.3,868.7ZM687.4,873.3 695.3,866.7 698.0,869.9 702.8,857.4 689.7,860.0 692.4,863.2 684.5,869.8ZM732.1,875.1 749.6,865.8 752.1,870.3 761.7,856.3 744.7,856.4 747.1,861.0 729.5,870.3ZM780.3,876.1 803.1,865.5 805.4,870.6 817.1,855.6 798.2,855.0 800.5,860.1 777.8,870.7ZM829.0,873.3 855.4,866.2 856.9,871.9 871.7,858.7 852.3,854.6 853.8,860.3 827.4,867.4ZM879.0,870.9 907.5,866.9 908.3,872.8 925.1,861.2 905.8,854.7 906.6,860.7 878.1,864.7ZM932.8,870.5 958.3,866.9 959.1,872.5 974.9,861.5 956.7,855.3 957.5,860.9 931.9,864.5ZM997.9,871.4 1005.6,867.0 1007.6,870.5 1014.2,859.5 1001.4,859.7 1003.4,863.2 995.7,867.6ZM1052.4,870.5 1056.5,867.5 1058.6,870.5 1063.5,860.2 1052.1,861.2 1054.2,864.2 1050.0,867.1ZM1103.7,871.9 1109.3,867.2 1111.8,870.2 1116.1,858.7 1104.1,861.0 1106.5,863.9 1100.9,868.7ZM1155.6,870.0 1160.0,867.5 1161.8,870.6 1167.5,860.8 1156.1,860.8 1158.0,863.9 1153.5,866.5ZM1207.0,869.5 1211.6,867.3 1213.1,870.6 1219.7,861.3 1208.3,860.4 1209.9,863.7 1205.2,865.8ZM1259.3,870.0 1263.7,867.5 1265.5,870.6 1271.2,860.8 1259.8,860.8 1261.7,863.9 1257.2,866.5ZM1312.0,870.1 1315.6,867.6 1317.6,870.6 1322.3,860.5 1311.3,861.5 1313.3,864.4 1309.7,866.9ZM1362.9,871.9 1368.5,867.2 1371.0,870.2 1375.3,858.7 1363.3,861.0 1365.8,863.9 1360.2,868.7ZM1417.0,871.5 1420.3,867.6 1423.1,870.0 1425.1,858.8 1414.4,862.7 1417.2,865.0 1413.9,868.9ZM1469.2,871.1 1472.0,867.8 1474.7,870.1 1476.6,859.1 1466.2,863.0 1468.9,865.2 1466.1,868.6ZM1522.7,872.2 1524.8,867.5 1528.1,869.1 1527.2,857.7 1517.9,864.3 1521.2,865.8 1519.0,870.4ZM1573.2,873.4 1576.9,867.0 1580.2,868.9 1580.4,856.7 1569.8,863.0 1573.2,864.9 1569.5,871.2ZM1629.5,872.1 1629.6,867.0 1633.3,867.1 1628.0,857.0 1622.0,866.7 1625.6,866.8 1625.4,871.9ZM1680.2,872.2 1681.1,867.2 1684.7,867.8 1680.9,857.1 1673.6,865.9 1677.1,866.5 1676.3,871.5ZM1731.8,874.7 1733.4,866.1 1737.3,866.8 1733.1,854.7 1725.1,864.6 1729.0,865.3 1727.5,874.0ZM1785.3,872.0 1785.3,866.9 1788.9,866.9 1783.2,857.0 1777.6,866.9 1781.2,866.9 1781.2,872.0ZM1837.2,872.5 1837.2,866.7 1840.9,866.7 1835.1,856.5 1829.3,866.7 1833.0,866.7 1833.0,872.5ZM1889.2,875.5 1889.2,865.2 1893.4,865.2 1887.0,853.5 1880.5,865.2 1884.7,865.2 1884.7,875.5ZM1940.2,872.6 1940.7,866.8 1944.3,867.2 1939.5,856.5 1932.9,866.1 1936.6,866.5 1936.1,872.3ZM1992.7,872.0 1992.7,866.9 1996.3,866.9 1990.7,857.0 1985.0,866.9 1988.6,866.9 1988.6,872.0ZM2044.5,872.0 2044.5,866.9 2048.2,866.9 2042.5,857.0 2036.8,866.9 2040.5,866.9 2040.5,872.0ZM500.2,920.5 506.9,914.9 509.5,917.9 514.1,906.0 501.5,908.4 504.1,911.5 497.3,917.1ZM552.0,920.5 558.7,914.9 561.3,917.9 565.9,906.0 553.3,908.4 555.9,911.5 549.2,917.1ZM603.9,920.5 610.6,914.9 613.2,917.9 617.8,906.0 605.2,908.4 607.8,911.5 601.0,917.1ZM657.5,918.8 661.4,915.5 663.7,918.3 667.7,907.6 656.5,909.6 658.8,912.4 654.9,915.7ZM708.8,918.4 713.0,915.4 715.1,918.4 719.9,908.1 708.6,909.1 710.7,912.1 706.5,915.0ZM756.2,919.3 766.2,914.7 768.0,918.5 776.1,907.5 762.5,906.7 764.2,910.5 754.3,915.2ZM796.6,921.2 822.9,914.1 824.5,919.8 839.2,906.6 819.8,902.5 821.3,908.2 795.0,915.3ZM847.2,917.4 874.4,915.0 874.9,920.9 891.8,910.4 873.4,903.1 873.9,908.9 846.7,911.3ZM900.8,918.3 925.7,914.8 926.4,920.4 942.0,909.5 924.0,903.3 924.8,908.9 900.0,912.4ZM965.5,919.3 973.1,914.9 975.1,918.4 981.7,907.4 968.9,907.6 970.9,911.1 963.3,915.5ZM1021.5,917.7 1023.7,915.9 1025.9,918.5 1029.5,908.5 1019.1,910.3 1021.3,912.9 1019.1,914.8ZM1071.3,917.9 1075.7,915.4 1077.5,918.5 1083.2,908.7 1071.8,908.7 1073.7,911.8 1069.2,914.4ZM1123.1,917.9 1127.5,915.4 1129.3,918.5 1135.1,908.7 1123.7,908.7 1125.5,911.8 1121.1,914.4ZM1175.0,917.9 1179.4,915.4 1181.2,918.5 1186.9,908.7 1175.5,908.7 1177.4,911.8 1172.9,914.4ZM1226.4,917.4 1231.0,915.2 1232.5,918.5 1239.1,909.2 1227.7,908.3 1229.3,911.6 1224.6,913.7ZM1278.2,917.4 1282.8,915.2 1284.4,918.5 1290.9,909.2 1279.6,908.3 1281.1,911.6 1276.5,913.7ZM1329.6,917.6 1334.9,915.2 1336.5,918.5 1343.3,909.0 1331.6,908.1 1333.2,911.4 1327.9,913.9ZM1380.3,919.3 1387.9,914.9 1389.9,918.4 1396.5,907.4 1383.7,907.6 1385.7,911.1 1378.1,915.5ZM1435.8,919.1 1439.4,915.5 1442.0,918.1 1445.0,907.1 1434.0,910.1 1436.6,912.7 1433.0,916.3ZM1489.2,918.2 1491.0,916.0 1493.6,918.2 1495.4,907.8 1485.5,911.4 1488.1,913.6 1486.2,915.8ZM1542.7,920.1 1544.5,915.3 1547.9,916.6 1546.0,905.4 1537.3,912.7 1540.7,914.0 1538.9,918.8ZM1591.3,921.9 1596.4,914.6 1599.6,916.9 1601.0,904.2 1589.5,909.8 1592.8,912.1 1587.7,919.3ZM1649.1,919.9 1649.1,914.8 1652.8,914.8 1647.1,904.9 1641.4,914.8 1645.1,914.8 1645.1,919.9ZM1701.0,919.9 1701.0,914.8 1704.6,914.8 1698.9,904.9 1693.3,914.8 1696.9,914.8 1696.9,919.9ZM1748.3,926.4 1753.4,912.6 1757.7,914.1 1755.6,899.2 1744.4,909.3 1748.7,910.9 1743.7,924.7ZM1804.7,919.9 1804.7,914.8 1808.3,914.8 1802.7,904.9 1797.0,914.8 1800.6,914.8 1800.6,919.9ZM1856.6,920.4 1856.6,914.6 1860.3,914.6 1854.5,904.4 1848.7,914.6 1852.4,914.6 1852.4,920.4ZM1908.5,922.4 1908.5,913.6 1912.5,913.6 1906.3,902.4 1900.1,913.6 1904.1,913.6 1904.1,922.4ZM1960.3,920.4 1960.3,914.6 1964.0,914.6 1958.2,904.4 1952.4,914.6 1956.1,914.6 1956.1,920.4ZM2012.1,919.9 2012.1,914.8 2015.7,914.8 2010.1,904.9 2004.4,914.8 2008.0,914.8 2008.0,919.9ZM482.6,966.7 486.5,963.4 488.8,966.2 492.7,955.5 481.5,957.5 483.9,960.3 480.0,963.6ZM533.3,967.7 538.9,963.0 541.4,966.0 545.7,954.5 533.7,956.8 536.2,959.7 530.6,964.5ZM585.2,967.7 590.8,963.0 593.3,966.0 597.6,954.5 585.6,956.8 588.0,959.7 582.4,964.5ZM638.1,966.7 642.0,963.4 644.3,966.2 648.3,955.5 637.1,957.5 639.4,960.3 635.5,963.6ZM690.0,966.7 693.9,963.4 696.2,966.2 700.1,955.5 688.9,957.5 691.3,960.3 687.4,963.6ZM741.8,966.7 745.7,963.4 748.0,966.2 752.0,955.5 740.8,957.5 743.1,960.3 739.2,963.6ZM777.9,966.9 802.6,962.5 803.6,968.1 818.8,956.7 800.6,951.1 801.6,956.7 776.9,961.0ZM827.8,965.3 855.0,962.9 855.5,968.8 872.4,958.3 854.0,951.0 854.5,956.8 827.3,959.2ZM882.0,964.2 905.5,963.0 905.8,968.5 921.8,959.3 905.0,951.7 905.2,957.2 881.7,958.5ZM951.3,966.1 953.1,963.9 955.7,966.1 957.5,955.7 947.6,959.3 950.2,961.5 948.3,963.7ZM1002.0,966.7 1005.0,963.6 1007.6,966.1 1010.4,955.4 999.7,958.2 1002.2,960.8 999.1,963.8ZM1053.8,966.7 1056.9,963.6 1059.4,966.1 1062.3,955.4 1051.6,958.2 1054.1,960.8 1051.0,963.8ZM1105.7,966.7 1108.7,963.6 1111.3,966.1 1114.1,955.4 1103.4,958.2 1105.9,960.8 1102.8,963.8ZM1157.0,966.3 1160.3,963.5 1162.6,966.2 1166.4,955.8 1155.5,957.8 1157.7,960.5 1154.4,963.3ZM1207.8,965.5 1211.6,963.3 1213.4,966.4 1219.0,956.8 1207.8,956.8 1209.6,959.9 1205.8,962.1ZM1258.8,966.7 1264.3,963.1 1266.3,966.3 1271.9,955.7 1259.9,956.4 1262.0,959.6 1256.5,963.2ZM1311.5,965.5 1315.3,963.3 1317.1,966.4 1322.7,956.8 1311.5,956.8 1313.3,959.9 1309.5,962.1ZM1361.3,966.9 1368.3,962.9 1370.2,966.3 1376.7,955.6 1364.2,955.7 1366.1,959.1 1359.1,963.2ZM1416.4,966.5 1419.7,963.5 1422.0,966.2 1425.5,955.6 1414.6,957.9 1417.0,960.6 1413.8,963.5ZM1469.7,968.2 1472.8,963.2 1475.9,965.2 1476.4,953.5 1466.1,959.1 1469.3,961.0 1466.2,966.0ZM1524.4,967.6 1525.3,963.3 1528.8,964.1 1525.6,953.5 1518.0,961.6 1521.5,962.4 1520.5,966.7ZM1577.9,968.3 1577.9,962.5 1581.6,962.5 1575.9,952.3 1570.1,962.5 1573.8,962.5 1573.8,968.3ZM1628.3,968.5 1629.4,962.8 1633.0,963.4 1629.1,952.4 1621.7,961.4 1625.3,962.1 1624.3,967.8ZM1676.9,969.2 1680.6,962.8 1683.9,964.7 1684.0,952.5 1673.5,958.8 1676.9,960.7 1673.2,967.0ZM1733.5,968.3 1733.5,962.5 1737.2,962.5 1731.4,952.3 1725.6,962.5 1729.3,962.5 1729.3,968.3ZM1785.3,968.3 1785.3,962.5 1789.0,962.5 1783.2,952.3 1777.5,962.5 1781.2,962.5 1781.2,968.3ZM1837.2,968.3 1837.2,962.5 1840.9,962.5 1835.1,952.3 1829.3,962.5 1833.0,962.5 1833.0,968.3ZM1889.0,968.3 1889.0,962.5 1892.7,962.5 1887.0,952.3 1881.2,962.5 1884.9,962.5 1884.9,968.3ZM1940.9,968.3 1940.9,962.5 1944.6,962.5 1938.8,952.3 1933.0,962.5 1936.7,962.5 1936.7,968.3ZM1992.7,967.8 1992.7,962.7 1996.3,962.7 1990.7,952.8 1985.0,962.7 1988.6,962.7 1988.6,967.8ZM2044.5,967.8 2044.5,962.7 2048.2,962.7 2042.5,952.8 2036.8,962.7 2040.5,962.7 2040.5,967.8ZM503.5,1013.8 505.6,1011.8 508.0,1014.2 510.6,1004.0 500.4,1006.6 502.8,1009.0 500.8,1011.1ZM555.4,1013.8 557.4,1011.8 559.8,1014.2 562.5,1004.0 552.3,1006.6 554.7,1009.0 552.6,1011.1ZM607.2,1013.8 609.3,1011.8 611.7,1014.2 614.3,1004.0 604.1,1006.6 606.5,1009.0 604.5,1011.1ZM659.1,1013.8 661.1,1011.8 663.5,1014.2 666.2,1004.0 656.0,1006.6 658.4,1009.0 656.3,1011.1ZM704.2,1016.5 715.0,1010.3 717.2,1014.0 724.6,1002.0 710.4,1002.4 712.6,1006.1 701.8,1012.4ZM748.5,1016.8 769.5,1009.9 771.1,1015.0 783.7,1002.3 766.1,999.5 767.7,1004.5 746.7,1011.4ZM799.5,1014.9 821.1,1010.3 822.3,1015.6 836.1,1004.2 818.9,999.6 820.0,1004.8 798.3,1009.4ZM854.1,1015.0 871.9,1010.3 873.2,1015.1 885.3,1003.9 869.2,1000.3 870.5,1005.1 852.7,1009.9ZM918.3,1013.8 920.4,1011.8 922.8,1014.2 925.4,1004.0 915.2,1006.6 917.6,1009.0 915.6,1011.1ZM970.2,1013.8 972.2,1011.8 974.6,1014.2 977.3,1004.0 967.1,1006.6 969.5,1009.0 967.4,1011.1ZM1022.0,1013.8 1024.1,1011.8 1026.5,1014.2 1029.1,1004.0 1018.9,1006.6 1021.3,1009.0 1019.3,1011.1ZM1074.4,1014.0 1076.2,1011.8 1078.8,1014.0 1080.6,1003.6 1070.7,1007.2 1073.3,1009.4 1071.4,1011.6ZM1125.7,1013.8 1127.8,1011.8 1130.2,1014.2 1132.8,1004.0 1122.6,1006.6 1125.0,1009.0 1123.0,1011.1ZM1175.4,1013.4 1179.2,1011.2 1180.9,1014.3 1186.5,1004.7 1175.4,1004.7 1177.2,1007.8 1173.4,1010.0ZM1226.8,1013.0 1230.7,1011.1 1232.2,1014.3 1238.6,1005.2 1227.6,1004.3 1229.1,1007.5 1225.1,1009.4ZM1280.1,1016.3 1284.6,1010.9 1287.6,1013.4 1289.8,1001.5 1278.5,1005.7 1281.4,1008.2 1276.9,1013.6ZM1327.7,1023.3 1339.4,1008.2 1343.4,1011.3 1346.5,994.8 1331.2,1001.7 1335.2,1004.8 1323.4,1019.9ZM1384.3,1015.7 1388.0,1011.2 1390.9,1013.6 1393.0,1002.1 1382.0,1006.2 1384.9,1008.5 1381.1,1013.0ZM1436.7,1015.6 1440.0,1011.3 1442.9,1013.5 1444.4,1002.0 1433.8,1006.6 1436.7,1008.8 1433.4,1013.2ZM1489.1,1016.0 1492.1,1011.2 1495.2,1013.1 1495.7,1001.5 1485.5,1007.0 1488.6,1009.0 1485.6,1013.8ZM1542.2,1017.7 1544.9,1010.4 1548.6,1011.7 1546.6,999.5 1537.2,1007.6 1540.9,1008.9 1538.2,1016.2ZM1597.3,1016.5 1597.3,1010.2 1601.1,1010.2 1595.2,1000.0 1589.4,1010.2 1593.2,1010.2 1593.2,1016.5ZM1647.8,1019.4 1649.2,1009.2 1653.4,1009.8 1648.6,997.3 1640.6,1008.0 1644.8,1008.6 1643.3,1018.8ZM1694.2,1017.3 1699.9,1010.5 1702.9,1013.1 1705.4,1000.5 1693.4,1005.1 1696.5,1007.7 1690.8,1014.4ZM1752.9,1016.2 1752.9,1010.4 1756.6,1010.4 1750.8,1000.2 1745.0,1010.4 1748.7,1010.4 1748.7,1016.2ZM1804.7,1016.2 1804.7,1010.4 1808.4,1010.4 1802.7,1000.2 1796.9,1010.4 1800.6,1010.4 1800.6,1016.2ZM1856.6,1016.2 1856.6,1010.4 1860.3,1010.4 1854.5,1000.2 1848.7,1010.4 1852.4,1010.4 1852.4,1016.2ZM1908.4,1016.2 1908.4,1010.4 1912.1,1010.4 1906.3,1000.2 1900.6,1010.4 1904.3,1010.4 1904.3,1016.2ZM1960.3,1016.2 1960.3,1010.4 1964.0,1010.4 1958.2,1000.2 1952.4,1010.4 1956.1,1010.4 1956.1,1016.2ZM2012.1,1015.7 2012.1,1010.6 2015.7,1010.6 2010.1,1000.7 2004.4,1010.6 2008.0,1010.6 2008.0,1015.7ZM482.8,1060.8 485.3,1059.3 487.0,1062.3 492.2,1053.1 481.6,1053.1 483.3,1056.0 480.8,1057.4ZM529.4,1060.0 538.1,1058.5 538.7,1062.4 548.7,1054.4 536.6,1050.2 537.3,1054.1 528.6,1055.7ZM578.5,1059.6 590.9,1058.5 591.3,1062.8 603.2,1055.0 590.1,1049.4 590.5,1053.7 578.0,1054.8ZM627.8,1059.9 644.0,1058.5 644.4,1063.3 657.5,1054.8 643.1,1048.7 643.5,1053.5 627.4,1054.9ZM680.1,1061.2 696.0,1058.4 696.8,1063.1 709.2,1053.5 694.3,1048.7 695.1,1053.4 679.2,1056.2ZM738.7,1063.0 746.3,1058.6 748.3,1062.1 754.9,1051.1 742.1,1051.3 744.1,1054.8 736.5,1059.2ZM793.7,1062.5 797.6,1059.2 799.9,1062.0 803.8,1051.3 792.6,1053.3 795.0,1056.1 791.1,1059.4ZM846.1,1062.8 849.7,1059.2 852.2,1061.8 855.3,1050.8 844.3,1053.8 846.8,1056.4 843.2,1060.0ZM898.9,1061.7 901.0,1059.7 903.4,1062.1 906.0,1051.9 895.8,1054.5 898.2,1056.9 896.2,1059.0ZM950.8,1061.7 952.8,1059.7 955.2,1062.1 957.9,1051.9 947.7,1054.5 950.1,1056.9 948.0,1059.0ZM1002.6,1061.7 1004.7,1059.7 1007.1,1062.1 1009.7,1051.9 999.5,1054.5 1001.9,1056.9 999.9,1059.0ZM1054.5,1061.7 1056.5,1059.7 1058.9,1062.1 1061.6,1051.9 1051.4,1054.5 1053.8,1056.9 1051.7,1059.0ZM1106.3,1061.7 1108.4,1059.7 1110.8,1062.1 1113.4,1051.9 1103.2,1054.5 1105.6,1056.9 1103.6,1059.0ZM1158.2,1061.7 1160.2,1059.7 1162.6,1062.1 1165.3,1051.9 1155.1,1054.5 1157.5,1056.9 1155.4,1059.0ZM1210.0,1061.7 1212.1,1059.7 1214.5,1062.1 1217.1,1051.9 1206.9,1054.5 1209.3,1056.9 1207.3,1059.0ZM1260.5,1063.7 1265.0,1058.9 1267.7,1061.5 1270.5,1049.9 1259.1,1053.5 1261.9,1056.1 1257.4,1060.9ZM1313.9,1062.3 1316.2,1059.6 1318.9,1061.8 1320.8,1051.1 1310.6,1054.8 1313.3,1057.0 1310.9,1059.8ZM1364.9,1062.5 1368.0,1059.4 1370.5,1061.9 1373.4,1051.2 1362.7,1054.0 1365.2,1056.6 1362.1,1059.6ZM1416.8,1062.5 1419.8,1059.4 1422.4,1061.9 1425.2,1051.2 1414.5,1054.0 1417.0,1056.6 1413.9,1059.6ZM1468.5,1068.0 1474.2,1057.3 1478.0,1059.3 1477.9,1045.3 1466.2,1053.1 1470.0,1055.1 1464.3,1065.8ZM1519.9,1069.6 1526.5,1056.6 1530.6,1058.7 1530.3,1043.8 1518.0,1052.3 1522.1,1054.4 1515.5,1067.3ZM1577.2,1063.2 1577.6,1058.9 1581.1,1059.2 1576.5,1049.1 1570.1,1058.2 1573.6,1058.6 1573.3,1062.9ZM1629.8,1064.1 1629.8,1058.3 1633.5,1058.3 1627.7,1048.1 1621.9,1058.3 1625.6,1058.3 1625.6,1064.1ZM1678.5,1065.3 1681.0,1058.4 1684.6,1059.7 1682.6,1047.6 1673.4,1055.6 1677.0,1057.0 1674.5,1063.8ZM1733.5,1064.1 1733.5,1058.3 1737.2,1058.3 1731.4,1048.1 1725.6,1058.3 1729.3,1058.3 1729.3,1064.1ZM1785.3,1063.6 1785.3,1058.5 1788.9,1058.5 1783.2,1048.6 1777.6,1058.5 1781.2,1058.5 1781.2,1063.6ZM1837.1,1063.6 1837.1,1058.5 1840.8,1058.5 1835.1,1048.6 1829.5,1058.5 1833.1,1058.5 1833.1,1063.6ZM1889.0,1063.6 1889.0,1058.5 1892.6,1058.5 1887.0,1048.6 1881.3,1058.5 1884.9,1058.5 1884.9,1063.6ZM1940.8,1063.6 1940.8,1058.5 1944.5,1058.5 1938.8,1048.6 1933.1,1058.5 1936.8,1058.5 1936.8,1063.6ZM1992.7,1063.6 1992.7,1058.5 1996.3,1058.5 1990.7,1048.6 1985.0,1058.5 1988.6,1058.5 1988.6,1063.6ZM2044.5,1063.6 2044.5,1058.5 2048.2,1058.5 2042.5,1048.6 2036.8,1058.5 2040.5,1058.5 2040.5,1063.6ZM486.4,1106.9 510.0,1106.9 510.0,1112.4 526.4,1104.0 510.0,1095.6 510.0,1101.1 486.4,1101.1ZM541.8,1106.7 560.2,1106.7 560.2,1111.6 574.8,1104.0 560.2,1096.4 560.2,1101.3 541.8,1101.3ZM593.8,1107.5 612.2,1106.6 612.4,1111.5 626.6,1103.1 611.6,1096.3 611.9,1101.2 593.5,1102.2ZM646.3,1113.3 665.4,1105.6 667.4,1110.4 678.6,1097.3 661.4,1095.6 663.4,1100.5 644.2,1108.2ZM700.6,1107.6 714.5,1106.4 714.9,1110.9 727.2,1102.8 713.7,1097.0 714.1,1101.5 700.1,1102.7ZM758.7,1112.8 766.6,1106.2 769.2,1109.4 774.1,1096.9 761.0,1099.5 763.6,1102.7 755.8,1109.3ZM812.0,1112.6 818.2,1106.4 821.0,1109.2 824.6,1096.9 812.3,1100.5 815.1,1103.3 808.9,1109.5ZM866.4,1111.7 869.8,1107.0 872.8,1109.1 873.9,1097.4 863.4,1102.5 866.4,1104.6 863.1,1109.4ZM917.6,1111.5 921.4,1107.0 924.2,1109.4 926.3,1097.9 915.4,1102.0 918.2,1104.3 914.5,1108.8ZM968.5,1109.6 972.0,1107.1 974.1,1110.1 978.8,1100.0 967.7,1101.0 969.7,1103.9 966.2,1106.4ZM1019.4,1108.8 1023.3,1106.9 1024.8,1110.1 1031.2,1101.0 1020.2,1100.1 1021.7,1103.3 1017.7,1105.2ZM1069.5,1106.7 1074.5,1106.2 1074.9,1109.8 1084.2,1103.3 1073.9,1098.6 1074.2,1102.2 1069.1,1102.6ZM1122.3,1104.3 1125.1,1105.0 1124.2,1108.3 1134.4,1105.6 1127.0,1098.1 1126.1,1101.3 1123.3,1100.6ZM1174.9,1106.9 1177.7,1106.4 1178.3,1109.8 1186.4,1103.0 1176.5,1099.3 1177.0,1102.7 1174.2,1103.2ZM1228.1,1108.7 1230.6,1107.2 1232.3,1110.2 1237.5,1101.0 1226.9,1101.0 1228.6,1103.9 1226.1,1105.3ZM1282.4,1111.1 1284.6,1107.3 1287.6,1109.1 1287.7,1097.9 1278.0,1103.5 1281.1,1105.3 1278.9,1109.1ZM1333.3,1112.9 1337.0,1106.5 1340.3,1108.4 1340.5,1096.2 1330.0,1102.5 1333.3,1104.4 1329.7,1110.7ZM1386.1,1112.1 1388.7,1106.9 1392.0,1108.5 1391.5,1096.9 1381.7,1103.3 1385.0,1105.0 1382.4,1110.2ZM1438.8,1109.3 1439.8,1107.5 1442.6,1109.1 1442.2,1099.7 1433.8,1104.0 1436.6,1105.7 1435.6,1107.4ZM1489.9,1120.1 1494.5,1103.1 1499.2,1104.3 1495.7,1088.5 1484.7,1100.4 1489.5,1101.7 1484.9,1118.8ZM1542.7,1115.7 1545.5,1105.1 1549.6,1106.2 1546.4,1092.9 1537.0,1102.8 1541.0,1103.9 1538.2,1114.5ZM1595.0,1115.2 1597.3,1105.2 1601.3,1106.1 1597.7,1093.3 1588.8,1103.3 1592.9,1104.2 1590.6,1114.2ZM1662.5,1108.9 1646.8,1100.9 1649.0,1096.5 1632.8,1096.7 1642.2,1109.9 1644.4,1105.6 1660.2,1113.6ZM1701.4,1117.5 1701.4,1103.5 1705.9,1103.5 1698.9,1090.5 1692.0,1103.5 1696.5,1103.5 1696.5,1117.5ZM1749.4,1119.1 1753.6,1103.5 1758.2,1104.7 1754.7,1089.5 1744.1,1101.0 1748.6,1102.2 1744.5,1117.8ZM1804.6,1111.0 1804.6,1106.6 1808.2,1106.6 1802.7,1097.0 1797.1,1106.6 1800.7,1106.6 1800.7,1111.0ZM1859.7,1109.1 1857.5,1105.3 1860.6,1103.5 1851.0,1097.9 1851.0,1109.1 1854.1,1107.3 1856.3,1111.1ZM1908.3,1111.0 1908.3,1106.6 1911.9,1106.6 1906.3,1097.0 1900.8,1106.6 1904.4,1106.6 1904.4,1111.0ZM1960.2,1111.0 1960.2,1106.6 1963.7,1106.6 1958.2,1097.0 1952.7,1106.6 1956.2,1106.6 1956.2,1111.0ZM2012.0,1111.0 2012.0,1106.6 2015.6,1106.6 2010.1,1097.0 2004.5,1106.6 2008.1,1106.6 2008.1,1111.0ZM469.0,1154.7 489.6,1154.7 489.6,1159.9 505.0,1151.9 489.6,1143.9 489.6,1149.1 469.0,1149.1ZM520.9,1154.7 541.5,1154.7 541.5,1159.9 556.9,1151.9 541.5,1143.9 541.5,1149.1 520.9,1149.1ZM575.0,1155.9 592.6,1154.4 593.0,1159.2 606.6,1150.5 591.7,1144.3 592.1,1149.1 574.5,1150.7ZM629.6,1159.9 644.6,1153.8 646.4,1158.2 656.5,1146.3 640.9,1144.7 642.7,1149.1 627.7,1155.2ZM681.0,1162.7 697.6,1153.1 700.1,1157.5 709.1,1143.4 692.4,1144.1 694.9,1148.5 678.3,1158.1ZM742.0,1159.0 746.2,1154.9 748.8,1157.5 751.9,1146.2 740.6,1149.4 743.3,1152.0 739.1,1156.1ZM792.2,1157.7 797.3,1154.8 799.1,1158.0 805.0,1147.9 793.3,1148.0 795.2,1151.2 790.1,1154.1ZM847.0,1158.5 849.8,1155.2 852.5,1157.5 854.4,1146.5 844.0,1150.4 846.7,1152.6 843.9,1156.0ZM902.5,1159.1 903.3,1154.8 906.8,1155.5 903.0,1145.0 895.9,1153.5 899.4,1154.2 898.6,1158.4ZM953.4,1158.2 954.4,1155.5 957.6,1156.7 955.7,1146.3 947.6,1153.0 950.8,1154.2 949.8,1156.9ZM1004.2,1158.1 1005.6,1155.6 1008.5,1157.3 1008.5,1146.7 999.3,1151.9 1002.3,1153.6 1000.8,1156.1ZM1047.1,1152.3 1055.8,1153.9 1055.1,1157.8 1067.2,1153.6 1057.2,1145.6 1056.6,1149.5 1047.9,1148.0ZM1106.3,1146.3 1106.8,1149.2 1103.4,1149.8 1110.2,1157.8 1113.9,1147.9 1110.5,1148.5 1110.0,1145.7ZM1159.7,1158.1 1161.2,1155.6 1164.1,1157.3 1164.1,1146.7 1154.9,1151.9 1157.8,1153.6 1156.4,1156.1ZM1211.6,1158.1 1213.0,1155.6 1215.9,1157.3 1215.9,1146.7 1206.7,1151.9 1209.7,1153.6 1208.2,1156.1ZM1261.7,1161.7 1266.1,1154.0 1269.5,1156.0 1269.8,1143.2 1258.8,1149.8 1262.2,1151.8 1257.8,1159.5ZM1316.3,1161.1 1318.2,1154.1 1321.9,1155.1 1318.9,1143.2 1310.4,1152.0 1314.1,1153.0 1312.2,1160.0ZM1374.0,1157.4 1371.4,1153.0 1374.5,1151.2 1364.7,1145.4 1364.8,1156.8 1367.9,1155.0 1370.4,1159.4ZM1422.3,1159.4 1422.3,1154.3 1426.0,1154.3 1420.3,1144.4 1414.7,1154.3 1418.3,1154.3 1418.3,1159.4ZM1472.7,1161.1 1474.0,1153.9 1477.7,1154.6 1473.7,1143.0 1466.0,1152.5 1469.8,1153.2 1468.5,1160.4ZM1522.0,1159.4 1524.6,1155.0 1527.7,1156.8 1527.8,1145.4 1517.9,1151.2 1521.0,1153.0 1518.5,1157.4ZM1575.3,1159.2 1576.8,1155.1 1580.2,1156.3 1578.2,1145.3 1569.7,1152.5 1573.1,1153.7 1571.6,1157.8ZM1628.4,1159.1 1629.2,1154.8 1632.7,1155.5 1628.9,1145.0 1621.8,1153.5 1625.3,1154.2 1624.5,1158.4ZM1681.5,1158.9 1681.5,1154.5 1685.1,1154.5 1679.5,1144.9 1674.0,1154.5 1677.6,1154.5 1677.6,1158.9ZM1733.3,1157.9 1733.3,1155.0 1736.7,1155.0 1731.4,1145.9 1726.1,1155.0 1729.5,1155.0 1729.5,1157.9ZM1785.2,1158.9 1785.2,1154.5 1788.8,1154.5 1783.2,1144.9 1777.7,1154.5 1781.3,1154.5 1781.3,1158.9ZM1837.0,1157.9 1837.0,1155.0 1840.4,1155.0 1835.1,1145.9 1829.8,1155.0 1833.2,1155.0 1833.2,1157.9ZM1889.0,1159.4 1889.0,1154.3 1892.6,1154.3 1887.0,1144.4 1881.3,1154.3 1884.9,1154.3 1884.9,1159.4ZM1940.7,1157.9 1940.7,1155.0 1944.1,1155.0 1938.8,1145.9 1933.5,1155.0 1936.9,1155.0 1936.9,1157.9ZM1992.6,1157.9 1992.6,1155.0 1996.0,1155.0 1990.7,1145.9 1985.3,1155.0 1988.7,1155.0 1988.7,1157.9ZM2044.4,1157.9 2044.4,1155.0 2047.8,1155.0 2042.5,1145.9 2037.2,1155.0 2040.6,1155.0 2040.6,1157.9ZM502.5,1206.5 506.1,1202.9 508.7,1205.5 511.7,1194.5 500.7,1197.5 503.3,1200.1 499.7,1203.7ZM543.9,1210.2 561.6,1201.1 564.0,1205.7 573.8,1191.9 556.8,1191.7 559.2,1196.3 541.4,1205.3ZM597.3,1208.0 612.2,1201.7 614.1,1206.1 623.9,1193.9 608.4,1192.6 610.2,1197.0 595.3,1203.3ZM657.5,1206.2 661.4,1202.9 663.7,1205.7 667.7,1195.0 656.5,1197.0 658.8,1199.8 654.9,1203.1ZM709.7,1205.8 713.1,1203.0 715.3,1205.7 719.2,1195.3 708.2,1197.3 710.5,1200.0 707.2,1202.8ZM761.4,1204.5 763.9,1203.0 765.6,1206.0 770.8,1196.8 760.3,1196.8 762.0,1199.7 759.5,1201.1ZM811.5,1201.7 814.4,1201.7 814.4,1205.1 823.5,1199.8 814.4,1194.5 814.4,1197.9 811.5,1197.9ZM867.6,1206.9 869.8,1203.1 872.8,1204.9 872.8,1193.7 863.2,1199.3 866.3,1201.1 864.1,1204.9ZM917.0,1204.5 919.5,1203.0 921.2,1206.0 926.4,1196.8 915.8,1196.8 917.5,1199.7 915.0,1201.1ZM969.5,1206.2 972.6,1203.1 975.1,1205.6 978.0,1194.9 967.3,1197.7 969.8,1200.3 966.7,1203.3ZM1026.8,1205.8 1026.8,1202.9 1030.2,1202.9 1024.9,1193.8 1019.6,1202.9 1023.0,1202.9 1023.0,1205.8ZM1071.2,1202.7 1074.0,1202.2 1074.6,1205.6 1082.7,1198.8 1072.8,1195.1 1073.3,1198.5 1070.5,1199.0ZM1127.3,1206.0 1128.7,1203.5 1131.6,1205.2 1131.6,1194.6 1122.4,1199.8 1125.4,1201.5 1123.9,1204.0ZM1179.1,1206.0 1180.6,1203.5 1183.5,1205.2 1183.5,1194.6 1174.3,1199.8 1177.2,1201.5 1175.8,1204.0ZM1228.9,1205.1 1231.1,1203.3 1233.3,1205.9 1236.9,1195.9 1226.5,1197.7 1228.7,1200.3 1226.5,1202.2ZM1282.4,1206.9 1284.6,1203.1 1287.6,1204.9 1287.7,1193.7 1278.0,1199.3 1281.1,1201.1 1278.9,1204.9ZM1338.0,1206.8 1338.0,1202.4 1341.5,1202.4 1336.0,1192.8 1330.5,1202.4 1334.0,1202.4 1334.0,1206.8ZM1394.9,1201.6 1391.1,1199.4 1392.9,1196.3 1381.8,1196.3 1387.4,1205.9 1389.1,1202.8 1392.9,1205.0ZM1437.9,1206.9 1440.1,1203.1 1443.2,1204.9 1443.2,1193.7 1433.6,1199.3 1436.7,1201.1 1434.5,1204.9ZM1497.5,1197.9 1494.7,1197.9 1494.7,1194.5 1485.5,1199.8 1494.7,1205.1 1494.7,1201.7 1497.5,1201.7ZM1540.4,1206.4 1543.2,1203.1 1545.9,1205.4 1547.9,1194.4 1537.5,1198.3 1540.2,1200.5 1537.4,1203.9ZM1597.2,1206.8 1597.2,1202.4 1600.8,1202.4 1595.2,1192.8 1589.7,1202.4 1593.3,1202.4 1593.3,1206.8ZM1649.1,1206.8 1649.1,1202.4 1652.6,1202.4 1647.1,1192.8 1641.6,1202.4 1645.1,1202.4 1645.1,1206.8ZM1700.9,1206.8 1700.9,1202.4 1704.5,1202.4 1698.9,1192.8 1693.4,1202.4 1697.0,1202.4 1697.0,1206.8ZM1752.8,1206.8 1752.8,1202.4 1756.3,1202.4 1750.8,1192.8 1745.3,1202.4 1748.8,1202.4 1748.8,1206.8ZM1798.6,1205.8 1801.9,1203.0 1804.2,1205.7 1808.0,1195.3 1797.1,1197.3 1799.3,1200.0 1796.0,1202.8ZM1844.6,1211.4 1857.1,1201.0 1860.1,1204.6 1866.0,1190.2 1850.7,1193.4 1853.8,1197.1 1841.4,1207.5ZM1906.3,1208.1 1907.8,1202.4 1911.4,1203.4 1908.4,1192.1 1900.2,1200.4 1903.8,1201.4 1902.3,1207.0ZM1960.2,1206.8 1960.2,1202.4 1963.7,1202.4 1958.2,1192.8 1952.7,1202.4 1956.2,1202.4 1956.2,1206.8ZM2012.0,1206.8 2012.0,1202.4 2015.6,1202.4 2010.1,1192.8 2004.5,1202.4 2008.1,1202.4 2008.1,1206.8ZM484.1,1253.3 486.2,1251.3 488.6,1253.7 491.2,1243.5 481.0,1246.1 483.4,1248.5 481.4,1250.6ZM535.0,1254.4 538.6,1250.8 541.1,1253.4 544.2,1242.4 533.2,1245.4 535.7,1248.0 532.1,1251.6ZM584.0,1254.0 590.3,1250.4 592.2,1253.7 598.5,1243.2 586.3,1243.4 588.2,1246.7 581.8,1250.4ZM642.0,1255.0 643.5,1250.9 646.9,1252.1 644.9,1241.1 636.4,1248.3 639.8,1249.5 638.3,1253.6ZM689.4,1251.6 692.1,1250.6 693.3,1253.8 700.0,1245.6 689.6,1243.8 690.8,1247.0 688.1,1247.9ZM740.7,1250.6 743.5,1250.1 744.1,1253.5 752.2,1246.7 742.3,1243.0 742.8,1246.4 740.0,1246.9ZM792.5,1250.6 795.4,1250.1 796.0,1253.5 804.0,1246.7 794.1,1243.0 794.7,1246.4 791.9,1246.9ZM845.0,1251.6 847.7,1250.6 848.8,1253.8 855.6,1245.6 845.2,1243.8 846.4,1247.0 843.7,1247.9ZM896.8,1249.5 898.8,1249.5 898.8,1252.8 906.8,1247.7 898.8,1242.6 898.8,1245.9 896.8,1245.9ZM954.5,1253.9 955.0,1251.1 958.3,1251.7 954.7,1241.8 947.9,1249.8 951.2,1250.4 950.7,1253.3ZM1003.5,1240.2 1003.5,1245.3 999.9,1245.3 1005.5,1255.2 1011.1,1245.3 1007.5,1245.3 1007.5,1240.2ZM1051.1,1247.5 1053.8,1248.4 1052.6,1251.6 1063.0,1249.8 1056.2,1241.6 1055.1,1244.8 1052.4,1243.8ZM1105.8,1256.3 1110.0,1250.3 1113.1,1252.5 1114.4,1240.3 1103.3,1245.6 1106.5,1247.9 1102.3,1253.9ZM1158.1,1255.4 1161.5,1250.7 1164.5,1252.8 1165.6,1241.1 1155.1,1246.2 1158.1,1248.3 1154.8,1253.1ZM1213.7,1253.9 1214.2,1251.1 1217.6,1251.7 1213.9,1241.8 1207.1,1249.8 1210.5,1250.4 1210.0,1253.3ZM1270.0,1252.8 1267.8,1249.0 1270.9,1247.2 1261.2,1241.6 1261.3,1252.8 1264.3,1251.0 1266.5,1254.8ZM1318.5,1253.7 1318.5,1250.8 1321.9,1250.8 1316.6,1241.7 1311.3,1250.8 1314.7,1250.8 1314.7,1253.7ZM1370.4,1254.7 1370.4,1250.3 1374.0,1250.3 1368.5,1240.7 1362.9,1250.3 1366.5,1250.3 1366.5,1254.7ZM1426.3,1251.8 1423.5,1248.4 1426.2,1246.2 1415.8,1242.3 1417.8,1253.3 1420.5,1251.0 1423.3,1254.3ZM1474.1,1253.7 1474.1,1250.8 1477.5,1250.8 1472.2,1241.7 1466.8,1250.8 1470.2,1250.8 1470.2,1253.7ZM1530.0,1245.8 1527.1,1245.8 1527.1,1242.4 1518.0,1247.7 1527.1,1253.0 1527.1,1249.6 1530.0,1249.6ZM1577.8,1253.7 1577.8,1250.8 1581.2,1250.8 1575.9,1241.7 1570.5,1250.8 1573.9,1250.8 1573.9,1253.7ZM1629.6,1253.7 1629.6,1250.8 1633.0,1250.8 1627.7,1241.7 1622.4,1250.8 1625.8,1250.8 1625.8,1253.7ZM1681.5,1253.7 1681.5,1250.8 1684.9,1250.8 1679.5,1241.7 1674.2,1250.8 1677.6,1250.8 1677.6,1253.7ZM1736.9,1256.3 1733.9,1248.1 1737.6,1246.7 1728.0,1238.3 1726.0,1250.9 1729.7,1249.6 1732.8,1257.8ZM1785.2,1253.7 1785.2,1250.8 1788.6,1250.8 1783.2,1241.7 1777.9,1250.8 1781.3,1250.8 1781.3,1253.7ZM1837.0,1253.7 1837.0,1250.8 1840.4,1250.8 1835.1,1241.7 1829.8,1250.8 1833.2,1250.8 1833.2,1253.7ZM1888.9,1254.7 1888.9,1250.3 1892.5,1250.3 1887.0,1240.7 1881.4,1250.3 1885.0,1250.3 1885.0,1254.7ZM1940.8,1254.7 1940.8,1250.3 1944.3,1250.3 1938.8,1240.7 1933.3,1250.3 1936.8,1250.3 1936.8,1254.7ZM1992.6,1254.7 1992.6,1250.3 1996.2,1250.3 1990.7,1240.7 1985.1,1250.3 1988.7,1250.3 1988.7,1254.7ZM2044.5,1254.7 2044.5,1250.3 2048.0,1250.3 2042.5,1240.7 2037.0,1250.3 2040.5,1250.3 2040.5,1254.7ZM508.3,1301.6 508.3,1298.7 511.7,1298.7 506.4,1289.6 501.1,1298.7 504.5,1298.7 504.5,1301.6ZM556.3,1289.6 556.3,1292.5 552.9,1292.5 558.2,1301.6 563.6,1292.5 560.2,1292.5 560.2,1289.6ZM608.8,1301.8 610.2,1299.3 613.1,1301.0 613.1,1290.4 603.9,1295.6 606.9,1297.3 605.4,1299.8ZM660.0,1289.6 660.0,1292.5 656.6,1292.5 662.0,1301.6 667.3,1292.5 663.9,1292.5 663.9,1289.6ZM715.7,1301.6 715.7,1298.7 719.1,1298.7 713.8,1289.6 708.5,1298.7 711.9,1298.7 711.9,1301.6ZM763.7,1289.6 763.7,1292.5 760.3,1292.5 765.6,1301.6 771.0,1292.5 767.6,1292.5 767.6,1289.6ZM815.6,1289.6 815.6,1292.5 812.2,1292.5 817.5,1301.6 822.8,1292.5 819.4,1292.5 819.4,1289.6ZM867.4,1289.6 867.4,1292.5 864.0,1292.5 869.3,1301.6 874.7,1292.5 871.3,1292.5 871.3,1289.6ZM919.3,1289.6 919.3,1292.5 915.9,1292.5 921.2,1301.6 926.5,1292.5 923.1,1292.5 923.1,1289.6ZM979.0,1293.7 976.2,1293.7 976.2,1290.3 967.0,1295.6 976.2,1300.9 976.2,1297.5 979.0,1297.5ZM1019.7,1290.5 1021.9,1294.3 1018.8,1296.1 1028.4,1301.7 1028.4,1290.5 1025.3,1292.3 1023.1,1288.5ZM1078.5,1288.5 1076.3,1292.3 1073.3,1290.5 1073.2,1301.7 1082.9,1296.1 1079.8,1294.3 1082.0,1290.5ZM1126.8,1302.7 1129.0,1298.9 1132.1,1300.7 1132.1,1289.5 1122.5,1295.1 1125.6,1296.9 1123.4,1300.7ZM1182.4,1302.6 1182.4,1298.2 1186.0,1298.2 1180.5,1288.6 1174.9,1298.2 1178.5,1298.2 1178.5,1302.6ZM1230.5,1302.7 1232.7,1298.9 1235.8,1300.7 1235.8,1289.5 1226.2,1295.1 1229.3,1296.9 1227.1,1300.7ZM1289.4,1300.7 1287.2,1296.9 1290.3,1295.1 1280.7,1289.5 1280.7,1300.7 1283.7,1298.9 1285.9,1302.7ZM1338.0,1302.6 1338.0,1298.2 1341.5,1298.2 1336.0,1288.6 1330.5,1298.2 1334.0,1298.2 1334.0,1302.6ZM1389.8,1302.6 1389.8,1298.2 1393.4,1298.2 1387.8,1288.6 1382.3,1298.2 1385.9,1298.2 1385.9,1302.6ZM1441.6,1301.6 1441.6,1298.7 1445.0,1298.7 1439.7,1289.6 1434.4,1298.7 1437.8,1298.7 1437.8,1301.6ZM1485.5,1297.5 1488.4,1297.5 1488.4,1300.9 1497.5,1295.6 1488.4,1290.3 1488.4,1293.7 1485.5,1293.7ZM1545.3,1301.6 1545.3,1298.7 1548.7,1298.7 1543.4,1289.6 1538.1,1298.7 1541.5,1298.7 1541.5,1301.6ZM1597.2,1301.6 1597.2,1298.7 1600.6,1298.7 1595.2,1289.6 1589.9,1298.7 1593.3,1298.7 1593.3,1301.6ZM1653.5,1300.0 1650.2,1296.1 1653.0,1293.8 1642.3,1289.9 1644.3,1301.1 1647.1,1298.7 1650.4,1302.6ZM1707.1,1301.8 1701.4,1295.1 1704.5,1292.5 1692.5,1287.9 1695.0,1300.5 1698.0,1297.9 1703.7,1304.7ZM1744.8,1297.5 1747.7,1297.5 1747.7,1300.9 1756.8,1295.6 1747.7,1290.3 1747.7,1293.7 1744.8,1293.7ZM1796.7,1297.5 1799.5,1297.5 1799.5,1300.9 1808.7,1295.6 1799.5,1290.3 1799.5,1293.7 1796.7,1293.7ZM1848.5,1297.5 1851.4,1297.5 1851.4,1300.9 1860.5,1295.6 1851.4,1290.3 1851.4,1293.7 1848.5,1293.7ZM1900.3,1297.5 1903.2,1297.5 1903.2,1300.9 1912.3,1295.6 1903.2,1290.3 1903.2,1293.7 1900.3,1293.7ZM1952.2,1297.5 1955.1,1297.5 1955.1,1300.9 1964.2,1295.6 1955.1,1290.3 1955.1,1293.7 1952.2,1293.7ZM2004.1,1297.5 2006.9,1297.5 2006.9,1300.9 2016.1,1295.6 2006.9,1290.3 2006.9,1293.7 2004.1,1293.7ZM485.0,1337.0 485.0,1340.6 481.6,1340.6 487.0,1350.0 492.4,1340.6 489.0,1340.6 489.0,1337.0ZM532.9,1345.4 535.7,1345.4 535.7,1348.8 544.9,1343.5 535.7,1338.2 535.7,1341.6 532.9,1341.6ZM585.5,1338.4 587.7,1342.2 584.6,1344.0 594.2,1349.6 594.2,1338.4 591.1,1340.2 588.9,1336.4ZM648.7,1344.8 646.2,1343.4 647.9,1340.5 637.4,1340.5 642.6,1349.7 644.3,1346.7 646.8,1348.2ZM698.6,1338.8 696.1,1340.3 694.4,1337.3 689.2,1346.5 699.8,1346.5 698.1,1343.6 700.6,1342.2ZM740.2,1345.4 743.1,1345.4 743.1,1348.8 752.2,1343.5 743.1,1338.2 743.1,1341.6 740.2,1341.6ZM791.9,1342.2 794.4,1343.6 792.7,1346.5 803.3,1346.5 798.1,1337.3 796.4,1340.3 793.9,1338.8ZM848.0,1337.5 848.0,1340.4 844.6,1340.4 850.0,1349.5 855.3,1340.4 851.9,1340.4 851.9,1337.5ZM899.8,1336.5 899.8,1340.9 896.3,1340.9 901.8,1350.5 907.3,1340.9 903.8,1340.9 903.8,1336.5ZM951.7,1336.5 951.7,1340.9 948.1,1340.9 953.7,1350.5 959.2,1340.9 955.6,1340.9 955.6,1336.5ZM1007.3,1336.4 1005.1,1340.2 1002.0,1338.4 1002.0,1349.6 1011.6,1344.0 1008.5,1342.2 1010.7,1338.4ZM1055.4,1337.5 1055.4,1340.4 1052.0,1340.4 1057.3,1349.5 1062.7,1340.4 1059.3,1340.4 1059.3,1337.5ZM1107.4,1350.6 1109.6,1346.8 1112.7,1348.6 1112.7,1337.4 1103.1,1343.0 1106.2,1344.8 1104.0,1348.6ZM1159.3,1350.6 1161.5,1346.8 1164.5,1348.6 1164.6,1337.4 1154.9,1343.0 1158.0,1344.8 1155.8,1348.6ZM1211.1,1350.6 1213.3,1346.8 1216.4,1348.6 1216.4,1337.4 1206.8,1343.0 1209.9,1344.8 1207.7,1348.6ZM1270.0,1348.6 1267.8,1344.8 1270.9,1343.0 1261.2,1337.4 1261.3,1348.6 1264.3,1346.8 1266.5,1350.6ZM1318.5,1349.5 1318.5,1346.6 1321.9,1346.6 1316.6,1337.5 1311.3,1346.6 1314.7,1346.6 1314.7,1349.5ZM1372.7,1349.4 1371.2,1345.3 1374.6,1344.1 1366.1,1336.9 1364.1,1347.9 1367.5,1346.7 1369.0,1350.8ZM1421.0,1350.7 1421.8,1346.4 1425.3,1347.1 1421.5,1336.6 1414.4,1345.1 1417.9,1345.8 1417.1,1350.0ZM1474.1,1349.5 1474.1,1346.6 1477.5,1346.6 1472.2,1337.5 1466.8,1346.6 1470.2,1346.6 1470.2,1349.5ZM1525.9,1349.5 1525.9,1346.6 1529.3,1346.6 1524.0,1337.5 1518.7,1346.6 1522.1,1346.6 1522.1,1349.5ZM1577.8,1349.5 1577.8,1346.6 1581.2,1346.6 1575.9,1337.5 1570.5,1346.6 1573.9,1346.6 1573.9,1349.5ZM1629.6,1349.5 1629.6,1346.6 1633.0,1346.6 1627.7,1337.5 1622.4,1346.6 1625.8,1346.6 1625.8,1349.5ZM1686.6,1345.3 1682.8,1343.1 1684.6,1340.0 1673.5,1340.0 1679.1,1349.6 1680.8,1346.5 1684.6,1348.7ZM1737.4,1341.6 1734.5,1341.6 1734.5,1338.2 1725.4,1343.5 1734.5,1348.8 1734.5,1345.4 1737.4,1345.4ZM1785.2,1349.5 1785.2,1346.6 1788.6,1346.6 1783.2,1337.5 1777.9,1346.6 1781.3,1346.6 1781.3,1349.5ZM1837.0,1349.5 1837.0,1346.6 1840.4,1346.6 1835.1,1337.5 1829.8,1346.6 1833.2,1346.6 1833.2,1349.5ZM1892.2,1348.6 1890.0,1344.8 1893.1,1343.0 1883.5,1337.4 1883.5,1348.6 1886.5,1346.8 1888.7,1350.6ZM1946.3,1345.5 1941.9,1342.9 1943.7,1339.8 1932.3,1339.8 1938.1,1349.6 1939.9,1346.5 1944.3,1349.0ZM1998.2,1345.5 1993.7,1342.9 1995.6,1339.8 1984.2,1339.8 1989.9,1349.6 1991.7,1346.5 1996.1,1349.0ZM2050.0,1345.5 2045.6,1342.9 2047.4,1339.8 2036.0,1339.8 2041.8,1349.6 2043.6,1346.5 2048.0,1349.0ZM500.4,1393.3 503.3,1393.3 503.3,1396.7 512.4,1391.4 503.3,1386.1 503.3,1389.5 500.4,1389.5ZM556.3,1384.9 556.3,1388.5 552.8,1388.5 558.2,1397.9 563.7,1388.5 560.2,1388.5 560.2,1384.9ZM608.1,1384.9 608.1,1388.5 604.7,1388.5 610.1,1397.9 615.5,1388.5 612.1,1388.5 612.1,1384.9ZM660.0,1384.9 660.0,1388.5 656.5,1388.5 662.0,1397.9 667.4,1388.5 663.9,1388.5 663.9,1384.9ZM707.8,1393.3 710.7,1393.3 710.7,1396.7 719.8,1391.4 710.7,1386.1 710.7,1389.5 707.8,1389.5ZM759.5,1390.1 762.0,1391.5 760.3,1394.4 770.8,1394.4 765.6,1385.2 763.9,1388.2 761.4,1386.7ZM815.6,1385.4 815.6,1388.3 812.2,1388.3 817.5,1397.4 822.8,1388.3 819.4,1388.3 819.4,1385.4ZM867.4,1384.9 867.4,1388.5 863.9,1388.5 869.3,1397.9 874.8,1388.5 871.3,1388.5 871.3,1384.9ZM919.2,1384.9 919.2,1388.5 915.8,1388.5 921.2,1397.9 926.6,1388.5 923.2,1388.5 923.2,1384.9ZM979.2,1392.7 976.7,1391.3 978.4,1388.4 967.9,1388.4 973.1,1397.6 974.8,1394.6 977.3,1396.1ZM1022.9,1384.4 1022.9,1388.8 1019.4,1388.8 1024.9,1398.4 1030.4,1388.8 1026.9,1388.8 1026.9,1384.4ZM1075.0,1398.5 1077.2,1394.7 1080.2,1396.5 1080.2,1385.3 1070.6,1390.9 1073.7,1392.7 1071.5,1396.5ZM1130.6,1398.4 1130.6,1394.0 1134.1,1394.0 1128.6,1384.4 1123.1,1394.0 1126.6,1394.0 1126.6,1398.4ZM1178.7,1398.5 1180.9,1394.7 1183.9,1396.5 1184.0,1385.3 1174.3,1390.9 1177.4,1392.7 1175.2,1396.5ZM1234.3,1398.4 1234.3,1394.0 1237.8,1394.0 1232.3,1384.4 1226.8,1394.0 1230.3,1394.0 1230.3,1398.4ZM1286.1,1397.4 1286.1,1394.5 1289.5,1394.5 1284.2,1385.4 1278.8,1394.5 1282.2,1394.5 1282.2,1397.4ZM1342.0,1389.5 1339.1,1389.5 1339.1,1386.1 1330.0,1391.4 1339.1,1396.7 1339.1,1393.3 1342.0,1393.3ZM1389.8,1397.4 1389.8,1394.5 1393.2,1394.5 1387.8,1385.4 1382.5,1394.5 1385.9,1394.5 1385.9,1397.4ZM1441.7,1398.4 1441.7,1394.0 1445.2,1394.0 1439.7,1384.4 1434.2,1394.0 1437.7,1394.0 1437.7,1398.4ZM1493.5,1398.4 1493.5,1394.0 1497.1,1394.0 1491.5,1384.4 1486.0,1394.0 1489.6,1394.0 1489.6,1398.4ZM1550.5,1393.2 1546.7,1391.0 1548.5,1387.9 1537.3,1387.9 1542.9,1397.5 1544.7,1394.4 1548.5,1396.6ZM1601.2,1389.5 1598.4,1389.5 1598.4,1386.1 1589.2,1391.4 1598.4,1396.7 1598.4,1393.3 1601.2,1393.3ZM1649.0,1397.4 1649.0,1394.5 1652.4,1394.5 1647.1,1385.4 1641.8,1394.5 1645.2,1394.5 1645.2,1397.4ZM1691.4,1393.4 1696.5,1393.4 1696.5,1397.1 1706.4,1391.4 1696.5,1385.8 1696.5,1389.4 1691.4,1389.4ZM1752.8,1398.4 1752.8,1394.0 1756.3,1394.0 1750.8,1384.4 1745.3,1394.0 1748.8,1394.0 1748.8,1398.4ZM1796.7,1393.3 1799.5,1393.3 1799.5,1396.7 1808.7,1391.4 1799.5,1386.1 1799.5,1389.5 1796.7,1389.5ZM1856.4,1397.4 1856.4,1394.5 1859.8,1394.5 1854.5,1385.4 1849.2,1394.5 1852.6,1394.5 1852.6,1397.4ZM1918.8,1389.0 1906.3,1389.0 1906.3,1384.7 1893.8,1391.4 1906.3,1398.2 1906.3,1393.8 1918.8,1393.8ZM1969.1,1384.9 1957.4,1389.2 1955.9,1385.1 1946.5,1395.7 1960.5,1397.7 1959.0,1393.6 1970.8,1389.4ZM2017.1,1393.2 2013.3,1391.0 2015.1,1387.9 2004.0,1387.9 2009.6,1397.5 2011.3,1394.4 2015.1,1396.6ZM482.3,1435.1 483.8,1437.6 480.8,1439.3 490.0,1444.5 490.0,1433.9 487.1,1435.6 485.7,1433.1ZM540.4,1432.7 538.6,1435.8 535.6,1434.1 535.6,1444.9 545.0,1439.5 542.0,1437.8 543.8,1434.6ZM595.4,1443.5 593.9,1441.0 596.9,1439.3 587.7,1434.1 587.7,1444.7 590.6,1443.0 592.0,1445.5ZM636.5,1441.2 639.4,1441.2 639.4,1444.6 648.5,1439.3 639.4,1434.0 639.4,1437.4 636.5,1437.4ZM688.4,1441.2 691.3,1441.2 691.3,1444.6 700.4,1439.3 691.3,1434.0 691.3,1437.4 688.4,1437.4ZM740.2,1441.2 743.1,1441.2 743.1,1444.6 752.2,1439.3 743.1,1434.0 743.1,1437.4 740.2,1437.4ZM797.4,1432.1 796.6,1436.4 793.1,1435.7 796.9,1446.2 804.0,1437.7 800.5,1437.0 801.3,1432.8ZM848.0,1432.3 848.0,1436.7 844.4,1436.7 850.0,1446.3 855.5,1436.7 851.9,1436.7 851.9,1432.3ZM899.8,1432.3 899.8,1436.7 896.3,1436.7 901.8,1446.3 907.3,1436.7 903.8,1436.7 903.8,1432.3ZM955.6,1446.3 955.6,1441.9 959.2,1441.9 953.7,1432.3 948.1,1441.9 951.7,1441.9 951.7,1446.3ZM1011.5,1437.4 1008.6,1437.4 1008.6,1434.0 999.5,1439.3 1008.6,1444.6 1008.6,1441.2 1011.5,1441.2ZM1059.3,1446.3 1059.3,1441.9 1062.9,1441.9 1057.3,1432.3 1051.8,1441.9 1055.4,1441.9 1055.4,1446.3ZM1103.2,1441.2 1106.1,1441.2 1106.1,1444.6 1115.2,1439.3 1106.1,1434.0 1106.1,1437.4 1103.2,1437.4ZM1165.7,1443.5 1164.3,1441.0 1167.2,1439.3 1158.1,1434.1 1158.0,1444.7 1160.9,1443.0 1162.4,1445.5ZM1214.9,1446.3 1214.9,1441.9 1218.4,1441.9 1212.9,1432.3 1207.4,1441.9 1210.9,1441.9 1210.9,1446.3ZM1270.8,1437.4 1267.9,1437.4 1267.9,1434.0 1258.8,1439.3 1267.9,1444.6 1267.9,1441.2 1270.8,1441.2ZM1318.6,1446.3 1318.6,1441.9 1322.1,1441.9 1316.6,1432.3 1311.1,1441.9 1314.6,1441.9 1314.6,1446.3ZM1370.7,1449.3 1370.7,1440.5 1374.7,1440.5 1368.5,1429.3 1362.2,1440.5 1366.2,1440.5 1366.2,1449.3ZM1422.3,1446.3 1422.3,1441.9 1425.8,1441.9 1420.3,1432.3 1414.8,1441.9 1418.3,1441.9 1418.3,1446.3ZM1479.2,1437.3 1474.8,1437.3 1474.8,1433.8 1465.2,1439.3 1474.8,1444.8 1474.8,1441.3 1479.2,1441.3ZM1525.9,1445.3 1525.9,1442.4 1529.3,1442.4 1524.0,1433.3 1518.7,1442.4 1522.1,1442.4 1522.1,1445.3ZM1577.8,1445.3 1577.8,1442.4 1581.2,1442.4 1575.9,1433.3 1570.5,1442.4 1573.9,1442.4 1573.9,1445.3ZM1629.6,1445.3 1629.6,1442.4 1633.0,1442.4 1627.7,1433.3 1622.4,1442.4 1625.8,1442.4 1625.8,1445.3ZM1681.5,1445.3 1681.5,1442.4 1684.9,1442.4 1679.5,1433.3 1674.2,1442.4 1677.6,1442.4 1677.6,1445.3ZM1733.3,1445.3 1733.3,1442.4 1736.7,1442.4 1731.4,1433.3 1726.1,1442.4 1729.5,1442.4 1729.5,1445.3ZM1789.2,1437.4 1786.4,1437.4 1786.4,1434.0 1777.2,1439.3 1786.4,1444.6 1786.4,1441.2 1789.2,1441.2ZM1837.0,1445.3 1837.0,1442.4 1840.4,1442.4 1835.1,1433.3 1829.8,1442.4 1833.2,1442.4 1833.2,1445.3ZM1892.2,1444.4 1890.0,1440.6 1893.1,1438.8 1883.5,1433.2 1883.5,1444.4 1886.5,1442.6 1888.7,1446.4ZM1946.4,1432.4 1938.7,1436.8 1936.7,1433.3 1930.1,1444.3 1942.9,1444.1 1940.9,1440.6 1948.6,1436.2ZM1995.9,1444.4 1993.7,1440.6 1996.8,1438.8 1987.2,1433.2 1987.2,1444.4 1990.2,1442.6 1992.4,1446.4ZM2047.7,1444.4 2045.5,1440.6 2048.6,1438.8 2039.0,1433.2 2039.0,1444.4 2042.1,1442.6 2044.3,1446.4ZM507.7,1481.0 506.3,1483.5 503.4,1481.8 503.4,1492.4 512.6,1487.2 509.6,1485.5 511.1,1483.0ZM556.3,1481.2 556.3,1484.1 552.9,1484.1 558.2,1493.2 563.6,1484.1 560.2,1484.1 560.2,1481.2ZM608.1,1480.7 608.1,1484.3 604.7,1484.3 610.1,1493.7 615.5,1484.3 612.1,1484.3 612.1,1480.7ZM657.3,1483.0 658.7,1485.5 655.8,1487.2 665.0,1492.4 665.0,1481.8 662.1,1483.5 660.6,1481.0ZM711.8,1480.7 711.8,1484.3 708.4,1484.3 713.8,1493.7 719.2,1484.3 715.8,1484.3 715.8,1480.7ZM763.7,1481.2 763.7,1484.1 760.3,1484.1 765.6,1493.2 771.0,1484.1 767.6,1484.1 767.6,1481.2ZM815.5,1480.2 815.5,1484.6 812.0,1484.6 817.5,1494.2 823.0,1484.6 819.5,1484.6 819.5,1480.2ZM867.4,1480.2 867.4,1484.6 863.8,1484.6 869.3,1494.2 874.9,1484.6 871.3,1484.6 871.3,1480.2ZM919.2,1480.2 919.2,1484.6 915.7,1484.6 921.2,1494.2 926.7,1484.6 923.2,1484.6 923.2,1480.2ZM971.1,1481.2 971.1,1484.1 967.7,1484.1 973.0,1493.2 978.4,1484.1 975.0,1484.1 975.0,1481.2ZM1030.9,1485.3 1028.0,1485.3 1028.0,1481.9 1018.9,1487.2 1028.0,1492.5 1028.0,1489.1 1030.9,1489.1ZM1082.8,1485.3 1079.9,1485.3 1079.9,1481.9 1070.8,1487.2 1079.9,1492.5 1079.9,1489.1 1082.8,1489.1ZM1133.7,1482.0 1129.9,1484.2 1128.1,1481.1 1122.5,1490.7 1133.7,1490.7 1131.9,1487.6 1135.7,1485.4ZM1187.5,1485.2 1183.1,1485.2 1183.1,1481.7 1173.5,1487.2 1183.1,1492.7 1183.1,1489.2 1187.5,1489.2ZM1234.1,1480.1 1231.9,1483.9 1228.8,1482.1 1228.8,1493.3 1238.4,1487.7 1235.3,1485.9 1237.5,1482.1ZM1290.0,1482.9 1286.0,1484.4 1284.7,1481.1 1277.6,1489.6 1288.5,1491.5 1287.3,1488.2 1291.4,1486.7ZM1342.0,1485.3 1339.1,1485.3 1339.1,1481.9 1330.0,1487.2 1339.1,1492.5 1339.1,1489.1 1342.0,1489.1ZM1393.8,1485.3 1391.0,1485.3 1391.0,1481.9 1381.8,1487.2 1391.0,1492.5 1391.0,1489.1 1393.8,1489.1ZM1441.6,1493.2 1441.6,1490.3 1445.0,1490.3 1439.7,1481.2 1434.4,1490.3 1437.8,1490.3 1437.8,1493.2ZM1493.5,1493.2 1493.5,1490.3 1496.9,1490.3 1491.5,1481.2 1486.2,1490.3 1489.6,1490.3 1489.6,1493.2ZM1545.3,1493.2 1545.3,1490.3 1548.7,1490.3 1543.4,1481.2 1538.1,1490.3 1541.5,1490.3 1541.5,1493.2ZM1597.2,1493.2 1597.2,1490.3 1600.6,1490.3 1595.2,1481.2 1589.9,1490.3 1593.3,1490.3 1593.3,1493.2ZM1649.0,1493.2 1649.0,1490.3 1652.4,1490.3 1647.1,1481.2 1641.8,1490.3 1645.2,1490.3 1645.2,1493.2ZM1700.9,1493.2 1700.9,1490.3 1704.3,1490.3 1698.9,1481.2 1693.6,1490.3 1697.0,1490.3 1697.0,1493.2ZM1752.7,1493.2 1752.7,1490.3 1756.1,1490.3 1750.8,1481.2 1745.5,1490.3 1748.9,1490.3 1748.9,1493.2ZM1804.6,1493.2 1804.6,1490.3 1808.0,1490.3 1802.7,1481.2 1797.3,1490.3 1800.7,1490.3 1800.7,1493.2ZM1859.7,1492.3 1857.5,1488.5 1860.6,1486.7 1851.0,1481.1 1851.0,1492.3 1854.1,1490.5 1856.3,1494.3ZM1908.3,1493.2 1908.3,1490.3 1911.7,1490.3 1906.3,1481.2 1901.0,1490.3 1904.4,1490.3 1904.4,1493.2ZM1960.1,1493.2 1960.1,1490.3 1963.5,1490.3 1958.2,1481.2 1952.9,1490.3 1956.3,1490.3 1956.3,1493.2ZM2017.1,1485.2 2012.7,1485.2 2012.7,1481.7 2003.1,1487.2 2012.7,1492.7 2012.7,1489.2 2017.1,1489.2ZM485.1,1529.1 485.1,1532.0 481.7,1532.0 487.0,1541.1 492.3,1532.0 488.9,1532.0 488.9,1529.1ZM536.9,1528.6 536.9,1532.2 533.4,1532.2 538.9,1541.6 544.3,1532.2 540.8,1532.2 540.8,1528.6ZM588.7,1528.6 588.7,1532.2 585.3,1532.2 590.7,1541.6 596.1,1532.2 592.7,1532.2 592.7,1528.6ZM637.9,1530.9 639.3,1533.4 636.4,1535.1 645.5,1540.3 645.6,1529.7 642.7,1531.4 641.2,1528.9ZM692.4,1528.1 692.4,1532.5 688.9,1532.5 694.4,1542.1 699.9,1532.5 696.4,1532.5 696.4,1528.1ZM740.1,1533.8 742.6,1535.2 740.9,1538.1 751.4,1538.1 746.2,1528.9 744.5,1531.9 742.0,1530.4ZM796.2,1529.1 796.2,1532.0 792.8,1532.0 798.1,1541.1 803.4,1532.0 800.0,1532.0 800.0,1529.1ZM848.0,1528.6 848.0,1532.2 844.5,1532.2 850.0,1541.6 855.4,1532.2 851.9,1532.2 851.9,1528.6ZM903.1,1528.9 901.7,1531.4 898.8,1529.7 898.8,1540.3 908.0,1535.1 905.0,1533.4 906.5,1530.9ZM955.6,1541.1 955.6,1538.2 959.0,1538.2 953.7,1529.1 948.3,1538.2 951.7,1538.2 951.7,1541.1ZM999.3,1533.8 1001.8,1535.2 1000.1,1538.1 1010.7,1538.1 1005.5,1528.9 1003.8,1531.9 1001.3,1530.4ZM1063.3,1533.2 1060.5,1533.2 1060.5,1529.8 1051.3,1535.1 1060.5,1540.4 1060.5,1537.0 1063.3,1537.0ZM1113.9,1539.3 1112.4,1536.8 1115.4,1535.1 1106.2,1529.9 1106.2,1540.5 1109.1,1538.8 1110.5,1541.3ZM1163.0,1541.1 1163.0,1538.2 1166.4,1538.2 1161.1,1529.1 1155.7,1538.2 1159.1,1538.2 1159.1,1541.1ZM1214.8,1541.1 1214.8,1538.2 1218.2,1538.2 1212.9,1529.1 1207.6,1538.2 1211.0,1538.2 1211.0,1541.1ZM1272.9,1541.3 1267.2,1534.6 1270.3,1532.0 1258.3,1527.4 1260.8,1540.0 1263.8,1537.4 1269.5,1544.2ZM1323.7,1536.9 1319.9,1534.7 1321.7,1531.6 1310.5,1531.6 1316.1,1541.2 1317.9,1538.1 1321.7,1540.3ZM1374.5,1533.2 1371.6,1533.2 1371.6,1529.8 1362.5,1535.1 1371.6,1540.4 1371.6,1537.0 1374.5,1537.0ZM1422.2,1541.1 1422.2,1538.2 1425.6,1538.2 1420.3,1529.1 1415.0,1538.2 1418.4,1538.2 1418.4,1541.1ZM1478.5,1541.8 1474.8,1535.5 1478.2,1533.6 1467.7,1527.3 1467.8,1539.5 1471.1,1537.6 1474.8,1544.0ZM1525.9,1541.1 1525.9,1538.2 1529.3,1538.2 1524.0,1529.1 1518.7,1538.2 1522.1,1538.2 1522.1,1541.1ZM1570.3,1543.7 1576.6,1537.5 1579.4,1540.3 1582.9,1528.0 1570.6,1531.6 1573.4,1534.4 1567.2,1540.6ZM1629.6,1541.1 1629.6,1538.2 1633.0,1538.2 1627.7,1529.1 1622.4,1538.2 1625.8,1538.2 1625.8,1541.1ZM1681.5,1541.1 1681.5,1538.2 1684.9,1538.2 1679.5,1529.1 1674.2,1538.2 1677.6,1538.2 1677.6,1541.1ZM1733.3,1541.1 1733.3,1538.2 1736.7,1538.2 1731.4,1529.1 1726.1,1538.2 1729.5,1538.2 1729.5,1541.1ZM1788.2,1531.2 1785.5,1532.2 1784.4,1529.0 1777.6,1537.2 1788.0,1539.0 1786.8,1535.8 1789.5,1534.9ZM1833.1,1527.6 1833.1,1532.7 1829.5,1532.7 1835.1,1542.6 1840.8,1532.7 1837.1,1532.7 1837.1,1527.6ZM1894.0,1533.1 1889.6,1533.1 1889.6,1529.6 1880.0,1535.1 1889.6,1540.6 1889.6,1537.1 1894.0,1537.1ZM1945.9,1536.9 1942.1,1534.7 1943.9,1531.6 1932.7,1531.6 1938.3,1541.2 1940.1,1538.1 1943.9,1540.3ZM1997.7,1533.1 1993.3,1533.1 1993.3,1529.6 1983.7,1535.1 1993.3,1540.6 1993.3,1537.1 1997.7,1537.1ZM2049.5,1533.1 2045.1,1533.1 2045.1,1529.6 2035.5,1535.1 2045.1,1540.6 2045.1,1537.1 2049.5,1537.1ZM504.4,1576.5 504.4,1580.1 501.0,1580.1 506.4,1589.5 511.8,1580.1 508.4,1580.1 508.4,1576.5ZM556.3,1576.5 556.3,1580.1 552.8,1580.1 558.2,1589.5 563.7,1580.1 560.2,1580.1 560.2,1576.5ZM608.2,1577.0 608.2,1579.9 604.8,1579.9 610.1,1589.0 615.4,1579.9 612.0,1579.9 612.0,1577.0ZM660.0,1577.0 660.0,1579.9 656.6,1579.9 662.0,1589.0 667.3,1579.9 663.9,1579.9 663.9,1577.0ZM707.6,1581.7 710.1,1583.1 708.4,1586.0 719.0,1586.0 713.8,1576.8 712.1,1579.8 709.6,1578.3ZM763.7,1577.0 763.7,1579.9 760.3,1579.9 765.6,1589.0 771.0,1579.9 767.6,1579.9 767.6,1577.0ZM815.6,1577.0 815.6,1579.9 812.2,1579.9 817.5,1589.0 822.8,1579.9 819.4,1579.9 819.4,1577.0ZM870.7,1576.8 869.2,1579.3 866.3,1577.6 866.3,1588.2 875.5,1583.0 872.6,1581.3 874.0,1578.8ZM919.3,1577.0 919.3,1579.9 915.9,1579.9 921.2,1589.0 926.5,1579.9 923.1,1579.9 923.1,1577.0ZM971.1,1576.0 971.1,1580.4 967.5,1580.4 973.0,1590.0 978.6,1580.4 975.0,1580.4 975.0,1576.0ZM1026.8,1589.0 1026.8,1586.1 1030.2,1586.1 1024.9,1577.0 1019.6,1586.1 1023.0,1586.1 1023.0,1589.0ZM1070.8,1584.9 1073.6,1584.9 1073.6,1588.3 1082.8,1583.0 1073.6,1577.7 1073.6,1581.1 1070.8,1581.1ZM1130.5,1589.0 1130.5,1586.1 1133.9,1586.1 1128.6,1577.0 1123.3,1586.1 1126.7,1586.1 1126.7,1589.0ZM1186.5,1581.1 1183.6,1581.1 1183.6,1577.7 1174.5,1583.0 1183.6,1588.3 1183.6,1584.9 1186.5,1584.9ZM1230.3,1576.0 1230.3,1580.4 1226.8,1580.4 1232.3,1590.0 1237.8,1580.4 1234.3,1580.4 1234.3,1576.0ZM1286.1,1590.0 1286.1,1585.6 1289.7,1585.6 1284.2,1576.0 1278.6,1585.6 1282.2,1585.6 1282.2,1590.0ZM1342.0,1581.1 1339.1,1581.1 1339.1,1577.7 1330.0,1583.0 1339.1,1588.3 1339.1,1584.9 1342.0,1584.9ZM1389.8,1589.0 1389.8,1586.1 1393.2,1586.1 1387.8,1577.0 1382.5,1586.1 1385.9,1586.1 1385.9,1589.0ZM1441.6,1589.0 1441.6,1586.1 1445.0,1586.1 1439.7,1577.0 1434.4,1586.1 1437.8,1586.1 1437.8,1589.0ZM1493.5,1589.0 1493.5,1586.1 1496.9,1586.1 1491.5,1577.0 1486.2,1586.1 1489.6,1586.1 1489.6,1589.0ZM1549.4,1581.1 1546.5,1581.1 1546.5,1577.7 1537.4,1583.0 1546.5,1588.3 1546.5,1584.9 1549.4,1584.9ZM1597.2,1589.0 1597.2,1586.1 1600.6,1586.1 1595.2,1577.0 1589.9,1586.1 1593.3,1586.1 1593.3,1589.0ZM1649.0,1589.0 1649.0,1586.1 1652.4,1586.1 1647.1,1577.0 1641.8,1586.1 1645.2,1586.1 1645.2,1589.0ZM1700.9,1589.0 1700.9,1586.1 1704.3,1586.1 1698.9,1577.0 1693.6,1586.1 1697.0,1586.1 1697.0,1589.0ZM1757.0,1584.3 1754.5,1582.9 1756.2,1580.0 1745.6,1580.0 1750.8,1589.2 1752.5,1586.2 1755.0,1587.7ZM1800.7,1576.0 1800.7,1580.4 1797.1,1580.4 1802.7,1590.0 1808.2,1580.4 1804.6,1580.4 1804.6,1576.0ZM1857.4,1588.6 1856.9,1585.7 1860.3,1585.1 1853.5,1577.1 1849.8,1587.0 1853.2,1586.4 1853.7,1589.2ZM1913.5,1587.2 1909.3,1583.1 1912.0,1580.5 1900.7,1577.3 1903.8,1588.6 1906.4,1586.0 1910.6,1590.1ZM1966.1,1587.9 1960.9,1582.7 1963.6,1580.0 1951.8,1576.6 1955.2,1588.4 1957.9,1585.7 1963.1,1590.9ZM2017.3,1583.5 2013.2,1582.0 2014.4,1578.7 2003.5,1580.6 2010.6,1589.1 2011.9,1585.8 2015.9,1587.3ZM485.1,1624.9 485.1,1627.8 481.7,1627.8 487.0,1636.9 492.3,1627.8 488.9,1627.8 488.9,1624.9ZM534.2,1626.7 535.6,1629.2 532.7,1630.9 541.9,1636.1 541.9,1625.5 539.0,1627.2 537.5,1624.7ZM588.7,1624.4 588.7,1628.0 585.3,1628.0 590.7,1637.4 596.1,1628.0 592.7,1628.0 592.7,1624.4ZM640.6,1624.9 640.6,1627.8 637.2,1627.8 642.5,1636.9 647.9,1627.8 644.5,1627.8 644.5,1624.9ZM689.7,1626.7 691.2,1629.2 688.2,1630.9 697.4,1636.1 697.4,1625.5 694.5,1627.2 693.1,1624.7ZM740.2,1632.8 743.1,1632.8 743.1,1636.2 752.2,1630.9 743.1,1625.6 743.1,1629.0 740.2,1629.0ZM796.2,1624.9 796.2,1627.8 792.8,1627.8 798.1,1636.9 803.4,1627.8 800.0,1627.8 800.0,1624.9ZM844.7,1625.8 846.9,1629.6 843.8,1631.4 853.5,1637.0 853.4,1625.8 850.4,1627.6 848.2,1623.8ZM899.9,1624.9 899.9,1627.8 896.5,1627.8 901.8,1636.9 907.1,1627.8 903.7,1627.8 903.7,1624.9ZM955.6,1636.9 955.6,1634.0 959.0,1634.0 953.7,1624.9 948.3,1634.0 951.7,1634.0 951.7,1636.9ZM1003.6,1624.9 1003.6,1627.8 1000.2,1627.8 1005.5,1636.9 1010.8,1627.8 1007.4,1627.8 1007.4,1624.9ZM1059.3,1636.9 1059.3,1634.0 1062.7,1634.0 1057.3,1624.9 1052.0,1634.0 1055.4,1634.0 1055.4,1636.9ZM1107.3,1624.9 1107.3,1627.8 1103.9,1627.8 1109.2,1636.9 1114.5,1627.8 1111.1,1627.8 1111.1,1624.9ZM1163.0,1636.9 1163.0,1634.0 1166.4,1634.0 1161.1,1624.9 1155.7,1634.0 1159.1,1634.0 1159.1,1636.9ZM1214.8,1636.9 1214.8,1634.0 1218.2,1634.0 1212.9,1624.9 1207.6,1634.0 1211.0,1634.0 1211.0,1636.9ZM1271.8,1628.9 1267.4,1628.9 1267.4,1625.4 1257.8,1630.9 1267.4,1636.4 1267.4,1632.9 1271.8,1632.9ZM1318.5,1636.9 1318.5,1634.0 1321.9,1634.0 1316.6,1624.9 1311.3,1634.0 1314.7,1634.0 1314.7,1636.9ZM1370.4,1637.9 1370.4,1633.5 1374.0,1633.5 1368.5,1623.9 1362.9,1633.5 1366.5,1633.5 1366.5,1637.9ZM1422.2,1636.9 1422.2,1634.0 1425.6,1634.0 1420.3,1624.9 1415.0,1634.0 1418.4,1634.0 1418.4,1636.9ZM1478.2,1629.0 1475.3,1629.0 1475.3,1625.6 1466.2,1630.9 1475.3,1636.2 1475.3,1632.8 1478.2,1632.8ZM1530.0,1629.0 1527.1,1629.0 1527.1,1625.6 1518.0,1630.9 1527.1,1636.2 1527.1,1632.8 1530.0,1632.8ZM1582.2,1634.4 1579.1,1631.4 1581.6,1628.8 1570.9,1626.0 1573.8,1636.7 1576.3,1634.2 1579.4,1637.3ZM1622.6,1636.1 1626.4,1633.9 1628.2,1637.0 1633.8,1627.4 1622.6,1627.4 1624.4,1630.5 1620.6,1632.7ZM1674.5,1636.1 1678.3,1633.9 1680.0,1637.0 1685.6,1627.4 1674.5,1627.4 1676.3,1630.5 1672.5,1632.7ZM1729.6,1638.0 1731.8,1634.2 1734.9,1636.0 1734.9,1624.8 1725.3,1630.4 1728.4,1632.2 1726.2,1636.0ZM1777.2,1632.8 1780.1,1632.8 1780.1,1636.2 1789.2,1630.9 1780.1,1625.6 1780.1,1629.0 1777.2,1629.0ZM1842.4,1631.4 1838.3,1629.9 1839.5,1626.6 1828.5,1628.5 1835.7,1637.0 1836.9,1633.7 1841.0,1635.2ZM1894.0,1628.9 1889.6,1628.9 1889.6,1625.4 1880.0,1630.9 1889.6,1636.4 1889.6,1632.9 1894.0,1632.9ZM1946.5,1625.8 1939.7,1628.3 1938.3,1624.7 1930.3,1634.0 1942.4,1635.9 1941.1,1632.3 1948.0,1629.8ZM1996.7,1629.0 1993.8,1629.0 1993.8,1625.6 1984.7,1630.9 1993.8,1636.2 1993.8,1632.8 1996.7,1632.8ZM2048.5,1629.0 2045.6,1629.0 2045.6,1625.6 2036.5,1630.9 2045.6,1636.2 2045.6,1632.8 2048.5,1632.8ZM504.4,1672.3 504.4,1675.9 501.0,1675.9 506.4,1685.3 511.8,1675.9 508.4,1675.9 508.4,1672.3ZM556.3,1672.8 556.3,1675.7 552.9,1675.7 558.2,1684.8 563.6,1675.7 560.2,1675.7 560.2,1672.8ZM605.4,1674.6 606.9,1677.1 603.9,1678.8 613.1,1684.0 613.1,1673.4 610.2,1675.1 608.8,1672.6ZM655.8,1677.5 658.3,1678.9 656.6,1681.8 667.1,1681.8 661.9,1672.6 660.2,1675.6 657.7,1674.1ZM709.1,1674.6 710.6,1677.1 707.6,1678.8 716.8,1684.0 716.8,1673.4 713.9,1675.1 712.5,1672.6ZM759.6,1680.7 762.5,1680.7 762.5,1684.1 771.6,1678.8 762.5,1673.5 762.5,1676.9 759.6,1676.9ZM812.8,1674.6 814.3,1677.1 811.3,1678.8 820.5,1684.0 820.5,1673.4 817.6,1675.1 816.2,1672.6ZM871.3,1684.8 871.3,1681.9 874.7,1681.9 869.3,1672.8 864.0,1681.9 867.4,1681.9 867.4,1684.8ZM926.4,1683.9 924.2,1680.1 927.3,1678.3 917.7,1672.7 917.7,1683.9 920.8,1682.1 923.0,1685.9ZM966.9,1677.5 969.4,1678.9 967.7,1681.8 978.2,1681.8 973.0,1672.6 971.3,1675.6 968.8,1674.1ZM1023.0,1672.8 1023.0,1675.7 1019.6,1675.7 1024.9,1684.8 1030.2,1675.7 1026.8,1675.7 1026.8,1672.8ZM1078.7,1684.8 1078.7,1681.9 1082.1,1681.9 1076.8,1672.8 1071.4,1681.9 1074.8,1681.9 1074.8,1684.8ZM1130.5,1684.8 1130.5,1681.9 1133.9,1681.9 1128.6,1672.8 1123.3,1681.9 1126.7,1681.9 1126.7,1684.8ZM1182.4,1684.8 1182.4,1681.9 1185.8,1681.9 1180.5,1672.8 1175.1,1681.9 1178.5,1681.9 1178.5,1684.8ZM1234.2,1684.8 1234.2,1681.9 1237.6,1681.9 1232.3,1672.8 1227.0,1681.9 1230.4,1681.9 1230.4,1684.8ZM1286.1,1685.8 1286.1,1681.4 1289.7,1681.4 1284.2,1671.8 1278.6,1681.4 1282.2,1681.4 1282.2,1685.8ZM1337.9,1684.8 1337.9,1681.9 1341.3,1681.9 1336.0,1672.8 1330.7,1681.9 1334.1,1681.9 1334.1,1684.8ZM1389.8,1684.8 1389.8,1681.9 1393.2,1681.9 1387.8,1672.8 1382.5,1681.9 1385.9,1681.9 1385.9,1684.8ZM1441.6,1684.8 1441.6,1681.9 1445.0,1681.9 1439.7,1672.8 1434.4,1681.9 1437.8,1681.9 1437.8,1684.8ZM1493.5,1684.8 1493.5,1681.9 1496.9,1681.9 1491.5,1672.8 1486.2,1681.9 1489.6,1681.9 1489.6,1684.8ZM1550.4,1676.8 1546.0,1676.8 1546.0,1673.3 1536.4,1678.8 1546.0,1684.3 1546.0,1680.8 1550.4,1680.8ZM1597.2,1684.8 1597.2,1681.9 1600.6,1681.9 1595.2,1672.8 1589.9,1681.9 1593.3,1681.9 1593.3,1684.8ZM1642.4,1687.9 1648.0,1681.1 1651.1,1683.7 1653.5,1671.1 1641.6,1675.7 1644.6,1678.3 1639.0,1685.0ZM1700.9,1685.8 1700.9,1681.4 1704.5,1681.4 1698.9,1671.8 1693.4,1681.4 1697.0,1681.4 1697.0,1685.8ZM1741.8,1680.9 1749.1,1680.9 1749.1,1684.8 1759.8,1678.8 1749.1,1672.8 1749.1,1676.7 1741.8,1676.7ZM1808.7,1676.9 1805.8,1676.9 1805.8,1673.5 1796.7,1678.8 1805.8,1684.1 1805.8,1680.7 1808.7,1680.7ZM1856.5,1685.8 1856.5,1681.4 1860.0,1681.4 1854.5,1671.8 1849.0,1681.4 1852.5,1681.4 1852.5,1685.8ZM1908.3,1685.8 1908.3,1681.4 1911.9,1681.4 1906.3,1671.8 1900.8,1681.4 1904.4,1681.4 1904.4,1685.8ZM1960.2,1685.8 1960.2,1681.4 1963.7,1681.4 1958.2,1671.8 1952.7,1681.4 1956.2,1681.4 1956.2,1685.8ZM2016.1,1676.9 2013.2,1676.9 2013.2,1673.5 2004.1,1678.8 2013.2,1684.1 2013.2,1680.7 2016.1,1680.7ZM481.0,1728.6 483.9,1728.6 483.9,1732.0 493.0,1726.7 483.9,1721.4 483.9,1724.8 481.0,1724.8ZM536.9,1720.7 536.9,1723.6 533.5,1723.6 538.9,1732.7 544.2,1723.6 540.8,1723.6 540.8,1720.7ZM584.7,1728.6 587.6,1728.6 587.6,1732.0 596.7,1726.7 587.6,1721.4 587.6,1724.8 584.7,1724.8ZM636.5,1728.6 639.4,1728.6 639.4,1732.0 648.5,1726.7 639.4,1721.4 639.4,1724.8 636.5,1724.8ZM696.3,1732.7 696.3,1729.8 699.7,1729.8 694.4,1720.7 689.1,1729.8 692.5,1729.8 692.5,1732.7ZM748.2,1732.7 748.2,1729.8 751.6,1729.8 746.2,1720.7 740.9,1729.8 744.3,1729.8 744.3,1732.7ZM796.2,1720.7 796.2,1723.6 792.8,1723.6 798.1,1732.7 803.4,1723.6 800.0,1723.6 800.0,1720.7ZM844.0,1728.6 846.8,1728.6 846.8,1732.0 856.0,1726.7 846.8,1721.4 846.8,1724.8 844.0,1724.8ZM899.9,1720.7 899.9,1723.6 896.5,1723.6 901.8,1732.7 907.1,1723.6 903.7,1723.6 903.7,1720.7ZM955.6,1732.7 955.6,1729.8 959.0,1729.8 953.7,1720.7 948.3,1729.8 951.7,1729.8 951.7,1732.7ZM1007.4,1732.7 1007.4,1729.8 1010.8,1729.8 1005.5,1720.7 1000.2,1729.8 1003.6,1729.8 1003.6,1732.7ZM1063.3,1724.8 1060.5,1724.8 1060.5,1721.4 1051.3,1726.7 1060.5,1732.0 1060.5,1728.6 1063.3,1728.6ZM1111.1,1732.7 1111.1,1729.8 1114.5,1729.8 1109.2,1720.7 1103.9,1729.8 1107.3,1729.8 1107.3,1732.7ZM1163.0,1732.7 1163.0,1729.8 1166.4,1729.8 1161.1,1720.7 1155.7,1729.8 1159.1,1729.8 1159.1,1732.7ZM1214.8,1732.7 1214.8,1729.8 1218.2,1729.8 1212.9,1720.7 1207.6,1729.8 1211.0,1729.8 1211.0,1732.7ZM1266.7,1732.7 1266.7,1729.8 1270.1,1729.8 1264.8,1720.7 1259.4,1729.8 1262.8,1729.8 1262.8,1732.7ZM1318.5,1732.7 1318.5,1729.8 1321.9,1729.8 1316.6,1720.7 1311.3,1729.8 1314.7,1729.8 1314.7,1732.7ZM1370.4,1732.7 1370.4,1729.8 1373.8,1729.8 1368.5,1720.7 1363.1,1729.8 1366.5,1729.8 1366.5,1732.7ZM1422.2,1732.7 1422.2,1729.8 1425.6,1729.8 1420.3,1720.7 1415.0,1729.8 1418.4,1729.8 1418.4,1732.7ZM1474.1,1732.7 1474.1,1729.8 1477.5,1729.8 1472.2,1720.7 1466.8,1729.8 1470.2,1729.8 1470.2,1732.7ZM1525.9,1732.7 1525.9,1729.8 1529.3,1729.8 1524.0,1720.7 1518.7,1729.8 1522.1,1729.8 1522.1,1732.7ZM1577.8,1732.7 1577.8,1729.8 1581.2,1729.8 1575.9,1720.7 1570.5,1729.8 1573.9,1729.8 1573.9,1732.7ZM1629.7,1733.7 1629.7,1729.3 1633.2,1729.3 1627.7,1719.7 1622.2,1729.3 1625.7,1729.3 1625.7,1733.7ZM1681.5,1733.7 1681.5,1729.3 1685.1,1729.3 1679.5,1719.7 1674.0,1729.3 1677.6,1729.3 1677.6,1733.7ZM1725.5,1732.5 1730.6,1729.6 1732.4,1732.8 1738.3,1722.7 1726.6,1722.8 1728.5,1726.0 1723.4,1728.9ZM1785.2,1733.7 1785.2,1729.3 1788.8,1729.3 1783.2,1719.7 1777.7,1729.3 1781.3,1729.3 1781.3,1733.7ZM1837.1,1733.7 1837.1,1729.3 1840.6,1729.3 1835.1,1719.7 1829.6,1729.3 1833.1,1729.3 1833.1,1733.7ZM1888.9,1733.7 1888.9,1729.3 1892.5,1729.3 1887.0,1719.7 1881.4,1729.3 1885.0,1729.3 1885.0,1733.7ZM1941.9,1716.9 1937.5,1724.6 1934.0,1722.6 1933.8,1735.4 1944.8,1728.8 1941.3,1726.8 1945.7,1719.1ZM1992.6,1733.7 1992.6,1729.3 1996.2,1729.3 1990.7,1719.7 1985.1,1729.3 1988.7,1729.3 1988.7,1733.7ZM2044.5,1733.7 2044.5,1729.3 2048.0,1729.3 2042.5,1719.7 2037.0,1729.3 2040.5,1729.3 2040.5,1733.7ZM504.5,1768.6 504.5,1771.5 501.1,1771.5 506.4,1780.6 511.7,1771.5 508.3,1771.5 508.3,1768.6ZM556.3,1768.6 556.3,1771.5 552.9,1771.5 558.2,1780.6 563.6,1771.5 560.2,1771.5 560.2,1768.6ZM608.1,1768.1 608.1,1771.7 604.7,1771.7 610.1,1781.1 615.5,1771.7 612.1,1771.7 612.1,1768.1ZM660.0,1768.6 660.0,1771.5 656.6,1771.5 662.0,1780.6 667.3,1771.5 663.9,1771.5 663.9,1768.6ZM709.1,1770.4 710.6,1772.9 707.6,1774.6 716.8,1779.8 716.8,1769.2 713.9,1770.9 712.5,1768.4ZM767.6,1780.6 767.6,1777.7 771.0,1777.7 765.6,1768.6 760.3,1777.7 763.7,1777.7 763.7,1780.6ZM815.6,1768.6 815.6,1771.5 812.2,1771.5 817.5,1780.6 822.8,1771.5 819.4,1771.5 819.4,1768.6ZM871.3,1780.6 871.3,1777.7 874.7,1777.7 869.3,1768.6 864.0,1777.7 867.4,1777.7 867.4,1780.6ZM919.3,1768.6 919.3,1771.5 915.9,1771.5 921.2,1780.6 926.5,1771.5 923.1,1771.5 923.1,1768.6ZM975.0,1780.6 975.0,1777.7 978.4,1777.7 973.0,1768.6 967.7,1777.7 971.1,1777.7 971.1,1780.6ZM1026.8,1780.6 1026.8,1777.7 1030.2,1777.7 1024.9,1768.6 1019.6,1777.7 1023.0,1777.7 1023.0,1780.6ZM1078.7,1780.6 1078.7,1777.7 1082.1,1777.7 1076.8,1768.6 1071.4,1777.7 1074.8,1777.7 1074.8,1780.6ZM1130.5,1780.6 1130.5,1777.7 1133.9,1777.7 1128.6,1768.6 1123.3,1777.7 1126.7,1777.7 1126.7,1780.6ZM1182.4,1780.6 1182.4,1777.7 1185.8,1777.7 1180.5,1768.6 1175.1,1777.7 1178.5,1777.7 1178.5,1780.6ZM1234.2,1780.6 1234.2,1777.7 1237.6,1777.7 1232.3,1768.6 1227.0,1777.7 1230.4,1777.7 1230.4,1780.6ZM1286.1,1780.6 1286.1,1777.7 1289.5,1777.7 1284.2,1768.6 1278.8,1777.7 1282.2,1777.7 1282.2,1780.6ZM1337.9,1780.6 1337.9,1777.7 1341.3,1777.7 1336.0,1768.6 1330.7,1777.7 1334.1,1777.7 1334.1,1780.6ZM1389.8,1780.6 1389.8,1777.7 1393.2,1777.7 1387.8,1768.6 1382.5,1777.7 1385.9,1777.7 1385.9,1780.6ZM1441.6,1780.6 1441.6,1777.7 1445.0,1777.7 1439.7,1768.6 1434.4,1777.7 1437.8,1777.7 1437.8,1780.6ZM1493.5,1780.6 1493.5,1777.7 1496.9,1777.7 1491.5,1768.6 1486.2,1777.7 1489.6,1777.7 1489.6,1780.6ZM1545.4,1781.6 1545.4,1777.2 1548.9,1777.2 1543.4,1767.6 1537.9,1777.2 1541.4,1777.2 1541.4,1781.6ZM1593.0,1764.6 1593.0,1773.4 1589.0,1773.4 1595.2,1784.6 1601.5,1773.4 1597.5,1773.4 1597.5,1764.6ZM1649.0,1780.6 1649.0,1777.7 1652.4,1777.7 1647.1,1768.6 1641.8,1777.7 1645.2,1777.7 1645.2,1780.6ZM1700.9,1780.6 1700.9,1777.7 1704.3,1777.7 1698.9,1768.6 1693.6,1777.7 1697.0,1777.7 1697.0,1780.6ZM1751.2,1784.8 1752.8,1776.2 1756.7,1776.9 1752.5,1764.8 1744.5,1774.7 1748.4,1775.4 1746.9,1784.1ZM1804.6,1781.6 1804.6,1777.2 1808.2,1777.2 1802.7,1767.6 1797.1,1777.2 1800.7,1777.2 1800.7,1781.6ZM1856.5,1781.6 1856.5,1777.2 1860.0,1777.2 1854.5,1767.6 1849.0,1777.2 1852.5,1777.2 1852.5,1781.6ZM1908.3,1781.6 1908.3,1777.2 1911.9,1777.2 1906.3,1767.6 1900.8,1777.2 1904.4,1777.2 1904.4,1781.6ZM1964.6,1778.1 1961.5,1775.1 1964.0,1772.5 1953.3,1769.7 1956.1,1780.4 1958.7,1777.9 1961.7,1781.0ZM2016.1,1772.7 2013.2,1772.7 2013.2,1769.3 2004.1,1774.6 2013.2,1779.9 2013.2,1776.5 2016.1,1776.5ZM481.0,1824.4 483.9,1824.4 483.9,1827.8 493.0,1822.5 483.9,1817.2 483.9,1820.6 481.0,1820.6ZM534.2,1818.3 535.6,1820.8 532.7,1822.5 541.9,1827.7 541.9,1817.1 539.0,1818.8 537.5,1816.3ZM588.8,1816.5 588.8,1819.4 585.4,1819.4 590.7,1828.5 596.0,1819.4 592.6,1819.4 592.6,1816.5ZM636.5,1824.4 639.4,1824.4 639.4,1827.8 648.5,1822.5 639.4,1817.2 639.4,1820.6 636.5,1820.6ZM692.5,1816.5 692.5,1819.4 689.1,1819.4 694.4,1828.5 699.7,1819.4 696.3,1819.4 696.3,1816.5ZM740.2,1824.4 743.1,1824.4 743.1,1827.8 752.2,1822.5 743.1,1817.2 743.1,1820.6 740.2,1820.6ZM791.9,1821.2 794.4,1822.6 792.7,1825.5 803.3,1825.5 798.1,1816.3 796.4,1819.3 793.9,1817.8ZM851.9,1828.5 851.9,1825.6 855.3,1825.6 850.0,1816.5 844.6,1825.6 848.0,1825.6 848.0,1828.5ZM895.6,1821.2 898.1,1822.6 896.4,1825.5 907.0,1825.5 901.8,1816.3 900.1,1819.3 897.6,1817.8ZM947.7,1824.4 950.5,1824.4 950.5,1827.8 959.7,1822.5 950.5,1817.2 950.5,1820.6 947.7,1820.6ZM999.3,1821.2 1001.8,1822.6 1000.1,1825.5 1010.7,1825.5 1005.5,1816.3 1003.8,1819.3 1001.3,1817.8ZM1051.2,1821.2 1053.7,1822.6 1052.0,1825.5 1062.5,1825.5 1057.3,1816.3 1055.6,1819.3 1053.1,1817.8ZM1103.0,1821.2 1105.5,1822.6 1103.8,1825.5 1114.4,1825.5 1109.2,1816.3 1107.5,1819.3 1105.0,1817.8ZM1155.1,1824.4 1157.9,1824.4 1157.9,1827.8 1167.1,1822.5 1157.9,1817.2 1157.9,1820.6 1155.1,1820.6ZM1206.9,1824.4 1209.8,1824.4 1209.8,1827.8 1218.9,1822.5 1209.8,1817.2 1209.8,1820.6 1206.9,1820.6ZM1258.8,1824.4 1261.6,1824.4 1261.6,1827.8 1270.8,1822.5 1261.6,1817.2 1261.6,1820.6 1258.8,1820.6ZM1310.6,1824.4 1313.5,1824.4 1313.5,1827.8 1322.6,1822.5 1313.5,1817.2 1313.5,1820.6 1310.6,1820.6ZM1370.4,1828.5 1370.4,1825.6 1373.8,1825.6 1368.5,1816.5 1363.1,1825.6 1366.5,1825.6 1366.5,1828.5ZM1422.2,1828.5 1422.2,1825.6 1425.6,1825.6 1420.3,1816.5 1415.0,1825.6 1418.4,1825.6 1418.4,1828.5ZM1466.2,1824.4 1469.0,1824.4 1469.0,1827.8 1478.2,1822.5 1469.0,1817.2 1469.0,1820.6 1466.2,1820.6ZM1518.0,1824.4 1520.9,1824.4 1520.9,1827.8 1530.0,1822.5 1520.9,1817.2 1520.9,1820.6 1518.0,1820.6ZM1569.9,1824.4 1572.7,1824.4 1572.7,1827.8 1581.9,1822.5 1572.7,1817.2 1572.7,1820.6 1569.9,1820.6ZM1621.7,1824.4 1624.6,1824.4 1624.6,1827.8 1633.7,1822.5 1624.6,1817.2 1624.6,1820.6 1621.7,1820.6ZM1673.5,1824.4 1676.4,1824.4 1676.4,1827.8 1685.5,1822.5 1676.4,1817.2 1676.4,1820.6 1673.5,1820.6ZM1725.4,1824.4 1728.3,1824.4 1728.3,1827.8 1737.4,1822.5 1728.3,1817.2 1728.3,1820.6 1725.4,1820.6ZM1777.2,1824.4 1780.1,1824.4 1780.1,1827.8 1789.2,1822.5 1780.1,1817.2 1780.1,1820.6 1777.2,1820.6ZM1829.1,1824.4 1832.0,1824.4 1832.0,1827.8 1841.1,1822.5 1832.0,1817.2 1832.0,1820.6 1829.1,1820.6ZM1881.0,1824.4 1883.8,1824.4 1883.8,1827.8 1893.0,1822.5 1883.8,1817.2 1883.8,1820.6 1881.0,1820.6ZM1932.8,1824.4 1935.7,1824.4 1935.7,1827.8 1944.8,1822.5 1935.7,1817.2 1935.7,1820.6 1932.8,1820.6ZM1984.7,1824.4 1987.5,1824.4 1987.5,1827.8 1996.7,1822.5 1987.5,1817.2 1987.5,1820.6 1984.7,1820.6ZM2036.5,1824.4 2039.4,1824.4 2039.4,1827.8 2048.5,1822.5 2039.4,1817.2 2039.4,1820.6 2036.5,1820.6Z"/>
<g transform="translate(1037.9,838.5) rotate(-11.7)"><rect x="-51.0" y="-23.0" width="102.0" height="46.0" fill="#fff"/><text x="0" y="15.1" font-size="42.0" text-anchor="middle">1016</text></g>
<g clip-path="url(#mc)" fill="none" stroke="#474747" stroke-width="2.8" stroke-linejoin="round">
<path d="M487.0,305.5 L510.7,302.9 L521.2,297.6 L531.8,296.3 L542.3,302.9 L558.1,304.2 L573.9,306.9 L592.4,310.8 L605.6,312.1 L613.5,321.3 L616.1,337.2 L610.8,347.7 L600.3,355.6 L592.4,368.8 L592.4,376.7 L581.8,387.2 L571.3,400.4 L560.8,413.6 L558.1,426.7 L547.6,434.6 L537.1,439.9 L531.8,447.8 L529.2,453.1 L542.3,458.3 L545.0,463.6 L526.5,468.9 L518.6,466.2 L502.8,479.4 L492.3,482.1 L487.0,479.4"/>
<path d="M487.0,484.7 L510.7,493.9 L521.2,490.0 L526.5,484.7 L534.4,484.7 L539.7,490.0 L555.5,503.1 L566.0,508.4 L573.9,524.2 L584.5,537.4 L589.7,547.9 L592.4,571.6 L592.4,598.0 L597.7,624.3 L595.0,637.5 L602.9,653.3 L605.6,658.6 L631.9,674.4 L642.4,687.6 L653.0,711.3 L666.2,721.8 L658.2,727.1 L655.6,742.9 L666.2,764.0 L671.4,777.1 L668.8,787.7 L674.1,804.0 L679.3,830.3 L655.6,856.7 L671.4,864.6 L676.7,873.8 L687.2,856.7 L718.8,859.3 L750.5,875.1 L763.6,896.2 L761.0,922.6 L750.5,948.9 L747.8,959.4 L729.4,970.0 L716.2,975.2 L724.1,983.2 L705.7,991.1 L684.6,993.7 L697.8,999.0 L692.5,1009.5 L671.4,1014.8 L650.3,1018.7 L671.4,1022.7 L687.2,1030.6 L692.5,1035.8 L729.4,1038.5 L721.5,1051.7 L718.8,1064.8 L692.5,1075.4 L689.9,1083.3 L671.4,1083.3 L637.2,1097.8 L605.6,1083.3 L566.0,1087.2 L545.0,1075.4 L513.3,1080.6 L487.0,1080.6"/>
<path d="M510.7,1083.3 L521.2,1099.1 L539.7,1096.4 L545.0,1083.3 L529.2,1078.0 L510.7,1083.3"/>
<path d="M487.0,1199.2 L510.7,1199.2 L516.0,1236.1 L539.7,1236.1 L579.2,1251.9 L592.4,1251.9 L618.7,1244.0 L634.5,1238.7 L610.8,1238.7 L605.6,1230.8 L616.1,1212.4 L645.1,1199.2 L671.4,1196.6 L697.8,1186.0 L718.8,1164.9 L724.1,1167.6 L729.4,1130.7 L732.0,1095.1 L750.5,1085.9 L803.1,1078.0 L842.7,1054.3 L871.6,1049.0 L882.2,1049.0 L913.8,1056.9 L919.1,1051.7 L903.3,1035.8 L890.1,1020.0 L908.5,1009.5 L921.7,1014.8 L934.9,1022.7 L963.9,1020.0"/>
<path d="M911.2,1004.2 L913.8,988.4 L934.9,967.3 L953.3,935.7 L958.6,909.4 L966.5,883.0 L969.1,867.2 L979.7,856.7 L996.0,848.8 L1011.8,872.5 L1009.2,893.6 L1030.2,909.4 L1022.3,927.8 L996.0,946.3"/>
<path d="M996.0,851.4 L1017.1,851.4 L1061.9,835.6 L1114.6,835.6 L1122.5,856.7 L1133.0,856.7 L1146.2,864.6"/>
<path d="M1122.5,835.6 L1122.5,819.8 L1154.1,811.9 L1188.3,811.9 L1196.2,830.3 L1191.0,840.9 L1206.8,846.2 L1219.9,835.6 L1219.9,851.4 L1225.2,804.0"/>
<path d="M1098.7,295.0 L1114.6,308.2 L1119.8,321.3 L1143.5,329.2 L1167.2,334.5 L1180.4,331.9 L1198.9,324.0 L1206.8,316.1 L1227.8,302.9 L1241.0,295.0"/>
<path d="M1388.6,295.0 L1399.1,308.2 L1407.0,321.3 L1417.5,347.7 L1428.1,368.8 L1438.6,400.4 L1449.1,421.5 L1459.7,442.5 L1470.2,463.6 L1483.4,479.4 L1496.6,487.3 L1505.0,495.2 L1512.9,513.7 L1531.3,526.8 L1544.5,532.1 L1557.7,521.6 L1584.0,532.1 L1591.9,547.9 L1581.4,571.6 L1591.9,598.0 L1584.0,619.1 L1557.7,619.1 L1531.3,624.3 L1505.0,621.7 L1483.4,627.0 L1470.2,645.4 L1459.7,663.8"/>
<path d="M1715.8,295.0 L1721.0,321.3 L1713.1,347.7 L1718.4,374.0 L1710.5,400.4 L1715.8,426.7 L1707.9,453.1 L1694.7,479.4 L1689.4,505.8 L1678.9,532.1 L1663.1,529.5 L1636.7,526.8 L1615.7,532.1 L1610.4,547.9 L1591.9,547.9"/>
<path d="M1354.3,366.1 L1333.2,379.3 L1317.4,384.6 L1304.2,400.4 L1285.8,424.1 L1259.5,432.0 L1241.0,437.3 L1222.6,442.5 L1212.0,458.3 L1206.8,479.4 L1204.1,505.8 L1201.5,532.1 L1204.1,558.5 L1206.8,584.8 L1201.5,611.1 L1219.9,629.6 L1233.1,642.8 L1233.1,663.8 L1217.3,677.0 L1214.7,703.4 L1227.8,721.8 L1248.9,729.7 L1233.1,742.9 L1243.7,764.0 L1248.9,782.4 L1259.5,804.0"/>
<path d="M1354.3,366.1 L1343.8,379.3 L1349.0,400.4 L1351.7,426.7 L1341.1,442.5 L1335.9,466.2 L1341.1,490.0 L1375.4,505.8 L1375.4,524.2 L1364.8,542.7 L1325.3,558.5 L1312.1,584.8 L1293.7,598.0 L1304.2,629.6 L1285.8,648.0 L1285.8,663.8 L1312.1,677.0 L1317.4,703.4 L1309.5,721.8 L1322.7,729.7 L1338.5,742.9 L1364.8,737.6 L1391.2,729.7 L1396.5,737.6 L1364.8,756.1 L1378.0,782.4 L1370.1,804.0"/>
<path d="M1385.9,566.4 L1417.5,571.6 L1438.6,558.5 L1465.0,547.9 L1483.4,558.5 L1475.5,584.8 L1459.7,611.1 L1457.1,637.5 L1443.9,650.7 L1457.1,669.1 L1430.7,671.7 L1412.3,658.6 L1391.2,653.3 L1378.0,634.9 L1385.9,611.1 L1380.6,590.1 L1385.9,566.4"/>
<path d="M1312.1,611.1 L1338.5,603.2 L1359.6,621.7 L1370.1,645.4 L1364.8,677.0 L1346.4,684.9 L1317.4,674.4 L1306.9,650.7 L1312.1,611.1"/>
<path d="M1383.3,690.2 L1417.5,682.3 L1443.9,698.1 L1417.5,711.3 L1385.9,700.7 L1383.3,690.2"/>
<path d="M1370.1,804.0 L1391.2,795.6 L1417.5,782.4 L1443.9,769.2 L1470.2,748.1 L1505.0,729.7 L1557.7,727.1 L1610.4,742.9 L1636.7,727.1 L1689.4,713.9 L1721.0,690.2 L1755.3,677.0 L1794.8,669.1 L1844.9,658.6 L1860.7,677.0 L1873.8,695.5 L1887.0,703.4 L1926.5,695.5 L1952.9,658.6 L1979.2,632.2 L2000.3,616.4 L2014.0,605.9"/>
<path d="M2014.0,321.3 L2000.3,368.8 L1989.8,413.6 L1995.0,479.4 L2000.3,545.3 L1997.7,611.1"/>
<path d="M1618.3,627.0 L1628.8,629.6 L1647.3,645.4 L1642.0,661.2 L1618.3,650.7 L1618.3,627.0"/>
<path d="M1802.7,363.5 L1834.3,316.1 L1865.9,305.5 L1871.2,310.8 L1855.4,334.5 L1844.9,360.9 L1837.0,395.1 L1821.1,432.0 L1810.6,416.2 L1802.7,363.5"/>
<path d="M1723.7,505.8 L1742.1,442.5 L1747.4,395.1 L1736.8,389.8 L1723.7,453.1 L1713.1,518.9 L1723.7,505.8"/>
<path d="M1568.2,300.3 L1589.3,297.6 L1570.9,355.6 L1560.3,337.2 L1568.2,300.3"/>
<path d="M1505.0,1718.7 L1531.3,1700.3 L1544.5,1702.9 L1557.7,1692.4 L1578.8,1689.7 L1594.6,1684.5 L1610.4,1700.3 L1591.9,1718.7 L1599.8,1760.9 L1607.7,1787.2 L1618.3,1805.7 L1631.5,1797.8 L1642.0,1766.1 L1663.1,1745.1 L1689.4,1750.3 L1700.0,1774.1 L1707.9,1800.4 L1715.8,1822.0"/>
<path d="M1505.0,1729.3 L1486.0,1745.1 L1491.3,1774.1 L1505.0,1787.2"/>
<path d="M1868.6,1560.7 L1894.9,1550.1 L1916.0,1539.6 L1929.2,1529.0 L1934.4,1521.1 L1923.9,1534.3 L1900.2,1544.8 L1871.2,1558.0"/>
<path d="M1246.3,1465.8 L1259.5,1476.3 L1285.8,1494.8 L1299.0,1497.4 L1280.5,1486.9 L1256.8,1471.1"/>
<path d="M1022.3,1637.1 L1038.2,1613.3 L1059.2,1605.4 L1082.9,1616.0 L1061.9,1613.3 L1043.4,1623.9 L1022.3,1637.1"/>
<path d="M1064.5,1573.8 L1085.6,1555.4 L1096.1,1551.4 L1075.0,1568.6 L1064.5,1573.8"/>
</g>
<g clip-path="url(#mc)" fill="none" stroke="#000" stroke-width="3.2" stroke-linejoin="round" stroke-linecap="round">
<path d="M487.0,305.0 C495.8,305.5 522.1,307.8 539.7,307.6 C557.3,307.5 574.8,305.9 592.4,304.2 C609.9,302.6 629.7,299.1 645.1,297.6 C660.4,296.2 660.4,296.0 684.6,295.5 C708.7,295.1 772.4,295.1 790.0,295.0"/>
<path d="M487.0,387.2 C494.5,388.3 518.6,394.0 531.8,393.8 C545.0,393.6 557.7,389.2 566.0,385.9 C574.4,382.6 576.6,378.2 581.8,374.0 C587.1,369.9 591.5,363.5 597.7,360.9 C603.8,358.2 602.0,359.1 618.7,358.2 C635.4,357.4 671.4,356.7 697.8,355.6 C724.1,354.5 750.5,353.4 776.8,351.6 C803.1,349.9 833.9,347.5 855.8,345.1 C877.8,342.6 891.0,340.2 908.5,337.2 C926.1,334.1 946.6,331.0 961.2,326.6 C975.8,322.2 987.6,316.1 996.0,310.8 C1004.4,305.5 1009.2,297.6 1011.8,295.0"/>
<path d="M487.0,443.9 C489.6,444.3 495.3,447.4 502.8,446.5 C510.3,445.6 523.4,441.2 531.8,438.6 C540.1,435.9 540.6,432.9 552.9,430.7 C565.2,428.5 592.4,426.7 605.6,425.4 C618.7,424.1 612.1,423.2 631.9,422.8 C651.7,422.3 695.6,423.0 724.1,422.8 C752.7,422.6 781.2,422.8 803.1,421.5 C825.1,420.1 838.3,417.7 855.8,414.9 C873.4,412.0 891.0,408.5 908.5,404.3 C926.1,400.2 946.6,394.7 961.2,389.8 C975.8,385.0 981.4,381.1 996.0,375.4 C1010.6,369.6 1034.2,363.7 1048.7,355.6 C1063.2,347.5 1072.8,335.4 1082.9,326.6 C1093.0,317.8 1100.1,308.2 1109.3,302.9 C1118.5,297.6 1133.4,296.3 1138.3,295.0"/>
<path d="M487.0,508.4 C494.9,509.3 523.0,514.1 534.4,513.7 C545.8,513.2 551.1,508.8 555.5,505.8 C559.9,502.7 552.4,497.6 560.8,495.2 C569.1,492.8 591.5,493.7 605.6,491.3 C619.6,488.9 634.1,483.2 645.1,480.7 C656.1,478.3 653.9,477.9 671.4,476.8 C689.0,475.7 724.1,474.8 750.5,474.2 C776.8,473.5 807.5,474.4 829.5,472.8 C851.4,471.3 864.6,468.2 882.2,464.9 C899.8,461.6 915.9,458.1 934.9,453.1 C953.8,448.0 977.0,440.3 996.0,434.6 C1015.0,428.9 1033.3,424.5 1048.7,418.8 C1064.1,413.1 1075.0,407.4 1088.2,400.4 C1101.4,393.4 1114.6,385.0 1127.7,376.7 C1140.9,368.3 1154.1,357.4 1167.2,350.3 C1180.4,343.3 1193.6,338.5 1206.8,334.5 C1219.9,330.6 1234.0,329.2 1246.3,326.6 C1258.6,324.0 1271.8,322.7 1280.5,318.7 C1289.3,314.8 1294.6,306.9 1299.0,302.9 C1303.4,299.0 1305.6,296.3 1306.9,295.0"/>
<path d="M487.0,582.2 C493.6,583.5 515.5,591.4 526.5,590.1 C537.5,588.8 541.9,578.0 552.9,574.3 C563.8,570.5 581.4,569.9 592.4,567.7 C603.4,565.5 605.6,563.3 618.7,561.1 C631.9,558.9 653.9,556.3 671.4,554.5 C689.0,552.7 706.5,553.0 724.1,550.6 C741.7,548.1 759.2,543.1 776.8,540.0 C794.4,536.9 807.5,535.8 829.5,532.1 C851.4,528.4 880.8,522.5 908.5,517.6 C936.3,512.8 972.6,507.7 996.0,503.1 C1019.4,498.5 1034.2,494.3 1048.7,490.0 C1063.2,485.6 1072.0,481.2 1082.9,476.8 C1093.9,472.4 1102.7,470.2 1114.6,463.6 C1126.4,457.0 1140.9,444.7 1154.1,437.3 C1167.2,429.8 1181.3,425.0 1193.6,418.8 C1205.9,412.7 1216.9,406.1 1227.8,400.4 C1238.8,394.7 1245.4,389.8 1259.5,384.6 C1273.5,379.3 1294.6,374.9 1312.1,368.8 C1329.7,362.6 1350.4,356.5 1364.8,347.7 C1379.3,338.9 1390.3,324.9 1399.1,316.1 C1407.9,307.3 1414.5,298.5 1417.5,295.0"/>
<path d="M487.0,679.6 C494.9,681.8 524.8,693.3 534.4,692.8 C544.1,692.4 540.6,683.2 545.0,677.0 C549.4,670.9 552.9,662.5 560.8,655.9 C568.7,649.4 580.5,641.7 592.4,637.5 C604.2,633.3 616.5,631.8 631.9,630.9 C647.3,630.0 667.0,632.7 684.6,632.2 C702.2,631.8 721.9,631.8 737.3,628.3 C752.7,624.8 761.4,616.2 776.8,611.1 C792.2,606.1 807.5,602.4 829.5,598.0 C851.4,593.6 880.8,588.3 908.5,584.8 C936.3,581.3 972.6,581.3 996.0,576.9 C1019.4,572.5 1031.1,563.7 1048.7,558.5 C1066.3,553.2 1083.8,551.0 1101.4,545.3 C1118.9,539.6 1137.4,529.5 1154.1,524.2 C1170.8,518.9 1183.9,520.3 1201.5,513.7 C1219.1,507.1 1241.0,494.8 1259.5,484.7 C1277.9,474.6 1294.6,463.6 1312.1,453.1 C1329.7,442.5 1348.2,432.0 1364.8,421.5 C1381.5,410.9 1399.1,398.6 1412.3,389.8 C1425.4,381.1 1428.4,373.6 1443.9,368.8 C1459.3,363.9 1492.6,362.8 1505.0,360.9 C1517.4,358.9 1512.5,355.8 1518.2,356.9 C1523.9,358.0 1533.5,366.4 1539.2,367.5 C1545.0,368.5 1548.9,363.9 1552.4,363.5 C1555.9,363.1 1557.3,366.1 1560.3,364.8 C1563.4,363.5 1565.2,353.6 1570.9,355.6 C1576.6,357.6 1587.1,374.9 1594.6,376.7 C1602.0,378.4 1608.6,367.5 1615.7,366.1 C1622.7,364.8 1628.8,369.2 1636.7,368.8 C1644.6,368.3 1652.1,367.9 1663.1,363.5 C1674.1,359.1 1689.4,349.0 1702.6,342.4 C1715.8,335.8 1731.1,328.8 1742.1,324.0 C1753.1,319.2 1756.2,318.3 1768.5,313.4 C1780.8,308.6 1808.0,298.1 1815.9,295.0"/>
<path d="M487.0,773.2 C493.6,773.0 516.9,770.3 526.5,771.9 C536.2,773.4 540.6,783.7 545.0,782.4 C549.4,781.1 547.2,769.9 552.9,764.0 C558.6,758.0 570.4,753.0 579.2,746.8 C588.0,740.7 596.8,729.9 605.6,727.1 C614.3,724.2 620.9,731.5 631.9,729.7 C642.9,727.9 658.2,719.2 671.4,716.5 C684.6,713.9 697.8,716.8 710.9,713.9 C724.1,711.0 732.9,704.7 750.5,699.4 C768.0,694.1 794.4,687.3 816.3,682.3 C838.3,677.2 852.2,673.7 882.2,669.1 C912.1,664.5 963.9,659.9 996.0,654.6 C1028.1,649.4 1048.7,644.3 1075.0,637.5 C1101.4,630.7 1132.1,621.2 1154.1,613.8 C1176.0,606.3 1189.2,600.2 1206.8,592.7 C1224.3,585.2 1241.9,577.3 1259.5,569.0 C1277.0,560.7 1294.6,553.2 1312.1,542.7 C1329.7,532.1 1347.3,516.3 1364.8,505.8 C1382.4,495.2 1400.0,487.8 1417.5,479.4 C1435.1,471.1 1455.6,460.3 1470.2,455.7 C1484.8,451.1 1494.8,450.0 1505.0,451.8 C1515.2,453.5 1520.4,461.2 1531.3,466.2 C1542.3,471.3 1559.9,479.9 1570.9,482.1 C1581.8,484.3 1588.4,481.2 1597.2,479.4 C1606.0,477.7 1612.6,472.4 1623.6,471.5 C1634.5,470.6 1652.1,475.9 1663.1,474.2 C1674.1,472.4 1680.6,465.8 1689.4,461.0 C1698.2,456.1 1707.0,450.0 1715.8,445.2 C1724.5,440.3 1733.3,435.9 1742.1,432.0 C1750.9,428.0 1757.5,425.9 1768.5,421.5 C1779.4,417.1 1794.8,410.9 1808.0,405.7 C1821.1,400.4 1834.3,395.1 1847.5,389.8 C1860.7,384.6 1876.0,379.3 1887.0,374.0 C1898.0,368.8 1904.6,364.4 1913.4,358.2 C1922.1,352.1 1929.6,347.7 1939.7,337.2 C1949.8,326.6 1968.2,302.0 1974.0,295.0"/>
<path d="M487.0,869.9 C492.7,869.2 510.3,869.0 521.2,865.9 C532.2,862.8 544.5,856.3 552.9,851.4 C561.2,846.6 565.6,839.6 571.3,836.9 C577.0,834.3 580.5,838.2 587.1,835.6 C593.7,833.0 604.2,823.5 610.8,821.1 C617.4,818.7 621.4,822.0 626.6,821.1 C631.9,820.2 637.2,816.3 642.4,815.9 C647.7,815.4 652.5,819.1 658.2,818.5 C664.0,817.8 669.2,814.3 676.7,811.9 C684.2,809.5 690.7,808.0 703.0,804.0 C715.3,800.0 733.8,793.5 750.5,787.7 C767.1,781.9 785.6,775.8 803.1,769.2 C820.7,762.6 838.3,753.9 855.8,748.1 C873.4,742.4 885.2,738.9 908.5,735.0 C931.9,731.0 968.2,727.5 996.0,724.4 C1023.8,721.4 1050.9,720.9 1075.0,716.5 C1099.2,712.1 1118.9,706.0 1140.9,698.1 C1162.9,690.2 1187.0,677.0 1206.8,669.1 C1226.5,661.2 1244.1,656.8 1259.5,650.7 C1274.8,644.5 1288.0,634.9 1299.0,632.2 C1310.0,629.6 1314.3,636.6 1325.3,634.9 C1336.3,633.1 1353.9,626.3 1364.8,621.7 C1375.8,617.1 1378.0,608.5 1391.2,607.2 C1404.4,605.9 1424.9,613.6 1443.9,613.8 C1462.8,614.0 1488.2,610.3 1505.0,608.5 C1521.8,606.8 1531.3,604.8 1544.5,603.2 C1557.7,601.7 1573.1,601.9 1584.0,599.3 C1595.0,596.7 1599.4,590.3 1610.4,587.4 C1621.4,584.6 1636.7,586.1 1649.9,582.2 C1663.1,578.2 1676.2,569.9 1689.4,563.7 C1702.6,557.6 1715.8,551.0 1728.9,545.3 C1742.1,539.6 1755.3,534.5 1768.5,529.5 C1781.6,524.4 1794.8,520.3 1808.0,515.0 C1821.1,509.7 1834.3,503.8 1847.5,497.9 C1860.7,491.9 1873.8,486.9 1887.0,479.4 C1900.2,472.0 1915.6,461.9 1926.5,453.1 C1937.5,444.3 1944.1,434.6 1952.9,426.7 C1961.7,418.8 1969.0,414.9 1979.2,405.7 C1989.4,396.4 2008.2,377.1 2014.0,371.4"/>
<path d="M487.0,964.7 C493.6,964.3 513.3,964.7 526.5,962.1 C539.7,959.4 552.9,953.3 566.0,948.9 C579.2,944.5 592.4,941.0 605.6,935.7 C618.7,930.5 631.9,923.4 645.1,917.3 C658.2,911.1 671.4,902.4 684.6,898.8 C697.8,895.3 710.9,898.8 724.1,896.2 C737.3,893.6 750.5,886.6 763.6,883.0 C776.8,879.5 787.8,878.6 803.1,875.1 C818.5,871.6 838.3,865.9 855.8,862.0 C873.4,858.0 885.2,854.9 908.5,851.4 C931.9,847.9 972.6,844.4 996.0,840.9 C1019.4,837.4 1033.3,833.6 1048.7,830.3 C1064.1,827.1 1072.8,825.5 1088.2,821.1 C1103.6,816.7 1121.1,810.0 1140.9,804.0 C1160.7,798.0 1187.0,790.8 1206.8,785.0 C1226.5,779.2 1237.5,771.9 1259.5,769.2 C1281.4,766.6 1312.1,767.9 1338.5,769.2 C1364.8,770.5 1395.6,778.0 1417.5,777.1 C1439.5,776.2 1455.6,768.8 1470.2,764.0 C1484.8,759.1 1490.4,753.2 1505.0,748.1 C1519.6,743.1 1542.3,738.9 1557.7,733.7 C1573.1,728.4 1579.6,723.8 1597.2,716.5 C1614.8,709.3 1641.1,698.1 1663.1,690.2 C1685.0,682.3 1707.0,676.6 1728.9,669.1 C1750.9,661.6 1776.4,652.2 1794.8,645.4 C1813.2,638.6 1826.4,634.9 1839.6,628.3 C1852.8,621.7 1861.5,614.0 1873.8,605.9 C1886.1,597.8 1900.2,588.8 1913.4,579.5 C1926.5,570.3 1941.9,560.2 1952.9,550.6 C1963.9,540.9 1971.3,532.6 1979.2,521.6 C1987.1,510.6 1994.5,492.2 2000.3,484.7 C2006.1,477.2 2011.7,478.1 2014.0,476.8"/>
<path d="M487.0,1093.8 C491.4,1094.2 504.6,1097.3 513.3,1096.4 C522.1,1095.6 530.9,1091.6 539.7,1088.5 C548.5,1085.5 557.3,1080.6 566.0,1078.0 C574.8,1075.4 587.1,1074.9 592.4,1072.7 C597.7,1070.5 593.3,1066.8 597.7,1064.8 C602.0,1062.8 610.8,1062.6 618.7,1060.9 C626.6,1059.1 638.5,1057.1 645.1,1054.3 C651.7,1051.4 651.7,1046.4 658.2,1043.7 C664.8,1041.1 678.9,1040.7 684.6,1038.5 C690.3,1036.3 685.9,1033.2 692.5,1030.6 C699.1,1027.9 712.3,1025.7 724.1,1022.7 C736.0,1019.6 750.5,1015.2 763.6,1012.1 C776.8,1009.1 787.8,1006.4 803.1,1004.2 C818.5,1002.0 840.5,1001.2 855.8,999.0 C871.2,996.8 882.2,994.6 895.4,991.1 C908.5,987.5 921.7,981.8 934.9,977.9 C948.1,973.9 964.2,969.1 974.4,967.3 C984.6,965.6 984.9,967.1 996.0,967.3 C1007.1,967.6 1025.4,972.0 1040.8,968.7 C1056.2,965.4 1071.5,951.3 1088.2,947.6 C1104.9,943.9 1129.0,946.7 1140.9,946.3 C1152.8,945.8 1151.9,943.9 1159.3,944.9 C1166.8,946.0 1179.5,950.0 1185.7,952.9 C1191.8,955.7 1192.7,962.3 1196.2,962.1 C1199.7,961.9 1201.5,954.2 1206.8,951.5 C1212.0,948.9 1219.5,947.1 1227.8,946.3 C1236.2,945.4 1250.2,944.5 1256.8,946.3 C1263.4,948.0 1260.3,955.0 1267.4,956.8 C1274.4,958.6 1288.4,954.6 1299.0,956.8 C1309.5,959.0 1319.6,969.5 1330.6,970.0 C1341.6,970.4 1357.4,957.9 1364.8,959.4 C1372.3,961.0 1371.0,976.6 1375.4,979.2 C1379.8,981.8 1384.2,977.7 1391.2,975.2 C1398.2,972.8 1408.8,968.7 1417.5,964.7 C1426.3,960.8 1435.1,955.9 1443.9,951.5 C1452.7,947.1 1460.0,942.8 1470.2,938.4 C1480.4,934.0 1495.7,929.4 1505.0,925.2 C1514.3,921.0 1517.3,917.7 1526.1,913.3 C1534.9,908.9 1548.0,902.1 1557.7,898.8 C1567.4,895.6 1576.1,897.7 1584.0,893.6 C1591.9,889.4 1598.5,877.5 1605.1,873.8 C1611.7,870.1 1617.4,873.2 1623.6,871.2 C1629.7,869.2 1637.2,865.0 1642.0,862.0 C1646.8,858.9 1644.6,856.7 1652.5,852.7 C1660.4,848.8 1678.9,842.2 1689.4,838.2 C1700.0,834.3 1707.9,832.5 1715.8,829.0 C1723.7,825.5 1730.3,820.7 1736.8,817.2 C1743.4,813.7 1747.8,810.1 1755.3,808.0 C1762.7,805.8 1768.5,809.1 1781.6,804.0 C1794.8,798.9 1819.0,784.7 1834.3,777.1 C1849.7,769.6 1865.5,767.9 1873.8,758.7 C1882.2,749.5 1880.9,729.7 1884.4,721.8 C1887.9,713.9 1888.8,714.3 1894.9,711.3 C1901.1,708.2 1914.2,707.3 1921.3,703.4 C1928.3,699.4 1930.9,691.5 1937.1,687.6 C1943.2,683.6 1952.0,681.8 1958.1,679.6 C1964.3,677.5 1964.6,681.4 1974.0,674.4 C1983.3,667.4 2007.3,643.6 2014.0,637.5"/>
<path d="M487.0,1324.3 C492.7,1322.4 508.1,1315.5 521.2,1312.5 C534.4,1309.4 552.0,1307.0 566.0,1305.9 C580.1,1304.8 594.6,1307.0 605.6,1305.9 C616.5,1304.8 620.9,1301.7 631.9,1299.3 C642.9,1296.9 658.2,1294.5 671.4,1291.4 C684.6,1288.3 697.8,1283.5 710.9,1280.9 C724.1,1278.2 742.6,1277.3 750.5,1275.6 C758.4,1273.8 754.8,1269.9 758.4,1270.3 C761.9,1270.8 764.1,1276.9 771.5,1278.2 C779.0,1279.5 791.3,1278.7 803.1,1278.2 C815.0,1277.8 829.5,1277.8 842.7,1275.6 C855.8,1273.4 869.9,1265.3 882.2,1265.1 C894.5,1264.8 905.5,1273.8 916.4,1274.3 C927.4,1274.7 941.0,1271.4 948.1,1267.7 C955.1,1264.0 955.5,1253.6 958.6,1251.9 C961.7,1250.1 963.2,1253.2 966.5,1257.1 C969.8,1261.1 980.1,1271.2 978.3,1275.6 C976.6,1280.0 965.4,1281.3 956.0,1283.5 C946.5,1285.7 927.9,1286.6 921.7,1288.8 C915.6,1291.0 916.9,1294.0 919.1,1296.7 C921.3,1299.3 930.0,1302.8 934.9,1304.6 C939.7,1306.3 944.5,1304.6 948.1,1307.2 C951.6,1309.8 954.0,1316.8 956.0,1320.4 C957.9,1324.0 960.8,1324.3 959.9,1328.8 C959.0,1333.3 954.9,1341.5 950.7,1347.2 C946.5,1353.0 941.0,1358.2 934.9,1363.1 C928.7,1367.9 921.7,1371.4 913.8,1376.2 C905.9,1381.1 893.6,1387.4 887.5,1392.0 C881.3,1396.6 883.5,1400.8 876.9,1403.9 C870.3,1407.0 855.4,1407.6 847.9,1410.5 C840.5,1413.3 835.2,1416.6 832.1,1421.0 C829.1,1425.4 831.7,1433.3 829.5,1436.8 C827.3,1440.3 820.7,1441.2 819.0,1442.1"/>
<path d="M813.7,1460.5 C809.7,1461.9 795.7,1465.6 790.0,1468.4 C784.3,1471.3 783.8,1475.0 779.4,1477.7 C775.0,1480.3 768.5,1480.1 763.6,1484.2 C758.8,1488.4 753.1,1497.0 750.5,1502.7 C747.8,1508.4 750.0,1512.8 747.8,1518.5 C745.6,1524.2 739.5,1531.7 737.3,1536.9 C735.1,1542.2 736.8,1546.2 734.7,1550.1 C732.5,1554.1 727.6,1557.1 724.1,1560.7 C720.6,1564.2 718.4,1568.6 713.6,1571.2 C708.7,1573.8 699.5,1574.3 695.1,1576.5 C690.7,1578.7 689.4,1581.3 687.2,1584.4 C685.0,1587.4 685.5,1592.3 682.0,1594.9 C678.4,1597.5 670.5,1597.1 666.2,1600.2 C661.8,1603.2 659.1,1609.4 655.6,1613.3 C652.1,1617.3 650.3,1619.0 645.1,1623.9 C639.8,1628.7 630.1,1637.1 624.0,1642.3 C617.9,1647.6 612.6,1651.5 608.2,1655.5 C603.8,1659.4 600.3,1661.6 597.7,1666.0 C595.0,1670.4 594.6,1675.7 592.4,1681.8 C590.2,1688.0 586.7,1696.3 584.5,1702.9 C582.3,1709.5 581.4,1716.1 579.2,1721.4 C577.0,1726.6 573.1,1730.1 571.3,1734.5 C569.6,1738.9 568.7,1744.2 568.7,1747.7 C568.7,1751.2 572.2,1752.1 571.3,1755.6 C570.4,1759.1 565.2,1763.5 563.4,1768.8 C561.6,1774.1 560.8,1782.4 560.8,1787.2 C560.8,1792.1 561.2,1794.7 563.4,1797.8 C565.6,1800.8 571.7,1803.0 573.9,1805.7 C576.1,1808.3 573.5,1810.8 576.6,1813.6 C579.6,1816.3 587.6,1818.0 592.4,1822.0 C597.2,1826.0 603.4,1834.7 605.6,1837.3"/>
<path d="M905.9,1450.0 C910.7,1447.4 927.4,1439.5 934.9,1434.2 C942.3,1428.9 945.0,1424.1 950.7,1418.4 C956.4,1412.7 963.0,1402.6 969.1,1399.9 C975.3,1397.3 983.1,1403.5 987.6,1402.6 C992.0,1401.7 990.2,1399.1 996.0,1394.7 C1001.8,1390.3 1017.1,1380.6 1022.3,1376.2 C1027.6,1371.8 1023.2,1371.8 1027.6,1368.3 C1032.0,1364.8 1039.5,1360.4 1048.7,1355.2 C1057.9,1349.9 1072.8,1342.4 1082.9,1336.7 C1093.0,1331.0 1102.3,1322.2 1109.3,1320.9 C1116.3,1319.6 1118.9,1330.1 1125.1,1328.8 C1131.2,1327.5 1136.9,1317.9 1146.2,1313.0 C1155.4,1308.1 1172.1,1306.9 1180.4,1299.3 C1188.8,1291.7 1191.0,1276.5 1196.2,1267.7 C1201.5,1258.9 1205.9,1248.4 1212.0,1246.6 C1218.2,1244.9 1227.0,1257.1 1233.1,1257.1 C1239.3,1257.1 1245.8,1251.0 1248.9,1246.6 C1252.0,1242.2 1251.6,1234.8 1251.6,1230.8 C1251.6,1226.8 1247.6,1224.7 1248.9,1222.9 C1250.2,1221.1 1254.2,1218.5 1259.5,1220.3 C1264.7,1222.0 1273.9,1236.1 1280.5,1233.4 C1287.1,1230.8 1289.3,1215.4 1299.0,1204.5 C1308.6,1193.5 1329.7,1174.8 1338.5,1167.6 C1347.3,1160.3 1342.9,1159.7 1351.7,1161.0 C1360.4,1162.3 1378.0,1173.5 1391.2,1175.5 C1404.4,1177.5 1422.8,1176.4 1430.7,1172.8 C1438.6,1169.3 1432.9,1162.7 1438.6,1154.4 C1444.3,1146.1 1458.4,1128.5 1465.0,1122.8 C1471.5,1117.1 1473.7,1124.5 1478.1,1120.1 C1482.5,1115.8 1486.8,1099.7 1491.3,1096.4 C1495.8,1093.1 1500.5,1100.6 1505.0,1100.4 C1509.5,1100.2 1513.8,1095.3 1518.2,1095.1 C1522.6,1094.9 1526.5,1099.3 1531.3,1099.1 C1536.2,1098.9 1544.7,1097.8 1547.2,1093.8 C1549.6,1089.9 1545.0,1080.6 1545.8,1075.4 C1546.7,1070.1 1547.8,1066.4 1552.4,1062.2 C1557.0,1058.0 1563.8,1054.7 1573.5,1050.3 C1583.2,1045.9 1600.7,1040.9 1610.4,1035.8 C1620.0,1030.8 1626.2,1024.4 1631.5,1020.0 C1636.7,1015.6 1636.7,1011.9 1642.0,1009.5 C1647.3,1007.1 1653.0,1007.5 1663.1,1005.5 C1673.2,1003.6 1693.8,1001.4 1702.6,997.6 C1711.4,993.9 1710.5,987.8 1715.8,983.2 C1721.0,978.5 1727.6,973.3 1734.2,970.0 C1740.8,966.7 1747.4,966.5 1755.3,963.4 C1763.2,960.3 1770.7,957.0 1781.6,951.5 C1792.6,946.0 1810.2,936.6 1821.1,930.5 C1832.1,924.3 1838.7,919.5 1847.5,914.7 C1856.3,909.8 1865.9,907.6 1873.8,901.5 C1881.7,895.3 1891.0,884.6 1894.9,877.8 C1898.9,871.0 1894.0,864.8 1897.6,860.6 C1901.1,856.5 1909.0,855.8 1916.0,852.7 C1923.0,849.7 1930.9,847.3 1939.7,842.2 C1948.5,837.2 1960.8,828.8 1968.7,822.4 C1976.6,816.1 1979.6,812.0 1987.1,804.0 C1994.7,796.0 2009.5,779.4 2014.0,774.5"/>
<path d="M887.5,1494.8 C887.9,1497.9 891.4,1507.5 890.1,1513.2 C888.8,1518.9 881.7,1523.8 879.6,1529.0 C877.4,1534.3 878.7,1541.3 876.9,1544.8 C875.2,1548.4 871.6,1550.1 869.0,1550.1 C866.4,1550.1 862.9,1548.4 861.1,1544.8 C859.4,1541.3 860.2,1531.2 858.5,1529.0 C856.7,1526.8 853.6,1528.2 850.6,1531.7 C847.5,1535.2 842.7,1542.2 840.0,1550.1 C837.4,1558.0 833.9,1573.8 834.8,1579.1 C835.6,1584.4 839.6,1583.0 845.3,1581.7 C851.0,1580.4 862.9,1575.6 869.0,1571.2 C875.2,1566.8 877.4,1560.7 882.2,1555.4 C887.0,1550.1 893.2,1545.7 898.0,1539.6 C902.8,1533.4 906.8,1525.5 911.2,1518.5 C915.6,1511.5 919.1,1501.4 924.3,1497.4 C929.6,1493.5 939.3,1490.4 942.8,1494.8 C946.3,1499.2 947.6,1516.3 945.4,1523.8 C943.2,1531.2 932.7,1535.2 929.6,1539.6 C926.5,1544.0 923.9,1547.5 927.0,1550.1 C930.0,1552.7 940.6,1551.9 948.1,1555.4 C955.5,1558.9 966.1,1565.9 971.8,1571.2 C977.5,1576.5 981.4,1580.8 982.3,1587.0 C983.2,1593.1 977.5,1601.0 977.0,1608.1 C976.6,1615.1 977.9,1623.9 979.7,1629.1 C981.4,1634.4 987.1,1635.3 987.6,1639.7 C988.0,1644.1 984.5,1649.3 982.3,1655.5 C980.1,1661.6 979.2,1673.1 974.4,1676.6 C969.6,1680.1 957.7,1678.3 953.3,1676.6 C948.9,1674.8 951.1,1665.6 948.1,1666.0 C945.0,1666.5 938.0,1674.8 934.9,1679.2 C931.8,1683.6 931.8,1688.9 929.6,1692.4 C927.4,1695.9 927.0,1698.5 921.7,1700.3 C916.4,1702.0 903.3,1701.2 898.0,1702.9 C892.7,1704.7 890.1,1707.3 890.1,1710.8 C890.1,1714.3 896.7,1719.2 898.0,1724.0 C899.3,1728.8 900.2,1734.1 898.0,1739.8 C895.8,1745.5 888.8,1753.0 884.8,1758.2 C880.9,1763.5 875.2,1767.0 874.3,1771.4 C873.4,1775.8 879.6,1781.5 879.6,1784.6 C879.6,1787.7 879.1,1788.1 874.3,1789.9 C869.5,1791.6 857.2,1792.1 850.6,1795.1 C844.0,1798.2 840.0,1803.8 834.8,1808.3 C829.5,1812.8 822.9,1818.5 819.0,1822.0 C815.0,1825.5 812.4,1828.1 811.1,1829.4"/>
<path d="M1082.9,1687.1 C1086.0,1689.7 1093.9,1700.7 1101.4,1702.9 C1108.8,1705.1 1122.9,1699.4 1127.7,1700.3 C1132.6,1701.2 1131.7,1705.1 1130.4,1708.2 C1129.0,1711.3 1124.2,1716.1 1119.8,1718.7 C1115.4,1721.4 1107.1,1720.5 1104.0,1724.0 C1100.9,1727.5 1104.5,1734.5 1101.4,1739.8 C1098.3,1745.1 1089.1,1751.2 1085.6,1755.6 C1082.1,1760.0 1079.9,1762.6 1080.3,1766.1 C1080.7,1769.7 1086.5,1767.4 1088.2,1776.7 C1090.0,1786.0 1090.4,1814.4 1090.8,1822.0"/>
<path d="M1206.8,1619.9 C1202.4,1622.8 1186.6,1631.1 1180.4,1637.1 C1174.3,1643.0 1172.5,1649.3 1169.9,1655.5 C1167.2,1661.6 1167.2,1667.8 1164.6,1673.9 C1162.0,1680.1 1157.6,1689.7 1154.1,1692.4 C1150.6,1695.0 1146.6,1691.9 1143.5,1689.7 C1140.5,1687.5 1134.3,1681.4 1135.6,1679.2 C1136.9,1677.0 1147.9,1679.6 1151.4,1676.6 C1155.0,1673.5 1157.6,1662.5 1156.7,1660.8 C1155.8,1659.0 1147.9,1665.2 1146.2,1666.0"/>
<path d="M1238.4,1602.8 C1240.1,1605.9 1245.4,1617.3 1248.9,1621.2 C1252.4,1625.2 1255.5,1626.1 1259.5,1626.5 C1263.4,1627.0 1268.2,1623.9 1272.6,1623.9 C1277.0,1623.9 1281.4,1627.4 1285.8,1626.5 C1290.2,1625.6 1295.9,1621.2 1299.0,1618.6 C1302.0,1616.0 1302.0,1616.0 1304.2,1610.7 C1306.4,1605.4 1310.0,1591.8 1312.1,1587.0 C1314.3,1582.2 1320.5,1583.0 1317.4,1581.7 C1314.3,1580.4 1296.3,1580.8 1293.7,1579.1 C1291.1,1577.3 1296.8,1573.4 1301.6,1571.2 C1306.4,1569.0 1317.9,1569.4 1322.7,1565.9 C1327.5,1562.4 1328.0,1554.5 1330.6,1550.1 C1333.2,1545.7 1333.2,1542.6 1338.5,1539.6 C1343.8,1536.5 1359.6,1530.8 1362.2,1531.7 C1364.8,1532.5 1353.9,1540.9 1354.3,1544.8 C1354.7,1548.8 1360.9,1555.4 1364.8,1555.4 C1368.8,1555.4 1373.6,1548.4 1378.0,1544.8 C1382.4,1541.3 1383.7,1534.7 1391.2,1534.3 C1398.7,1533.9 1416.2,1542.2 1422.8,1542.2 C1429.4,1542.2 1426.3,1536.9 1430.7,1534.3 C1435.1,1531.7 1444.3,1529.0 1449.1,1526.4 C1454.0,1523.8 1457.5,1517.6 1459.7,1518.5 C1461.9,1519.4 1461.4,1531.2 1462.3,1531.7 C1463.2,1532.1 1460.1,1522.0 1465.0,1521.1 C1469.8,1520.3 1484.6,1526.0 1491.3,1526.4 C1498.0,1526.8 1494.8,1523.1 1505.0,1523.8 C1515.2,1524.4 1541.0,1531.7 1552.4,1530.4 C1563.8,1529.0 1572.6,1519.2 1573.5,1515.9 C1574.4,1512.6 1564.3,1513.2 1557.7,1510.6 C1551.1,1508.0 1537.1,1503.1 1534.0,1500.1 C1530.9,1497.0 1534.9,1493.0 1539.2,1492.2 C1543.6,1491.3 1555.1,1493.5 1560.3,1494.8 C1565.6,1496.1 1566.9,1500.5 1570.9,1500.1 C1574.8,1499.6 1578.3,1493.5 1584.0,1492.2 C1589.7,1490.8 1599.8,1490.0 1605.1,1492.2 C1610.4,1494.3 1610.4,1504.4 1615.7,1505.3 C1620.9,1506.2 1631.0,1498.7 1636.7,1497.4 C1642.4,1496.1 1644.6,1496.5 1649.9,1497.4 C1655.2,1498.3 1666.1,1500.9 1668.3,1502.7 C1670.5,1504.4 1666.6,1507.5 1663.1,1508.0 C1659.6,1508.4 1650.3,1504.4 1647.3,1505.3 C1644.2,1506.2 1642.9,1508.8 1644.6,1513.2 C1646.4,1517.6 1654.3,1526.4 1657.8,1531.7 C1661.3,1536.9 1663.1,1540.0 1665.7,1544.8 C1668.3,1549.7 1670.5,1559.8 1673.6,1560.7 C1676.7,1561.5 1680.6,1549.2 1684.2,1550.1 C1687.7,1551.0 1691.2,1560.7 1694.7,1565.9 C1698.2,1571.2 1702.6,1581.7 1705.2,1581.7 C1707.9,1581.7 1710.5,1572.1 1710.5,1565.9 C1710.5,1559.8 1704.3,1551.9 1705.2,1544.8 C1706.1,1537.8 1711.8,1527.3 1715.8,1523.8 C1719.7,1520.3 1722.8,1525.5 1728.9,1523.8 C1735.1,1522.0 1748.7,1515.0 1752.7,1513.2"/>
<path d="M1248.9,1734.5 C1246.3,1736.3 1239.3,1740.7 1233.1,1745.1 C1227.0,1749.5 1216.4,1756.5 1212.0,1760.9 C1207.6,1765.3 1210.7,1769.4 1206.8,1771.4 C1202.8,1773.4 1192.7,1773.6 1188.3,1772.7 C1183.9,1771.9 1182.2,1770.8 1180.4,1766.1 C1178.7,1761.5 1180.0,1749.9 1177.8,1745.1 C1175.6,1740.2 1170.3,1739.8 1167.2,1737.2 C1164.2,1734.5 1161.5,1729.7 1159.3,1729.3 C1157.1,1728.8 1156.7,1731.9 1154.1,1734.5 C1151.4,1737.2 1147.0,1742.0 1143.5,1745.1 C1140.0,1748.1 1136.5,1749.5 1133.0,1753.0 C1129.5,1756.5 1125.1,1761.3 1122.5,1766.1 C1119.8,1771.0 1117.6,1776.7 1117.2,1782.0 C1116.8,1787.2 1116.8,1792.5 1119.8,1797.8 C1122.9,1803.0 1129.9,1809.5 1135.6,1813.6 C1141.3,1817.6 1149.2,1819.4 1154.1,1822.0 C1158.9,1824.6 1162.9,1828.1 1164.6,1829.4"/>
<path d="M1375.4,1713.5 C1378.0,1715.2 1384.6,1721.8 1391.2,1724.0 C1397.8,1726.2 1408.8,1729.3 1414.9,1726.6 C1421.0,1724.0 1425.9,1711.3 1428.1,1708.2"/>
<path d="M1133.0,1829.4 C1134.8,1828.1 1135.6,1825.5 1143.5,1822.0 C1151.4,1818.5 1167.7,1813.2 1180.4,1808.3 C1193.2,1803.4 1206.8,1797.3 1219.9,1792.5 C1233.1,1787.7 1248.5,1780.6 1259.5,1779.3 C1270.4,1778.0 1272.6,1781.5 1285.8,1784.6 C1299.0,1787.7 1323.1,1793.8 1338.5,1797.8 C1353.9,1801.7 1367.0,1804.3 1378.0,1808.3 C1389.0,1812.3 1397.8,1818.5 1404.4,1822.0 C1410.9,1825.5 1415.3,1828.1 1417.5,1829.4"/>
<path d="M1505.0,1352.5 C1501.8,1350.8 1490.9,1344.8 1486.0,1342.0 C1481.1,1339.1 1475.1,1336.9 1475.5,1335.4 C1475.9,1333.9 1483.7,1332.3 1488.7,1332.8 C1493.6,1333.2 1502.3,1337.2 1505.0,1338.0"/>
<path d="M1477.1,1334.4 C1481.3,1334.8 1494.5,1333.8 1502.7,1336.4 C1511.0,1339.0 1519.2,1344.6 1526.4,1350.2 C1533.7,1355.8 1538.3,1366.0 1546.2,1370.0 C1554.1,1373.9 1567.9,1370.6 1573.8,1373.9 C1579.7,1377.2 1577.8,1386.8 1581.7,1389.7 C1585.7,1392.7 1592.2,1393.7 1597.5,1391.7 C1602.8,1389.7 1608.0,1378.2 1613.3,1377.9 C1618.6,1377.5 1621.9,1387.7 1629.1,1389.7 C1636.3,1391.7 1646.9,1387.7 1656.7,1389.7 C1666.6,1391.7 1679.8,1401.2 1688.3,1401.6 C1696.9,1401.9 1704.5,1395.6 1708.1,1391.7 C1711.7,1387.7 1714.0,1382.8 1710.1,1377.9 C1706.1,1372.9 1693.3,1366.7 1684.4,1362.1 C1675.5,1357.5 1666.0,1354.8 1656.7,1350.2 C1647.5,1345.6 1636.3,1338.7 1629.1,1334.4 C1621.9,1330.2 1615.9,1326.2 1613.3,1324.6"/>
<path d="M1505.0,1352.5 C1507.6,1354.7 1514.2,1360.4 1520.8,1365.7 C1527.4,1371.0 1539.7,1378.4 1544.5,1384.1 C1549.3,1389.8 1549.3,1395.1 1549.8,1399.9 C1550.2,1404.8 1545.0,1411.4 1547.2,1413.1 C1549.3,1414.9 1557.3,1409.6 1563.0,1410.5 C1568.7,1411.4 1577.0,1415.3 1581.4,1418.4 C1585.8,1421.5 1589.7,1425.0 1589.3,1428.9 C1588.9,1432.9 1577.5,1439.0 1578.8,1442.1 C1580.1,1445.2 1589.7,1445.6 1597.2,1447.4 C1604.7,1449.1 1614.8,1452.6 1623.6,1452.6 C1632.3,1452.6 1641.1,1448.2 1649.9,1447.4 C1658.7,1446.5 1668.8,1448.7 1676.2,1447.4 C1683.7,1446.0 1685.9,1441.7 1694.7,1439.5 C1703.5,1437.3 1718.8,1435.7 1728.9,1434.2 C1739.0,1432.7 1750.0,1429.4 1755.3,1430.2 C1760.6,1431.1 1758.8,1435.3 1760.6,1439.5 C1762.3,1443.6 1764.9,1452.6 1765.8,1455.3"/>
<path d="M2014.0,980.5 C2010.4,986.2 1999.1,1004.4 1992.4,1014.8 C1985.7,1025.1 1978.3,1037.6 1974.0,1042.4 C1969.6,1047.3 1967.8,1041.8 1966.1,1043.7 C1964.3,1045.7 1965.6,1050.3 1963.4,1054.3 C1961.2,1058.2 1955.1,1061.7 1952.9,1067.5 C1950.7,1073.2 1952.4,1082.8 1950.2,1088.5 C1948.0,1094.2 1944.5,1098.6 1939.7,1101.7 C1934.9,1104.8 1927.0,1104.8 1921.3,1107.0 C1915.6,1109.2 1907.7,1111.4 1905.5,1114.9 C1903.3,1118.4 1909.4,1123.7 1908.1,1128.1 C1906.8,1132.4 1901.9,1138.2 1897.6,1141.2 C1893.2,1144.3 1883.5,1142.5 1881.7,1146.5 C1880.0,1150.4 1887.9,1158.8 1887.0,1164.9 C1886.1,1171.1 1879.5,1176.4 1876.5,1183.4 C1873.4,1190.4 1871.2,1200.9 1868.6,1207.1 C1865.9,1213.2 1864.2,1218.9 1860.7,1220.3 C1857.2,1221.6 1852.3,1217.6 1847.5,1215.0 C1842.7,1212.4 1836.1,1207.5 1831.7,1204.5 C1827.3,1201.4 1824.7,1200.1 1821.1,1196.6 C1817.6,1193.0 1812.4,1185.6 1810.6,1183.4"/>
<path d="M1768.5,1175.5 C1767.6,1172.4 1765.4,1161.9 1763.2,1157.0 C1761.0,1152.2 1759.7,1149.3 1755.3,1146.5 C1750.9,1143.6 1745.6,1141.2 1736.8,1139.9 C1728.1,1138.6 1714.0,1141.0 1702.6,1138.6 C1691.2,1136.2 1674.9,1130.2 1668.3,1125.4 C1661.8,1120.6 1665.3,1112.7 1663.1,1109.6 C1660.9,1106.5 1657.4,1105.2 1655.2,1107.0 C1653.0,1108.7 1653.0,1117.1 1649.9,1120.1 C1646.8,1123.2 1640.2,1125.9 1636.7,1125.4 C1633.2,1125.0 1632.3,1119.7 1628.8,1117.5 C1625.3,1115.3 1618.3,1111.4 1615.7,1112.2 C1613.0,1113.1 1617.0,1118.8 1613.0,1122.8 C1609.1,1126.7 1599.4,1131.1 1591.9,1136.0 C1584.5,1140.8 1576.1,1145.2 1568.2,1151.8 C1560.3,1158.4 1547.2,1166.7 1544.5,1175.5 C1541.9,1184.3 1548.0,1198.3 1552.4,1204.5 C1556.8,1210.6 1567.8,1209.3 1570.9,1212.4 C1573.9,1215.4 1573.1,1219.8 1570.9,1222.9 C1568.7,1226.0 1563.0,1227.7 1557.7,1230.8 C1552.4,1233.9 1542.8,1236.9 1539.2,1241.3 C1535.7,1245.7 1535.3,1253.2 1536.6,1257.1 C1537.9,1261.1 1542.3,1265.9 1547.2,1265.1 C1552.0,1264.2 1561.2,1256.7 1565.6,1251.9 C1570.0,1247.0 1569.5,1240.5 1573.5,1236.1 C1577.5,1231.7 1585.8,1226.0 1589.3,1225.5 C1592.8,1225.1 1591.5,1231.2 1594.6,1233.4 C1597.6,1235.6 1605.1,1235.6 1607.7,1238.7 C1610.4,1241.8 1613.0,1246.2 1610.4,1251.9 C1607.7,1257.6 1596.3,1267.2 1591.9,1273.0 C1587.6,1278.7 1586.2,1279.5 1584.0,1286.1 C1581.8,1292.8 1578.5,1312.8 1578.8,1313.0 C1579.0,1313.2 1584.5,1291.4 1585.7,1287.0"/>
<path d="M1784.3,1175.5 C1783.4,1172.8 1780.3,1164.5 1779.0,1159.7 C1777.7,1154.8 1775.5,1148.5 1776.4,1146.5 C1777.2,1144.5 1781.2,1146.1 1784.3,1147.8 C1787.3,1149.6 1793.0,1152.4 1794.8,1157.0 C1796.6,1161.6 1794.8,1172.4 1794.8,1175.5"/>
<path d="M1821.1,1225.5 C1825.5,1229.0 1839.2,1237.8 1847.5,1246.6 C1855.8,1255.4 1867.7,1268.6 1871.2,1278.2 C1874.7,1287.9 1871.2,1297.5 1868.6,1304.6 C1865.9,1311.6 1861.5,1305.4 1855.4,1320.4 C1849.3,1335.4 1835.6,1382.3 1831.7,1394.7"/>
<path d="M1761.9,1376.2 C1758.6,1376.7 1746.3,1377.5 1742.1,1378.9 C1737.9,1380.2 1736.0,1382.4 1736.8,1384.1 C1737.7,1385.9 1743.9,1389.4 1747.4,1389.4 C1750.9,1389.4 1752.7,1384.1 1757.9,1384.1 C1763.2,1384.1 1774.6,1387.2 1779.0,1389.4 C1783.4,1391.6 1782.9,1393.4 1784.3,1397.3 C1785.6,1401.3 1786.0,1407.4 1786.9,1413.1 C1787.8,1418.8 1786.9,1430.7 1789.5,1431.6 C1792.2,1432.4 1797.4,1422.3 1802.7,1418.4 C1808.0,1414.4 1816.3,1411.8 1821.1,1407.8 C1826.0,1403.9 1828.6,1399.9 1831.7,1394.7 C1834.8,1389.4 1838.3,1379.3 1839.6,1376.2"/>
<path d="M2014.0,1565.9 C2012.6,1554.5 2008.7,1513.2 2005.6,1497.4 C2002.4,1481.6 1998.5,1479.0 1995.0,1471.1 C1991.5,1463.2 1985.8,1455.3 1984.5,1450.0 C1983.2,1444.7 1988.4,1443.0 1987.1,1439.5 C1985.8,1435.9 1980.5,1429.8 1976.6,1428.9 C1972.6,1428.0 1967.4,1433.8 1963.4,1434.2 C1959.5,1434.6 1955.5,1435.1 1952.9,1431.6 C1950.2,1428.0 1950.2,1418.8 1947.6,1413.1 C1945.0,1407.4 1942.3,1401.7 1937.1,1397.3 C1931.8,1392.9 1922.1,1388.1 1916.0,1386.8 C1909.8,1385.5 1898.4,1391.6 1900.2,1389.4 C1901.9,1387.2 1918.6,1378.0 1926.5,1373.6 C1934.4,1369.2 1943.2,1366.6 1947.6,1363.1 C1952.0,1359.5 1950.7,1356.9 1952.9,1352.5 C1955.1,1348.1 1956.0,1341.5 1960.8,1336.7 C1965.6,1331.9 1975.7,1326.6 1981.9,1323.5 C1988.0,1320.5 1992.3,1320.0 1997.7,1318.3 C2003.0,1316.5 2011.3,1313.9 2014.0,1313.0"/>
<path d="M1502.4,1668.7 C1506.3,1665.2 1516.9,1653.1 1526.1,1647.6 C1535.3,1642.1 1548.0,1634.9 1557.7,1635.7 C1567.4,1636.6 1575.3,1646.9 1584.0,1652.9 C1592.8,1658.8 1604.2,1666.9 1610.4,1671.3 C1616.5,1675.7 1620.0,1676.6 1620.9,1679.2 C1621.8,1681.8 1617.4,1682.3 1615.7,1687.1 C1613.9,1691.9 1610.4,1702.5 1610.4,1708.2 C1610.4,1713.9 1616.1,1716.1 1615.7,1721.4 C1615.2,1726.6 1609.5,1733.2 1607.7,1739.8 C1606.0,1746.4 1605.1,1753.0 1605.1,1760.9 C1605.1,1768.8 1609.9,1780.6 1607.7,1787.2 C1605.6,1793.8 1600.3,1796.4 1591.9,1800.4 C1583.6,1804.3 1568.7,1808.3 1557.7,1810.9 C1546.7,1813.6 1534.9,1814.4 1526.1,1816.2 C1517.3,1818.0 1509.8,1819.8 1505.0,1822.0 C1500.2,1824.2 1498.4,1828.1 1497.1,1829.4"/>
<ellipse cx="1285.8" cy="972.6" rx="5.3" ry="5.8"/>
<ellipse cx="1615.7" cy="1473.7" rx="5.3" ry="6.6"/>
<ellipse cx="1668.3" cy="1469.8" rx="7.4" ry="5.3"/>
<ellipse cx="1697.3" cy="1502.7" rx="4.0" ry="3.2"/>
<ellipse cx="1731.0" cy="1600.7" rx="11.1" ry="6.8"/>
<ellipse cx="1968.7" cy="1357.8" rx="7.9" ry="9.2"/>
<ellipse cx="1974.0" cy="1413.1" rx="7.9" ry="9.2"/>
<ellipse cx="1297.7" cy="1634.4" rx="6.6" ry="6.6"/>
<ellipse cx="1326.6" cy="1618.6" rx="7.9" ry="5.3"/>
<ellipse cx="1360.9" cy="1651.5" rx="4.0" ry="4.7"/>
<ellipse cx="1429.4" cy="1364.4" rx="6.6" ry="3.7"/>
<ellipse cx="990.2" cy="1734.5" rx="6.6" ry="6.6"/>
</g>
<g transform="translate(1136.2,459.4) rotate(-22.0)"><rect x="-48.5" y="-22.5" width="97.0" height="45.0" fill="#fff"/><text x="0" y="15.1" font-size="42.0" text-anchor="middle">1008</text></g>
<g transform="translate(1790.9,649.4) rotate(-14.0)"><rect x="-49.0" y="-22.5" width="98.0" height="45.0" fill="#fff"/><text x="0" y="15.1" font-size="42.0" text-anchor="middle">1016</text></g>
<g transform="translate(1301.9,1718.7) rotate(-5.0)"><rect x="-50.0" y="-22.5" width="100.0" height="45.0" fill="#fff"/><text x="0" y="15.1" font-size="42.0" text-anchor="middle">1024</text></g>
<g clip-path="url(#mc)">
<rect x="1342.5" y="1000.3" width="94.9" height="58.0" fill="#fff"/>
<text x="1347.5" y="1039.1" font-size="43">L<tspan font-size="26" dy="8.7">1017</tspan></text>
<rect x="1202.8" y="1060.9" width="93.6" height="56.7" fill="#fff"/>
<text x="1207.8" y="1099.7" font-size="43">L<tspan font-size="26" dy="8.7">1018</tspan></text>
<rect x="1096.1" y="1155.8" width="92.8" height="56.6" fill="#fff"/>
<text x="1101.1" y="1194.6" font-size="43">L<tspan font-size="26" dy="8.7">1019</tspan></text>
<rect x="813.0" y="1439.0" width="93.0" height="56.3" fill="#fff"/>
<text x="818.0" y="1477.8" font-size="43">L<tspan font-size="26" dy="8.7">1020</tspan></text>
<rect x="728.9" y="1709.5" width="94.0" height="57.2" fill="#fff"/>
<text x="733.9" y="1748.3" font-size="43">L<tspan font-size="26" dy="8.7">1019</tspan></text>
<rect x="940.3" y="1753.8" width="93.7" height="56.5" fill="#fff"/>
<text x="945.3" y="1792.6" font-size="43">L<tspan font-size="26" dy="8.7">1020</tspan></text>
<rect x="1142.8" y="1562.8" width="93.8" height="56.6" fill="#fff"/>
<text x="1147.8" y="1601.6" font-size="43">L<tspan font-size="26" dy="8.7">1020</tspan></text>
<rect x="1044.0" y="1630.0" width="93.0" height="56.6" fill="#fff"/>
<text x="1049.0" y="1668.8" font-size="43">L<tspan font-size="26" dy="8.7">1020</tspan></text>
<rect x="1417.8" y="1454.9" width="89.7" height="56.4" fill="#fff"/>
<text x="1422.8" y="1493.7" font-size="43">L<tspan font-size="26" dy="8.7">1021</tspan></text>
<rect x="1417.8" y="1650.4" width="93.6" height="56.0" fill="#fff"/>
<text x="1422.8" y="1689.2" font-size="43">L<tspan font-size="26" dy="8.7">1022</tspan></text>
<rect x="1399.3" y="1741.2" width="100.3" height="57.2" fill="#fff"/>
<text x="1404.3" y="1780.0" font-size="43">H<tspan font-size="26" dy="8.7">1025</tspan></text>
<rect x="1590.4" y="1140.1" width="100.7" height="56.9" fill="#fff"/>
<text x="1595.4" y="1178.9" font-size="43">H<tspan font-size="26" dy="8.7">1024</tspan></text>
<rect x="1710.0" y="1175.7" width="100.8" height="56.8" fill="#fff"/>
<text x="1715.0" y="1214.5" font-size="43">H<tspan font-size="26" dy="8.7">1024</tspan></text>
<rect x="1762.2" y="1319.8" width="99.9" height="56.9" fill="#fff"/>
<text x="1767.2" y="1358.6" font-size="43">H<tspan font-size="26" dy="8.7">1024</tspan></text>
<rect x="1525.6" y="1287.8" width="88.9" height="57.3" fill="#fff"/>
<text x="1530.6" y="1326.6" font-size="43">L<tspan font-size="26" dy="8.7">1021</tspan></text>
<rect x="1740.9" y="1454.9" width="88.8" height="56.4" fill="#fff"/>
<text x="1745.9" y="1493.7" font-size="43">L<tspan font-size="26" dy="8.7">1021</tspan></text>
<rect x="1887.8" y="1474.6" width="94.0" height="56.5" fill="#fff"/>
<text x="1892.8" y="1513.4" font-size="43">L<tspan font-size="26" dy="8.7">1023</tspan></text>
<rect x="1949.0" y="1156.0" width="96.0" height="56.8" fill="#fff"/>
<text x="1954.0" y="1194.8" font-size="43">H<tspan font-size="26" dy="8.7">1024</tspan></text>
</g>
<g clip-path="url(#mc)" fill="none" stroke="#333" stroke-width="0.9">
<line x1="729" y1="295" x2="522.6" y2="1821"/>
<line x1="1614.4" y1="295" x2="1713" y2="1821"/>
<path d="M480.0,1719.0 C523.3,1724.5 654.0,1743.3 740.0,1752.0 C826.0,1760.7 911.0,1766.7 996.0,1771.0 C1081.0,1775.3 1165.2,1777.3 1250.0,1778.0 C1334.8,1778.7 1428.3,1777.0 1505.0,1775.0 C1581.7,1773.0 1624.2,1772.5 1710.0,1766.0 C1795.8,1759.5 1968.3,1741.0 2020.0,1736.0"/>
</g>
<rect x="487.0" y="295.5" width="1526.0" height="1525.5" fill="none" stroke="#000" stroke-width="2"/>
<line x1="729" y1="259.6" x2="729" y2="295.5" stroke="#444" stroke-width="1.6"/>
<text x="729" y="223.4" font-size="50" text-anchor="middle">0°</text>
<line x1="1025" y1="259.6" x2="1025" y2="295.5" stroke="#444" stroke-width="1.6"/>
<text x="1025" y="223.4" font-size="50" text-anchor="middle">5°E</text>
<line x1="1317" y1="259.6" x2="1317" y2="295.5" stroke="#444" stroke-width="1.6"/>
<text x="1317" y="223.4" font-size="50" text-anchor="middle">10°E</text>
<line x1="1614" y1="259.6" x2="1614" y2="295.5" stroke="#444" stroke-width="1.6"/>
<text x="1614" y="223.4" font-size="50" text-anchor="middle">15°E</text>
<line x1="1910" y1="259.6" x2="1910" y2="295.5" stroke="#444" stroke-width="1.6"/>
<text x="1910" y="223.4" font-size="50" text-anchor="middle">20°E</text>
<line x1="522" y1="1821" x2="522" y2="1857.2" stroke="#444" stroke-width="1.6"/>
<text x="522" y="1929.3" font-size="50" text-anchor="middle">0°</text>
<line x1="683" y1="1821" x2="683" y2="1857.2" stroke="#444" stroke-width="1.6"/>
<text x="683" y="1929.3" font-size="50" text-anchor="middle">2°E</text>
<line x1="843" y1="1821" x2="843" y2="1857.2" stroke="#444" stroke-width="1.6"/>
<text x="843" y="1929.3" font-size="50" text-anchor="middle">4°E</text>
<line x1="1002" y1="1821" x2="1002" y2="1857.2" stroke="#444" stroke-width="1.6"/>
<text x="1002" y="1929.3" font-size="50" text-anchor="middle">6°E</text>
<line x1="1160" y1="1821" x2="1160" y2="1857.2" stroke="#444" stroke-width="1.6"/>
<text x="1160" y="1929.3" font-size="50" text-anchor="middle">8°E</text>
<line x1="1318" y1="1821" x2="1318" y2="1857.2" stroke="#444" stroke-width="1.6"/>
<text x="1318" y="1929.3" font-size="50" text-anchor="middle">10°E</text>
<line x1="1477.5" y1="1821" x2="1477.5" y2="1857.2" stroke="#444" stroke-width="1.6"/>
<text x="1477.5" y="1929.3" font-size="50" text-anchor="middle">12°E</text>
<line x1="1636" y1="1821" x2="1636" y2="1857.2" stroke="#444" stroke-width="1.6"/>
<text x="1636" y="1929.3" font-size="50" text-anchor="middle">14°E</text>
<line x1="1796" y1="1821" x2="1796" y2="1857.2" stroke="#444" stroke-width="1.6"/>
<text x="1796" y="1929.3" font-size="50" text-anchor="middle">16°E</text>
<line x1="1955" y1="1821" x2="1955" y2="1857.2" stroke="#444" stroke-width="1.6"/>
<text x="1955" y="1929.3" font-size="50" text-anchor="middle">18°E</text>
<line x1="451.3" y1="482.6" x2="487" y2="482.6" stroke="#444" stroke-width="1.6"/>
<text x="421.4" y="500.8" font-size="50" text-anchor="end">56°N</text>
<line x1="451.3" y1="709.7" x2="487" y2="709.7" stroke="#444" stroke-width="1.6"/>
<text x="421.4" y="727.9" font-size="50" text-anchor="end">54°N</text>
<line x1="451.3" y1="934.7" x2="487" y2="934.7" stroke="#444" stroke-width="1.6"/>
<text x="421.4" y="952.9" font-size="50" text-anchor="end">52°N</text>
<line x1="451.3" y1="1159" x2="487" y2="1159" stroke="#444" stroke-width="1.6"/>
<text x="421.4" y="1177.2" font-size="50" text-anchor="end">50°N</text>
<line x1="451.3" y1="1382" x2="487" y2="1382" stroke="#444" stroke-width="1.6"/>
<text x="421.4" y="1400.2" font-size="50" text-anchor="end">48°N</text>
<line x1="451.3" y1="1607" x2="487" y2="1607" stroke="#444" stroke-width="1.6"/>
<text x="421.4" y="1625.2" font-size="50" text-anchor="end">46°N</text>
<line x1="2013" y1="505.4" x2="2049" y2="505.4" stroke="#444" stroke-width="1.6"/>
<text x="2083" y="523.6" font-size="50" text-anchor="start">56°N</text>
<line x1="2013" y1="731.5" x2="2049" y2="731.5" stroke="#444" stroke-width="1.6"/>
<text x="2083" y="749.7" font-size="50" text-anchor="start">54°N</text>
<line x1="2013" y1="955.5" x2="2049" y2="955.5" stroke="#444" stroke-width="1.6"/>
<text x="2083" y="973.7" font-size="50" text-anchor="start">52°N</text>
<line x1="2013" y1="1177.6" x2="2049" y2="1177.6" stroke="#444" stroke-width="1.6"/>
<text x="2083" y="1195.8" font-size="50" text-anchor="start">50°N</text>
<line x1="2013" y1="1401.6" x2="2049" y2="1401.6" stroke="#444" stroke-width="1.6"/>
<text x="2083" y="1419.8" font-size="50" text-anchor="start">48°N</text>
<line x1="2013" y1="1626" x2="2049" y2="1626" stroke="#444" stroke-width="1.6"/>
<text x="2083" y="1644.2" font-size="50" text-anchor="start">46°N</text>
<rect x="1190.5" y="1960.2" width="822.2" height="60.1" fill="#fff" stroke="#999" stroke-width="1.5"/>
<text x="1198.9" y="2001.2" font-size="42">pressure (hPa) from 1000 to 1026 by 2 hPa</text>
<rect x="1466.7" y="2050.1" width="546" height="143" fill="#fff" stroke="#999" stroke-width="1.5"/>
<text x="1740" y="2085" font-size="35.5" text-anchor="middle">15 m/s</text>
<path d="M1702,2114.9 L1751.6,2114.9 L1751.6,2106.1 L1777,2118.8 L1751.6,2130.7 L1751.6,2122.9 L1702,2122.9 Z" fill="#000"/>
<text x="1474.7" y="2176.8" font-size="35">ground windspeed (m/s) reference</text>
<text x="1250" y="2272.6" font-size="52.6" text-anchor="middle">temperature in (degC)</text>
<rect x="433.50" y="2306.2" width="22.67" height="60.1" fill="#0000ff" stroke="#000" stroke-width="1.2"/>
<rect x="456.17" y="2306.2" width="22.67" height="60.1" fill="#0a14ff" stroke="#000" stroke-width="1.2"/>
<rect x="478.85" y="2306.2" width="22.67" height="60.1" fill="#0a23ff" stroke="#000" stroke-width="1.2"/>
<rect x="501.52" y="2306.2" width="22.67" height="60.1" fill="#0a32ff" stroke="#000" stroke-width="1.2"/>
<rect x="524.19" y="2306.2" width="22.67" height="60.1" fill="#054bff" stroke="#000" stroke-width="1.2"/>
<rect x="546.87" y="2306.2" width="22.67" height="60.1" fill="#0564fa" stroke="#000" stroke-width="1.2"/>
<rect x="569.54" y="2306.2" width="22.67" height="60.1" fill="#0080ff" stroke="#000" stroke-width="1.2"/>
<rect x="592.22" y="2306.2" width="22.67" height="60.1" fill="#0091ff" stroke="#000" stroke-width="1.2"/>
<rect x="614.89" y="2306.2" width="22.67" height="60.1" fill="#00a5ff" stroke="#000" stroke-width="1.2"/>
<rect x="637.56" y="2306.2" width="22.67" height="60.1" fill="#00beff" stroke="#000" stroke-width="1.2"/>
<rect x="660.24" y="2306.2" width="22.67" height="60.1" fill="#00d7ff" stroke="#000" stroke-width="1.2"/>
<rect x="682.91" y="2306.2" width="22.67" height="60.1" fill="#00ebff" stroke="#000" stroke-width="1.2"/>
<rect x="705.58" y="2306.2" width="22.67" height="60.1" fill="#00ffff" stroke="#000" stroke-width="1.2"/>
<rect x="728.26" y="2306.2" width="22.67" height="60.1" fill="#00f5e1" stroke="#000" stroke-width="1.2"/>
<rect x="750.93" y="2306.2" width="22.67" height="60.1" fill="#00f0d2" stroke="#000" stroke-width="1.2"/>
<rect x="773.60" y="2306.2" width="22.67" height="60.1" fill="#00e8be" stroke="#000" stroke-width="1.2"/>
<rect x="796.28" y="2306.2" width="22.67" height="60.1" fill="#00e1aa" stroke="#000" stroke-width="1.2"/>
<rect x="818.95" y="2306.2" width="22.67" height="60.1" fill="#00dc96" stroke="#000" stroke-width="1.2"/>
<rect x="841.62" y="2306.2" width="22.67" height="60.1" fill="#00d782" stroke="#000" stroke-width="1.2"/>
<rect x="864.30" y="2306.2" width="22.67" height="60.1" fill="#05cd64" stroke="#000" stroke-width="1.2"/>
<rect x="886.97" y="2306.2" width="22.67" height="60.1" fill="#05c85a" stroke="#000" stroke-width="1.2"/>
<rect x="909.65" y="2306.2" width="22.67" height="60.1" fill="#05be46" stroke="#000" stroke-width="1.2"/>
<rect x="932.32" y="2306.2" width="22.67" height="60.1" fill="#0ab432" stroke="#000" stroke-width="1.2"/>
<rect x="954.99" y="2306.2" width="22.67" height="60.1" fill="#0fb91e" stroke="#000" stroke-width="1.2"/>
<rect x="977.67" y="2306.2" width="22.67" height="60.1" fill="#0ab41e" stroke="#000" stroke-width="1.2"/>
<rect x="1000.34" y="2306.2" width="22.67" height="60.1" fill="#14b919" stroke="#000" stroke-width="1.2"/>
<rect x="1023.01" y="2306.2" width="22.67" height="60.1" fill="#32be14" stroke="#000" stroke-width="1.2"/>
<rect x="1045.69" y="2306.2" width="22.67" height="60.1" fill="#46c80f" stroke="#000" stroke-width="1.2"/>
<rect x="1068.36" y="2306.2" width="22.67" height="60.1" fill="#5acd0f" stroke="#000" stroke-width="1.2"/>
<rect x="1091.03" y="2306.2" width="22.67" height="60.1" fill="#6ed20a" stroke="#000" stroke-width="1.2"/>
<rect x="1113.71" y="2306.2" width="22.67" height="60.1" fill="#8cdc0a" stroke="#000" stroke-width="1.2"/>
<rect x="1136.38" y="2306.2" width="22.67" height="60.1" fill="#a0e105" stroke="#000" stroke-width="1.2"/>
<rect x="1159.06" y="2306.2" width="22.67" height="60.1" fill="#b4e605" stroke="#000" stroke-width="1.2"/>
<rect x="1181.73" y="2306.2" width="22.67" height="60.1" fill="#c8eb05" stroke="#000" stroke-width="1.2"/>
<rect x="1204.40" y="2306.2" width="22.67" height="60.1" fill="#dcf000" stroke="#000" stroke-width="1.2"/>
<rect x="1227.08" y="2306.2" width="22.67" height="60.1" fill="#ebf800" stroke="#000" stroke-width="1.2"/>
<rect x="1249.75" y="2306.2" width="22.67" height="60.1" fill="#ffff00" stroke="#000" stroke-width="1.2"/>
<rect x="1272.42" y="2306.2" width="22.67" height="60.1" fill="#fff000" stroke="#000" stroke-width="1.2"/>
<rect x="1295.10" y="2306.2" width="22.67" height="60.1" fill="#ffe600" stroke="#000" stroke-width="1.2"/>
<rect x="1317.77" y="2306.2" width="22.67" height="60.1" fill="#ffde00" stroke="#000" stroke-width="1.2"/>
<rect x="1340.44" y="2306.2" width="22.67" height="60.1" fill="#ffd700" stroke="#000" stroke-width="1.2"/>
<rect x="1363.12" y="2306.2" width="22.67" height="60.1" fill="#ffd000" stroke="#000" stroke-width="1.2"/>
<rect x="1385.79" y="2306.2" width="22.67" height="60.1" fill="#ffc800" stroke="#000" stroke-width="1.2"/>
<rect x="1408.47" y="2306.2" width="22.67" height="60.1" fill="#ffc000" stroke="#000" stroke-width="1.2"/>
<rect x="1431.14" y="2306.2" width="22.67" height="60.1" fill="#ffb900" stroke="#000" stroke-width="1.2"/>
<rect x="1453.81" y="2306.2" width="22.67" height="60.1" fill="#ffaf00" stroke="#000" stroke-width="1.2"/>
<rect x="1476.49" y="2306.2" width="22.67" height="60.1" fill="#ffa500" stroke="#000" stroke-width="1.2"/>
<rect x="1499.16" y="2306.2" width="22.67" height="60.1" fill="#ffa000" stroke="#000" stroke-width="1.2"/>
<rect x="1521.83" y="2306.2" width="22.67" height="60.1" fill="#ff9600" stroke="#000" stroke-width="1.2"/>
<rect x="1544.51" y="2306.2" width="22.67" height="60.1" fill="#ff8c00" stroke="#000" stroke-width="1.2"/>
<rect x="1567.18" y="2306.2" width="22.67" height="60.1" fill="#ff8200" stroke="#000" stroke-width="1.2"/>
<rect x="1589.85" y="2306.2" width="22.67" height="60.1" fill="#ff7300" stroke="#000" stroke-width="1.2"/>
<rect x="1612.53" y="2306.2" width="22.67" height="60.1" fill="#ff6400" stroke="#000" stroke-width="1.2"/>
<rect x="1635.20" y="2306.2" width="22.67" height="60.1" fill="#ff5a00" stroke="#000" stroke-width="1.2"/>
<rect x="1657.88" y="2306.2" width="22.67" height="60.1" fill="#ff4b00" stroke="#000" stroke-width="1.2"/>
<rect x="1680.55" y="2306.2" width="22.67" height="60.1" fill="#ff3c00" stroke="#000" stroke-width="1.2"/>
<rect x="1703.22" y="2306.2" width="22.67" height="60.1" fill="#ff2d00" stroke="#000" stroke-width="1.2"/>
<rect x="1725.90" y="2306.2" width="22.67" height="60.1" fill="#ff1e00" stroke="#000" stroke-width="1.2"/>
<rect x="1748.57" y="2306.2" width="22.67" height="60.1" fill="#ff0f00" stroke="#000" stroke-width="1.2"/>
<rect x="1771.24" y="2306.2" width="22.67" height="60.1" fill="#ff0000" stroke="#000" stroke-width="1.2"/>
<rect x="1793.92" y="2306.2" width="22.67" height="60.1" fill="#f00014" stroke="#000" stroke-width="1.2"/>
<rect x="1816.59" y="2306.2" width="22.67" height="60.1" fill="#e1001e" stroke="#000" stroke-width="1.2"/>
<rect x="1839.26" y="2306.2" width="22.67" height="60.1" fill="#d20028" stroke="#000" stroke-width="1.2"/>
<rect x="1861.94" y="2306.2" width="22.67" height="60.1" fill="#c80032" stroke="#000" stroke-width="1.2"/>
<rect x="1884.61" y="2306.2" width="22.67" height="60.1" fill="#b9003c" stroke="#000" stroke-width="1.2"/>
<rect x="1907.28" y="2306.2" width="22.67" height="60.1" fill="#aa0046" stroke="#000" stroke-width="1.2"/>
<rect x="1929.96" y="2306.2" width="22.67" height="60.1" fill="#960050" stroke="#000" stroke-width="1.2"/>
<rect x="1952.63" y="2306.2" width="22.67" height="60.1" fill="#8c005a" stroke="#000" stroke-width="1.2"/>
<rect x="1975.31" y="2306.2" width="22.67" height="60.1" fill="#7d0069" stroke="#000" stroke-width="1.2"/>
<rect x="1997.98" y="2306.2" width="22.67" height="60.1" fill="#730073" stroke="#000" stroke-width="1.2"/>
<rect x="2020.65" y="2306.2" width="22.67" height="60.1" fill="#640082" stroke="#000" stroke-width="1.2"/>
<rect x="2043.33" y="2306.2" width="22.67" height="60.1" fill="#550091" stroke="#000" stroke-width="1.2"/>
<text x="478.8" y="2421.7" font-size="50" text-anchor="middle">-24</text>
<text x="569.5" y="2421.7" font-size="50" text-anchor="middle">-20</text>
<text x="660.2" y="2421.7" font-size="50" text-anchor="middle">-16</text>
<text x="750.9" y="2421.7" font-size="50" text-anchor="middle">-12</text>
<text x="841.6" y="2421.7" font-size="50" text-anchor="middle">-8</text>
<text x="932.3" y="2421.7" font-size="50" text-anchor="middle">-4</text>
<text x="1023.0" y="2421.7" font-size="50" text-anchor="middle">0</text>
<text x="1113.7" y="2421.7" font-size="50" text-anchor="middle">4</text>
<text x="1204.4" y="2421.7" font-size="50" text-anchor="middle">8</text>
<text x="1295.1" y="2421.7" font-size="50" text-anchor="middle">12</text>
<text x="1385.8" y="2421.7" font-size="50" text-anchor="middle">16</text>
<text x="1476.5" y="2421.7" font-size="50" text-anchor="middle">20</text>
<text x="1567.2" y="2421.7" font-size="50" text-anchor="middle">24</text>
<text x="1657.9" y="2421.7" font-size="50" text-anchor="middle">28</text>
<text x="1748.6" y="2421.7" font-size="50" text-anchor="middle">32</text>
<text x="1839.3" y="2421.7" font-size="50" text-anchor="middle">36</text>
<text x="1930.0" y="2421.7" font-size="50" text-anchor="middle">40</text>
<text x="2020.7" y="2421.7" font-size="50" text-anchor="middle">44</text>
</svg></body></html>
